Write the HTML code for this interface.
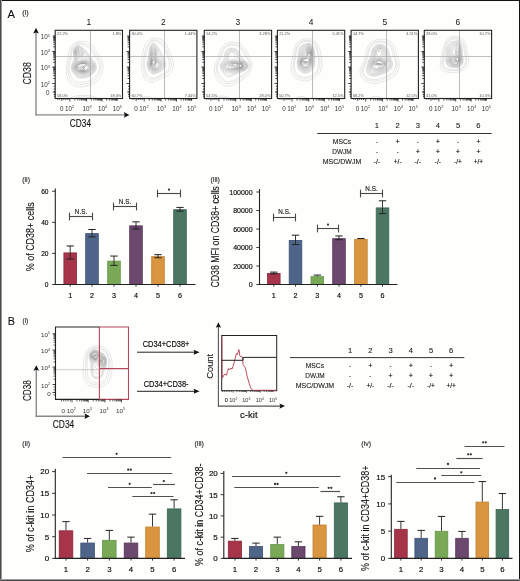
<!DOCTYPE html>
<html><head><meta charset="utf-8"><title>Figure</title>
<style>html,body{margin:0;padding:0;background:#fff;width:520px;height:581px;overflow:hidden}svg text{font-family:"Liberation Sans",sans-serif}svg{will-change:transform}</style>
</head><body>
<svg width="520" height="581" viewBox="0 0 520 581" style="display:block">
<rect width="520" height="581" fill="#fefefd"/>
<g font-family='"Liberation Sans", sans-serif'>
<text x="7.6" y="17.5" font-size="11.2" fill="#111" stroke="#111" stroke-width="0.1">A</text>
<text x="22.2" y="14.9" font-size="7.4" fill="#333" stroke="#333" stroke-width="0.16">(i)</text>
<text x="7.8" y="325.2" font-size="10.8" fill="#111" stroke="#111" stroke-width="0.1">B</text>
<text x="22.5" y="322.6" font-size="6.4" fill="#333" stroke="#333" stroke-width="0.16">(i)</text>
<clipPath id="c0"><rect x="55.2" y="30.3" width="67.3" height="68.2"/></clipPath>
<path d="M80.5 87.1 L79.7 87.1 L79.0 87.1 L78.5 87.0 L77.7 86.9 L77.1 86.8 L76.5 86.7 L75.9 86.5 L75.2 86.3 L74.7 86.2 L74.2 86.0 L73.7 85.8 L73.2 85.5 L72.7 85.2 L72.2 84.9 L71.7 84.5 L71.4 84.3 L71.0 83.9 L70.6 83.5 L70.2 83.2 L69.8 82.8 L69.5 82.3 L69.2 82.0 L68.9 81.5 L68.6 81.0 L68.3 80.5 L68.1 80.0 L67.8 79.5 L67.6 79.0 L67.5 78.5 L67.2 77.8 L67.1 77.3 L66.9 76.8 L66.8 76.0 L66.7 75.5 L66.5 74.8 L66.4 74.3 L66.3 73.5 L66.3 72.8 L66.2 72.0 L66.2 71.3 L66.2 70.5 L66.2 70.0 L66.2 69.3 L66.2 68.5 L66.2 67.8 L66.2 67.3 L66.3 66.5 L66.4 65.8 L66.5 65.3 L66.6 64.5 L66.7 64.0 L66.8 63.3 L67.0 62.8 L67.1 62.0 L67.2 61.5 L67.4 60.8 L67.5 60.3 L67.6 59.5 L67.7 59.0 L67.9 58.3 L68.0 57.8 L68.1 57.0 L68.2 56.3 L68.3 55.8 L68.3 55.0 L68.5 54.4 L68.5 53.8 L68.6 53.0 L68.7 52.5 L68.8 51.8 L69.0 51.3 L69.2 50.5 L69.3 50.0 L69.5 49.5 L69.7 48.9 L70.0 48.3 L70.2 47.8 L70.4 47.3 L70.7 46.8 L71.0 46.4 L71.2 46.0 L71.5 45.5 L71.9 45.0 L72.2 44.7 L72.6 44.3 L73.0 43.9 L73.4 43.5 L73.7 43.3 L74.2 43.0 L74.7 42.7 L75.2 42.4 L75.7 42.2 L76.2 42.0 L76.9 41.8 L77.5 41.7 L78.0 41.5 L78.7 41.4 L79.5 41.3 L80.2 41.3 L81.0 41.3 L81.7 41.3 L82.5 41.4 L83.2 41.4 L84.0 41.5 L84.5 41.6 L85.2 41.7 L85.9 41.8 L86.5 41.9 L87.0 42.1 L87.7 42.3 L88.2 42.5 L88.7 42.7 L89.2 42.9 L89.7 43.2 L90.2 43.5 L90.6 43.8 L91.0 44.0 L91.5 44.4 L91.9 44.8 L92.2 45.1 L92.6 45.5 L93.0 46.0 L93.2 46.4 L93.5 46.8 L93.9 47.3 L94.2 47.8 L94.5 48.3 L94.7 48.7 L95.0 49.1 L95.2 49.6 L95.5 50.0 L95.7 50.5 L96.0 51.0 L96.2 51.5 L96.5 52.0 L96.8 52.5 L97.1 53.0 L97.4 53.5 L97.7 54.0 L98.0 54.4 L98.2 54.8 L98.6 55.3 L98.9 55.8 L99.2 56.2 L99.5 56.5 L99.8 57.0 L100.2 57.5 L100.5 58.0 L100.7 58.5 L101.0 58.9 L101.2 59.4 L101.5 59.9 L101.7 60.5 L101.9 61.0 L102.1 61.5 L102.2 62.0 L102.4 62.8 L102.6 63.3 L102.7 64.0 L102.8 64.5 L102.9 65.3 L102.9 66.0 L102.9 66.8 L102.9 67.5 L102.9 68.3 L102.8 69.0 L102.7 69.7 L102.6 70.3 L102.5 70.9 L102.3 71.5 L102.2 72.0 L102.0 72.7 L101.7 73.3 L101.5 73.8 L101.3 74.3 L101.1 74.8 L100.9 75.3 L100.6 75.8 L100.4 76.3 L100.1 76.8 L99.8 77.3 L99.5 77.8 L99.2 78.2 L99.0 78.6 L98.6 79.0 L98.2 79.5 L98.0 79.9 L97.6 80.3 L97.2 80.7 L96.9 81.0 L96.5 81.5 L96.1 81.8 L95.7 82.2 L95.3 82.5 L95.0 82.8 L94.5 83.2 L94.0 83.5 L93.5 83.8 L93.0 84.0 L92.5 84.3 L92.0 84.5 L91.5 84.8 L91.0 85.0 L90.5 85.1 L89.9 85.3 L89.2 85.5 L88.7 85.7 L88.1 85.8 L87.5 86.0 L87.0 86.1 L86.2 86.2 L85.7 86.3 L85.0 86.5 L84.5 86.6 L83.7 86.7 L83.0 86.8 L82.5 86.9 L81.7 86.9 L81.0 87.0 L80.5 87.1Z" fill="none" stroke="#c4c4c4" stroke-width="0.45" clip-path="url(#c0)"/>
<path d="M80.7 84.6 L80.0 84.6 L79.2 84.6 L78.7 84.5 L78.0 84.4 L77.3 84.3 L76.7 84.2 L76.2 84.0 L75.5 83.8 L75.0 83.6 L74.5 83.3 L74.0 83.0 L73.6 82.8 L73.2 82.5 L72.7 82.1 L72.4 81.8 L72.0 81.4 L71.6 81.0 L71.2 80.5 L71.0 80.1 L70.7 79.7 L70.4 79.3 L70.2 78.8 L70.0 78.3 L69.7 77.7 L69.5 77.0 L69.3 76.5 L69.1 76.0 L69.0 75.5 L68.8 74.8 L68.6 74.3 L68.5 73.6 L68.3 73.0 L68.2 72.3 L68.2 71.8 L68.1 71.0 L68.0 70.3 L68.0 69.5 L67.9 69.0 L67.9 68.3 L67.9 67.5 L68.0 67.0 L68.1 66.3 L68.2 65.5 L68.3 65.0 L68.4 64.3 L68.5 63.8 L68.7 63.1 L68.8 62.5 L69.0 62.0 L69.2 61.3 L69.3 60.8 L69.5 60.3 L69.6 59.5 L69.7 59.0 L69.9 58.3 L70.0 57.8 L70.1 57.0 L70.2 56.3 L70.2 55.8 L70.3 55.0 L70.4 54.3 L70.5 53.8 L70.5 53.0 L70.7 52.3 L70.8 51.8 L70.9 51.0 L71.0 50.5 L71.2 50.0 L71.4 49.3 L71.6 48.8 L71.8 48.3 L72.1 47.8 L72.3 47.3 L72.6 46.8 L73.0 46.3 L73.2 46.0 L73.6 45.5 L74.0 45.2 L74.4 44.8 L74.7 44.5 L75.2 44.2 L75.7 43.9 L76.2 43.7 L76.7 43.5 L77.4 43.3 L78.0 43.2 L78.7 43.1 L79.2 43.0 L80.0 43.0 L80.5 43.1 L81.2 43.1 L82.0 43.2 L82.5 43.3 L83.2 43.5 L83.7 43.6 L84.5 43.8 L85.0 43.9 L85.6 44.0 L86.2 44.2 L86.7 44.4 L87.2 44.6 L87.8 44.8 L88.3 45.0 L88.7 45.3 L89.2 45.6 L89.7 45.9 L90.2 46.3 L90.5 46.6 L90.9 47.0 L91.2 47.4 L91.5 47.8 L91.9 48.3 L92.2 48.7 L92.5 49.1 L92.7 49.5 L93.0 50.0 L93.3 50.5 L93.6 51.0 L93.9 51.5 L94.2 52.0 L94.4 52.5 L94.7 53.0 L95.0 53.5 L95.2 53.9 L95.5 54.3 L95.8 54.8 L96.1 55.3 L96.4 55.8 L96.7 56.2 L97.0 56.5 L97.3 57.0 L97.7 57.5 L98.0 58.0 L98.2 58.3 L98.5 58.8 L98.8 59.3 L99.1 59.8 L99.3 60.3 L99.6 60.8 L99.8 61.3 L100.0 61.8 L100.2 62.4 L100.4 63.0 L100.5 63.5 L100.7 64.3 L100.7 64.8 L100.8 65.5 L100.9 66.3 L100.9 67.0 L100.8 67.8 L100.8 68.5 L100.7 69.1 L100.6 69.8 L100.4 70.3 L100.2 71.0 L100.1 71.5 L99.9 72.0 L99.7 72.5 L99.5 73.1 L99.2 73.7 L99.0 74.2 L98.7 74.7 L98.5 75.1 L98.2 75.5 L97.9 76.0 L97.6 76.5 L97.2 77.0 L97.0 77.4 L96.6 77.8 L96.2 78.3 L96.0 78.6 L95.6 79.0 L95.2 79.4 L94.8 79.8 L94.5 80.1 L94.0 80.5 L93.7 80.8 L93.2 81.1 L92.7 81.5 L92.2 81.8 L91.7 82.0 L91.2 82.3 L90.7 82.5 L90.2 82.7 L89.7 82.9 L89.1 83.0 L88.5 83.3 L88.0 83.4 L87.3 83.5 L86.7 83.7 L86.1 83.8 L85.5 83.9 L84.8 84.0 L84.2 84.2 L83.5 84.3 L83.0 84.4 L82.2 84.4 L81.5 84.5 L80.9 84.5Z" fill="none" stroke="#c4c4c4" stroke-width="0.45" clip-path="url(#c0)"/>
<path d="M82.2 82.3 L81.5 82.4 L80.7 82.4 L80.0 82.4 L79.2 82.4 L78.5 82.3 L78.0 82.2 L77.3 82.0 L76.7 81.9 L76.2 81.7 L75.7 81.5 L75.2 81.2 L74.7 80.9 L74.2 80.5 L73.9 80.3 L73.5 79.8 L73.2 79.5 L72.8 79.0 L72.5 78.6 L72.2 78.2 L72.0 77.7 L71.7 77.3 L71.5 76.8 L71.2 76.3 L71.0 75.7 L70.7 75.2 L70.5 74.6 L70.2 74.1 L70.0 73.5 L69.8 73.0 L69.6 72.5 L69.4 72.0 L69.3 71.3 L69.2 70.8 L69.1 70.0 L69.0 69.3 L68.9 68.8 L68.9 68.0 L69.0 67.5 L69.0 66.8 L69.1 66.0 L69.2 65.5 L69.3 64.8 L69.5 64.3 L69.7 63.5 L69.8 63.0 L70.0 62.5 L70.2 61.8 L70.4 61.3 L70.5 60.8 L70.7 60.2 L70.9 59.5 L71.0 59.0 L71.1 58.3 L71.2 57.8 L71.3 57.0 L71.4 56.3 L71.4 55.5 L71.4 54.8 L71.5 54.3 L71.5 53.5 L71.6 52.8 L71.7 52.0 L71.8 51.5 L71.9 50.8 L72.0 50.3 L72.2 49.8 L72.5 49.1 L72.7 48.5 L72.9 48.0 L73.1 47.5 L73.4 47.0 L73.7 46.7 L74.0 46.3 L74.4 45.8 L74.7 45.5 L75.2 45.1 L75.7 44.8 L76.2 44.5 L76.7 44.3 L77.2 44.2 L77.8 44.0 L78.5 44.0 L79.2 43.9 L80.0 44.0 L80.5 44.0 L81.2 44.2 L81.7 44.3 L82.4 44.5 L83.0 44.8 L83.5 45.0 L84.0 45.3 L84.5 45.5 L85.0 45.7 L85.5 45.9 L86.0 46.1 L86.5 46.3 L87.1 46.5 L87.5 46.8 L88.0 47.0 L88.5 47.4 L89.0 47.8 L89.3 48.0 L89.7 48.5 L90.0 48.8 L90.4 49.3 L90.7 49.6 L91.0 50.0 L91.4 50.5 L91.7 51.0 L92.0 51.4 L92.2 51.8 L92.5 52.3 L92.8 52.8 L93.1 53.3 L93.4 53.8 L93.7 54.3 L94.0 54.7 L94.2 55.1 L94.5 55.5 L94.8 56.0 L95.2 56.5 L95.5 56.9 L95.7 57.3 L96.1 57.8 L96.4 58.3 L96.7 58.7 L97.0 59.1 L97.2 59.5 L97.5 60.0 L97.8 60.5 L98.1 61.0 L98.3 61.5 L98.5 62.0 L98.7 62.5 L99.0 63.2 L99.1 63.8 L99.3 64.3 L99.4 65.0 L99.5 65.5 L99.5 66.3 L99.5 67.0 L99.5 67.8 L99.4 68.3 L99.3 69.0 L99.2 69.5 L99.0 70.3 L98.8 70.8 L98.6 71.3 L98.4 71.8 L98.1 72.3 L97.9 72.8 L97.6 73.3 L97.3 73.8 L97.0 74.3 L96.7 74.7 L96.4 75.0 L96.1 75.5 L95.7 76.0 L95.5 76.3 L95.0 76.8 L94.7 77.2 L94.3 77.5 L94.0 77.9 L93.6 78.3 L93.2 78.6 L92.7 79.0 L92.3 79.3 L92.0 79.6 L91.5 79.9 L91.0 80.1 L90.5 80.4 L90.0 80.6 L89.5 80.8 L88.7 81.0 L88.2 81.2 L87.7 81.3 L87.0 81.5 L86.5 81.6 L85.7 81.8 L85.2 81.9 L84.5 82.0 L84.0 82.1 L83.2 82.2 L82.5 82.3Z" fill="none" stroke="#c4c4c4" stroke-width="0.45" clip-path="url(#c0)"/>
<path d="M82.2 78.1 L81.5 78.1 L80.7 78.1 L80.0 78.1 L79.5 78.0 L78.7 77.9 L78.2 77.8 L77.5 77.5 L77.1 77.3 L76.7 77.0 L76.2 76.6 L75.9 76.3 L75.5 75.8 L75.2 75.5 L74.8 75.0 L74.5 74.6 L74.2 74.3 L73.9 73.8 L73.5 73.3 L73.2 72.9 L73.0 72.5 L72.7 72.0 L72.4 71.5 L72.2 71.0 L71.9 70.5 L71.7 69.9 L71.5 69.3 L71.4 68.8 L71.3 68.0 L71.3 67.3 L71.3 66.5 L71.5 65.8 L71.6 65.3 L71.7 64.8 L72.0 64.2 L72.2 63.7 L72.5 63.1 L72.7 62.6 L73.0 62.1 L73.2 61.6 L73.5 61.1 L73.6 60.5 L73.8 60.0 L73.9 59.3 L74.0 58.8 L74.0 58.3 L73.9 57.5 L73.8 56.8 L73.7 56.3 L73.6 55.5 L73.5 54.8 L73.4 54.3 L73.4 53.5 L73.3 52.8 L73.4 52.0 L73.4 51.3 L73.5 50.8 L73.6 50.0 L73.8 49.5 L74.0 49.0 L74.2 48.4 L74.5 47.9 L74.7 47.5 L75.1 47.0 L75.5 46.6 L75.8 46.3 L76.2 46.0 L76.7 45.8 L77.5 45.6 L78.0 45.5 L78.5 45.6 L79.2 45.8 L79.7 45.9 L80.2 46.2 L80.7 46.4 L81.2 46.8 L81.6 47.0 L82.0 47.3 L82.5 47.8 L82.8 48.0 L83.2 48.4 L83.6 48.8 L84.0 49.1 L84.5 49.5 L84.8 49.8 L85.2 50.1 L85.7 50.5 L86.0 50.8 L86.4 51.3 L86.7 51.6 L87.1 52.0 L87.4 52.5 L87.7 52.9 L88.0 53.3 L88.4 53.8 L88.7 54.2 L89.0 54.6 L89.3 55.0 L89.6 55.5 L90.0 56.0 L90.2 56.3 L90.5 56.8 L90.9 57.3 L91.2 57.6 L91.6 58.0 L92.0 58.5 L92.2 58.8 L92.6 59.3 L93.0 59.7 L93.3 60.0 L93.7 60.5 L94.0 60.9 L94.3 61.3 L94.6 61.8 L95.0 62.3 L95.2 62.7 L95.5 63.2 L95.7 63.7 L95.9 64.3 L96.1 64.8 L96.2 65.3 L96.3 66.0 L96.4 66.8 L96.3 67.5 L96.2 68.3 L96.1 68.8 L96.0 69.3 L95.7 70.0 L95.5 70.5 L95.2 71.0 L95.0 71.4 L94.7 71.8 L94.3 72.3 L94.0 72.8 L93.7 73.1 L93.3 73.5 L93.0 73.9 L92.5 74.3 L92.2 74.6 L91.7 75.0 L91.3 75.3 L91.0 75.6 L90.5 75.9 L90.0 76.2 L89.5 76.5 L89.0 76.7 L88.5 76.9 L88.0 77.1 L87.2 77.3 L86.7 77.4 L86.0 77.5 L85.5 77.7 L84.7 77.8 L84.2 77.8 L83.5 77.9 L82.7 78.0 L82.2 78.1Z" fill="none" stroke="#c3c3c3" stroke-width="0.45" clip-path="url(#c0)"/>
<path d="M83.5 77.3 L82.7 77.4 L82.0 77.4 L81.2 77.5 L80.5 77.4 L79.7 77.4 L79.0 77.3 L78.5 77.2 L78.0 77.0 L77.5 76.8 L77.0 76.4 L76.5 76.0 L76.2 75.7 L75.8 75.3 L75.5 74.9 L75.1 74.5 L74.7 74.0 L74.5 73.7 L74.1 73.3 L73.7 72.8 L73.5 72.4 L73.2 72.0 L72.9 71.5 L72.7 71.0 L72.4 70.5 L72.2 70.0 L72.0 69.3 L71.8 68.8 L71.7 68.0 L71.7 67.3 L71.8 66.5 L71.9 65.8 L72.0 65.3 L72.2 64.8 L72.5 64.2 L72.7 63.6 L73.0 63.1 L73.2 62.6 L73.5 62.2 L73.7 61.7 L74.0 61.1 L74.2 60.5 L74.3 60.0 L74.4 59.3 L74.4 58.5 L74.3 57.8 L74.2 57.0 L74.1 56.5 L74.0 55.8 L73.9 55.3 L73.8 54.5 L73.7 54.0 L73.6 53.3 L73.6 52.5 L73.6 51.8 L73.7 51.2 L73.8 50.5 L74.0 49.9 L74.1 49.3 L74.3 48.8 L74.6 48.3 L74.9 47.8 L75.2 47.3 L75.5 47.0 L76.0 46.6 L76.4 46.3 L77.0 46.1 L77.5 45.9 L78.2 45.9 L78.8 46.0 L79.5 46.3 L80.0 46.5 L80.5 46.8 L80.9 47.0 L81.2 47.3 L81.7 47.7 L82.1 48.0 L82.5 48.3 L82.9 48.8 L83.2 49.1 L83.6 49.5 L84.0 49.9 L84.4 50.3 L84.7 50.6 L85.2 51.0 L85.5 51.3 L85.9 51.8 L86.2 52.2 L86.5 52.5 L86.9 53.0 L87.2 53.5 L87.5 53.8 L87.8 54.3 L88.2 54.8 L88.5 55.2 L88.7 55.5 L89.1 56.0 L89.5 56.5 L89.7 56.9 L90.1 57.3 L90.5 57.7 L90.7 58.0 L91.2 58.5 L91.5 58.9 L91.8 59.3 L92.2 59.7 L92.5 60.0 L93.0 60.5 L93.2 60.8 L93.6 61.3 L94.0 61.7 L94.2 62.1 L94.5 62.5 L94.8 63.0 L95.1 63.5 L95.3 64.0 L95.5 64.5 L95.7 65.3 L95.8 65.8 L95.8 66.5 L95.8 67.3 L95.8 68.0 L95.7 68.5 L95.5 69.2 L95.2 69.8 L95.0 70.3 L94.7 70.8 L94.5 71.3 L94.2 71.6 L93.9 72.0 L93.5 72.5 L93.2 72.9 L92.8 73.3 L92.5 73.6 L92.0 74.0 L91.7 74.3 L91.2 74.7 L90.7 75.0 L90.3 75.3 L89.9 75.5 L89.5 75.8 L89.0 76.1 L88.4 76.3 L87.7 76.5 L87.2 76.7 L86.6 76.8 L86.0 76.9 L85.4 77.0 L84.7 77.2 L84.0 77.3 L83.5 77.3Z" fill="none" stroke="#c1c1c1" stroke-width="0.45" clip-path="url(#c0)"/>
<path d="M84.2 76.6 L83.5 76.6 L82.7 76.7 L82.0 76.7 L81.2 76.7 L80.5 76.7 L79.7 76.5 L79.2 76.4 L78.6 76.3 L78.0 76.1 L77.5 75.9 L77.0 75.5 L76.7 75.3 L76.2 74.8 L76.0 74.5 L75.5 74.0 L75.2 73.7 L74.8 73.3 L74.5 72.8 L74.2 72.5 L73.9 72.0 L73.5 71.5 L73.3 71.0 L73.0 70.5 L72.8 70.0 L72.6 69.5 L72.4 69.0 L72.3 68.3 L72.2 67.5 L72.2 66.8 L72.3 66.0 L72.5 65.5 L72.7 64.8 L72.9 64.3 L73.2 63.8 L73.4 63.3 L73.7 62.8 L74.0 62.3 L74.2 61.8 L74.5 61.3 L74.7 60.8 L74.8 60.3 L75.0 59.7 L75.0 59.0 L75.0 58.5 L74.8 57.8 L74.7 57.2 L74.5 56.5 L74.4 56.0 L74.2 55.3 L74.1 54.8 L74.0 54.0 L74.0 53.3 L73.9 52.8 L73.9 52.0 L74.0 51.5 L74.1 50.8 L74.2 50.2 L74.4 49.5 L74.6 49.0 L74.8 48.5 L75.1 48.0 L75.4 47.5 L75.7 47.3 L76.2 46.9 L76.7 46.6 L77.2 46.4 L78.0 46.3 L78.7 46.5 L79.2 46.7 L79.7 46.9 L80.2 47.2 L80.7 47.5 L81.1 47.8 L81.5 48.1 L81.9 48.5 L82.2 48.8 L82.7 49.3 L83.0 49.6 L83.3 50.0 L83.7 50.5 L84.0 50.8 L84.5 51.3 L84.7 51.6 L85.1 52.0 L85.5 52.5 L85.7 52.9 L86.0 53.3 L86.3 53.8 L86.7 54.3 L87.0 54.6 L87.3 55.0 L87.6 55.5 L88.0 56.0 L88.2 56.3 L88.6 56.8 L89.0 57.2 L89.3 57.5 L89.7 58.0 L90.0 58.3 L90.5 58.8 L90.7 59.1 L91.2 59.5 L91.5 59.8 L91.9 60.3 L92.2 60.6 L92.6 61.0 L93.0 61.4 L93.3 61.8 L93.6 62.3 L94.0 62.8 L94.2 63.2 L94.5 63.6 L94.7 64.1 L94.9 64.8 L95.1 65.3 L95.2 65.9 L95.3 66.5 L95.3 67.3 L95.2 67.9 L95.1 68.5 L94.9 69.0 L94.7 69.6 L94.5 70.2 L94.2 70.6 L93.9 71.0 L93.6 71.5 L93.2 72.0 L93.0 72.3 L92.5 72.8 L92.2 73.1 L91.7 73.5 L91.4 73.8 L91.0 74.1 L90.5 74.5 L90.0 74.8 L89.6 75.0 L89.1 75.3 L88.6 75.5 L88.0 75.8 L87.5 75.9 L87.0 76.1 L86.2 76.2 L85.7 76.3 L85.0 76.5 L84.3 76.5Z" fill="none" stroke="#bfbfbf" stroke-width="0.45" clip-path="url(#c0)"/>
<path d="M86.0 75.6 L85.2 75.7 L84.5 75.7 L83.7 75.7 L83.0 75.7 L82.2 75.7 L81.5 75.7 L80.7 75.6 L80.2 75.5 L79.5 75.4 L79.0 75.2 L78.2 75.1 L77.7 74.9 L77.2 74.8 L76.7 74.5 L76.3 74.0 L76.0 73.7 L75.6 73.3 L75.2 72.9 L74.9 72.5 L74.5 72.0 L74.2 71.6 L74.0 71.3 L73.7 70.8 L73.4 70.3 L73.2 69.8 L73.0 69.2 L72.8 68.5 L72.7 67.8 L72.7 67.3 L72.7 66.8 L72.8 66.0 L73.0 65.5 L73.2 64.9 L73.4 64.3 L73.7 63.8 L74.0 63.3 L74.2 62.9 L74.5 62.4 L74.7 62.0 L75.0 61.5 L75.2 61.0 L75.4 60.3 L75.5 59.8 L75.5 59.0 L75.5 58.3 L75.3 57.8 L75.2 57.3 L75.0 56.5 L74.8 56.0 L74.7 55.5 L74.5 54.8 L74.4 54.3 L74.3 53.5 L74.2 52.8 L74.2 52.0 L74.3 51.3 L74.4 50.5 L74.5 50.0 L74.7 49.5 L75.0 48.9 L75.2 48.5 L75.5 48.0 L75.9 47.5 L76.2 47.3 L76.7 47.0 L77.3 46.8 L78.0 46.8 L78.5 46.9 L79.0 47.1 L79.5 47.4 L80.0 47.7 L80.5 48.0 L80.8 48.3 L81.2 48.6 L81.7 49.0 L82.0 49.3 L82.4 49.8 L82.7 50.1 L83.0 50.5 L83.4 51.0 L83.7 51.4 L84.0 51.8 L84.3 52.3 L84.5 53.0 L84.6 53.5 L84.8 54.0 L85.0 54.5 L85.4 55.0 L85.7 55.4 L86.2 55.8 L86.6 56.0 L87.1 56.3 L87.5 56.7 L87.8 57.0 L88.2 57.5 L88.5 57.8 L89.0 58.3 L89.2 58.5 L89.7 59.0 L90.0 59.3 L90.5 59.7 L90.8 60.0 L91.2 60.4 L91.6 60.8 L92.0 61.2 L92.3 61.5 L92.7 62.0 L93.0 62.3 L93.3 62.8 L93.6 63.3 L93.9 63.8 L94.2 64.3 L94.4 64.8 L94.5 65.3 L94.7 66.0 L94.7 66.5 L94.7 67.3 L94.7 67.8 L94.5 68.5 L94.4 69.0 L94.2 69.5 L93.9 70.0 L93.6 70.5 L93.3 71.0 L93.0 71.5 L92.7 71.8 L92.2 72.3 L92.0 72.6 L91.5 73.0 L91.1 73.3 L90.7 73.6 L90.2 74.0 L89.7 74.3 L89.3 74.5 L88.8 74.8 L88.3 75.0 L87.7 75.2 L87.2 75.3 L86.5 75.5 L86.0 75.6Z" fill="none" stroke="#bcbcbc" stroke-width="0.45" clip-path="url(#c0)"/>
<path d="M85.0 74.8 L84.2 74.9 L83.5 74.9 L82.7 74.9 L82.0 74.9 L81.3 74.8 L80.7 74.7 L80.0 74.6 L79.5 74.5 L78.7 74.3 L78.2 74.2 L77.7 74.0 L77.0 73.8 L76.5 73.5 L76.2 73.2 L75.8 72.8 L75.5 72.4 L75.1 72.0 L74.7 71.5 L74.5 71.2 L74.2 70.8 L73.9 70.3 L73.7 69.8 L73.5 69.2 L73.3 68.5 L73.2 68.0 L73.2 67.3 L73.2 66.7 L73.3 66.0 L73.5 65.5 L73.7 64.8 L73.9 64.3 L74.2 63.8 L74.5 63.4 L74.7 62.9 L75.0 62.5 L75.2 62.0 L75.5 61.5 L75.8 61.0 L76.0 60.5 L76.1 59.8 L76.1 59.0 L76.0 58.3 L75.8 57.8 L75.7 57.3 L75.5 56.7 L75.2 56.0 L75.0 55.5 L74.9 55.0 L74.7 54.3 L74.6 53.8 L74.5 53.0 L74.5 52.3 L74.6 51.5 L74.7 50.8 L74.8 50.3 L75.0 49.7 L75.2 49.1 L75.5 48.7 L75.7 48.3 L76.2 47.8 L76.5 47.5 L77.0 47.3 L77.7 47.2 L78.2 47.3 L78.8 47.5 L79.2 47.9 L79.7 48.2 L80.1 48.5 L80.5 48.8 L81.0 49.1 L81.5 49.5 L81.7 49.8 L82.2 50.3 L82.5 50.7 L82.7 51.0 L83.1 51.5 L83.3 52.0 L83.4 52.8 L83.4 53.5 L83.5 54.0 L83.5 54.8 L83.6 55.5 L83.8 56.0 L84.0 56.5 L84.4 57.0 L84.7 57.3 L85.2 57.6 L85.8 57.8 L86.5 58.0 L87.0 58.2 L87.5 58.4 L88.0 58.6 L88.5 58.8 L89.0 59.2 L89.4 59.5 L89.7 59.8 L90.2 60.3 L90.5 60.5 L91.0 61.0 L91.3 61.3 L91.7 61.7 L92.0 62.0 L92.5 62.5 L92.7 62.8 L93.0 63.3 L93.3 63.8 L93.6 64.3 L93.8 64.8 L94.0 65.3 L94.1 66.0 L94.2 66.6 L94.2 67.3 L94.1 67.8 L94.0 68.5 L93.8 69.0 L93.6 69.5 L93.3 70.0 L93.0 70.5 L92.7 71.0 L92.5 71.3 L92.0 71.8 L91.7 72.1 L91.3 72.5 L91.0 72.8 L90.5 73.2 L90.0 73.5 L89.5 73.8 L89.0 74.0 L88.5 74.1 L87.8 74.3 L87.2 74.5 L86.7 74.6 L86.0 74.7 L85.2 74.8Z" fill="none" stroke="#b8b8b8" stroke-width="0.45" clip-path="url(#c0)"/>
<path d="M85.5 74.1 L84.7 74.2 L84.0 74.2 L83.2 74.2 L82.5 74.2 L81.7 74.2 L81.0 74.1 L80.5 74.0 L79.7 73.9 L79.2 73.8 L78.5 73.6 L78.0 73.4 L77.5 73.3 L76.9 73.0 L76.5 72.8 L76.0 72.3 L75.7 72.0 L75.3 71.5 L75.0 71.1 L74.7 70.7 L74.5 70.3 L74.2 69.8 L74.0 69.2 L73.8 68.5 L73.7 68.0 L73.6 67.3 L73.7 66.5 L73.8 66.0 L74.0 65.5 L74.2 64.8 L74.4 64.3 L74.7 63.8 L75.0 63.4 L75.2 63.0 L75.5 62.5 L75.8 62.0 L76.1 61.5 L76.4 61.0 L76.6 60.5 L76.7 60.0 L76.8 59.3 L76.7 58.7 L76.5 58.0 L76.3 57.5 L76.1 57.0 L75.8 56.5 L75.6 56.0 L75.4 55.5 L75.2 54.8 L75.1 54.3 L74.9 53.8 L74.8 53.0 L74.8 52.3 L74.8 51.5 L75.0 50.8 L75.1 50.3 L75.2 49.8 L75.5 49.3 L75.7 48.8 L76.1 48.3 L76.5 48.0 L77.0 47.8 L77.7 47.7 L78.2 47.8 L78.7 48.1 L79.2 48.5 L79.5 48.9 L79.9 49.3 L80.3 49.5 L80.8 49.8 L81.2 50.1 L81.7 50.5 L82.0 50.9 L82.3 51.3 L82.5 51.8 L82.6 52.5 L82.6 53.3 L82.6 54.0 L82.6 54.8 L82.5 55.5 L82.5 56.3 L82.5 57.0 L82.7 57.6 L83.1 58.0 L83.5 58.3 L84.0 58.6 L84.6 58.8 L85.2 59.0 L85.7 59.1 L86.5 59.3 L87.0 59.4 L87.5 59.6 L88.0 59.8 L88.6 60.0 L89.2 60.3 L89.6 60.5 L90.0 60.8 L90.5 61.2 L90.8 61.5 L91.2 61.9 L91.6 62.3 L92.0 62.7 L92.2 63.0 L92.6 63.5 L92.9 64.0 L93.2 64.5 L93.4 65.0 L93.5 65.5 L93.7 66.3 L93.7 66.8 L93.7 67.3 L93.6 68.0 L93.5 68.6 L93.2 69.3 L93.0 69.8 L92.7 70.2 L92.5 70.6 L92.1 71.0 L91.7 71.5 L91.4 71.8 L91.0 72.2 L90.5 72.5 L90.0 72.8 L89.5 73.0 L89.0 73.2 L88.5 73.4 L87.9 73.5 L87.2 73.7 L86.7 73.9 L86.0 74.0 L85.5 74.1Z" fill="none" stroke="#b4b4b4" stroke-width="0.45" clip-path="url(#c0)"/>
<path d="M84.7 73.6 L84.0 73.6 L83.2 73.6 L82.5 73.6 L81.7 73.6 L81.2 73.5 L80.5 73.4 L79.8 73.3 L79.2 73.2 L78.7 73.0 L78.0 72.8 L77.5 72.6 L77.0 72.4 L76.5 72.2 L76.1 71.8 L75.7 71.3 L75.5 71.0 L75.1 70.5 L74.8 70.0 L74.6 69.5 L74.4 69.0 L74.2 68.4 L74.1 67.8 L74.1 67.0 L74.2 66.3 L74.3 65.8 L74.5 65.3 L74.7 64.8 L75.0 64.3 L75.2 63.8 L75.5 63.3 L75.9 62.8 L76.2 62.3 L76.5 62.0 L76.7 61.5 L77.0 61.0 L77.2 60.5 L77.5 59.9 L77.5 59.3 L77.4 58.8 L77.2 58.2 L77.0 57.7 L76.7 57.2 L76.5 56.8 L76.2 56.3 L75.9 55.8 L75.7 55.2 L75.5 54.5 L75.3 54.0 L75.2 53.4 L75.1 52.8 L75.1 52.0 L75.2 51.3 L75.3 50.8 L75.5 50.1 L75.7 49.5 L76.0 49.1 L76.2 48.8 L76.7 48.4 L77.2 48.2 L78.0 48.2 L78.4 48.5 L78.7 48.8 L79.0 49.3 L79.4 49.8 L79.7 50.1 L80.2 50.5 L80.7 50.7 L81.2 51.0 L81.6 51.3 L81.8 51.8 L81.9 52.5 L81.9 53.3 L81.9 54.0 L81.8 54.8 L81.7 55.3 L81.5 56.0 L81.4 56.5 L81.3 57.3 L81.2 58.0 L81.5 58.6 L81.9 59.0 L82.5 59.3 L83.0 59.4 L83.5 59.6 L84.2 59.7 L84.7 59.8 L85.5 60.0 L86.0 60.1 L86.7 60.3 L87.2 60.4 L87.7 60.6 L88.2 60.8 L88.8 61.0 L89.3 61.3 L89.7 61.5 L90.2 61.8 L90.7 62.2 L91.1 62.5 L91.5 62.9 L91.8 63.3 L92.2 63.8 L92.5 64.2 L92.7 64.7 L92.9 65.3 L93.1 65.8 L93.2 66.5 L93.2 67.0 L93.2 67.5 L93.0 68.3 L92.9 68.8 L92.7 69.3 L92.4 69.8 L92.1 70.3 L91.7 70.8 L91.4 71.0 L91.0 71.4 L90.5 71.7 L90.0 72.0 L89.5 72.3 L89.0 72.5 L88.5 72.7 L88.0 72.9 L87.4 73.0 L86.7 73.2 L86.2 73.3 L85.5 73.5 L84.8 73.5Z" fill="none" stroke="#aeaeae" stroke-width="0.45" clip-path="url(#c0)"/>
<path d="M79.0 58.4 L78.2 58.4 L78.0 57.9 L77.7 57.5 L77.3 57.0 L77.0 56.6 L76.7 56.2 L76.4 55.8 L76.2 55.3 L75.9 54.8 L75.7 54.1 L75.6 53.5 L75.5 52.9 L75.4 52.3 L75.4 51.5 L75.5 51.0 L75.7 50.4 L75.9 49.8 L76.2 49.4 L76.5 49.0 L77.0 48.7 L77.7 48.7 L78.2 49.0 L78.5 49.3 L78.7 49.8 L79.0 50.3 L79.3 50.8 L79.7 51.3 L80.2 51.5 L80.7 51.7 L81.0 52.3 L81.0 52.8 L81.1 53.5 L81.0 54.3 L80.9 54.8 L80.7 55.5 L80.6 56.0 L80.3 56.5 L80.1 57.0 L79.8 57.5 L79.5 58.0 L79.1 58.3ZM84.5 73.1 L83.7 73.1 L83.0 73.1 L82.2 73.1 L81.6 73.0 L81.0 73.0 L80.2 72.9 L79.7 72.7 L79.0 72.6 L78.5 72.4 L78.0 72.2 L77.5 72.0 L77.0 71.8 L76.5 71.5 L76.0 71.0 L75.7 70.6 L75.5 70.3 L75.2 69.8 L74.9 69.3 L74.7 68.6 L74.6 68.0 L74.5 67.3 L74.6 66.5 L74.7 66.0 L74.9 65.3 L75.2 64.8 L75.4 64.3 L75.7 63.8 L76.0 63.5 L76.2 63.0 L76.6 62.5 L77.0 62.1 L77.2 61.8 L77.5 61.3 L77.9 60.8 L78.2 60.4 L78.7 60.1 L79.2 59.9 L80.0 59.9 L80.7 60.0 L81.2 60.1 L82.0 60.2 L82.6 60.3 L83.2 60.4 L84.0 60.5 L84.5 60.5 L85.2 60.7 L85.8 60.8 L86.5 61.0 L87.0 61.1 L87.5 61.3 L88.2 61.5 L88.7 61.8 L89.2 62.0 L89.6 62.3 L90.0 62.5 L90.5 62.9 L90.9 63.3 L91.2 63.6 L91.6 64.0 L92.0 64.5 L92.2 64.9 L92.5 65.4 L92.6 66.0 L92.7 66.5 L92.7 67.3 L92.6 67.8 L92.5 68.5 L92.2 69.0 L92.0 69.5 L91.7 69.8 L91.2 70.3 L91.0 70.6 L90.5 71.0 L90.0 71.3 L89.6 71.5 L89.1 71.8 L88.5 72.0 L88.0 72.3 L87.5 72.5 L87.0 72.6 L86.2 72.8 L85.7 72.9 L85.0 73.0 L84.5 73.1Z" fill="none" stroke="#a7a7a7" stroke-width="0.45" clip-path="url(#c0)"/>
<path d="M78.7 56.9 L78.1 56.8 L77.7 56.5 L77.3 56.0 L77.0 55.7 L76.7 55.3 L76.4 54.8 L76.2 54.3 L76.0 53.7 L75.8 53.0 L75.7 52.3 L75.8 51.5 L75.9 50.8 L76.1 50.3 L76.4 49.8 L76.7 49.5 L77.2 49.3 L77.7 49.4 L78.1 49.8 L78.4 50.3 L78.7 50.8 L78.9 51.3 L79.1 51.8 L79.5 52.2 L79.7 52.7 L79.9 53.3 L80.0 53.8 L80.0 54.5 L79.9 55.0 L79.7 55.6 L79.5 56.1 L79.1 56.5 L78.7 56.9ZM84.5 72.6 L83.7 72.6 L83.0 72.6 L82.2 72.6 L81.5 72.6 L81.0 72.5 L80.2 72.4 L79.7 72.2 L79.0 72.0 L78.5 71.9 L78.0 71.7 L77.5 71.5 L77.0 71.2 L76.5 70.9 L76.2 70.5 L75.8 70.0 L75.5 69.5 L75.3 69.0 L75.2 68.5 L75.0 67.8 L75.0 67.0 L75.1 66.3 L75.2 65.8 L75.5 65.2 L75.7 64.7 L76.0 64.3 L76.2 63.8 L76.6 63.3 L77.0 62.8 L77.2 62.5 L77.6 62.0 L78.0 61.8 L78.5 61.5 L79.0 61.3 L79.7 61.1 L80.2 61.0 L81.0 61.0 L81.7 61.0 L82.5 61.0 L83.1 61.0 L83.7 61.1 L84.5 61.2 L85.1 61.3 L85.7 61.4 L86.3 61.5 L87.0 61.8 L87.5 61.9 L88.0 62.1 L88.5 62.4 L89.0 62.7 L89.5 63.0 L89.9 63.3 L90.2 63.5 L90.7 64.0 L91.0 64.3 L91.3 64.8 L91.6 65.3 L91.8 65.8 L92.0 66.5 L92.0 67.0 L91.9 67.5 L91.7 68.3 L91.5 68.8 L91.2 69.3 L91.0 69.6 L90.6 70.0 L90.2 70.4 L89.7 70.8 L89.3 71.0 L88.8 71.3 L88.3 71.5 L87.7 71.8 L87.2 72.0 L86.7 72.1 L86.1 72.3 L85.5 72.4 L84.7 72.5Z" fill="none" stroke="#9e9e9e" stroke-width="0.45" clip-path="url(#c0)"/>
<path d="M78.7 55.6 L78.0 55.6 L77.5 55.3 L77.2 55.0 L76.8 54.5 L76.5 54.0 L76.3 53.5 L76.2 53.0 L76.1 52.3 L76.2 51.5 L76.3 51.0 L76.5 50.5 L76.9 50.0 L77.5 50.0 L77.8 50.3 L78.1 50.8 L78.3 51.3 L78.5 51.8 L78.7 52.4 L79.0 53.0 L79.1 53.5 L79.1 54.3 L79.0 55.0 L78.7 55.5ZM84.7 72.1 L84.0 72.1 L83.2 72.2 L82.5 72.2 L81.7 72.1 L81.1 72.0 L80.5 71.9 L79.9 71.8 L79.2 71.6 L78.7 71.4 L78.2 71.2 L77.7 71.0 L77.2 70.7 L76.7 70.4 L76.3 70.0 L76.0 69.5 L75.8 69.0 L75.6 68.5 L75.5 67.8 L75.5 67.0 L75.6 66.3 L75.7 65.8 L76.0 65.2 L76.2 64.7 L76.5 64.3 L76.8 63.8 L77.1 63.3 L77.5 62.9 L78.0 62.6 L78.5 62.4 L79.0 62.1 L79.5 62.0 L80.1 61.8 L80.7 61.7 L81.5 61.6 L82.2 61.6 L83.0 61.6 L83.7 61.7 L84.5 61.8 L85.0 61.8 L85.7 62.0 L86.2 62.1 L86.8 62.3 L87.4 62.5 L88.0 62.8 L88.4 63.0 L88.8 63.3 L89.2 63.5 L89.7 64.0 L90.0 64.3 L90.5 64.8 L90.7 65.2 L91.0 65.7 L91.1 66.3 L91.2 67.0 L91.1 67.8 L90.9 68.3 L90.7 68.8 L90.4 69.3 L90.0 69.8 L89.7 70.0 L89.2 70.4 L88.7 70.7 L88.2 71.0 L87.7 71.3 L87.2 71.5 L86.7 71.6 L86.1 71.8 L85.5 71.9 L84.9 72.0Z" fill="none" stroke="#959595" stroke-width="0.45" clip-path="url(#c0)"/>
<path d="M77.7 54.1 L77.2 53.9 L77.0 53.5 L76.7 52.9 L76.6 52.3 L76.7 51.6 L77.0 51.1 L77.3 51.0 L77.7 51.4 L77.9 52.0 L78.0 52.5 L78.1 53.3 L78.0 54.0ZM85.0 71.6 L84.2 71.7 L83.5 71.7 L82.7 71.7 L82.0 71.7 L81.2 71.6 L80.7 71.5 L80.0 71.3 L79.5 71.2 L79.0 71.0 L78.4 70.8 L78.0 70.5 L77.5 70.2 L77.0 69.9 L76.6 69.5 L76.3 69.0 L76.1 68.5 L76.0 67.8 L75.9 67.3 L76.0 66.8 L76.1 66.0 L76.3 65.5 L76.5 65.0 L76.8 64.5 L77.1 64.0 L77.5 63.7 L78.0 63.3 L78.5 63.1 L79.0 62.8 L79.5 62.6 L80.0 62.5 L80.7 62.3 L81.2 62.2 L82.0 62.2 L82.7 62.2 L83.5 62.2 L84.2 62.3 L84.7 62.3 L85.5 62.5 L86.0 62.6 L86.5 62.8 L87.2 63.0 L87.7 63.3 L88.1 63.5 L88.5 63.8 L89.0 64.1 L89.4 64.5 L89.7 64.9 L90.0 65.3 L90.2 65.9 L90.4 66.5 L90.4 67.3 L90.2 68.0 L90.0 68.5 L89.7 69.0 L89.5 69.3 L89.0 69.8 L88.7 70.0 L88.2 70.4 L87.7 70.7 L87.2 70.9 L86.7 71.1 L86.1 71.3 L85.5 71.5 L85.0 71.6Z" fill="none" stroke="#8a8a8a" stroke-width="0.45" clip-path="url(#c0)"/>
<path d="M85.0 71.1 L84.2 71.2 L83.5 71.3 L82.7 71.3 L82.0 71.2 L81.2 71.1 L80.7 71.0 L80.0 70.8 L79.5 70.7 L79.0 70.4 L78.5 70.2 L78.0 69.9 L77.5 69.5 L77.2 69.2 L76.8 68.8 L76.6 68.3 L76.5 67.7 L76.4 67.0 L76.5 66.5 L76.7 65.8 L76.9 65.3 L77.2 64.8 L77.5 64.5 L78.0 64.1 L78.3 63.8 L78.8 63.5 L79.3 63.3 L80.0 63.1 L80.5 62.9 L81.2 62.8 L81.7 62.7 L82.5 62.7 L83.2 62.7 L84.0 62.8 L84.5 62.8 L85.2 63.0 L85.7 63.1 L86.3 63.3 L86.9 63.5 L87.4 63.8 L87.8 64.0 L88.2 64.4 L88.7 64.8 L89.0 65.2 L89.2 65.6 L89.4 66.3 L89.5 66.8 L89.5 67.3 L89.3 68.0 L89.0 68.5 L88.7 69.0 L88.5 69.3 L88.0 69.8 L87.6 70.0 L87.2 70.3 L86.6 70.5 L86.0 70.8 L85.5 71.0 L85.0 71.1Z" fill="none" stroke="#7d7d7d" stroke-width="0.45" clip-path="url(#c0)"/>
<path d="M84.5 70.6 L83.7 70.7 L83.0 70.7 L82.2 70.7 L81.5 70.6 L81.0 70.5 L80.2 70.3 L79.7 70.1 L79.2 69.9 L78.7 69.6 L78.4 69.3 L78.0 68.9 L77.7 68.5 L77.4 68.0 L77.2 67.3 L77.2 66.8 L77.2 66.3 L77.5 65.7 L77.7 65.3 L78.1 64.8 L78.5 64.5 L79.0 64.2 L79.5 63.9 L80.0 63.7 L80.5 63.5 L81.2 63.4 L81.7 63.3 L82.5 63.2 L83.2 63.2 L84.0 63.3 L84.5 63.4 L85.2 63.5 L85.7 63.7 L86.2 63.9 L86.7 64.1 L87.2 64.5 L87.6 64.8 L88.0 65.3 L88.2 65.8 L88.3 66.3 L88.2 67.0 L88.1 67.5 L87.9 68.0 L87.7 68.6 L87.4 69.0 L87.0 69.5 L86.6 69.8 L86.1 70.0 L85.5 70.3 L85.0 70.5 L84.5 70.6ZM84.5 67.8 L84.9 67.3 L84.5 67.0 L83.7 66.9 L83.0 66.9 L82.5 67.2 L82.5 67.6 L83.0 67.9 L83.7 67.9 L84.5 67.8Z" fill="none" stroke="#6f6f6f" stroke-width="0.45" clip-path="url(#c0)"/>
<path d="M83.5 70.1 L82.7 70.1 L82.0 70.1 L81.5 70.0 L80.9 69.8 L80.3 69.5 L79.9 69.3 L79.5 68.9 L79.2 68.5 L78.9 68.0 L78.7 67.5 L78.5 66.9 L78.4 66.3 L78.5 65.8 L78.7 65.3 L79.2 64.8 L79.6 64.5 L80.0 64.3 L80.6 64.0 L81.2 63.9 L81.7 63.8 L82.5 63.7 L83.2 63.7 L83.9 63.8 L84.5 63.9 L85.0 64.0 L85.6 64.3 L86.0 64.5 L86.5 64.9 L86.7 65.3 L86.7 65.8 L86.2 66.1 L85.5 66.2 L84.7 66.1 L84.0 66.1 L83.2 66.1 L82.5 66.2 L82.0 66.3 L81.2 66.5 L80.7 66.8 L80.4 67.0 L80.1 67.5 L80.4 68.0 L80.8 68.3 L81.5 68.5 L82.0 68.7 L82.6 68.8 L83.2 68.9 L84.0 69.0 L84.6 69.0 L85.0 69.3 L84.7 69.7 L84.2 69.9 L83.5 70.0Z" fill="none" stroke="#606060" stroke-width="0.45" clip-path="url(#c0)"/>
<ellipse cx="83.5" cy="99" rx="13.5" ry="3.6" fill="none" stroke="#c4c4c4" stroke-width="0.45" clip-path="url(#c0)"/>
<ellipse cx="83.5" cy="99" rx="9" ry="2.2" fill="none" stroke="#c4c4c4" stroke-width="0.45" clip-path="url(#c0)"/>
<line x1="90.5" y1="30.3" x2="90.5" y2="98.5" stroke="#a8a8a8" stroke-width="0.8"/>
<line x1="55.2" y1="56.5" x2="122.5" y2="56.5" stroke="#b0b0b0" stroke-width="0.8"/>
<rect x="55.2" y="30.3" width="67.3" height="68.2" fill="none" stroke="#222" stroke-width="1.1"/>
<line x1="52.2" y1="83.5" x2="55.2" y2="83.5" stroke="#111" stroke-width="0.75"/>
<line x1="53.2" y1="78.53" x2="55.2" y2="78.53" stroke="#111" stroke-width="0.75"/>
<line x1="53.2" y1="75.63" x2="55.2" y2="75.63" stroke="#111" stroke-width="0.75"/>
<line x1="53.2" y1="73.57" x2="55.2" y2="73.57" stroke="#111" stroke-width="0.75"/>
<line x1="53.2" y1="71.97" x2="55.2" y2="71.97" stroke="#111" stroke-width="0.75"/>
<line x1="53.2" y1="70.66" x2="55.2" y2="70.66" stroke="#111" stroke-width="0.75"/>
<line x1="53.2" y1="69.56" x2="55.2" y2="69.56" stroke="#111" stroke-width="0.75"/>
<line x1="53.2" y1="68.6" x2="55.2" y2="68.6" stroke="#111" stroke-width="0.75"/>
<line x1="53.2" y1="67.75" x2="55.2" y2="67.75" stroke="#111" stroke-width="0.75"/>
<line x1="52.2" y1="67" x2="55.2" y2="67" stroke="#111" stroke-width="0.75"/>
<line x1="53.2" y1="62.33" x2="55.2" y2="62.33" stroke="#111" stroke-width="0.75"/>
<line x1="53.2" y1="59.6" x2="55.2" y2="59.6" stroke="#111" stroke-width="0.75"/>
<line x1="53.2" y1="57.67" x2="55.2" y2="57.67" stroke="#111" stroke-width="0.75"/>
<line x1="53.2" y1="56.17" x2="55.2" y2="56.17" stroke="#111" stroke-width="0.75"/>
<line x1="53.2" y1="54.94" x2="55.2" y2="54.94" stroke="#111" stroke-width="0.75"/>
<line x1="53.2" y1="53.9" x2="55.2" y2="53.9" stroke="#111" stroke-width="0.75"/>
<line x1="53.2" y1="53" x2="55.2" y2="53" stroke="#111" stroke-width="0.75"/>
<line x1="53.2" y1="52.21" x2="55.2" y2="52.21" stroke="#111" stroke-width="0.75"/>
<line x1="52.2" y1="51.5" x2="55.2" y2="51.5" stroke="#111" stroke-width="0.75"/>
<line x1="53.2" y1="46.83" x2="55.2" y2="46.83" stroke="#111" stroke-width="0.75"/>
<line x1="53.2" y1="44.1" x2="55.2" y2="44.1" stroke="#111" stroke-width="0.75"/>
<line x1="53.2" y1="42.17" x2="55.2" y2="42.17" stroke="#111" stroke-width="0.75"/>
<line x1="53.2" y1="40.67" x2="55.2" y2="40.67" stroke="#111" stroke-width="0.75"/>
<line x1="53.2" y1="39.44" x2="55.2" y2="39.44" stroke="#111" stroke-width="0.75"/>
<line x1="53.2" y1="38.4" x2="55.2" y2="38.4" stroke="#111" stroke-width="0.75"/>
<line x1="53.2" y1="37.5" x2="55.2" y2="37.5" stroke="#111" stroke-width="0.75"/>
<line x1="53.2" y1="36.71" x2="55.2" y2="36.71" stroke="#111" stroke-width="0.75"/>
<line x1="52.8" y1="36" x2="55.2" y2="36" stroke="#111" stroke-width="0.75"/>
<line x1="53.7" y1="86.3" x2="55.2" y2="86.3" stroke="#111" stroke-width="0.75"/>
<line x1="53.7" y1="89.1" x2="55.2" y2="89.1" stroke="#111" stroke-width="0.75"/>
<line x1="53.7" y1="91.9" x2="55.2" y2="91.9" stroke="#111" stroke-width="0.75"/>
<line x1="53.7" y1="94.7" x2="55.2" y2="94.7" stroke="#111" stroke-width="0.75"/>
<line x1="52.8" y1="92" x2="55.2" y2="92" stroke="#111" stroke-width="0.75"/>
<line x1="54" y1="94.2" x2="55.2" y2="94.2" stroke="#111" stroke-width="0.75"/>
<line x1="54" y1="96.4" x2="55.2" y2="96.4" stroke="#111" stroke-width="0.75"/>
<line x1="69.8" y1="98.5" x2="69.8" y2="101.5" stroke="#111" stroke-width="0.75"/>
<line x1="74.86" y1="98.5" x2="74.86" y2="100.5" stroke="#111" stroke-width="0.75"/>
<line x1="77.82" y1="98.5" x2="77.82" y2="100.5" stroke="#111" stroke-width="0.75"/>
<line x1="79.91" y1="98.5" x2="79.91" y2="100.5" stroke="#111" stroke-width="0.75"/>
<line x1="81.54" y1="98.5" x2="81.54" y2="100.5" stroke="#111" stroke-width="0.75"/>
<line x1="82.87" y1="98.5" x2="82.87" y2="100.5" stroke="#111" stroke-width="0.75"/>
<line x1="84" y1="98.5" x2="84" y2="100.5" stroke="#111" stroke-width="0.75"/>
<line x1="84.97" y1="98.5" x2="84.97" y2="100.5" stroke="#111" stroke-width="0.75"/>
<line x1="85.83" y1="98.5" x2="85.83" y2="100.5" stroke="#111" stroke-width="0.75"/>
<line x1="86.6" y1="98.5" x2="86.6" y2="101.5" stroke="#111" stroke-width="0.75"/>
<line x1="91.27" y1="98.5" x2="91.27" y2="100.5" stroke="#111" stroke-width="0.75"/>
<line x1="94" y1="98.5" x2="94" y2="100.5" stroke="#111" stroke-width="0.75"/>
<line x1="95.93" y1="98.5" x2="95.93" y2="100.5" stroke="#111" stroke-width="0.75"/>
<line x1="97.43" y1="98.5" x2="97.43" y2="100.5" stroke="#111" stroke-width="0.75"/>
<line x1="98.66" y1="98.5" x2="98.66" y2="100.5" stroke="#111" stroke-width="0.75"/>
<line x1="99.7" y1="98.5" x2="99.7" y2="100.5" stroke="#111" stroke-width="0.75"/>
<line x1="100.6" y1="98.5" x2="100.6" y2="100.5" stroke="#111" stroke-width="0.75"/>
<line x1="101.39" y1="98.5" x2="101.39" y2="100.5" stroke="#111" stroke-width="0.75"/>
<line x1="102.1" y1="98.5" x2="102.1" y2="101.5" stroke="#111" stroke-width="0.75"/>
<line x1="106.65" y1="98.5" x2="106.65" y2="100.5" stroke="#111" stroke-width="0.75"/>
<line x1="109.3" y1="98.5" x2="109.3" y2="100.5" stroke="#111" stroke-width="0.75"/>
<line x1="111.19" y1="98.5" x2="111.19" y2="100.5" stroke="#111" stroke-width="0.75"/>
<line x1="112.65" y1="98.5" x2="112.65" y2="100.5" stroke="#111" stroke-width="0.75"/>
<line x1="113.85" y1="98.5" x2="113.85" y2="100.5" stroke="#111" stroke-width="0.75"/>
<line x1="114.86" y1="98.5" x2="114.86" y2="100.5" stroke="#111" stroke-width="0.75"/>
<line x1="115.74" y1="98.5" x2="115.74" y2="100.5" stroke="#111" stroke-width="0.75"/>
<line x1="116.51" y1="98.5" x2="116.51" y2="100.5" stroke="#111" stroke-width="0.75"/>
<line x1="117.2" y1="98.5" x2="117.2" y2="100.9" stroke="#111" stroke-width="0.75"/>
<line x1="63.8" y1="98.5" x2="63.8" y2="100" stroke="#111" stroke-width="0.75"/>
<line x1="65.8" y1="98.5" x2="65.8" y2="100" stroke="#111" stroke-width="0.75"/>
<line x1="67.8" y1="98.5" x2="67.8" y2="100" stroke="#111" stroke-width="0.75"/>
<line x1="61.8" y1="98.5" x2="61.8" y2="100.9" stroke="#111" stroke-width="0.75"/>
<line x1="57.7" y1="98.5" x2="57.7" y2="99.7" stroke="#111" stroke-width="0.75"/>
<line x1="59.7" y1="98.5" x2="59.7" y2="99.7" stroke="#111" stroke-width="0.75"/>
<text x="61.7" y="111" font-size="6.3" text-anchor="middle" fill="#333">0</text>
<text x="64.95" y="111" font-size="6.3" fill="#333">10</text>
<text x="72.05" y="108.35" font-size="3.78" fill="#333">2</text>
<text x="82.45" y="111" font-size="6.3" fill="#333">10</text>
<text x="89.55" y="108.35" font-size="3.78" fill="#333">3</text>
<text x="97.95" y="111" font-size="6.3" fill="#333">10</text>
<text x="105.05" y="108.35" font-size="3.78" fill="#333">4</text>
<text x="112.65" y="111" font-size="6.3" fill="#333">10</text>
<text x="119.75" y="108.35" font-size="3.78" fill="#333">5</text>
<text x="40.69" y="39.3" font-size="6.3" fill="#333">10</text>
<text x="47.8" y="36.65" font-size="3.78" fill="#333">5</text>
<text x="40.69" y="54.8" font-size="6.3" fill="#333">10</text>
<text x="47.8" y="52.15" font-size="3.78" fill="#333">4</text>
<text x="40.69" y="70.3" font-size="6.3" fill="#333">10</text>
<text x="47.8" y="67.65" font-size="3.78" fill="#333">3</text>
<text x="40.69" y="86.8" font-size="6.3" fill="#333">10</text>
<text x="47.8" y="84.15" font-size="3.78" fill="#333">2</text>
<text x="49.6" y="95.2" font-size="6.3" text-anchor="end" fill="#333">0</text>
<text x="57" y="35.3" font-size="3.9" fill="#555">22.2%</text>
<text x="121.3" y="35.3" font-size="3.9" text-anchor="end" fill="#555">1.8%</text>
<text x="57" y="96.9" font-size="3.9" fill="#555">58.0%</text>
<text x="121.3" y="96.9" font-size="3.9" text-anchor="end" fill="#555">18.0%</text>
<text x="88.85" y="25" font-size="8.4" text-anchor="middle" fill="#111">1</text>
<clipPath id="c1"><rect x="129.6" y="30.3" width="67.3" height="68.2"/></clipPath>
<path d="M152.8 82.3 L152.1 82.5 L151.3 82.5 L150.6 82.4 L150.0 82.3 L149.3 82.1 L148.8 81.9 L148.3 81.7 L147.8 81.4 L147.3 81.1 L147.0 80.8 L146.6 80.5 L146.2 80.0 L145.8 79.7 L145.5 79.3 L145.1 78.8 L144.8 78.4 L144.6 78.0 L144.3 77.5 L144.1 77.0 L143.8 76.5 L143.6 76.0 L143.3 75.5 L143.1 74.9 L142.9 74.3 L142.7 73.8 L142.6 73.3 L142.4 72.5 L142.3 72.0 L142.1 71.4 L142.0 70.8 L141.9 70.0 L141.8 69.5 L141.7 68.8 L141.6 68.2 L141.5 67.5 L141.4 66.8 L141.4 66.0 L141.4 65.3 L141.4 64.5 L141.5 63.8 L141.5 63.0 L141.6 62.5 L141.6 61.8 L141.7 61.0 L141.7 60.3 L141.8 59.5 L141.9 59.0 L141.9 58.3 L142.0 57.5 L142.1 56.8 L142.1 56.3 L142.2 55.5 L142.3 54.8 L142.4 54.3 L142.5 53.5 L142.6 53.0 L142.7 52.3 L142.9 51.8 L143.0 51.0 L143.2 50.5 L143.3 49.8 L143.5 49.3 L143.6 48.8 L143.8 48.1 L144.1 47.5 L144.2 47.0 L144.4 46.5 L144.7 46.0 L144.9 45.5 L145.1 45.0 L145.4 44.5 L145.7 44.0 L145.9 43.5 L146.3 43.0 L146.6 42.6 L146.8 42.3 L147.3 41.8 L147.6 41.4 L148.0 41.0 L148.3 40.7 L148.8 40.3 L149.1 40.0 L149.6 39.7 L150.1 39.4 L150.6 39.1 L151.1 38.9 L151.6 38.7 L152.1 38.5 L152.8 38.3 L153.3 38.3 L154.1 38.2 L154.8 38.2 L155.6 38.2 L156.1 38.3 L156.8 38.4 L157.6 38.5 L158.1 38.6 L158.7 38.8 L159.3 39.0 L159.8 39.1 L160.3 39.3 L160.9 39.5 L161.5 39.8 L161.9 40.0 L162.3 40.3 L162.8 40.6 L163.3 41.0 L163.7 41.3 L164.1 41.6 L164.5 42.0 L164.8 42.4 L165.2 42.8 L165.5 43.3 L165.8 43.8 L166.1 44.2 L166.3 44.6 L166.6 45.1 L166.8 45.6 L167.1 46.1 L167.3 46.7 L167.6 47.3 L167.8 47.8 L168.0 48.3 L168.2 48.8 L168.4 49.3 L168.6 49.8 L168.8 50.4 L169.1 51.0 L169.3 51.5 L169.5 52.0 L169.7 52.5 L169.9 53.0 L170.1 53.5 L170.3 54.1 L170.6 54.7 L170.8 55.3 L171.1 55.8 L171.3 56.3 L171.5 56.8 L171.7 57.3 L171.9 57.8 L172.1 58.3 L172.3 58.9 L172.6 59.5 L172.7 60.0 L172.9 60.5 L173.1 61.3 L173.2 61.8 L173.3 62.5 L173.4 63.0 L173.5 63.8 L173.5 64.5 L173.5 65.3 L173.5 66.0 L173.4 66.8 L173.3 67.3 L173.1 68.0 L172.9 68.5 L172.8 69.0 L172.6 69.5 L172.3 70.1 L172.1 70.6 L171.8 71.1 L171.6 71.5 L171.2 72.0 L170.8 72.5 L170.6 72.8 L170.1 73.3 L169.8 73.6 L169.3 74.0 L169.1 74.3 L168.6 74.7 L168.1 75.0 L167.6 75.3 L167.2 75.5 L166.8 75.8 L166.3 76.0 L165.8 76.3 L165.3 76.5 L164.7 76.8 L164.2 77.0 L163.7 77.3 L163.2 77.5 L162.7 77.8 L162.2 78.0 L161.7 78.3 L161.2 78.5 L160.7 78.8 L160.2 79.0 L159.7 79.3 L159.2 79.5 L158.7 79.8 L158.3 80.0 L157.8 80.3 L157.3 80.6 L156.8 80.8 L156.3 81.0 L155.8 81.3 L155.3 81.5 L154.7 81.8 L154.1 82.0 L153.6 82.2 L153.1 82.3Z" fill="none" stroke="#c4c4c4" stroke-width="0.45" clip-path="url(#c1)"/>
<path d="M152.6 80.1 L151.8 80.2 L151.1 80.1 L150.6 80.0 L149.8 79.8 L149.3 79.6 L148.9 79.3 L148.6 79.0 L148.1 78.7 L147.7 78.3 L147.3 77.9 L147.1 77.5 L146.8 77.0 L146.4 76.5 L146.1 76.0 L145.8 75.6 L145.6 75.0 L145.4 74.5 L145.2 74.0 L145.0 73.5 L144.8 73.0 L144.6 72.4 L144.4 71.8 L144.3 71.3 L144.1 70.6 L144.0 70.0 L143.8 69.5 L143.7 68.8 L143.6 68.0 L143.5 67.5 L143.4 66.8 L143.4 66.0 L143.3 65.5 L143.3 64.8 L143.4 64.3 L143.4 63.5 L143.5 62.8 L143.5 62.0 L143.6 61.3 L143.6 60.8 L143.7 60.0 L143.8 59.3 L143.9 58.8 L143.9 58.0 L144.0 57.3 L144.1 56.8 L144.2 56.0 L144.3 55.3 L144.4 54.8 L144.5 54.0 L144.6 53.5 L144.8 52.8 L144.9 52.3 L145.1 51.5 L145.2 51.0 L145.3 50.5 L145.5 49.8 L145.7 49.3 L145.9 48.8 L146.1 48.2 L146.3 47.5 L146.5 47.0 L146.8 46.5 L147.0 46.0 L147.2 45.5 L147.5 45.0 L147.8 44.5 L148.1 44.0 L148.3 43.6 L148.6 43.2 L148.9 42.8 L149.3 42.3 L149.6 42.0 L150.0 41.5 L150.3 41.3 L150.8 40.9 L151.3 40.6 L151.8 40.3 L152.3 40.1 L152.8 39.9 L153.6 39.8 L154.1 39.8 L154.6 39.8 L155.3 39.9 L155.8 40.1 L156.6 40.3 L157.1 40.5 L157.6 40.6 L158.1 40.8 L158.8 41.0 L159.3 41.3 L159.8 41.5 L160.3 41.7 L160.8 42.0 L161.3 42.3 L161.8 42.5 L162.1 42.8 L162.6 43.2 L162.9 43.5 L163.3 44.0 L163.6 44.3 L164.0 44.8 L164.3 45.3 L164.6 45.8 L164.8 46.3 L165.1 46.8 L165.3 47.3 L165.6 47.8 L165.8 48.3 L166.0 48.8 L166.2 49.3 L166.4 49.8 L166.6 50.3 L166.8 50.9 L167.1 51.5 L167.3 52.0 L167.5 52.5 L167.7 53.0 L167.9 53.5 L168.1 54.0 L168.3 54.6 L168.6 55.2 L168.8 55.8 L169.0 56.3 L169.2 56.8 L169.4 57.3 L169.6 57.8 L169.8 58.3 L170.1 59.0 L170.3 59.5 L170.5 60.0 L170.6 60.5 L170.8 61.3 L171.0 61.8 L171.1 62.5 L171.2 63.0 L171.2 63.8 L171.3 64.5 L171.2 65.3 L171.2 66.0 L171.1 66.6 L170.9 67.3 L170.8 67.8 L170.6 68.4 L170.3 69.0 L170.1 69.5 L169.8 70.0 L169.6 70.4 L169.3 70.8 L168.9 71.3 L168.6 71.7 L168.3 72.0 L167.8 72.4 L167.4 72.8 L167.1 73.1 L166.6 73.4 L166.1 73.8 L165.6 74.0 L165.2 74.3 L164.7 74.5 L164.2 74.8 L163.6 75.0 L163.1 75.3 L162.7 75.5 L162.2 75.8 L161.7 76.0 L161.2 76.3 L160.7 76.5 L160.2 76.8 L159.7 77.0 L159.1 77.3 L158.6 77.5 L158.1 77.8 L157.6 78.0 L157.1 78.3 L156.7 78.5 L156.1 78.8 L155.6 79.0 L155.1 79.3 L154.6 79.5 L154.1 79.7 L153.6 79.8 L152.8 80.0Z" fill="none" stroke="#c4c4c4" stroke-width="0.45" clip-path="url(#c1)"/>
<path d="M153.1 78.1 L152.3 78.2 L151.6 78.2 L150.8 78.1 L150.3 77.9 L149.8 77.6 L149.5 77.3 L149.1 76.9 L148.8 76.5 L148.4 76.0 L148.1 75.7 L147.8 75.3 L147.5 74.8 L147.2 74.3 L146.9 73.8 L146.7 73.3 L146.5 72.8 L146.2 72.3 L146.0 71.8 L145.8 71.3 L145.6 70.7 L145.4 70.0 L145.2 69.5 L145.1 69.0 L144.9 68.3 L144.8 67.8 L144.6 67.0 L144.6 66.5 L144.5 65.8 L144.5 65.0 L144.5 64.3 L144.6 63.5 L144.6 63.0 L144.7 62.3 L144.7 61.5 L144.8 60.8 L144.9 60.3 L145.0 59.5 L145.1 58.8 L145.2 58.3 L145.3 57.5 L145.4 57.0 L145.6 56.3 L145.7 55.8 L145.8 55.0 L145.9 54.5 L146.1 53.8 L146.2 53.3 L146.3 52.6 L146.5 52.0 L146.6 51.5 L146.8 50.8 L146.9 50.3 L147.1 49.7 L147.3 49.0 L147.5 48.5 L147.6 48.0 L147.8 47.4 L148.0 46.8 L148.2 46.3 L148.4 45.8 L148.6 45.3 L148.9 44.8 L149.1 44.3 L149.4 43.8 L149.8 43.3 L150.1 42.8 L150.3 42.5 L150.8 42.0 L151.1 41.8 L151.6 41.4 L152.1 41.1 L152.6 40.9 L153.1 40.8 L153.8 40.7 L154.6 40.8 L155.1 40.9 L155.6 41.1 L156.1 41.3 L156.6 41.6 L157.1 41.8 L157.6 42.2 L158.1 42.5 L158.6 42.8 L159.1 43.0 L159.6 43.3 L160.1 43.5 L160.4 43.8 L160.8 44.1 L161.3 44.5 L161.7 44.8 L162.1 45.2 L162.4 45.5 L162.8 46.0 L163.1 46.5 L163.3 47.0 L163.6 47.4 L163.8 47.9 L164.1 48.4 L164.3 48.9 L164.6 49.5 L164.8 50.0 L165.1 50.5 L165.3 51.0 L165.5 51.5 L165.7 52.0 L166.0 52.5 L166.2 53.0 L166.4 53.5 L166.6 54.1 L166.8 54.8 L167.1 55.3 L167.3 55.8 L167.4 56.3 L167.6 56.8 L167.8 57.4 L168.1 58.0 L168.3 58.5 L168.4 59.0 L168.6 59.6 L168.8 60.3 L169.0 60.8 L169.1 61.3 L169.3 62.0 L169.3 62.6 L169.4 63.3 L169.5 64.0 L169.5 64.8 L169.4 65.5 L169.3 66.2 L169.2 66.8 L169.1 67.3 L168.8 68.0 L168.6 68.5 L168.4 69.0 L168.1 69.5 L167.8 69.9 L167.5 70.3 L167.1 70.8 L166.8 71.1 L166.3 71.5 L166.1 71.8 L165.6 72.2 L165.1 72.5 L164.7 72.8 L164.3 73.0 L163.8 73.3 L163.3 73.6 L162.8 73.9 L162.3 74.2 L161.8 74.4 L161.3 74.7 L160.8 74.9 L160.3 75.2 L159.8 75.4 L159.3 75.7 L158.8 75.9 L158.3 76.1 L157.8 76.3 L157.3 76.5 L156.7 76.8 L156.1 77.0 L155.6 77.3 L155.1 77.5 L154.6 77.6 L154.1 77.8 L153.3 78.0Z" fill="none" stroke="#c4c4c4" stroke-width="0.45" clip-path="url(#c1)"/>
<path d="M153.3 74.1 L152.6 74.1 L152.1 74.0 L151.5 73.8 L151.1 73.5 L150.6 73.0 L150.3 72.7 L150.0 72.3 L149.6 71.8 L149.3 71.4 L149.1 71.0 L148.8 70.5 L148.5 70.0 L148.3 69.5 L148.0 69.0 L147.8 68.5 L147.6 68.0 L147.4 67.3 L147.2 66.8 L147.1 66.1 L147.0 65.5 L147.0 64.8 L147.0 64.0 L147.1 63.3 L147.1 62.8 L147.2 62.0 L147.3 61.5 L147.5 60.8 L147.6 60.3 L147.8 59.5 L148.0 59.0 L148.1 58.5 L148.3 57.8 L148.4 57.3 L148.5 56.5 L148.6 55.9 L148.7 55.3 L148.8 54.5 L148.9 54.0 L148.9 53.3 L149.0 52.5 L149.1 52.0 L149.2 51.3 L149.3 50.6 L149.4 50.0 L149.6 49.3 L149.7 48.8 L149.8 48.2 L150.0 47.5 L150.2 47.0 L150.3 46.5 L150.6 45.8 L150.8 45.3 L151.1 44.8 L151.3 44.3 L151.6 43.9 L151.9 43.5 L152.3 43.2 L152.8 42.9 L153.6 42.9 L154.2 43.0 L154.6 43.3 L155.1 43.7 L155.5 44.0 L155.8 44.5 L156.1 44.8 L156.5 45.3 L156.8 45.7 L157.1 46.0 L157.6 46.5 L157.8 46.9 L158.2 47.3 L158.6 47.8 L158.8 48.2 L159.1 48.6 L159.4 49.0 L159.7 49.5 L159.9 50.0 L160.2 50.5 L160.5 51.0 L160.7 51.5 L161.0 52.0 L161.3 52.5 L161.5 53.0 L161.8 53.5 L162.0 54.0 L162.3 54.5 L162.5 55.0 L162.8 55.5 L163.0 56.0 L163.3 56.5 L163.5 57.0 L163.7 57.5 L164.0 58.0 L164.2 58.5 L164.4 59.0 L164.6 59.5 L164.8 60.2 L165.1 60.8 L165.2 61.3 L165.4 61.8 L165.6 62.5 L165.7 63.0 L165.7 63.8 L165.8 64.5 L165.7 65.3 L165.6 65.9 L165.4 66.5 L165.2 67.0 L165.0 67.5 L164.7 68.0 L164.3 68.5 L164.1 68.8 L163.6 69.3 L163.3 69.5 L162.8 69.9 L162.4 70.3 L162.0 70.5 L161.6 70.8 L161.1 71.2 L160.6 71.5 L160.1 71.8 L159.6 72.0 L159.1 72.3 L158.6 72.5 L158.1 72.7 L157.6 72.9 L157.1 73.1 L156.4 73.3 L155.8 73.5 L155.3 73.6 L154.7 73.8 L154.1 73.9 L153.5 74.0Z" fill="none" stroke="#c3c3c3" stroke-width="0.45" clip-path="url(#c1)"/>
<path d="M153.8 73.3 L153.1 73.4 L152.3 73.3 L151.8 73.1 L151.4 72.8 L151.1 72.5 L150.6 72.0 L150.3 71.7 L150.0 71.3 L149.6 70.8 L149.3 70.4 L149.1 70.0 L148.8 69.5 L148.6 69.0 L148.3 68.5 L148.1 67.9 L147.9 67.3 L147.8 66.8 L147.6 66.1 L147.5 65.5 L147.5 64.8 L147.5 64.0 L147.6 63.3 L147.6 62.8 L147.7 62.0 L147.8 61.5 L148.0 60.8 L148.1 60.3 L148.3 59.5 L148.4 59.0 L148.6 58.4 L148.7 57.8 L148.8 57.2 L148.9 56.5 L149.1 55.8 L149.1 55.3 L149.2 54.5 L149.3 53.8 L149.4 53.3 L149.4 52.5 L149.5 51.8 L149.6 51.3 L149.7 50.5 L149.8 49.9 L150.0 49.3 L150.1 48.7 L150.3 48.0 L150.4 47.5 L150.6 46.9 L150.8 46.3 L151.0 45.8 L151.3 45.3 L151.6 44.8 L151.8 44.4 L152.2 44.0 L152.6 43.7 L153.1 43.5 L153.6 43.5 L154.3 43.8 L154.7 44.0 L155.1 44.5 L155.4 44.8 L155.8 45.3 L156.1 45.7 L156.4 46.0 L156.8 46.5 L157.1 47.0 L157.3 47.4 L157.6 47.8 L158.0 48.3 L158.3 48.8 L158.5 49.3 L158.8 49.8 L159.0 50.3 L159.2 50.8 L159.5 51.3 L159.7 51.8 L160.0 52.3 L160.2 52.8 L160.5 53.3 L160.8 53.8 L161.0 54.3 L161.3 54.8 L161.6 55.3 L161.8 55.8 L162.1 56.2 L162.3 56.7 L162.6 57.1 L162.8 57.6 L163.1 58.1 L163.3 58.6 L163.6 59.1 L163.8 59.7 L164.1 60.3 L164.3 60.8 L164.5 61.3 L164.6 61.8 L164.8 62.5 L164.9 63.0 L165.0 63.8 L165.0 64.5 L165.0 65.3 L164.8 66.0 L164.7 66.5 L164.4 67.0 L164.1 67.5 L163.8 68.0 L163.6 68.3 L163.1 68.8 L162.8 69.1 L162.3 69.5 L162.0 69.8 L161.6 70.1 L161.1 70.4 L160.6 70.8 L160.1 71.0 L159.7 71.3 L159.2 71.5 L158.7 71.8 L158.1 72.0 L157.6 72.2 L157.1 72.4 L156.6 72.6 L155.9 72.8 L155.3 73.0 L154.8 73.1 L154.1 73.3Z" fill="none" stroke="#c1c1c1" stroke-width="0.45" clip-path="url(#c1)"/>
<path d="M154.1 72.6 L153.3 72.6 L152.6 72.6 L152.1 72.4 L151.6 72.1 L151.3 71.8 L150.8 71.4 L150.6 71.0 L150.2 70.5 L149.8 70.1 L149.6 69.7 L149.3 69.3 L149.1 68.8 L148.8 68.3 L148.6 67.7 L148.4 67.0 L148.2 66.5 L148.1 65.9 L148.0 65.3 L148.0 64.5 L148.0 63.8 L148.1 63.0 L148.2 62.5 L148.3 61.8 L148.4 61.3 L148.6 60.5 L148.7 60.0 L148.8 59.5 L149.0 58.8 L149.1 58.3 L149.2 57.5 L149.3 56.9 L149.4 56.3 L149.5 55.5 L149.6 54.9 L149.7 54.3 L149.7 53.5 L149.8 52.8 L149.9 52.3 L150.0 51.5 L150.1 50.8 L150.2 50.3 L150.3 49.5 L150.4 49.0 L150.6 48.3 L150.8 47.8 L150.9 47.3 L151.1 46.8 L151.3 46.2 L151.6 45.7 L151.9 45.3 L152.3 44.8 L152.6 44.5 L153.3 44.3 L153.6 44.3 L154.2 44.5 L154.6 44.8 L155.1 45.3 L155.3 45.6 L155.7 46.0 L156.0 46.5 L156.3 47.0 L156.6 47.4 L156.8 47.9 L157.1 48.3 L157.4 48.8 L157.6 49.3 L157.8 49.8 L158.1 50.5 L158.3 51.0 L158.5 51.5 L158.7 52.0 L158.9 52.5 L159.1 53.0 L159.4 53.5 L159.6 54.0 L159.9 54.5 L160.2 55.0 L160.5 55.5 L160.8 56.0 L161.1 56.5 L161.3 56.9 L161.6 57.3 L161.9 57.8 L162.2 58.3 L162.5 58.8 L162.8 59.3 L163.0 59.8 L163.2 60.3 L163.4 60.8 L163.6 61.3 L163.8 61.9 L164.0 62.5 L164.1 63.0 L164.2 63.8 L164.3 64.5 L164.2 65.3 L164.1 65.8 L163.8 66.5 L163.6 67.0 L163.3 67.4 L163.1 67.8 L162.6 68.3 L162.3 68.6 L161.9 69.0 L161.6 69.3 L161.1 69.7 L160.6 70.0 L160.2 70.3 L159.8 70.5 L159.3 70.8 L158.8 71.0 L158.3 71.3 L157.7 71.5 L157.1 71.8 L156.6 71.9 L156.1 72.1 L155.4 72.3 L154.8 72.4 L154.2 72.5Z" fill="none" stroke="#bfbfbf" stroke-width="0.45" clip-path="url(#c1)"/>
<path d="M154.8 71.8 L154.1 71.9 L153.3 72.0 L152.6 71.9 L152.1 71.6 L151.6 71.3 L151.3 71.0 L150.9 70.5 L150.6 70.2 L150.3 69.8 L150.0 69.3 L149.7 68.8 L149.4 68.3 L149.2 67.8 L149.0 67.3 L148.8 66.8 L148.6 66.0 L148.5 65.5 L148.5 64.8 L148.5 64.0 L148.5 63.3 L148.6 62.7 L148.7 62.0 L148.8 61.3 L149.0 60.8 L149.1 60.3 L149.3 59.5 L149.4 59.0 L149.5 58.3 L149.6 57.8 L149.7 57.0 L149.8 56.3 L149.9 55.8 L150.0 55.0 L150.0 54.3 L150.1 53.7 L150.2 53.0 L150.2 52.3 L150.3 51.5 L150.4 51.0 L150.5 50.3 L150.6 49.8 L150.8 49.0 L150.9 48.5 L151.1 48.0 L151.3 47.3 L151.6 46.8 L151.8 46.3 L152.1 45.9 L152.4 45.5 L152.8 45.2 L153.6 45.1 L154.1 45.3 L154.6 45.7 L155.0 46.0 L155.3 46.5 L155.6 46.9 L155.9 47.3 L156.2 47.8 L156.4 48.3 L156.7 48.8 L156.9 49.3 L157.1 50.0 L157.2 50.5 L157.3 51.3 L157.4 51.8 L157.6 52.5 L157.7 53.0 L157.8 53.6 L158.1 54.3 L158.3 54.8 L158.6 55.3 L158.8 55.6 L159.2 56.0 L159.6 56.4 L160.0 56.8 L160.3 57.1 L160.7 57.5 L161.1 58.0 L161.3 58.4 L161.6 58.8 L161.9 59.3 L162.2 59.8 L162.4 60.3 L162.7 60.8 L162.9 61.3 L163.1 61.9 L163.3 62.5 L163.4 63.0 L163.5 63.8 L163.6 64.5 L163.5 65.3 L163.3 65.9 L163.1 66.5 L162.8 67.0 L162.6 67.3 L162.2 67.8 L161.8 68.2 L161.5 68.5 L161.1 68.9 L160.6 69.3 L160.3 69.5 L159.8 69.8 L159.3 70.1 L158.8 70.4 L158.3 70.7 L157.8 70.9 L157.3 71.1 L156.8 71.3 L156.1 71.5 L155.6 71.7 L155.0 71.8Z" fill="none" stroke="#bcbcbc" stroke-width="0.45" clip-path="url(#c1)"/>
<path d="M154.6 71.3 L153.8 71.4 L153.1 71.4 L152.6 71.2 L152.1 70.9 L151.6 70.5 L151.3 70.3 L150.9 69.8 L150.6 69.4 L150.3 69.0 L150.0 68.5 L149.8 68.0 L149.5 67.5 L149.3 67.0 L149.1 66.3 L149.0 65.8 L148.9 65.0 L148.9 64.3 L148.9 63.5 L149.0 62.8 L149.1 62.2 L149.2 61.5 L149.3 60.9 L149.5 60.3 L149.6 59.8 L149.8 59.0 L149.9 58.5 L150.0 57.8 L150.1 57.1 L150.2 56.5 L150.3 55.8 L150.3 55.0 L150.4 54.5 L150.4 53.8 L150.5 53.0 L150.6 52.3 L150.7 51.8 L150.8 51.0 L150.9 50.5 L151.0 49.8 L151.1 49.3 L151.3 48.5 L151.5 48.0 L151.7 47.5 L152.0 47.0 L152.3 46.5 L152.6 46.2 L153.1 45.9 L153.8 45.9 L154.3 46.3 L154.7 46.5 L155.1 47.0 L155.3 47.5 L155.6 47.9 L155.9 48.3 L156.1 48.8 L156.3 49.5 L156.4 50.0 L156.5 50.8 L156.6 51.4 L156.7 52.0 L156.8 52.8 L156.9 53.3 L157.1 54.0 L157.2 54.5 L157.3 55.2 L157.6 55.8 L157.8 56.3 L158.1 56.7 L158.4 57.0 L158.8 57.5 L159.1 57.8 L159.6 58.2 L160.0 58.5 L160.3 58.9 L160.8 59.3 L161.1 59.7 L161.4 60.0 L161.7 60.5 L162.0 61.0 L162.2 61.5 L162.4 62.0 L162.6 62.7 L162.7 63.3 L162.8 64.0 L162.8 64.8 L162.7 65.5 L162.6 66.0 L162.3 66.6 L162.0 67.0 L161.6 67.5 L161.3 67.9 L160.9 68.3 L160.6 68.6 L160.1 69.0 L159.7 69.3 L159.3 69.5 L158.8 69.8 L158.3 70.1 L157.8 70.3 L157.3 70.5 L156.6 70.8 L156.1 71.0 L155.6 71.1 L154.8 71.3Z" fill="none" stroke="#b8b8b8" stroke-width="0.45" clip-path="url(#c1)"/>
<path d="M154.6 70.8 L153.8 70.9 L153.1 70.8 L152.6 70.6 L152.1 70.3 L151.8 70.0 L151.3 69.6 L151.1 69.3 L150.7 68.8 L150.4 68.3 L150.1 67.8 L149.9 67.3 L149.7 66.8 L149.5 66.3 L149.4 65.5 L149.3 65.0 L149.3 64.3 L149.3 63.5 L149.4 63.0 L149.5 62.3 L149.6 61.5 L149.7 61.0 L149.8 60.4 L150.0 59.8 L150.1 59.2 L150.2 58.5 L150.3 57.8 L150.4 57.3 L150.5 56.5 L150.6 55.8 L150.6 55.3 L150.7 54.5 L150.8 53.8 L150.8 53.0 L150.9 52.5 L151.0 51.8 L151.1 51.2 L151.2 50.5 L151.3 50.0 L151.5 49.3 L151.7 48.8 L151.9 48.3 L152.1 47.8 L152.4 47.3 L152.8 46.9 L153.3 46.7 L153.9 46.8 L154.3 47.1 L154.8 47.5 L155.1 48.0 L155.3 48.4 L155.6 49.0 L155.7 49.5 L155.8 50.2 L156.0 50.8 L156.1 51.5 L156.1 52.0 L156.2 52.8 L156.3 53.5 L156.4 54.0 L156.5 54.8 L156.7 55.3 L156.8 56.0 L157.1 56.5 L157.3 57.0 L157.6 57.5 L157.8 57.8 L158.3 58.3 L158.6 58.6 L159.1 59.0 L159.4 59.3 L159.8 59.7 L160.2 60.0 L160.6 60.5 L160.8 60.9 L161.1 61.3 L161.3 61.8 L161.6 62.4 L161.8 63.0 L161.9 63.5 L161.9 64.3 L161.9 65.0 L161.8 65.5 L161.6 66.3 L161.4 66.8 L161.1 67.3 L160.8 67.6 L160.4 68.0 L160.1 68.3 L159.6 68.7 L159.2 69.0 L158.8 69.3 L158.3 69.5 L157.8 69.8 L157.3 70.0 L156.6 70.3 L156.1 70.5 L155.6 70.6 L154.8 70.8Z" fill="none" stroke="#b4b4b4" stroke-width="0.45" clip-path="url(#c1)"/>
<path d="M154.8 70.3 L154.1 70.3 L153.6 70.3 L152.8 70.1 L152.3 69.9 L151.9 69.5 L151.6 69.2 L151.2 68.8 L150.9 68.3 L150.6 67.8 L150.3 67.4 L150.1 66.8 L149.9 66.3 L149.8 65.8 L149.7 65.0 L149.7 64.3 L149.7 63.5 L149.8 62.8 L149.8 62.1 L150.0 61.5 L150.1 60.9 L150.2 60.3 L150.3 59.7 L150.5 59.0 L150.6 58.4 L150.7 57.8 L150.8 57.0 L150.9 56.5 L150.9 55.8 L151.0 55.0 L151.1 54.3 L151.1 53.8 L151.2 53.0 L151.3 52.3 L151.3 51.8 L151.5 51.0 L151.6 50.5 L151.8 49.8 L152.0 49.3 L152.2 48.8 L152.4 48.3 L152.8 47.8 L153.3 47.5 L153.7 47.5 L154.2 47.8 L154.6 48.2 L154.8 48.6 L155.1 49.1 L155.3 49.8 L155.4 50.3 L155.5 51.0 L155.6 51.7 L155.7 52.3 L155.8 53.0 L155.8 53.7 L155.9 54.3 L156.0 55.0 L156.1 55.5 L156.3 56.3 L156.5 56.8 L156.7 57.3 L157.0 57.8 L157.3 58.3 L157.6 58.6 L158.0 59.0 L158.3 59.4 L158.8 59.8 L159.1 60.1 L159.5 60.5 L159.8 60.9 L160.1 61.3 L160.5 61.8 L160.7 62.3 L160.9 62.8 L161.1 63.5 L161.2 64.0 L161.2 64.8 L161.1 65.3 L160.9 66.0 L160.7 66.5 L160.5 67.0 L160.2 67.5 L159.8 67.9 L159.4 68.3 L159.0 68.5 L158.6 68.8 L158.1 69.1 L157.6 69.4 L157.1 69.6 L156.6 69.8 L155.9 70.0 L155.3 70.2 L154.8 70.3Z" fill="none" stroke="#aeaeae" stroke-width="0.45" clip-path="url(#c1)"/>
<path d="M155.8 69.6 L155.1 69.7 L154.3 69.8 L153.6 69.7 L153.0 69.5 L152.4 69.3 L152.0 69.0 L151.6 68.6 L151.3 68.3 L151.0 67.8 L150.8 67.3 L150.5 66.8 L150.3 66.3 L150.1 65.5 L150.1 65.0 L150.0 64.3 L150.0 63.5 L150.1 62.8 L150.2 62.3 L150.3 61.5 L150.4 61.0 L150.6 60.3 L150.7 59.8 L150.8 59.0 L150.9 58.5 L151.0 57.8 L151.1 57.3 L151.2 56.5 L151.3 55.8 L151.3 55.0 L151.4 54.5 L151.4 53.8 L151.5 53.0 L151.6 52.5 L151.7 51.8 L151.8 51.2 L152.0 50.5 L152.2 50.0 L152.4 49.5 L152.7 49.0 L153.1 48.6 L153.6 48.5 L154.1 48.7 L154.4 49.0 L154.7 49.5 L154.8 50.2 L155.0 50.8 L155.1 51.5 L155.2 52.0 L155.3 52.8 L155.3 53.4 L155.4 54.0 L155.5 54.8 L155.6 55.3 L155.7 56.0 L155.9 56.5 L156.1 57.3 L156.3 57.8 L156.6 58.3 L156.8 58.7 L157.1 59.0 L157.6 59.5 L157.8 59.8 L158.3 60.3 L158.6 60.6 L159.0 61.0 L159.3 61.4 L159.6 61.8 L159.9 62.3 L160.1 62.8 L160.3 63.5 L160.4 64.0 L160.4 64.8 L160.3 65.3 L160.1 66.0 L159.9 66.5 L159.6 67.0 L159.3 67.5 L159.1 67.8 L158.6 68.2 L158.2 68.5 L157.8 68.8 L157.3 69.0 L156.7 69.3 L156.1 69.5Z" fill="none" stroke="#a7a7a7" stroke-width="0.45" clip-path="url(#c1)"/>
<path d="M155.6 69.1 L154.8 69.2 L154.1 69.2 L153.3 69.1 L152.8 68.9 L152.3 68.7 L151.9 68.3 L151.6 67.9 L151.3 67.5 L151.1 67.0 L150.8 66.5 L150.6 65.9 L150.5 65.3 L150.4 64.5 L150.4 63.8 L150.4 63.0 L150.5 62.3 L150.6 61.7 L150.7 61.0 L150.8 60.5 L151.0 59.8 L151.1 59.3 L151.2 58.5 L151.3 57.9 L151.4 57.3 L151.5 56.5 L151.6 55.9 L151.7 55.3 L151.7 54.5 L151.8 53.8 L151.9 53.3 L152.0 52.5 L152.1 52.0 L152.3 51.3 L152.4 50.8 L152.7 50.3 L153.0 49.8 L153.6 49.6 L154.1 49.8 L154.3 50.5 L154.5 51.0 L154.6 51.5 L154.7 52.3 L154.8 53.0 L154.9 53.5 L155.0 54.3 L155.1 55.0 L155.2 55.5 L155.3 56.3 L155.4 56.8 L155.6 57.4 L155.8 58.0 L156.1 58.5 L156.3 58.9 L156.6 59.3 L157.0 59.8 L157.3 60.2 L157.7 60.5 L158.1 61.0 L158.4 61.3 L158.8 61.8 L159.1 62.3 L159.3 62.8 L159.5 63.3 L159.6 64.0 L159.6 64.5 L159.6 65.0 L159.4 65.8 L159.2 66.3 L158.9 66.8 L158.6 67.2 L158.3 67.5 L157.8 68.0 L157.4 68.3 L156.9 68.5 L156.4 68.8 L155.8 69.0Z" fill="none" stroke="#9e9e9e" stroke-width="0.45" clip-path="url(#c1)"/>
<path d="M155.1 68.6 L154.3 68.7 L153.6 68.6 L153.1 68.4 L152.6 68.2 L152.1 67.8 L151.8 67.5 L151.5 67.0 L151.2 66.5 L151.0 66.0 L150.8 65.4 L150.8 64.8 L150.7 64.0 L150.7 63.3 L150.8 62.5 L150.9 62.0 L151.0 61.3 L151.1 60.8 L151.3 60.0 L151.4 59.5 L151.5 58.8 L151.6 58.3 L151.8 57.5 L151.8 57.0 L151.9 56.3 L152.0 55.5 L152.1 54.8 L152.2 54.3 L152.3 53.5 L152.4 53.0 L152.5 52.3 L152.7 51.8 L153.0 51.3 L153.3 50.9 L153.8 51.2 L154.0 51.8 L154.2 52.3 L154.3 53.0 L154.4 53.5 L154.5 54.3 L154.6 55.0 L154.7 55.5 L154.8 56.3 L154.9 56.8 L155.1 57.5 L155.3 58.0 L155.6 58.5 L155.8 59.0 L156.1 59.5 L156.3 59.8 L156.7 60.3 L157.1 60.7 L157.4 61.0 L157.7 61.5 L158.1 62.0 L158.3 62.5 L158.5 63.0 L158.5 63.8 L158.4 64.5 L158.2 65.0 L158.1 65.7 L157.9 66.3 L157.7 66.8 L157.4 67.3 L157.1 67.6 L156.6 68.0 L156.1 68.2 L155.6 68.4 L155.1 68.6Z" fill="none" stroke="#959595" stroke-width="0.45" clip-path="url(#c1)"/>
<path d="M155.1 67.9 L154.3 68.0 L153.6 68.0 L153.1 67.8 L152.6 67.5 L152.1 67.1 L151.8 66.8 L151.5 66.3 L151.3 65.8 L151.2 65.0 L151.1 64.5 L151.0 63.8 L151.1 63.0 L151.1 62.5 L151.2 61.8 L151.3 61.2 L151.5 60.5 L151.6 60.0 L151.8 59.3 L151.9 58.8 L152.1 58.0 L152.2 57.5 L152.3 56.8 L152.4 56.3 L152.5 55.5 L152.6 54.9 L152.7 54.3 L152.8 53.7 L153.1 53.1 L153.5 53.5 L153.7 54.0 L153.8 54.7 L154.0 55.3 L154.1 56.0 L154.2 56.5 L154.4 57.0 L154.6 57.7 L154.8 58.3 L155.1 58.8 L155.3 59.2 L155.6 59.6 L155.9 60.0 L156.3 60.5 L156.6 61.0 L156.8 61.4 L157.1 61.8 L157.3 62.5 L157.1 63.3 L156.8 63.5 L156.3 63.9 L155.8 64.2 L155.6 64.5 L155.4 65.3 L155.6 65.9 L155.9 66.3 L156.0 67.0 L155.7 67.5 L155.2 67.8Z" fill="none" stroke="#8a8a8a" stroke-width="0.45" clip-path="url(#c1)"/>
<path d="M154.3 67.1 L153.6 67.2 L153.1 67.0 L152.6 66.7 L152.2 66.3 L151.8 65.8 L151.6 65.3 L151.5 64.8 L151.4 64.0 L151.4 63.3 L151.5 62.5 L151.6 61.8 L151.7 61.3 L151.8 60.6 L152.0 60.0 L152.1 59.5 L152.3 58.9 L152.6 58.3 L152.8 57.8 L153.1 57.5 L153.6 57.5 L154.0 58.0 L154.3 58.5 L154.6 59.0 L154.8 59.4 L155.1 59.8 L155.4 60.3 L155.8 60.8 L156.1 61.3 L156.3 61.8 L156.4 62.3 L156.3 62.8 L155.9 63.3 L155.6 63.6 L155.1 64.0 L154.8 64.5 L154.6 65.0 L154.6 65.5 L154.7 66.0 L154.6 66.8 L154.3 67.1Z" fill="none" stroke="#7d7d7d" stroke-width="0.45" clip-path="url(#c1)"/>
<path d="M153.3 65.8 L152.8 65.8 L152.4 65.3 L152.1 64.9 L151.9 64.3 L151.8 63.8 L151.8 63.0 L151.8 62.3 L152.0 61.8 L152.1 61.2 L152.3 60.5 L152.6 60.0 L152.8 59.6 L153.2 59.3 L153.7 59.3 L154.1 59.6 L154.5 60.0 L154.8 60.4 L155.1 60.8 L155.4 61.3 L155.6 61.8 L155.6 62.4 L155.3 62.9 L155.1 63.3 L154.6 63.8 L154.3 64.2 L154.1 64.5 L153.8 65.0 L153.6 65.6Z" fill="none" stroke="#6f6f6f" stroke-width="0.45" clip-path="url(#c1)"/>
<path d="M153.1 64.4 L152.6 64.2 L152.3 63.6 L152.3 63.0 L152.3 62.3 L152.4 61.8 L152.6 61.3 L152.9 60.8 L153.3 60.4 L154.1 60.5 L154.4 60.8 L154.7 61.3 L154.9 61.8 L154.9 62.5 L154.6 63.0 L154.3 63.3 L153.9 63.8 L153.6 64.1 L153.1 64.4Z" fill="none" stroke="#606060" stroke-width="0.45" clip-path="url(#c1)"/>
<ellipse cx="147" cy="99" rx="5" ry="2.6" fill="none" stroke="#c4c4c4" stroke-width="0.45" clip-path="url(#c1)"/>
<line x1="164.5" y1="30.3" x2="164.5" y2="98.5" stroke="#a8a8a8" stroke-width="0.8"/>
<line x1="129.6" y1="56.5" x2="196.9" y2="56.5" stroke="#b0b0b0" stroke-width="0.8"/>
<rect x="129.6" y="30.3" width="67.3" height="68.2" fill="none" stroke="#222" stroke-width="1.1"/>
<line x1="126.6" y1="83.5" x2="129.6" y2="83.5" stroke="#111" stroke-width="0.75"/>
<line x1="127.6" y1="78.53" x2="129.6" y2="78.53" stroke="#111" stroke-width="0.75"/>
<line x1="127.6" y1="75.63" x2="129.6" y2="75.63" stroke="#111" stroke-width="0.75"/>
<line x1="127.6" y1="73.57" x2="129.6" y2="73.57" stroke="#111" stroke-width="0.75"/>
<line x1="127.6" y1="71.97" x2="129.6" y2="71.97" stroke="#111" stroke-width="0.75"/>
<line x1="127.6" y1="70.66" x2="129.6" y2="70.66" stroke="#111" stroke-width="0.75"/>
<line x1="127.6" y1="69.56" x2="129.6" y2="69.56" stroke="#111" stroke-width="0.75"/>
<line x1="127.6" y1="68.6" x2="129.6" y2="68.6" stroke="#111" stroke-width="0.75"/>
<line x1="127.6" y1="67.75" x2="129.6" y2="67.75" stroke="#111" stroke-width="0.75"/>
<line x1="126.6" y1="67" x2="129.6" y2="67" stroke="#111" stroke-width="0.75"/>
<line x1="127.6" y1="62.33" x2="129.6" y2="62.33" stroke="#111" stroke-width="0.75"/>
<line x1="127.6" y1="59.6" x2="129.6" y2="59.6" stroke="#111" stroke-width="0.75"/>
<line x1="127.6" y1="57.67" x2="129.6" y2="57.67" stroke="#111" stroke-width="0.75"/>
<line x1="127.6" y1="56.17" x2="129.6" y2="56.17" stroke="#111" stroke-width="0.75"/>
<line x1="127.6" y1="54.94" x2="129.6" y2="54.94" stroke="#111" stroke-width="0.75"/>
<line x1="127.6" y1="53.9" x2="129.6" y2="53.9" stroke="#111" stroke-width="0.75"/>
<line x1="127.6" y1="53" x2="129.6" y2="53" stroke="#111" stroke-width="0.75"/>
<line x1="127.6" y1="52.21" x2="129.6" y2="52.21" stroke="#111" stroke-width="0.75"/>
<line x1="126.6" y1="51.5" x2="129.6" y2="51.5" stroke="#111" stroke-width="0.75"/>
<line x1="127.6" y1="46.83" x2="129.6" y2="46.83" stroke="#111" stroke-width="0.75"/>
<line x1="127.6" y1="44.1" x2="129.6" y2="44.1" stroke="#111" stroke-width="0.75"/>
<line x1="127.6" y1="42.17" x2="129.6" y2="42.17" stroke="#111" stroke-width="0.75"/>
<line x1="127.6" y1="40.67" x2="129.6" y2="40.67" stroke="#111" stroke-width="0.75"/>
<line x1="127.6" y1="39.44" x2="129.6" y2="39.44" stroke="#111" stroke-width="0.75"/>
<line x1="127.6" y1="38.4" x2="129.6" y2="38.4" stroke="#111" stroke-width="0.75"/>
<line x1="127.6" y1="37.5" x2="129.6" y2="37.5" stroke="#111" stroke-width="0.75"/>
<line x1="127.6" y1="36.71" x2="129.6" y2="36.71" stroke="#111" stroke-width="0.75"/>
<line x1="127.2" y1="36" x2="129.6" y2="36" stroke="#111" stroke-width="0.75"/>
<line x1="128.1" y1="86.3" x2="129.6" y2="86.3" stroke="#111" stroke-width="0.75"/>
<line x1="128.1" y1="89.1" x2="129.6" y2="89.1" stroke="#111" stroke-width="0.75"/>
<line x1="128.1" y1="91.9" x2="129.6" y2="91.9" stroke="#111" stroke-width="0.75"/>
<line x1="128.1" y1="94.7" x2="129.6" y2="94.7" stroke="#111" stroke-width="0.75"/>
<line x1="127.2" y1="92" x2="129.6" y2="92" stroke="#111" stroke-width="0.75"/>
<line x1="128.4" y1="94.2" x2="129.6" y2="94.2" stroke="#111" stroke-width="0.75"/>
<line x1="128.4" y1="96.4" x2="129.6" y2="96.4" stroke="#111" stroke-width="0.75"/>
<line x1="144.2" y1="98.5" x2="144.2" y2="101.5" stroke="#111" stroke-width="0.75"/>
<line x1="149.26" y1="98.5" x2="149.26" y2="100.5" stroke="#111" stroke-width="0.75"/>
<line x1="152.22" y1="98.5" x2="152.22" y2="100.5" stroke="#111" stroke-width="0.75"/>
<line x1="154.31" y1="98.5" x2="154.31" y2="100.5" stroke="#111" stroke-width="0.75"/>
<line x1="155.94" y1="98.5" x2="155.94" y2="100.5" stroke="#111" stroke-width="0.75"/>
<line x1="157.27" y1="98.5" x2="157.27" y2="100.5" stroke="#111" stroke-width="0.75"/>
<line x1="158.4" y1="98.5" x2="158.4" y2="100.5" stroke="#111" stroke-width="0.75"/>
<line x1="159.37" y1="98.5" x2="159.37" y2="100.5" stroke="#111" stroke-width="0.75"/>
<line x1="160.23" y1="98.5" x2="160.23" y2="100.5" stroke="#111" stroke-width="0.75"/>
<line x1="161" y1="98.5" x2="161" y2="101.5" stroke="#111" stroke-width="0.75"/>
<line x1="165.67" y1="98.5" x2="165.67" y2="100.5" stroke="#111" stroke-width="0.75"/>
<line x1="168.4" y1="98.5" x2="168.4" y2="100.5" stroke="#111" stroke-width="0.75"/>
<line x1="170.33" y1="98.5" x2="170.33" y2="100.5" stroke="#111" stroke-width="0.75"/>
<line x1="171.83" y1="98.5" x2="171.83" y2="100.5" stroke="#111" stroke-width="0.75"/>
<line x1="173.06" y1="98.5" x2="173.06" y2="100.5" stroke="#111" stroke-width="0.75"/>
<line x1="174.1" y1="98.5" x2="174.1" y2="100.5" stroke="#111" stroke-width="0.75"/>
<line x1="175" y1="98.5" x2="175" y2="100.5" stroke="#111" stroke-width="0.75"/>
<line x1="175.79" y1="98.5" x2="175.79" y2="100.5" stroke="#111" stroke-width="0.75"/>
<line x1="176.5" y1="98.5" x2="176.5" y2="101.5" stroke="#111" stroke-width="0.75"/>
<line x1="181.05" y1="98.5" x2="181.05" y2="100.5" stroke="#111" stroke-width="0.75"/>
<line x1="183.7" y1="98.5" x2="183.7" y2="100.5" stroke="#111" stroke-width="0.75"/>
<line x1="185.59" y1="98.5" x2="185.59" y2="100.5" stroke="#111" stroke-width="0.75"/>
<line x1="187.05" y1="98.5" x2="187.05" y2="100.5" stroke="#111" stroke-width="0.75"/>
<line x1="188.25" y1="98.5" x2="188.25" y2="100.5" stroke="#111" stroke-width="0.75"/>
<line x1="189.26" y1="98.5" x2="189.26" y2="100.5" stroke="#111" stroke-width="0.75"/>
<line x1="190.14" y1="98.5" x2="190.14" y2="100.5" stroke="#111" stroke-width="0.75"/>
<line x1="190.91" y1="98.5" x2="190.91" y2="100.5" stroke="#111" stroke-width="0.75"/>
<line x1="191.6" y1="98.5" x2="191.6" y2="100.9" stroke="#111" stroke-width="0.75"/>
<line x1="138.2" y1="98.5" x2="138.2" y2="100" stroke="#111" stroke-width="0.75"/>
<line x1="140.2" y1="98.5" x2="140.2" y2="100" stroke="#111" stroke-width="0.75"/>
<line x1="142.2" y1="98.5" x2="142.2" y2="100" stroke="#111" stroke-width="0.75"/>
<line x1="136.2" y1="98.5" x2="136.2" y2="100.9" stroke="#111" stroke-width="0.75"/>
<line x1="132.1" y1="98.5" x2="132.1" y2="99.7" stroke="#111" stroke-width="0.75"/>
<line x1="134.1" y1="98.5" x2="134.1" y2="99.7" stroke="#111" stroke-width="0.75"/>
<text x="136.1" y="111" font-size="6.3" text-anchor="middle" fill="#333">0</text>
<text x="139.35" y="111" font-size="6.3" fill="#333">10</text>
<text x="146.45" y="108.35" font-size="3.78" fill="#333">2</text>
<text x="156.85" y="111" font-size="6.3" fill="#333">10</text>
<text x="163.95" y="108.35" font-size="3.78" fill="#333">3</text>
<text x="172.35" y="111" font-size="6.3" fill="#333">10</text>
<text x="179.45" y="108.35" font-size="3.78" fill="#333">4</text>
<text x="187.05" y="111" font-size="6.3" fill="#333">10</text>
<text x="194.15" y="108.35" font-size="3.78" fill="#333">5</text>
<text x="131.4" y="35.3" font-size="3.9" fill="#555">30.4%</text>
<text x="195.7" y="35.3" font-size="3.9" text-anchor="end" fill="#555">1.44%</text>
<text x="131.4" y="96.9" font-size="3.9" fill="#555">60.7%</text>
<text x="195.7" y="96.9" font-size="3.9" text-anchor="end" fill="#555">7.44%</text>
<text x="163.25" y="25" font-size="8.4" text-anchor="middle" fill="#111">2</text>
<clipPath id="c2"><rect x="204.3" y="30.3" width="67.3" height="68.2"/></clipPath>
<path d="M229.6 86.1 L228.8 86.1 L228.1 86.2 L227.3 86.2 L226.6 86.1 L226.1 86.0 L225.3 85.8 L224.8 85.7 L224.3 85.5 L223.8 85.3 L223.3 85.0 L222.8 84.8 L222.3 84.5 L221.8 84.1 L221.3 83.8 L221.0 83.5 L220.6 83.2 L220.1 82.8 L219.8 82.5 L219.4 82.0 L219.1 81.6 L218.8 81.3 L218.4 80.8 L218.1 80.3 L217.8 80.0 L217.5 79.5 L217.2 79.0 L216.9 78.5 L216.6 78.0 L216.4 77.5 L216.2 77.0 L216.0 76.5 L215.8 76.0 L215.6 75.4 L215.3 74.8 L215.2 74.3 L215.1 73.7 L214.9 73.0 L214.8 72.5 L214.7 71.8 L214.6 71.0 L214.6 70.3 L214.5 69.8 L214.5 69.0 L214.6 68.5 L214.6 67.8 L214.7 67.0 L214.8 66.5 L215.0 65.8 L215.1 65.3 L215.3 64.5 L215.4 64.0 L215.6 63.5 L215.8 63.0 L216.1 62.4 L216.3 61.8 L216.5 61.3 L216.7 60.8 L216.9 60.3 L217.1 59.8 L217.3 59.3 L217.6 58.7 L217.8 58.1 L218.0 57.5 L218.1 57.0 L218.3 56.5 L218.5 55.8 L218.7 55.3 L218.8 54.8 L219.1 54.1 L219.2 53.5 L219.4 53.0 L219.6 52.5 L219.8 51.8 L220.0 51.3 L220.2 50.8 L220.4 50.3 L220.6 49.8 L220.8 49.3 L221.1 48.8 L221.3 48.3 L221.6 47.8 L222.0 47.3 L222.3 46.8 L222.6 46.5 L222.9 46.0 L223.3 45.7 L223.7 45.3 L224.1 45.0 L224.6 44.6 L224.9 44.3 L225.3 44.0 L225.8 43.7 L226.3 43.4 L226.8 43.2 L227.3 43.0 L228.0 42.8 L228.6 42.6 L229.1 42.5 L229.8 42.3 L230.3 42.3 L231.1 42.2 L231.8 42.1 L232.6 42.1 L233.3 42.1 L234.1 42.2 L234.8 42.3 L235.3 42.4 L236.1 42.5 L236.6 42.6 L237.2 42.8 L237.8 43.0 L238.3 43.2 L238.8 43.4 L239.3 43.6 L239.8 43.9 L240.3 44.2 L240.8 44.5 L241.2 44.8 L241.6 45.1 L242.1 45.5 L242.4 45.8 L242.8 46.2 L243.1 46.5 L243.5 47.0 L243.8 47.4 L244.1 47.8 L244.5 48.3 L244.8 48.7 L245.1 49.1 L245.4 49.5 L245.7 50.0 L246.0 50.5 L246.3 51.0 L246.6 51.4 L246.8 51.8 L247.1 52.3 L247.4 52.8 L247.7 53.3 L248.0 53.8 L248.2 54.3 L248.5 54.8 L248.8 55.3 L249.1 55.8 L249.3 56.3 L249.6 56.8 L249.8 57.3 L250.0 57.8 L250.2 58.3 L250.4 58.8 L250.6 59.3 L250.8 59.9 L251.0 60.5 L251.2 61.0 L251.3 61.5 L251.5 62.3 L251.6 62.8 L251.7 63.5 L251.8 64.3 L251.9 64.8 L251.9 65.5 L251.8 66.3 L251.8 66.8 L251.7 67.5 L251.6 68.2 L251.4 68.8 L251.3 69.3 L251.1 70.0 L250.9 70.5 L250.7 71.0 L250.4 71.5 L250.2 72.0 L249.9 72.5 L249.7 73.0 L249.3 73.5 L249.1 74.0 L248.8 74.3 L248.4 74.8 L248.1 75.3 L247.8 75.5 L247.3 76.0 L247.0 76.3 L246.6 76.7 L246.2 77.0 L245.8 77.3 L245.3 77.7 L244.9 78.0 L244.5 78.3 L244.1 78.6 L243.6 78.9 L243.1 79.3 L242.6 79.5 L242.2 79.8 L241.7 80.0 L241.3 80.3 L240.8 80.6 L240.3 80.9 L239.8 81.2 L239.3 81.5 L238.9 81.8 L238.5 82.0 L238.0 82.3 L237.6 82.6 L237.1 82.9 L236.6 83.2 L236.1 83.4 L235.6 83.7 L235.1 84.0 L234.6 84.3 L234.1 84.5 L233.6 84.8 L233.1 85.0 L232.6 85.2 L232.1 85.4 L231.6 85.6 L230.8 85.8 L230.3 85.9 L229.6 86.0Z" fill="none" stroke="#c4c4c4" stroke-width="0.45" clip-path="url(#c2)"/>
<path d="M228.6 83.8 L227.8 83.8 L227.3 83.8 L226.6 83.7 L226.0 83.5 L225.3 83.3 L224.8 83.1 L224.3 82.9 L223.8 82.6 L223.3 82.3 L222.9 82.0 L222.6 81.8 L222.1 81.4 L221.7 81.0 L221.3 80.7 L221.0 80.3 L220.6 79.8 L220.3 79.5 L220.0 79.0 L219.6 78.5 L219.3 78.1 L219.1 77.7 L218.8 77.3 L218.5 76.8 L218.3 76.3 L218.1 75.7 L217.8 75.1 L217.6 74.5 L217.4 74.0 L217.2 73.5 L217.1 73.0 L216.9 72.3 L216.7 71.8 L216.6 71.0 L216.5 70.5 L216.4 69.8 L216.3 69.0 L216.3 68.3 L216.4 67.5 L216.5 66.8 L216.6 66.3 L216.7 65.5 L216.8 65.0 L217.1 64.4 L217.2 63.8 L217.4 63.3 L217.7 62.8 L217.9 62.3 L218.1 61.8 L218.3 61.3 L218.6 60.8 L218.8 60.3 L219.1 59.7 L219.3 59.1 L219.5 58.5 L219.7 58.0 L219.8 57.5 L220.1 56.8 L220.2 56.3 L220.3 55.8 L220.5 55.0 L220.7 54.5 L220.8 54.0 L221.1 53.4 L221.3 52.8 L221.4 52.3 L221.6 51.8 L221.8 51.3 L222.1 50.7 L222.3 50.2 L222.6 49.7 L222.8 49.2 L223.1 48.8 L223.4 48.3 L223.8 47.8 L224.1 47.5 L224.4 47.0 L224.8 46.7 L225.3 46.3 L225.6 46.0 L226.1 45.7 L226.6 45.4 L227.1 45.2 L227.6 44.9 L228.1 44.7 L228.6 44.5 L229.3 44.4 L229.8 44.3 L230.6 44.1 L231.3 44.0 L231.8 44.0 L232.6 44.0 L233.3 44.0 L233.8 44.1 L234.6 44.2 L235.2 44.3 L235.8 44.4 L236.3 44.6 L237.0 44.8 L237.6 45.0 L238.1 45.2 L238.6 45.5 L239.1 45.7 L239.5 46.0 L239.9 46.3 L240.3 46.6 L240.8 47.0 L241.1 47.3 L241.6 47.8 L241.8 48.0 L242.2 48.5 L242.6 48.9 L242.8 49.3 L243.2 49.8 L243.5 50.3 L243.8 50.7 L244.1 51.1 L244.3 51.5 L244.6 52.0 L244.9 52.5 L245.2 53.0 L245.5 53.5 L245.8 54.0 L246.0 54.5 L246.3 55.0 L246.6 55.5 L246.8 55.9 L247.1 56.4 L247.3 56.8 L247.6 57.3 L247.8 57.8 L248.1 58.3 L248.3 58.8 L248.6 59.3 L248.8 59.9 L249.1 60.4 L249.3 61.0 L249.5 61.5 L249.7 62.0 L249.9 62.5 L250.1 63.3 L250.2 63.8 L250.3 64.5 L250.3 65.0 L250.3 65.8 L250.3 66.3 L250.2 67.0 L250.1 67.8 L249.9 68.3 L249.7 68.8 L249.5 69.3 L249.3 69.9 L249.1 70.4 L248.8 70.8 L248.5 71.3 L248.2 71.8 L247.9 72.3 L247.6 72.7 L247.3 73.0 L246.8 73.5 L246.6 73.9 L246.1 74.3 L245.8 74.6 L245.3 75.0 L245.0 75.3 L244.6 75.7 L244.1 76.0 L243.7 76.3 L243.3 76.6 L242.8 76.9 L242.3 77.2 L241.8 77.5 L241.4 77.8 L241.0 78.0 L240.6 78.3 L240.1 78.6 L239.6 78.9 L239.1 79.2 L238.6 79.5 L238.1 79.8 L237.6 80.0 L237.2 80.3 L236.8 80.5 L236.3 80.8 L235.8 81.1 L235.3 81.4 L234.8 81.6 L234.3 81.9 L233.8 82.2 L233.3 82.4 L232.8 82.6 L232.3 82.8 L231.8 83.0 L231.1 83.3 L230.6 83.5 L230.1 83.6 L229.3 83.7 L228.7 83.8Z" fill="none" stroke="#c4c4c4" stroke-width="0.45" clip-path="url(#c2)"/>
<path d="M229.8 81.6 L229.1 81.7 L228.3 81.8 L227.6 81.8 L226.8 81.6 L226.3 81.5 L225.8 81.3 L225.2 81.0 L224.8 80.8 L224.3 80.5 L223.8 80.2 L223.3 79.8 L223.1 79.5 L222.6 79.0 L222.3 78.8 L221.9 78.3 L221.6 77.9 L221.3 77.5 L220.9 77.0 L220.6 76.5 L220.3 76.1 L220.1 75.6 L219.8 75.1 L219.6 74.7 L219.3 74.1 L219.1 73.6 L218.8 73.0 L218.6 72.5 L218.4 72.0 L218.2 71.5 L218.0 71.0 L217.8 70.5 L217.6 69.8 L217.5 69.3 L217.4 68.5 L217.4 67.8 L217.5 67.0 L217.6 66.4 L217.6 65.8 L217.8 65.1 L218.0 64.5 L218.2 64.0 L218.4 63.5 L218.6 63.0 L218.8 62.5 L219.1 62.0 L219.3 61.5 L219.6 61.0 L219.8 60.5 L220.1 60.0 L220.3 59.4 L220.6 58.8 L220.7 58.3 L220.9 57.8 L221.1 57.2 L221.2 56.5 L221.4 56.0 L221.6 55.3 L221.7 54.8 L221.8 54.3 L222.1 53.6 L222.2 53.0 L222.4 52.5 L222.6 52.0 L222.8 51.5 L223.1 50.9 L223.3 50.4 L223.6 50.0 L223.8 49.5 L224.1 49.0 L224.5 48.5 L224.8 48.2 L225.2 47.8 L225.6 47.5 L226.1 47.1 L226.4 46.8 L226.8 46.5 L227.3 46.3 L227.8 46.0 L228.4 45.8 L229.1 45.6 L229.6 45.5 L230.3 45.3 L230.8 45.2 L231.6 45.2 L232.3 45.1 L233.1 45.2 L233.8 45.3 L234.3 45.3 L235.1 45.5 L235.6 45.6 L236.3 45.8 L236.8 46.0 L237.3 46.2 L237.8 46.4 L238.3 46.7 L238.8 47.0 L239.2 47.3 L239.6 47.6 L240.1 48.0 L240.4 48.3 L240.8 48.8 L241.1 49.0 L241.4 49.5 L241.8 50.0 L242.1 50.4 L242.4 50.8 L242.7 51.3 L243.0 51.8 L243.3 52.3 L243.6 52.8 L243.8 53.2 L244.1 53.7 L244.3 54.2 L244.6 54.7 L244.8 55.2 L245.1 55.7 L245.3 56.1 L245.6 56.6 L245.8 57.0 L246.1 57.5 L246.4 58.0 L246.7 58.5 L247.1 59.0 L247.3 59.5 L247.6 59.9 L247.8 60.3 L248.1 60.8 L248.4 61.3 L248.6 61.8 L248.8 62.3 L249.1 62.9 L249.2 63.5 L249.4 64.0 L249.5 64.8 L249.5 65.5 L249.5 66.3 L249.4 67.0 L249.3 67.5 L249.1 68.2 L248.8 68.8 L248.6 69.3 L248.3 69.8 L248.1 70.2 L247.8 70.6 L247.5 71.0 L247.1 71.5 L246.8 71.9 L246.4 72.3 L246.1 72.6 L245.6 73.0 L245.2 73.3 L244.8 73.6 L244.3 74.0 L243.9 74.3 L243.5 74.5 L243.1 74.9 L242.6 75.2 L242.1 75.5 L241.6 75.8 L241.2 76.0 L240.8 76.3 L240.3 76.6 L239.8 76.9 L239.3 77.2 L238.8 77.5 L238.3 77.8 L237.8 78.0 L237.3 78.3 L236.9 78.5 L236.4 78.8 L236.0 79.0 L235.5 79.3 L235.0 79.5 L234.5 79.8 L233.9 80.0 L233.4 80.3 L232.9 80.5 L232.3 80.8 L231.8 81.0 L231.3 81.2 L230.8 81.3 L230.1 81.5Z" fill="none" stroke="#c4c4c4" stroke-width="0.45" clip-path="url(#c2)"/>
<path d="M229.6 76.8 L228.8 77.0 L228.1 77.0 L227.3 76.8 L226.8 76.6 L226.4 76.3 L226.1 76.0 L225.6 75.5 L225.3 75.3 L224.9 74.8 L224.6 74.4 L224.2 74.0 L223.8 73.5 L223.6 73.2 L223.3 72.8 L222.9 72.3 L222.6 71.9 L222.3 71.5 L222.0 71.0 L221.6 70.5 L221.3 70.1 L221.1 69.7 L220.8 69.2 L220.6 68.7 L220.3 68.1 L220.2 67.5 L220.1 67.0 L220.0 66.3 L220.1 65.6 L220.2 65.0 L220.3 64.5 L220.6 64.0 L220.8 63.5 L221.1 63.0 L221.5 62.5 L221.8 62.1 L222.1 61.7 L222.4 61.3 L222.7 60.8 L223.0 60.3 L223.3 59.9 L223.6 59.4 L223.8 58.8 L223.9 58.3 L224.1 57.8 L224.2 57.0 L224.3 56.4 L224.4 55.8 L224.5 55.0 L224.6 54.5 L224.8 53.9 L225.0 53.3 L225.1 52.8 L225.3 52.3 L225.6 51.8 L225.9 51.3 L226.2 50.8 L226.6 50.4 L226.9 50.0 L227.3 49.6 L227.7 49.3 L228.1 49.0 L228.6 48.8 L229.2 48.5 L229.8 48.4 L230.3 48.2 L231.1 48.1 L231.8 48.1 L232.6 48.1 L233.3 48.2 L233.9 48.3 L234.6 48.5 L235.1 48.6 L235.6 48.8 L236.1 49.1 L236.6 49.3 L237.1 49.7 L237.5 50.0 L237.8 50.3 L238.2 50.8 L238.6 51.2 L238.8 51.5 L239.2 52.0 L239.4 52.5 L239.7 53.0 L240.0 53.5 L240.2 54.0 L240.4 54.5 L240.6 55.0 L240.9 55.5 L241.1 56.0 L241.3 56.6 L241.6 57.0 L241.8 57.5 L242.2 58.0 L242.6 58.5 L242.8 58.8 L243.3 59.2 L243.6 59.5 L244.1 59.9 L244.6 60.3 L244.9 60.5 L245.3 60.9 L245.8 61.3 L246.1 61.5 L246.6 62.0 L246.8 62.3 L247.2 62.8 L247.5 63.3 L247.8 63.8 L248.0 64.3 L248.2 64.8 L248.3 65.5 L248.2 66.3 L248.1 67.0 L247.9 67.5 L247.6 68.0 L247.3 68.5 L247.1 68.8 L246.6 69.3 L246.3 69.6 L245.8 70.0 L245.4 70.3 L245.0 70.5 L244.6 70.8 L244.1 71.1 L243.6 71.3 L243.1 71.6 L242.5 71.8 L241.8 72.0 L241.3 72.2 L240.8 72.4 L240.3 72.6 L239.8 72.8 L239.2 73.0 L238.6 73.3 L238.1 73.5 L237.6 73.7 L237.1 73.9 L236.6 74.1 L236.1 74.3 L235.5 74.5 L234.9 74.8 L234.3 75.0 L233.8 75.3 L233.3 75.5 L232.8 75.7 L232.3 75.9 L231.8 76.1 L231.2 76.3 L230.6 76.5 L230.1 76.7 L229.6 76.8Z" fill="none" stroke="#c3c3c3" stroke-width="0.45" clip-path="url(#c2)"/>
<path d="M229.3 75.8 L228.6 75.9 L227.8 75.9 L227.3 75.6 L226.8 75.3 L226.5 75.0 L226.1 74.7 L225.7 74.3 L225.3 73.9 L225.0 73.5 L224.6 73.1 L224.3 72.8 L223.9 72.3 L223.6 71.9 L223.3 71.5 L222.8 71.0 L222.6 70.7 L222.3 70.3 L221.9 69.8 L221.6 69.3 L221.3 68.8 L221.1 68.3 L220.9 67.8 L220.8 67.3 L220.6 66.5 L220.7 65.8 L220.8 65.0 L221.0 64.5 L221.2 64.0 L221.5 63.5 L221.8 63.0 L222.1 62.7 L222.3 62.3 L222.7 61.8 L223.1 61.4 L223.3 61.0 L223.7 60.5 L224.0 60.0 L224.3 59.5 L224.5 59.0 L224.7 58.5 L224.8 58.0 L224.9 57.3 L225.1 56.6 L225.1 56.0 L225.2 55.3 L225.3 54.8 L225.5 54.0 L225.6 53.5 L225.8 53.0 L226.1 52.5 L226.3 52.0 L226.6 51.5 L226.9 51.0 L227.3 50.6 L227.6 50.3 L228.1 49.9 L228.6 49.6 L229.1 49.3 L229.6 49.1 L230.1 49.0 L230.8 48.8 L231.3 48.8 L232.1 48.7 L232.8 48.8 L233.3 48.9 L234.1 49.0 L234.6 49.2 L235.1 49.4 L235.6 49.6 L236.1 49.8 L236.6 50.2 L237.0 50.5 L237.3 50.8 L237.7 51.3 L238.1 51.7 L238.3 52.1 L238.6 52.5 L238.9 53.0 L239.1 53.5 L239.4 54.0 L239.6 54.5 L239.8 55.1 L240.1 55.7 L240.3 56.3 L240.5 56.8 L240.8 57.3 L241.1 57.7 L241.3 58.1 L241.7 58.5 L242.1 59.0 L242.4 59.3 L242.8 59.6 L243.3 60.0 L243.8 60.3 L244.1 60.5 L244.6 60.8 L245.1 61.2 L245.5 61.5 L245.8 61.8 L246.3 62.3 L246.6 62.6 L246.9 63.0 L247.3 63.5 L247.5 64.0 L247.7 64.5 L247.8 65.0 L247.9 65.8 L247.8 66.5 L247.7 67.0 L247.5 67.5 L247.2 68.0 L246.8 68.5 L246.6 68.8 L246.1 69.3 L245.8 69.5 L245.3 69.9 L244.8 70.2 L244.3 70.5 L243.8 70.8 L243.3 71.0 L242.8 71.2 L242.3 71.4 L241.8 71.5 L241.1 71.8 L240.6 72.0 L240.1 72.1 L239.5 72.3 L238.8 72.5 L238.3 72.7 L237.8 72.9 L237.3 73.1 L236.7 73.3 L236.1 73.5 L235.6 73.7 L235.1 73.9 L234.6 74.1 L233.9 74.3 L233.3 74.5 L232.8 74.7 L232.3 74.9 L231.8 75.1 L231.1 75.3 L230.6 75.5 L230.1 75.6 L229.5 75.8Z" fill="none" stroke="#c1c1c1" stroke-width="0.45" clip-path="url(#c2)"/>
<path d="M232.6 73.8 L231.8 74.0 L231.1 73.9 L230.3 73.8 L229.8 73.8 L229.1 73.6 L228.6 73.5 L227.8 73.4 L227.3 73.2 L226.6 73.0 L226.1 72.9 L225.6 72.7 L225.1 72.3 L224.8 72.0 L224.3 71.5 L224.1 71.2 L223.6 70.8 L223.3 70.4 L223.0 70.0 L222.6 69.5 L222.3 69.1 L222.1 68.6 L221.8 68.1 L221.6 67.5 L221.4 67.0 L221.4 66.3 L221.4 65.5 L221.6 64.9 L221.8 64.3 L222.1 63.8 L222.3 63.4 L222.6 63.0 L222.9 62.5 L223.3 62.1 L223.6 61.8 L224.0 61.3 L224.3 60.9 L224.6 60.5 L224.9 60.0 L225.2 59.5 L225.4 59.0 L225.6 58.5 L225.8 57.8 L225.9 57.3 L226.0 56.5 L226.0 55.8 L226.1 55.3 L226.3 54.5 L226.4 54.0 L226.6 53.5 L226.8 52.8 L227.1 52.3 L227.3 51.9 L227.6 51.5 L228.0 51.0 L228.3 50.7 L228.8 50.4 L229.3 50.1 L229.8 49.9 L230.3 49.7 L231.1 49.6 L231.6 49.5 L232.3 49.5 L232.8 49.6 L233.6 49.7 L234.1 49.8 L234.7 50.0 L235.2 50.3 L235.7 50.5 L236.1 50.8 L236.6 51.2 L236.9 51.5 L237.3 52.0 L237.6 52.4 L237.8 52.9 L238.1 53.3 L238.3 53.8 L238.6 54.4 L238.8 55.0 L239.0 55.5 L239.2 56.0 L239.4 56.5 L239.6 57.0 L239.9 57.5 L240.2 58.0 L240.6 58.5 L240.8 58.8 L241.3 59.3 L241.7 59.5 L242.1 59.8 L242.6 60.1 L243.1 60.5 L243.6 60.8 L244.0 61.0 L244.4 61.3 L244.8 61.6 L245.3 61.9 L245.7 62.3 L246.1 62.6 L246.4 63.0 L246.8 63.5 L247.1 64.0 L247.3 64.5 L247.4 65.0 L247.5 65.8 L247.4 66.5 L247.2 67.0 L247.0 67.5 L246.7 68.0 L246.3 68.5 L246.1 68.8 L245.6 69.3 L245.2 69.5 L244.8 69.8 L244.3 70.1 L243.8 70.3 L243.2 70.5 L242.6 70.8 L242.1 71.0 L241.6 71.1 L240.9 71.3 L240.3 71.5 L239.8 71.6 L239.2 71.8 L238.6 72.0 L238.1 72.1 L237.5 72.3 L236.8 72.5 L236.3 72.7 L235.8 72.8 L235.1 73.0 L234.6 73.2 L234.1 73.4 L233.4 73.5 L232.8 73.7Z" fill="none" stroke="#bfbfbf" stroke-width="0.45" clip-path="url(#c2)"/>
<path d="M234.1 72.6 L233.3 72.6 L232.6 72.6 L232.1 72.5 L231.3 72.5 L230.6 72.4 L229.8 72.3 L229.3 72.3 L228.6 72.1 L228.1 72.0 L227.3 71.9 L226.8 71.7 L226.2 71.5 L225.6 71.3 L225.1 71.2 L224.6 70.8 L224.3 70.5 L223.9 70.0 L223.6 69.6 L223.3 69.3 L222.9 68.8 L222.6 68.3 L222.4 67.8 L222.2 67.3 L222.1 66.5 L222.1 65.8 L222.2 65.0 L222.4 64.5 L222.7 64.0 L223.0 63.5 L223.3 63.1 L223.6 62.8 L223.9 62.3 L224.3 61.9 L224.6 61.5 L225.0 61.0 L225.3 60.7 L225.6 60.3 L226.0 59.8 L226.2 59.3 L226.4 58.8 L226.6 58.3 L226.8 57.5 L226.8 57.0 L226.9 56.3 L227.0 55.5 L227.1 55.0 L227.2 54.3 L227.4 53.8 L227.6 53.3 L227.8 52.7 L228.1 52.3 L228.4 51.8 L228.8 51.4 L229.3 51.0 L229.7 50.8 L230.3 50.5 L230.8 50.4 L231.6 50.3 L232.3 50.3 L233.1 50.4 L233.7 50.5 L234.3 50.8 L234.8 51.0 L235.3 51.3 L235.7 51.5 L236.1 51.9 L236.4 52.3 L236.8 52.8 L237.1 53.2 L237.3 53.7 L237.6 54.3 L237.8 54.8 L238.0 55.3 L238.1 55.8 L238.3 56.3 L238.6 56.9 L238.8 57.4 L239.1 57.9 L239.3 58.3 L239.7 58.8 L240.1 59.1 L240.6 59.5 L240.9 59.8 L241.3 60.0 L241.8 60.3 L242.3 60.6 L242.8 60.9 L243.3 61.1 L243.8 61.4 L244.3 61.7 L244.8 62.0 L245.1 62.3 L245.6 62.6 L245.9 63.0 L246.3 63.5 L246.6 63.9 L246.8 64.4 L247.0 65.0 L247.1 65.5 L247.1 66.2 L246.9 66.8 L246.7 67.3 L246.4 67.8 L246.1 68.3 L245.8 68.6 L245.3 69.0 L244.9 69.3 L244.5 69.5 L244.0 69.8 L243.5 70.0 L242.8 70.3 L242.3 70.5 L241.8 70.6 L241.1 70.8 L240.6 70.9 L240.0 71.0 L239.3 71.2 L238.8 71.4 L238.1 71.5 L237.6 71.7 L237.1 71.8 L236.3 72.0 L235.8 72.2 L235.3 72.3 L234.6 72.5 L234.1 72.6Z" fill="none" stroke="#bcbcbc" stroke-width="0.45" clip-path="url(#c2)"/>
<path d="M235.8 71.6 L235.1 71.6 L234.3 71.7 L233.6 71.7 L232.8 71.7 L232.1 71.7 L231.3 71.6 L230.8 71.5 L230.1 71.5 L229.3 71.4 L228.8 71.3 L228.1 71.1 L227.6 71.0 L226.9 70.8 L226.3 70.6 L225.8 70.5 L225.3 70.3 L224.8 70.0 L224.3 69.5 L224.1 69.2 L223.7 68.8 L223.4 68.3 L223.1 67.8 L222.9 67.3 L222.8 66.7 L222.7 66.0 L222.8 65.5 L223.0 64.8 L223.2 64.3 L223.5 63.8 L223.8 63.4 L224.1 63.0 L224.5 62.5 L224.8 62.2 L225.2 61.8 L225.6 61.4 L225.9 61.0 L226.3 60.6 L226.6 60.3 L226.9 59.8 L227.2 59.3 L227.4 58.8 L227.6 58.3 L227.7 57.5 L227.8 56.9 L227.9 56.3 L227.9 55.5 L228.1 54.9 L228.2 54.3 L228.3 53.8 L228.6 53.3 L228.8 52.8 L229.2 52.3 L229.6 51.9 L230.1 51.6 L230.6 51.4 L231.1 51.2 L231.8 51.1 L232.6 51.2 L233.2 51.3 L233.8 51.5 L234.3 51.7 L234.8 52.0 L235.2 52.3 L235.6 52.6 L235.9 53.0 L236.2 53.5 L236.5 54.0 L236.7 54.5 L236.9 55.0 L237.1 55.5 L237.2 56.3 L237.3 57.0 L237.4 57.5 L237.6 58.0 L238.0 58.5 L238.3 58.8 L238.8 59.1 L239.3 59.4 L239.8 59.8 L240.2 60.0 L240.6 60.3 L241.1 60.5 L241.6 60.8 L242.2 61.0 L242.7 61.3 L243.2 61.5 L243.7 61.8 L244.2 62.0 L244.6 62.3 L245.1 62.7 L245.5 63.0 L245.8 63.4 L246.1 63.8 L246.4 64.3 L246.6 64.8 L246.7 65.5 L246.7 66.3 L246.5 66.8 L246.3 67.3 L246.0 67.8 L245.6 68.3 L245.3 68.5 L244.8 68.9 L244.3 69.3 L243.8 69.5 L243.3 69.7 L242.8 69.9 L242.3 70.1 L241.6 70.3 L241.1 70.4 L240.3 70.5 L239.8 70.7 L239.2 70.8 L238.6 70.9 L238.1 71.1 L237.3 71.2 L236.8 71.4 L236.1 71.5Z" fill="none" stroke="#b8b8b8" stroke-width="0.45" clip-path="url(#c2)"/>
<path d="M237.1 70.8 L236.3 70.9 L235.6 70.9 L234.8 71.0 L234.1 71.0 L233.3 71.0 L232.6 71.0 L231.8 70.9 L231.1 70.9 L230.3 70.8 L229.8 70.7 L229.1 70.6 L228.6 70.5 L227.8 70.3 L227.3 70.2 L226.8 70.0 L226.2 69.8 L225.6 69.6 L225.1 69.3 L224.7 69.0 L224.3 68.5 L224.1 68.1 L223.8 67.6 L223.6 67.0 L223.5 66.5 L223.4 65.8 L223.6 65.2 L223.8 64.5 L224.0 64.0 L224.3 63.7 L224.6 63.3 L225.0 62.8 L225.3 62.5 L225.8 62.0 L226.1 61.8 L226.5 61.3 L226.8 61.0 L227.2 60.5 L227.6 60.2 L227.9 59.8 L228.2 59.3 L228.5 58.8 L228.7 58.3 L228.8 57.5 L228.8 57.0 L228.9 56.3 L229.0 55.5 L229.1 55.0 L229.2 54.3 L229.4 53.8 L229.7 53.3 L230.1 52.8 L230.4 52.5 L230.8 52.3 L231.6 52.1 L232.3 52.1 L233.1 52.2 L233.6 52.4 L234.1 52.6 L234.5 53.0 L234.7 53.5 L234.9 54.0 L235.0 54.8 L234.9 55.5 L234.8 56.3 L234.8 56.8 L234.8 57.5 L234.9 58.0 L235.3 58.5 L235.6 58.8 L236.1 59.1 L236.6 59.4 L237.1 59.6 L237.6 59.8 L238.2 60.0 L238.8 60.3 L239.3 60.4 L239.9 60.5 L240.5 60.8 L241.1 61.0 L241.6 61.3 L242.1 61.4 L242.6 61.7 L243.1 61.9 L243.6 62.1 L244.1 62.4 L244.6 62.7 L244.9 63.0 L245.3 63.4 L245.6 63.8 L245.9 64.3 L246.2 64.8 L246.3 65.5 L246.3 66.0 L246.2 66.5 L246.0 67.0 L245.7 67.5 L245.3 68.0 L245.1 68.3 L244.6 68.7 L244.1 69.0 L243.6 69.3 L243.1 69.5 L242.6 69.6 L242.0 69.8 L241.3 70.0 L240.8 70.1 L240.1 70.2 L239.5 70.3 L238.8 70.4 L238.3 70.6 L237.6 70.7 L237.1 70.8Z" fill="none" stroke="#b4b4b4" stroke-width="0.45" clip-path="url(#c2)"/>
<path d="M236.3 70.3 L235.6 70.4 L234.8 70.4 L234.1 70.4 L233.3 70.4 L232.6 70.4 L231.8 70.4 L231.1 70.3 L230.6 70.2 L229.8 70.1 L229.3 70.0 L228.6 69.9 L228.1 69.7 L227.4 69.5 L226.8 69.3 L226.3 69.1 L225.8 68.9 L225.3 68.7 L224.9 68.3 L224.6 67.8 L224.4 67.3 L224.2 66.8 L224.1 66.0 L224.2 65.3 L224.3 64.8 L224.6 64.3 L224.9 63.8 L225.3 63.3 L225.6 63.0 L226.0 62.5 L226.3 62.3 L226.8 61.8 L227.1 61.5 L227.6 61.2 L228.1 60.8 L228.6 60.6 L229.1 60.4 L229.6 60.2 L230.1 60.0 L230.7 59.8 L231.3 59.7 L232.1 59.6 L232.8 59.6 L233.6 59.7 L234.1 59.8 L234.8 60.0 L235.3 60.1 L235.9 60.3 L236.6 60.5 L237.1 60.6 L237.8 60.8 L238.3 60.9 L239.1 61.0 L239.6 61.1 L240.3 61.2 L240.8 61.4 L241.3 61.6 L241.9 61.8 L242.5 62.0 L243.1 62.3 L243.6 62.5 L244.0 62.8 L244.4 63.0 L244.8 63.4 L245.2 63.8 L245.5 64.3 L245.7 64.8 L245.9 65.3 L245.9 66.0 L245.8 66.5 L245.6 67.1 L245.3 67.5 L244.8 68.0 L244.5 68.3 L244.1 68.6 L243.6 68.9 L243.1 69.1 L242.5 69.3 L241.8 69.5 L241.3 69.6 L240.6 69.7 L240.1 69.8 L239.3 70.0 L238.8 70.0 L238.1 70.2 L237.3 70.2 L236.6 70.3Z" fill="none" stroke="#aeaeae" stroke-width="0.45" clip-path="url(#c2)"/>
<path d="M236.3 69.8 L235.6 69.9 L234.8 69.9 L234.1 69.9 L233.3 69.9 L232.6 69.9 L231.8 69.8 L231.3 69.8 L230.6 69.7 L229.8 69.6 L229.3 69.5 L228.7 69.3 L228.1 69.1 L227.6 68.9 L227.1 68.7 L226.6 68.5 L226.1 68.2 L225.6 67.9 L225.2 67.5 L225.0 67.0 L224.9 66.3 L224.9 65.5 L225.0 64.8 L225.3 64.3 L225.6 63.9 L225.8 63.5 L226.3 63.0 L226.6 62.8 L227.1 62.3 L227.4 62.0 L227.9 61.8 L228.5 61.5 L229.1 61.4 L229.6 61.2 L230.1 61.0 L230.8 60.9 L231.4 60.8 L232.1 60.7 L232.8 60.7 L233.6 60.7 L234.1 60.8 L234.8 60.9 L235.6 61.0 L236.1 61.1 L236.8 61.2 L237.3 61.3 L238.1 61.5 L238.6 61.5 L239.3 61.6 L240.1 61.7 L240.7 61.8 L241.3 62.0 L241.8 62.2 L242.3 62.3 L242.8 62.5 L243.3 62.8 L243.8 63.1 L244.3 63.5 L244.6 63.8 L245.0 64.3 L245.3 64.8 L245.4 65.3 L245.4 66.0 L245.3 66.6 L245.1 67.1 L244.7 67.5 L244.3 68.0 L243.9 68.3 L243.5 68.5 L242.9 68.8 L242.3 69.0 L241.8 69.2 L241.1 69.3 L240.6 69.4 L239.8 69.5 L239.3 69.6 L238.6 69.7 L237.8 69.7 L237.1 69.8 L236.5 69.8Z" fill="none" stroke="#a7a7a7" stroke-width="0.45" clip-path="url(#c2)"/>
<path d="M236.8 69.3 L236.1 69.4 L235.3 69.4 L234.6 69.4 L233.8 69.4 L233.1 69.4 L232.3 69.4 L231.6 69.3 L231.1 69.2 L230.3 69.1 L229.8 69.0 L229.1 68.8 L228.6 68.6 L228.1 68.4 L227.6 68.2 L227.1 67.9 L226.7 67.5 L226.3 67.1 L226.0 66.8 L225.7 66.3 L225.6 65.5 L225.7 64.8 L225.9 64.3 L226.3 63.8 L226.6 63.5 L227.0 63.0 L227.4 62.8 L228.0 62.5 L228.5 62.3 L229.1 62.1 L229.6 62.0 L230.1 61.8 L230.8 61.7 L231.5 61.5 L232.1 61.5 L232.8 61.5 L233.6 61.5 L234.3 61.5 L234.8 61.6 L235.6 61.6 L236.3 61.8 L236.8 61.8 L237.6 62.0 L238.3 62.0 L238.8 62.1 L239.6 62.2 L240.3 62.2 L241.0 62.3 L241.6 62.5 L242.1 62.6 L242.6 62.8 L243.1 63.0 L243.6 63.4 L244.0 63.8 L244.3 64.1 L244.6 64.6 L244.7 65.3 L244.7 66.0 L244.6 66.7 L244.3 67.2 L244.1 67.6 L243.6 68.0 L243.2 68.3 L242.6 68.5 L242.1 68.8 L241.6 68.9 L240.8 69.0 L240.3 69.1 L239.6 69.2 L238.8 69.2 L238.1 69.2 L237.3 69.3 L236.8 69.3Z" fill="none" stroke="#9e9e9e" stroke-width="0.45" clip-path="url(#c2)"/>
<path d="M237.3 68.8 L236.6 68.9 L235.8 68.9 L235.1 68.9 L234.3 69.0 L233.6 69.0 L232.8 68.9 L232.1 68.9 L231.6 68.8 L230.8 68.6 L230.3 68.5 L229.7 68.3 L229.3 68.0 L228.8 67.6 L228.8 67.3 L229.2 66.8 L228.8 66.4 L228.3 66.2 L227.7 66.0 L227.2 65.8 L226.8 65.5 L226.6 64.9 L226.6 64.5 L227.0 64.0 L227.3 63.7 L227.8 63.4 L228.3 63.1 L228.8 62.9 L229.3 62.7 L229.8 62.5 L230.6 62.4 L231.1 62.3 L231.8 62.1 L232.6 62.1 L233.3 62.1 L234.1 62.1 L234.8 62.1 L235.6 62.2 L236.2 62.3 L236.8 62.4 L237.6 62.5 L238.2 62.5 L238.8 62.6 L239.6 62.6 L240.3 62.6 L241.1 62.7 L241.6 62.8 L242.2 63.0 L242.7 63.3 L243.1 63.5 L243.6 64.0 L243.8 64.5 L243.7 65.3 L243.6 66.0 L243.7 66.8 L243.5 67.3 L243.2 67.8 L242.8 68.1 L242.3 68.3 L241.6 68.5 L241.1 68.6 L240.3 68.7 L239.6 68.8 L238.8 68.8 L238.1 68.8 L237.4 68.8Z" fill="none" stroke="#959595" stroke-width="0.45" clip-path="url(#c2)"/>
<path d="M240.8 68.3 L240.1 68.4 L239.3 68.3 L238.6 68.3 L238.1 68.3 L237.6 68.3 L236.8 68.3 L236.1 68.4 L235.3 68.4 L234.6 68.4 L233.8 68.4 L233.1 68.4 L232.6 68.3 L231.8 68.1 L231.5 67.8 L231.7 67.3 L232.1 66.9 L232.1 66.4 L231.6 66.0 L231.1 65.9 L230.6 65.7 L229.8 65.6 L229.3 65.5 L228.6 65.3 L228.2 65.0 L228.0 64.5 L228.3 64.0 L228.6 63.8 L229.1 63.5 L229.6 63.3 L230.3 63.0 L230.8 62.9 L231.4 62.8 L232.1 62.7 L232.8 62.6 L233.6 62.6 L234.3 62.6 L235.1 62.7 L235.8 62.8 L236.3 62.8 L237.1 62.9 L237.8 63.0 L238.3 63.1 L239.1 63.1 L239.8 63.1 L240.6 63.1 L240.8 63.0 L241.6 63.2 L242.1 63.4 L242.6 63.7 L242.9 64.0 L243.1 64.5 L243.1 65.2 L243.0 65.8 L243.0 66.5 L242.9 67.3 L242.6 67.7 L242.1 68.0 L241.6 68.2 L241.0 68.3Z" fill="none" stroke="#8a8a8a" stroke-width="0.45" clip-path="url(#c2)"/>
<path d="M241.3 67.9 L240.6 68.0 L239.8 67.9 L239.1 67.8 L238.5 67.8 L237.8 67.8 L237.1 67.8 L236.3 67.8 L235.6 67.8 L234.8 67.7 L234.1 67.5 L233.8 67.0 L233.7 66.5 L233.3 66.1 L232.8 65.8 L232.3 65.6 L231.8 65.5 L231.2 65.3 L230.6 65.1 L230.1 64.9 L229.6 64.5 L229.9 64.0 L230.3 63.8 L230.9 63.5 L231.6 63.4 L232.1 63.3 L232.8 63.2 L233.6 63.2 L234.3 63.2 L235.1 63.2 L235.6 63.3 L236.3 63.4 L237.1 63.5 L237.8 63.5 L238.3 63.6 L239.1 63.6 L239.6 63.5 L240.3 63.5 L241.1 63.5 L241.6 63.6 L242.1 63.9 L242.4 64.3 L242.6 64.8 L242.6 65.5 L242.5 66.0 L242.5 66.8 L242.3 67.3 L241.8 67.7 L241.3 67.9Z" fill="none" stroke="#7d7d7d" stroke-width="0.45" clip-path="url(#c2)"/>
<path d="M241.3 67.4 L240.6 67.5 L239.8 67.4 L239.1 67.3 L238.6 67.2 L237.8 67.1 L237.2 67.0 L236.6 66.9 L236.0 66.8 L235.5 66.5 L235.1 66.2 L234.6 65.9 L234.1 65.6 L233.6 65.4 L233.1 65.2 L232.6 65.0 L232.1 64.8 L231.8 64.4 L232.3 64.0 L232.8 63.9 L233.6 63.8 L234.3 63.8 L235.1 63.9 L235.8 64.0 L236.5 64.0 L237.1 64.1 L237.8 64.2 L238.6 64.2 L239.3 64.1 L239.8 64.0 L240.6 64.0 L241.3 64.0 L241.8 64.3 L242.1 64.8 L242.1 65.3 L242.1 66.0 L242.0 66.5 L241.8 67.1 L241.3 67.4Z" fill="none" stroke="#6f6f6f" stroke-width="0.45" clip-path="url(#c2)"/>
<path d="M241.3 66.9 L240.6 67.0 L239.8 66.9 L239.3 66.7 L238.8 66.5 L238.2 66.3 L237.6 66.0 L237.1 65.8 L236.7 65.5 L236.6 65.2 L237.3 65.1 L237.8 65.0 L238.6 64.9 L239.1 64.8 L239.8 64.6 L240.3 64.5 L241.1 64.5 L241.5 64.8 L241.7 65.3 L241.7 66.0 L241.6 66.6Z" fill="none" stroke="#606060" stroke-width="0.45" clip-path="url(#c2)"/>
<ellipse cx="222" cy="99" rx="8" ry="3" fill="none" stroke="#c4c4c4" stroke-width="0.45" clip-path="url(#c2)"/>
<ellipse cx="222" cy="99" rx="5" ry="1.8" fill="none" stroke="#c4c4c4" stroke-width="0.45" clip-path="url(#c2)"/>
<line x1="239.5" y1="30.3" x2="239.5" y2="98.5" stroke="#a8a8a8" stroke-width="0.8"/>
<line x1="204.3" y1="56.5" x2="271.6" y2="56.5" stroke="#b0b0b0" stroke-width="0.8"/>
<rect x="204.3" y="30.3" width="67.3" height="68.2" fill="none" stroke="#222" stroke-width="1.1"/>
<line x1="201.3" y1="83.5" x2="204.3" y2="83.5" stroke="#111" stroke-width="0.75"/>
<line x1="202.3" y1="78.53" x2="204.3" y2="78.53" stroke="#111" stroke-width="0.75"/>
<line x1="202.3" y1="75.63" x2="204.3" y2="75.63" stroke="#111" stroke-width="0.75"/>
<line x1="202.3" y1="73.57" x2="204.3" y2="73.57" stroke="#111" stroke-width="0.75"/>
<line x1="202.3" y1="71.97" x2="204.3" y2="71.97" stroke="#111" stroke-width="0.75"/>
<line x1="202.3" y1="70.66" x2="204.3" y2="70.66" stroke="#111" stroke-width="0.75"/>
<line x1="202.3" y1="69.56" x2="204.3" y2="69.56" stroke="#111" stroke-width="0.75"/>
<line x1="202.3" y1="68.6" x2="204.3" y2="68.6" stroke="#111" stroke-width="0.75"/>
<line x1="202.3" y1="67.75" x2="204.3" y2="67.75" stroke="#111" stroke-width="0.75"/>
<line x1="201.3" y1="67" x2="204.3" y2="67" stroke="#111" stroke-width="0.75"/>
<line x1="202.3" y1="62.33" x2="204.3" y2="62.33" stroke="#111" stroke-width="0.75"/>
<line x1="202.3" y1="59.6" x2="204.3" y2="59.6" stroke="#111" stroke-width="0.75"/>
<line x1="202.3" y1="57.67" x2="204.3" y2="57.67" stroke="#111" stroke-width="0.75"/>
<line x1="202.3" y1="56.17" x2="204.3" y2="56.17" stroke="#111" stroke-width="0.75"/>
<line x1="202.3" y1="54.94" x2="204.3" y2="54.94" stroke="#111" stroke-width="0.75"/>
<line x1="202.3" y1="53.9" x2="204.3" y2="53.9" stroke="#111" stroke-width="0.75"/>
<line x1="202.3" y1="53" x2="204.3" y2="53" stroke="#111" stroke-width="0.75"/>
<line x1="202.3" y1="52.21" x2="204.3" y2="52.21" stroke="#111" stroke-width="0.75"/>
<line x1="201.3" y1="51.5" x2="204.3" y2="51.5" stroke="#111" stroke-width="0.75"/>
<line x1="202.3" y1="46.83" x2="204.3" y2="46.83" stroke="#111" stroke-width="0.75"/>
<line x1="202.3" y1="44.1" x2="204.3" y2="44.1" stroke="#111" stroke-width="0.75"/>
<line x1="202.3" y1="42.17" x2="204.3" y2="42.17" stroke="#111" stroke-width="0.75"/>
<line x1="202.3" y1="40.67" x2="204.3" y2="40.67" stroke="#111" stroke-width="0.75"/>
<line x1="202.3" y1="39.44" x2="204.3" y2="39.44" stroke="#111" stroke-width="0.75"/>
<line x1="202.3" y1="38.4" x2="204.3" y2="38.4" stroke="#111" stroke-width="0.75"/>
<line x1="202.3" y1="37.5" x2="204.3" y2="37.5" stroke="#111" stroke-width="0.75"/>
<line x1="202.3" y1="36.71" x2="204.3" y2="36.71" stroke="#111" stroke-width="0.75"/>
<line x1="201.9" y1="36" x2="204.3" y2="36" stroke="#111" stroke-width="0.75"/>
<line x1="202.8" y1="86.3" x2="204.3" y2="86.3" stroke="#111" stroke-width="0.75"/>
<line x1="202.8" y1="89.1" x2="204.3" y2="89.1" stroke="#111" stroke-width="0.75"/>
<line x1="202.8" y1="91.9" x2="204.3" y2="91.9" stroke="#111" stroke-width="0.75"/>
<line x1="202.8" y1="94.7" x2="204.3" y2="94.7" stroke="#111" stroke-width="0.75"/>
<line x1="201.9" y1="92" x2="204.3" y2="92" stroke="#111" stroke-width="0.75"/>
<line x1="203.1" y1="94.2" x2="204.3" y2="94.2" stroke="#111" stroke-width="0.75"/>
<line x1="203.1" y1="96.4" x2="204.3" y2="96.4" stroke="#111" stroke-width="0.75"/>
<line x1="218.9" y1="98.5" x2="218.9" y2="101.5" stroke="#111" stroke-width="0.75"/>
<line x1="223.96" y1="98.5" x2="223.96" y2="100.5" stroke="#111" stroke-width="0.75"/>
<line x1="226.92" y1="98.5" x2="226.92" y2="100.5" stroke="#111" stroke-width="0.75"/>
<line x1="229.01" y1="98.5" x2="229.01" y2="100.5" stroke="#111" stroke-width="0.75"/>
<line x1="230.64" y1="98.5" x2="230.64" y2="100.5" stroke="#111" stroke-width="0.75"/>
<line x1="231.97" y1="98.5" x2="231.97" y2="100.5" stroke="#111" stroke-width="0.75"/>
<line x1="233.1" y1="98.5" x2="233.1" y2="100.5" stroke="#111" stroke-width="0.75"/>
<line x1="234.07" y1="98.5" x2="234.07" y2="100.5" stroke="#111" stroke-width="0.75"/>
<line x1="234.93" y1="98.5" x2="234.93" y2="100.5" stroke="#111" stroke-width="0.75"/>
<line x1="235.7" y1="98.5" x2="235.7" y2="101.5" stroke="#111" stroke-width="0.75"/>
<line x1="240.37" y1="98.5" x2="240.37" y2="100.5" stroke="#111" stroke-width="0.75"/>
<line x1="243.1" y1="98.5" x2="243.1" y2="100.5" stroke="#111" stroke-width="0.75"/>
<line x1="245.03" y1="98.5" x2="245.03" y2="100.5" stroke="#111" stroke-width="0.75"/>
<line x1="246.53" y1="98.5" x2="246.53" y2="100.5" stroke="#111" stroke-width="0.75"/>
<line x1="247.76" y1="98.5" x2="247.76" y2="100.5" stroke="#111" stroke-width="0.75"/>
<line x1="248.8" y1="98.5" x2="248.8" y2="100.5" stroke="#111" stroke-width="0.75"/>
<line x1="249.7" y1="98.5" x2="249.7" y2="100.5" stroke="#111" stroke-width="0.75"/>
<line x1="250.49" y1="98.5" x2="250.49" y2="100.5" stroke="#111" stroke-width="0.75"/>
<line x1="251.2" y1="98.5" x2="251.2" y2="101.5" stroke="#111" stroke-width="0.75"/>
<line x1="255.75" y1="98.5" x2="255.75" y2="100.5" stroke="#111" stroke-width="0.75"/>
<line x1="258.4" y1="98.5" x2="258.4" y2="100.5" stroke="#111" stroke-width="0.75"/>
<line x1="260.29" y1="98.5" x2="260.29" y2="100.5" stroke="#111" stroke-width="0.75"/>
<line x1="261.75" y1="98.5" x2="261.75" y2="100.5" stroke="#111" stroke-width="0.75"/>
<line x1="262.95" y1="98.5" x2="262.95" y2="100.5" stroke="#111" stroke-width="0.75"/>
<line x1="263.96" y1="98.5" x2="263.96" y2="100.5" stroke="#111" stroke-width="0.75"/>
<line x1="264.84" y1="98.5" x2="264.84" y2="100.5" stroke="#111" stroke-width="0.75"/>
<line x1="265.61" y1="98.5" x2="265.61" y2="100.5" stroke="#111" stroke-width="0.75"/>
<line x1="266.3" y1="98.5" x2="266.3" y2="100.9" stroke="#111" stroke-width="0.75"/>
<line x1="212.9" y1="98.5" x2="212.9" y2="100" stroke="#111" stroke-width="0.75"/>
<line x1="214.9" y1="98.5" x2="214.9" y2="100" stroke="#111" stroke-width="0.75"/>
<line x1="216.9" y1="98.5" x2="216.9" y2="100" stroke="#111" stroke-width="0.75"/>
<line x1="210.9" y1="98.5" x2="210.9" y2="100.9" stroke="#111" stroke-width="0.75"/>
<line x1="206.8" y1="98.5" x2="206.8" y2="99.7" stroke="#111" stroke-width="0.75"/>
<line x1="208.8" y1="98.5" x2="208.8" y2="99.7" stroke="#111" stroke-width="0.75"/>
<text x="210.8" y="111" font-size="6.3" text-anchor="middle" fill="#333">0</text>
<text x="214.05" y="111" font-size="6.3" fill="#333">10</text>
<text x="221.15" y="108.35" font-size="3.78" fill="#333">2</text>
<text x="231.55" y="111" font-size="6.3" fill="#333">10</text>
<text x="238.65" y="108.35" font-size="3.78" fill="#333">3</text>
<text x="247.05" y="111" font-size="6.3" fill="#333">10</text>
<text x="254.15" y="108.35" font-size="3.78" fill="#333">4</text>
<text x="261.75" y="111" font-size="6.3" fill="#333">10</text>
<text x="268.85" y="108.35" font-size="3.78" fill="#333">5</text>
<text x="206.1" y="35.3" font-size="3.9" fill="#555">14.2%</text>
<text x="270.4" y="35.3" font-size="3.9" text-anchor="end" fill="#555">3.28%</text>
<text x="206.1" y="96.9" font-size="3.9" fill="#555">54.5%</text>
<text x="270.4" y="96.9" font-size="3.9" text-anchor="end" fill="#555">28.0%</text>
<text x="237.95" y="25" font-size="8.4" text-anchor="middle" fill="#111">3</text>
<clipPath id="c3"><rect x="277.4" y="30.3" width="67.3" height="68.2"/></clipPath>
<path d="M306.6 80.8 L305.9 80.9 L305.1 81.0 L304.4 81.0 L303.6 80.9 L302.9 80.8 L302.4 80.7 L301.6 80.6 L301.1 80.5 L300.6 80.3 L299.9 80.1 L299.4 79.9 L298.9 79.7 L298.4 79.5 L297.9 79.3 L297.4 79.0 L296.9 78.7 L296.4 78.4 L295.9 78.1 L295.5 77.8 L295.1 77.5 L294.6 77.1 L294.4 76.8 L293.9 76.3 L293.6 76.0 L293.3 75.5 L292.9 75.0 L292.6 74.7 L292.4 74.2 L292.1 73.7 L291.9 73.1 L291.7 72.5 L291.5 72.0 L291.4 71.5 L291.2 70.8 L291.1 70.3 L291.0 69.5 L291.0 68.8 L291.0 68.0 L291.0 67.3 L291.0 66.5 L291.1 65.8 L291.1 65.3 L291.2 64.5 L291.3 63.8 L291.4 63.3 L291.6 62.5 L291.7 62.0 L291.8 61.3 L291.9 60.8 L292.0 60.0 L292.2 59.5 L292.3 58.8 L292.4 58.3 L292.6 57.5 L292.7 57.0 L292.9 56.3 L293.0 55.8 L293.1 55.1 L293.2 54.5 L293.4 53.9 L293.5 53.3 L293.6 52.7 L293.8 52.0 L293.9 51.5 L294.0 50.8 L294.2 50.3 L294.3 49.5 L294.5 49.0 L294.6 48.4 L294.8 47.8 L295.0 47.3 L295.2 46.8 L295.4 46.3 L295.6 45.7 L295.9 45.2 L296.1 44.7 L296.4 44.3 L296.7 43.8 L297.1 43.3 L297.4 42.9 L297.7 42.5 L298.1 42.1 L298.5 41.8 L298.9 41.5 L299.4 41.1 L299.8 40.8 L300.3 40.5 L300.7 40.3 L301.3 40.0 L301.8 39.8 L302.4 39.6 L302.9 39.4 L303.4 39.2 L304.1 39.1 L304.6 39.0 L305.4 38.8 L305.9 38.8 L306.6 38.7 L307.4 38.7 L308.1 38.7 L308.9 38.7 L309.6 38.8 L310.1 38.9 L310.8 39.0 L311.4 39.2 L311.9 39.4 L312.4 39.6 L312.9 39.8 L313.4 40.1 L313.9 40.4 L314.4 40.7 L314.8 41.0 L315.2 41.3 L315.6 41.7 L316.0 42.0 L316.4 42.5 L316.6 42.9 L317.0 43.3 L317.3 43.8 L317.6 44.3 L317.9 44.8 L318.1 45.3 L318.4 45.8 L318.6 46.3 L318.8 46.8 L319.0 47.3 L319.1 47.8 L319.4 48.5 L319.6 49.0 L319.7 49.5 L319.9 50.2 L320.1 50.8 L320.2 51.3 L320.4 52.0 L320.5 52.5 L320.6 53.3 L320.8 53.8 L320.9 54.4 L321.0 55.0 L321.1 55.8 L321.2 56.3 L321.4 57.0 L321.4 57.5 L321.6 58.3 L321.6 59.0 L321.7 59.5 L321.8 60.3 L321.8 61.0 L321.9 61.8 L321.9 62.5 L321.9 63.3 L321.9 64.0 L321.8 64.8 L321.8 65.5 L321.7 66.3 L321.6 66.8 L321.5 67.5 L321.4 68.0 L321.2 68.8 L321.1 69.3 L320.9 69.9 L320.7 70.5 L320.5 71.0 L320.3 71.5 L320.0 72.0 L319.8 72.5 L319.5 73.0 L319.1 73.5 L318.9 73.9 L318.6 74.3 L318.2 74.8 L317.9 75.1 L317.5 75.5 L317.1 75.9 L316.7 76.3 L316.4 76.6 L315.9 77.0 L315.5 77.3 L315.1 77.5 L314.6 77.9 L314.1 78.2 L313.6 78.5 L313.1 78.7 L312.6 79.0 L312.1 79.2 L311.6 79.5 L311.1 79.7 L310.6 79.8 L310.0 80.0 L309.4 80.2 L308.9 80.4 L308.1 80.5 L307.6 80.7 L306.9 80.8Z" fill="none" stroke="#c4c4c4" stroke-width="0.45" clip-path="url(#c3)"/>
<path d="M306.1 78.8 L305.4 78.9 L304.6 78.9 L303.9 78.9 L303.4 78.8 L302.6 78.7 L302.1 78.5 L301.4 78.4 L300.9 78.2 L300.4 78.0 L299.8 77.8 L299.2 77.5 L298.7 77.3 L298.2 77.0 L297.8 76.8 L297.4 76.5 L296.9 76.2 L296.5 75.8 L296.1 75.5 L295.7 75.0 L295.4 74.8 L295.0 74.3 L294.7 73.8 L294.4 73.4 L294.1 72.9 L293.9 72.3 L293.7 71.8 L293.5 71.3 L293.4 70.8 L293.2 70.0 L293.1 69.5 L293.0 68.8 L293.0 68.0 L293.0 67.3 L293.0 66.5 L293.1 65.8 L293.1 65.0 L293.2 64.5 L293.3 63.8 L293.4 63.1 L293.5 62.5 L293.6 61.8 L293.7 61.3 L293.8 60.5 L293.9 60.0 L294.0 59.3 L294.1 58.7 L294.3 58.0 L294.4 57.5 L294.5 56.8 L294.6 56.1 L294.7 55.5 L294.9 54.8 L295.0 54.3 L295.1 53.5 L295.2 53.0 L295.3 52.3 L295.4 51.8 L295.6 51.0 L295.7 50.5 L295.9 49.8 L296.0 49.3 L296.1 48.8 L296.4 48.0 L296.6 47.5 L296.8 47.0 L297.0 46.5 L297.2 46.0 L297.5 45.5 L297.8 45.0 L298.1 44.6 L298.4 44.2 L298.8 43.8 L299.1 43.4 L299.5 43.0 L299.9 42.7 L300.4 42.4 L300.9 42.1 L301.4 41.8 L301.9 41.6 L302.4 41.3 L302.9 41.1 L303.4 41.0 L304.1 40.8 L304.6 40.7 L305.3 40.5 L305.9 40.4 L306.6 40.3 L307.4 40.3 L307.9 40.3 L308.6 40.3 L309.1 40.3 L309.9 40.5 L310.4 40.6 L311.1 40.8 L311.6 41.0 L312.1 41.3 L312.6 41.5 L313.0 41.8 L313.4 42.1 L313.9 42.5 L314.2 42.8 L314.6 43.3 L314.9 43.6 L315.2 44.0 L315.6 44.5 L315.9 45.0 L316.1 45.5 L316.4 46.0 L316.6 46.5 L316.9 47.0 L317.1 47.5 L317.2 48.0 L317.4 48.5 L317.6 49.3 L317.8 49.8 L318.0 50.3 L318.1 51.0 L318.3 51.5 L318.4 52.0 L318.6 52.8 L318.7 53.3 L318.9 54.0 L319.0 54.5 L319.1 55.3 L319.2 55.8 L319.3 56.5 L319.4 57.1 L319.5 57.8 L319.6 58.5 L319.7 59.0 L319.7 59.8 L319.8 60.5 L319.9 61.3 L319.9 62.0 L319.9 62.5 L319.9 63.0 L319.9 63.8 L319.8 64.5 L319.8 65.3 L319.7 66.0 L319.6 66.5 L319.4 67.3 L319.3 67.8 L319.1 68.5 L319.0 69.0 L318.8 69.5 L318.6 70.0 L318.4 70.6 L318.1 71.2 L317.9 71.6 L317.6 72.0 L317.3 72.5 L316.9 73.0 L316.6 73.4 L316.3 73.8 L315.9 74.2 L315.6 74.5 L315.1 74.9 L314.7 75.3 L314.4 75.5 L313.9 75.9 L313.4 76.2 L312.9 76.5 L312.4 76.8 L312.0 77.0 L311.5 77.3 L310.9 77.5 L310.4 77.8 L309.9 77.9 L309.4 78.1 L308.7 78.3 L308.1 78.4 L307.6 78.6 L306.9 78.7 L306.3 78.8Z" fill="none" stroke="#c4c4c4" stroke-width="0.45" clip-path="url(#c3)"/>
<path d="M305.4 77.3 L304.6 77.3 L304.1 77.3 L303.4 77.1 L302.9 77.0 L302.1 76.9 L301.6 76.7 L301.1 76.5 L300.5 76.3 L300.0 76.0 L299.5 75.8 L299.0 75.5 L298.6 75.3 L298.1 74.9 L297.7 74.5 L297.4 74.3 L296.9 73.8 L296.6 73.5 L296.3 73.0 L295.9 72.5 L295.6 72.1 L295.4 71.5 L295.2 71.0 L295.0 70.5 L294.9 70.0 L294.7 69.3 L294.6 68.8 L294.5 68.0 L294.4 67.3 L294.4 66.5 L294.4 65.8 L294.4 65.0 L294.5 64.3 L294.5 63.5 L294.6 62.8 L294.7 62.3 L294.8 61.5 L294.9 60.8 L294.9 60.3 L295.1 59.5 L295.2 59.0 L295.3 58.3 L295.4 57.7 L295.5 57.0 L295.6 56.3 L295.7 55.8 L295.8 55.0 L295.9 54.5 L296.0 53.8 L296.1 53.0 L296.2 52.5 L296.4 51.8 L296.5 51.3 L296.6 50.5 L296.7 50.0 L296.9 49.4 L297.1 48.8 L297.2 48.3 L297.4 47.8 L297.6 47.2 L297.9 46.7 L298.1 46.2 L298.4 45.8 L298.7 45.3 L299.1 44.8 L299.4 44.5 L299.8 44.0 L300.1 43.8 L300.6 43.4 L301.1 43.0 L301.5 42.8 L302.0 42.5 L302.6 42.3 L303.1 42.1 L303.6 41.9 L304.1 41.8 L304.9 41.6 L305.4 41.5 L306.1 41.4 L306.6 41.3 L307.4 41.2 L308.1 41.2 L308.9 41.2 L309.6 41.3 L310.1 41.4 L310.6 41.6 L311.2 41.8 L311.7 42.0 L312.1 42.3 L312.6 42.7 L313.0 43.0 L313.4 43.4 L313.8 43.8 L314.1 44.3 L314.4 44.7 L314.6 45.1 L314.9 45.5 L315.2 46.0 L315.4 46.5 L315.7 47.0 L315.9 47.6 L316.1 48.3 L316.3 48.8 L316.5 49.3 L316.6 49.9 L316.8 50.5 L317.0 51.0 L317.1 51.8 L317.2 52.3 L317.4 53.0 L317.5 53.5 L317.6 54.2 L317.8 54.8 L317.9 55.5 L318.0 56.0 L318.1 56.8 L318.1 57.4 L318.2 58.0 L318.3 58.8 L318.4 59.5 L318.4 60.0 L318.5 60.8 L318.5 61.5 L318.5 62.3 L318.5 63.0 L318.5 63.8 L318.4 64.5 L318.3 65.0 L318.2 65.8 L318.1 66.3 L318.0 67.0 L317.8 67.5 L317.6 68.2 L317.5 68.8 L317.3 69.3 L317.1 69.8 L316.8 70.3 L316.6 70.8 L316.3 71.3 L315.9 71.8 L315.6 72.2 L315.3 72.5 L314.9 73.0 L314.6 73.3 L314.1 73.7 L313.8 74.0 L313.4 74.4 L312.9 74.7 L312.4 75.0 L312.0 75.3 L311.5 75.5 L311.1 75.8 L310.5 76.0 L309.9 76.3 L309.4 76.5 L308.9 76.7 L308.4 76.8 L307.6 77.0 L307.1 77.1 L306.4 77.2 L305.6 77.3Z" fill="none" stroke="#c4c4c4" stroke-width="0.45" clip-path="url(#c3)"/>
<path d="M306.1 73.1 L305.4 73.1 L304.6 73.1 L304.0 73.0 L303.4 72.9 L302.9 72.8 L302.1 72.6 L301.6 72.3 L301.1 72.1 L300.7 71.8 L300.3 71.5 L299.9 71.2 L299.5 70.8 L299.1 70.4 L298.9 70.0 L298.6 69.5 L298.4 69.0 L298.1 68.4 L297.9 67.8 L297.8 67.3 L297.6 66.7 L297.5 66.0 L297.4 65.3 L297.3 64.8 L297.3 64.0 L297.3 63.3 L297.3 62.5 L297.3 61.8 L297.4 61.0 L297.4 60.5 L297.5 59.8 L297.6 59.0 L297.7 58.5 L297.9 57.8 L297.9 57.3 L298.0 56.5 L298.1 55.8 L298.2 55.3 L298.2 54.5 L298.3 53.8 L298.4 53.0 L298.4 52.5 L298.5 51.8 L298.6 51.0 L298.7 50.5 L298.9 49.8 L299.0 49.3 L299.2 48.8 L299.4 48.3 L299.7 47.8 L300.0 47.3 L300.3 46.8 L300.6 46.4 L301.0 46.0 L301.4 45.7 L301.9 45.3 L302.3 45.0 L302.8 44.8 L303.4 44.6 L303.9 44.4 L304.4 44.2 L305.0 44.0 L305.6 43.9 L306.1 43.7 L306.7 43.5 L307.4 43.3 L307.9 43.2 L308.6 43.1 L309.4 43.1 L310.1 43.3 L310.6 43.5 L311.1 43.8 L311.4 44.0 L311.9 44.5 L312.1 44.9 L312.4 45.3 L312.7 45.8 L313.0 46.3 L313.2 46.8 L313.4 47.3 L313.6 48.0 L313.8 48.5 L313.9 49.0 L314.1 49.8 L314.2 50.3 L314.3 51.0 L314.4 51.5 L314.5 52.3 L314.6 53.0 L314.6 53.8 L314.7 54.3 L314.8 55.0 L314.8 55.8 L314.8 56.5 L314.9 57.3 L314.9 58.0 L314.9 58.5 L314.9 59.3 L315.0 60.0 L315.0 60.8 L315.0 61.5 L315.0 62.3 L314.9 63.0 L314.9 63.5 L314.8 64.3 L314.6 64.9 L314.5 65.5 L314.4 66.0 L314.2 66.8 L314.0 67.3 L313.8 67.8 L313.5 68.3 L313.2 68.8 L312.9 69.3 L312.6 69.6 L312.3 70.0 L311.9 70.4 L311.5 70.8 L311.1 71.1 L310.6 71.4 L310.1 71.7 L309.6 72.0 L309.1 72.2 L308.6 72.4 L308.1 72.6 L307.5 72.8 L306.9 72.9 L306.2 73.0Z" fill="none" stroke="#c3c3c3" stroke-width="0.45" clip-path="url(#c3)"/>
<path d="M306.4 72.3 L305.6 72.4 L304.9 72.4 L304.1 72.4 L303.6 72.3 L302.9 72.1 L302.4 71.9 L301.9 71.7 L301.4 71.5 L300.9 71.2 L300.4 70.8 L300.1 70.5 L299.7 70.0 L299.4 69.6 L299.1 69.2 L298.9 68.7 L298.6 68.2 L298.4 67.5 L298.3 67.0 L298.1 66.5 L298.0 65.8 L297.9 65.3 L297.8 64.5 L297.7 63.8 L297.7 63.0 L297.7 62.3 L297.7 61.5 L297.8 60.8 L297.9 60.3 L298.0 59.5 L298.1 58.9 L298.3 58.3 L298.4 57.6 L298.5 57.0 L298.6 56.3 L298.7 55.8 L298.8 55.0 L298.9 54.3 L298.9 53.8 L299.0 53.0 L299.0 52.3 L299.1 51.5 L299.2 51.0 L299.4 50.3 L299.5 49.8 L299.7 49.3 L299.9 48.8 L300.1 48.2 L300.4 47.8 L300.7 47.3 L301.1 46.8 L301.4 46.5 L301.9 46.1 L302.3 45.8 L302.7 45.5 L303.2 45.3 L303.8 45.0 L304.4 44.8 L304.9 44.7 L305.4 44.5 L306.1 44.3 L306.6 44.1 L307.1 43.9 L307.6 43.8 L308.4 43.6 L308.9 43.5 L309.4 43.6 L310.1 43.7 L310.6 44.0 L311.1 44.3 L311.4 44.6 L311.8 45.0 L312.1 45.5 L312.4 45.9 L312.6 46.4 L312.9 47.0 L313.1 47.5 L313.3 48.0 L313.4 48.5 L313.6 49.3 L313.7 49.8 L313.9 50.5 L313.9 51.0 L314.0 51.8 L314.1 52.5 L314.2 53.0 L314.2 53.8 L314.3 54.5 L314.3 55.3 L314.3 56.0 L314.4 56.8 L314.4 57.5 L314.4 58.1 L314.4 58.8 L314.4 59.5 L314.4 60.3 L314.4 61.0 L314.4 61.8 L314.4 62.5 L314.4 63.0 L314.3 63.8 L314.1 64.5 L314.0 65.0 L313.9 65.6 L313.7 66.3 L313.5 66.8 L313.3 67.3 L313.1 67.8 L312.8 68.3 L312.5 68.8 L312.1 69.2 L311.9 69.5 L311.4 70.0 L311.1 70.3 L310.6 70.6 L310.1 71.0 L309.6 71.2 L309.1 71.5 L308.6 71.7 L308.1 71.9 L307.6 72.1 L306.9 72.2 L306.4 72.3Z" fill="none" stroke="#c1c1c1" stroke-width="0.45" clip-path="url(#c3)"/>
<path d="M306.6 71.6 L305.9 71.7 L305.1 71.7 L304.4 71.7 L303.6 71.6 L303.1 71.4 L302.6 71.3 L302.1 71.0 L301.6 70.8 L301.1 70.5 L300.6 70.1 L300.3 69.8 L300.0 69.3 L299.6 68.8 L299.4 68.4 L299.1 67.8 L298.9 67.3 L298.8 66.8 L298.6 66.3 L298.4 65.5 L298.3 65.0 L298.2 64.3 L298.2 63.5 L298.2 62.8 L298.2 62.0 L298.2 61.3 L298.3 60.5 L298.4 60.0 L298.6 59.3 L298.7 58.8 L298.9 58.0 L299.0 57.5 L299.1 56.8 L299.3 56.3 L299.4 55.5 L299.5 55.0 L299.6 54.3 L299.6 53.5 L299.7 53.0 L299.8 52.3 L299.9 51.5 L300.0 51.0 L300.1 50.3 L300.3 49.8 L300.5 49.3 L300.7 48.8 L301.0 48.3 L301.3 47.8 L301.6 47.3 L301.9 47.0 L302.4 46.6 L302.9 46.3 L303.3 46.0 L303.8 45.8 L304.4 45.6 L304.9 45.4 L305.4 45.2 L305.9 45.0 L306.5 44.8 L307.1 44.5 L307.6 44.3 L308.1 44.2 L308.9 44.1 L309.6 44.1 L310.2 44.3 L310.6 44.6 L311.1 45.0 L311.5 45.3 L311.8 45.8 L312.1 46.3 L312.4 46.8 L312.6 47.3 L312.8 47.8 L313.0 48.3 L313.1 49.0 L313.3 49.5 L313.4 50.2 L313.5 50.8 L313.6 51.5 L313.7 52.0 L313.7 52.8 L313.8 53.5 L313.8 54.3 L313.9 55.0 L313.9 55.8 L313.9 56.5 L313.9 57.3 L313.9 58.0 L313.9 58.7 L313.9 59.3 L313.9 60.0 L313.9 60.6 L313.9 61.3 L313.9 62.0 L313.8 62.8 L313.7 63.5 L313.6 64.0 L313.5 64.8 L313.4 65.3 L313.1 66.0 L312.9 66.5 L312.7 67.0 L312.5 67.5 L312.2 68.0 L311.9 68.5 L311.6 68.8 L311.2 69.3 L310.9 69.5 L310.4 69.9 L309.9 70.3 L309.5 70.5 L309.0 70.8 L308.4 71.0 L307.9 71.2 L307.4 71.4 L306.7 71.5Z" fill="none" stroke="#bfbfbf" stroke-width="0.45" clip-path="url(#c3)"/>
<path d="M305.6 71.1 L304.9 71.1 L304.4 71.0 L303.6 70.9 L303.1 70.8 L302.5 70.5 L302.0 70.3 L301.6 70.0 L301.1 69.7 L300.7 69.3 L300.4 68.9 L300.1 68.5 L299.9 68.0 L299.6 67.5 L299.4 67.0 L299.1 66.4 L299.0 65.8 L298.9 65.3 L298.7 64.5 L298.6 64.0 L298.6 63.3 L298.6 62.5 L298.6 61.8 L298.7 61.3 L298.8 60.5 L298.9 60.0 L299.1 59.3 L299.2 58.8 L299.4 58.1 L299.5 57.5 L299.7 57.0 L299.9 56.3 L300.0 55.8 L300.1 55.0 L300.2 54.5 L300.3 53.8 L300.4 53.1 L300.5 52.5 L300.6 51.8 L300.7 51.3 L300.8 50.5 L301.0 50.0 L301.2 49.5 L301.4 49.0 L301.7 48.5 L302.0 48.0 L302.4 47.6 L302.7 47.3 L303.1 47.0 L303.6 46.7 L304.1 46.4 L304.6 46.2 L305.1 46.0 L305.6 45.8 L306.2 45.5 L306.8 45.3 L307.3 45.0 L307.9 44.8 L308.4 44.7 L309.1 44.6 L309.9 44.7 L310.4 45.0 L310.9 45.3 L311.1 45.6 L311.5 46.0 L311.9 46.5 L312.1 47.0 L312.3 47.5 L312.5 48.0 L312.7 48.5 L312.9 49.3 L313.0 49.8 L313.1 50.5 L313.2 51.0 L313.3 51.8 L313.3 52.5 L313.4 53.3 L313.4 53.8 L313.4 54.5 L313.5 55.3 L313.5 56.0 L313.5 56.8 L313.5 57.5 L313.4 58.3 L313.4 59.0 L313.4 59.8 L313.4 60.5 L313.4 61.3 L313.4 61.8 L313.3 62.5 L313.2 63.3 L313.1 63.9 L313.0 64.5 L312.9 65.0 L312.6 65.7 L312.4 66.3 L312.2 66.8 L312.0 67.3 L311.7 67.8 L311.4 68.1 L311.1 68.5 L310.6 69.0 L310.2 69.3 L309.9 69.6 L309.4 69.9 L308.9 70.1 L308.4 70.4 L307.9 70.6 L307.2 70.8 L306.6 70.9 L305.9 71.0Z" fill="none" stroke="#bcbcbc" stroke-width="0.45" clip-path="url(#c3)"/>
<path d="M306.6 70.3 L305.9 70.4 L305.1 70.5 L304.4 70.4 L303.8 70.3 L303.1 70.1 L302.6 70.0 L302.1 69.7 L301.6 69.4 L301.2 69.0 L300.9 68.7 L300.6 68.3 L300.3 67.8 L300.0 67.3 L299.8 66.8 L299.6 66.3 L299.4 65.7 L299.2 65.0 L299.1 64.5 L299.0 63.8 L299.0 63.0 L299.0 62.3 L299.1 61.5 L299.1 60.9 L299.3 60.3 L299.4 59.8 L299.6 59.0 L299.8 58.5 L299.9 58.0 L300.1 57.3 L300.3 56.8 L300.5 56.3 L300.6 55.7 L300.8 55.0 L300.9 54.5 L301.0 53.8 L301.1 53.0 L301.2 52.5 L301.3 51.8 L301.4 51.3 L301.6 50.5 L301.8 50.0 L302.0 49.5 L302.3 49.0 L302.6 48.5 L302.9 48.2 L303.3 47.8 L303.7 47.5 L304.1 47.2 L304.6 47.0 L305.1 46.7 L305.6 46.5 L306.1 46.2 L306.6 46.0 L307.1 45.7 L307.6 45.5 L308.2 45.3 L308.9 45.1 L309.6 45.2 L310.1 45.4 L310.6 45.7 L311.0 46.0 L311.4 46.5 L311.6 46.9 L311.9 47.4 L312.1 48.0 L312.3 48.5 L312.5 49.0 L312.6 49.8 L312.7 50.3 L312.9 51.0 L312.9 51.5 L313.0 52.3 L313.0 53.0 L313.1 53.8 L313.1 54.5 L313.1 55.3 L313.1 56.0 L313.1 56.8 L313.1 57.5 L313.0 58.3 L313.0 59.0 L313.0 59.8 L313.0 60.5 L313.0 61.3 L312.9 62.0 L312.9 62.5 L312.8 63.3 L312.6 64.0 L312.5 64.5 L312.4 65.0 L312.1 65.7 L311.9 66.3 L311.7 66.8 L311.4 67.2 L311.1 67.6 L310.8 68.0 L310.4 68.4 L310.0 68.8 L309.6 69.1 L309.1 69.4 L308.6 69.7 L308.1 69.9 L307.6 70.1 L306.9 70.3Z" fill="none" stroke="#b8b8b8" stroke-width="0.45" clip-path="url(#c3)"/>
<path d="M306.6 69.6 L305.9 69.7 L305.1 69.7 L304.4 69.6 L303.9 69.5 L303.1 69.4 L302.6 69.2 L302.1 68.9 L301.6 68.6 L301.2 68.3 L300.9 67.9 L300.6 67.5 L300.4 67.0 L300.1 66.5 L299.9 65.9 L299.7 65.3 L299.6 64.8 L299.5 64.0 L299.4 63.5 L299.4 62.8 L299.4 62.0 L299.4 61.5 L299.6 60.8 L299.7 60.3 L299.9 59.5 L300.0 59.0 L300.2 58.5 L300.4 58.0 L300.6 57.4 L300.9 56.8 L301.1 56.3 L301.3 55.8 L301.4 55.3 L301.6 54.5 L301.7 54.0 L301.9 53.3 L302.0 52.8 L302.1 52.0 L302.2 51.5 L302.4 50.8 L302.6 50.3 L302.8 49.8 L303.1 49.3 L303.4 48.9 L303.7 48.5 L304.1 48.1 L304.6 47.8 L305.0 47.5 L305.5 47.3 L305.9 47.0 L306.4 46.8 L306.9 46.5 L307.4 46.2 L307.9 46.0 L308.4 45.8 L309.1 45.7 L309.9 45.8 L310.4 46.0 L310.7 46.3 L311.1 46.8 L311.4 47.2 L311.6 47.7 L311.9 48.3 L312.1 48.8 L312.2 49.3 L312.4 50.0 L312.5 50.5 L312.6 51.3 L312.6 52.0 L312.7 52.5 L312.7 53.3 L312.7 54.0 L312.8 54.8 L312.7 55.5 L312.7 56.3 L312.7 57.0 L312.7 57.8 L312.7 58.5 L312.6 59.0 L312.6 59.8 L312.6 60.5 L312.6 61.3 L312.5 62.0 L312.4 62.8 L312.4 63.3 L312.2 64.0 L312.1 64.5 L311.9 65.1 L311.6 65.7 L311.4 66.3 L311.1 66.7 L310.9 67.1 L310.5 67.5 L310.1 67.9 L309.6 68.3 L309.3 68.5 L308.9 68.8 L308.4 69.0 L307.7 69.3 L307.1 69.5 L306.6 69.6Z" fill="none" stroke="#b4b4b4" stroke-width="0.45" clip-path="url(#c3)"/>
<path d="M305.6 69.1 L304.9 69.1 L304.4 69.0 L303.6 68.9 L303.1 68.7 L302.6 68.5 L302.1 68.2 L301.6 67.9 L301.3 67.5 L300.9 67.0 L300.6 66.6 L300.4 66.0 L300.2 65.5 L300.0 65.0 L299.9 64.4 L299.8 63.8 L299.7 63.0 L299.7 62.3 L299.8 61.5 L299.9 61.0 L300.1 60.3 L300.2 59.8 L300.4 59.3 L300.6 58.6 L300.9 58.1 L301.1 57.5 L301.4 57.0 L301.6 56.5 L301.8 56.0 L302.0 55.5 L302.2 55.0 L302.4 54.5 L302.6 53.8 L302.7 53.3 L302.9 52.5 L303.0 52.0 L303.1 51.3 L303.3 50.8 L303.5 50.3 L303.8 49.8 L304.1 49.3 L304.4 49.0 L304.9 48.5 L305.2 48.3 L305.6 48.0 L306.1 47.6 L306.6 47.3 L307.0 47.0 L307.4 46.8 L307.9 46.5 L308.4 46.3 L309.1 46.2 L309.8 46.3 L310.3 46.5 L310.6 46.9 L311.0 47.3 L311.3 47.8 L311.5 48.3 L311.7 48.8 L311.9 49.4 L312.1 50.0 L312.2 50.5 L312.3 51.3 L312.3 52.0 L312.4 52.8 L312.4 53.3 L312.4 54.0 L312.4 54.8 L312.4 55.5 L312.4 56.1 L312.4 56.8 L312.3 57.5 L312.3 58.3 L312.3 59.0 L312.3 59.8 L312.2 60.5 L312.2 61.3 L312.1 61.9 L312.1 62.5 L312.0 63.3 L311.9 63.8 L311.6 64.5 L311.5 65.0 L311.2 65.5 L310.9 66.0 L310.6 66.4 L310.3 66.8 L309.9 67.2 L309.6 67.5 L309.1 67.9 L308.6 68.2 L308.1 68.4 L307.6 68.6 L307.1 68.8 L306.4 69.0 L305.8 69.0Z" fill="none" stroke="#aeaeae" stroke-width="0.45" clip-path="url(#c3)"/>
<path d="M306.6 68.3 L305.9 68.5 L305.1 68.5 L304.4 68.4 L303.8 68.3 L303.1 68.1 L302.6 67.9 L302.1 67.6 L301.8 67.3 L301.4 67.0 L301.1 66.5 L300.8 66.0 L300.6 65.5 L300.4 64.9 L300.2 64.3 L300.1 63.7 L300.1 63.0 L300.1 62.3 L300.1 61.8 L300.3 61.0 L300.4 60.5 L300.6 59.8 L300.8 59.3 L301.0 58.8 L301.3 58.3 L301.5 57.8 L301.8 57.3 L302.1 56.8 L302.4 56.3 L302.6 55.8 L302.9 55.3 L303.1 54.8 L303.3 54.3 L303.4 53.8 L303.6 53.0 L303.8 52.5 L303.9 52.0 L304.1 51.3 L304.3 50.8 L304.5 50.3 L304.8 49.8 L305.1 49.3 L305.4 49.0 L305.9 48.6 L306.2 48.3 L306.6 48.0 L307.1 47.6 L307.6 47.3 L308.0 47.0 L308.6 46.8 L309.1 46.7 L309.7 46.8 L310.2 47.0 L310.6 47.5 L310.9 47.9 L311.1 48.3 L311.4 48.9 L311.6 49.5 L311.7 50.0 L311.9 50.8 L312.0 51.3 L312.0 52.0 L312.1 52.8 L312.1 53.5 L312.1 54.3 L312.1 55.0 L312.1 55.8 L312.1 56.5 L312.0 57.3 L312.0 58.0 L312.0 58.8 L311.9 59.5 L311.9 60.2 L311.9 60.8 L311.8 61.5 L311.7 62.3 L311.6 63.0 L311.5 63.5 L311.3 64.0 L311.1 64.5 L310.9 65.0 L310.6 65.5 L310.2 66.0 L309.9 66.4 L309.5 66.8 L309.1 67.1 L308.6 67.5 L308.1 67.8 L307.6 68.0 L307.1 68.2 L306.6 68.3Z" fill="none" stroke="#a7a7a7" stroke-width="0.45" clip-path="url(#c3)"/>
<path d="M306.4 67.8 L305.6 67.9 L304.9 67.9 L304.1 67.8 L303.6 67.7 L303.1 67.5 L302.6 67.3 L302.1 66.9 L301.7 66.5 L301.4 66.3 L301.1 65.8 L300.9 65.2 L300.7 64.5 L300.6 64.0 L300.5 63.3 L300.4 62.5 L300.5 61.8 L300.6 61.0 L300.8 60.5 L300.9 60.0 L301.1 59.5 L301.4 58.9 L301.6 58.5 L301.9 58.0 L302.2 57.5 L302.5 57.0 L302.9 56.5 L303.1 56.1 L303.4 55.8 L303.7 55.3 L304.0 54.8 L304.3 54.3 L304.6 53.8 L304.8 53.3 L304.9 52.7 L305.0 52.0 L305.1 51.4 L305.3 50.8 L305.5 50.3 L305.7 49.8 L306.1 49.3 L306.4 48.9 L306.8 48.5 L307.1 48.2 L307.6 47.9 L308.1 47.5 L308.6 47.3 L309.1 47.3 L309.6 47.4 L310.1 47.6 L310.5 48.0 L310.9 48.5 L311.1 49.0 L311.3 49.5 L311.4 50.0 L311.6 50.8 L311.7 51.3 L311.8 52.0 L311.8 52.8 L311.8 53.5 L311.8 54.3 L311.8 55.0 L311.8 55.8 L311.7 56.5 L311.7 57.3 L311.6 58.0 L311.6 58.5 L311.6 59.3 L311.6 60.0 L311.5 60.8 L311.5 61.5 L311.4 62.0 L311.2 62.8 L311.1 63.3 L310.9 63.8 L310.6 64.4 L310.4 64.9 L310.1 65.3 L309.8 65.8 L309.4 66.2 L309.0 66.5 L308.6 66.8 L308.1 67.1 L307.6 67.4 L307.1 67.6 L306.5 67.8Z" fill="none" stroke="#9e9e9e" stroke-width="0.45" clip-path="url(#c3)"/>
<path d="M305.6 67.3 L304.9 67.3 L304.4 67.3 L303.6 67.1 L303.1 66.9 L302.6 66.6 L302.2 66.3 L301.9 66.0 L301.5 65.5 L301.2 65.0 L301.1 64.5 L300.9 63.8 L300.8 63.3 L300.8 62.5 L300.9 61.8 L300.9 61.3 L301.1 60.5 L301.3 60.0 L301.5 59.5 L301.8 59.0 L302.1 58.5 L302.4 58.1 L302.6 57.7 L303.0 57.3 L303.4 56.8 L303.7 56.5 L304.1 56.3 L304.6 55.9 L305.1 55.6 L305.4 55.3 L305.7 54.8 L305.9 54.3 L306.0 53.5 L306.1 52.8 L306.2 52.3 L306.3 51.5 L306.4 50.8 L306.5 50.3 L306.7 49.8 L306.9 49.3 L307.3 48.8 L307.6 48.5 L308.1 48.2 L308.6 47.9 L309.4 47.9 L309.9 48.1 L310.4 48.5 L310.6 49.0 L310.9 49.5 L311.1 50.0 L311.2 50.5 L311.3 51.3 L311.4 51.8 L311.5 52.5 L311.5 53.3 L311.5 54.0 L311.5 54.8 L311.5 55.5 L311.4 56.3 L311.4 56.8 L311.3 57.5 L311.3 58.3 L311.3 59.0 L311.2 59.8 L311.1 60.4 L311.1 61.0 L311.0 61.8 L310.9 62.3 L310.7 63.0 L310.5 63.5 L310.3 64.0 L310.0 64.5 L309.7 65.0 L309.4 65.4 L309.0 65.8 L308.6 66.1 L308.1 66.5 L307.6 66.8 L307.1 67.0 L306.6 67.1 L305.9 67.3Z" fill="none" stroke="#959595" stroke-width="0.45" clip-path="url(#c3)"/>
<path d="M305.4 66.6 L304.6 66.6 L304.1 66.5 L303.4 66.3 L302.9 66.1 L302.5 65.8 L302.1 65.5 L301.7 65.0 L301.5 64.5 L301.4 64.0 L301.2 63.3 L301.2 62.5 L301.2 61.8 L301.4 61.0 L301.5 60.5 L301.7 60.0 L302.0 59.5 L302.3 59.0 L302.6 58.5 L302.9 58.1 L303.2 57.8 L303.6 57.5 L304.1 57.2 L304.6 57.0 L305.1 56.7 L305.6 56.5 L306.1 56.0 L306.4 55.7 L306.6 55.1 L306.8 54.5 L306.8 53.8 L306.9 53.0 L306.9 52.5 L307.0 51.8 L307.1 51.0 L307.2 50.5 L307.4 49.8 L307.6 49.3 L307.9 49.0 L308.4 48.7 L308.9 48.5 L309.5 48.5 L309.9 48.8 L310.3 49.3 L310.6 49.8 L310.8 50.3 L310.9 50.8 L311.1 51.5 L311.1 52.3 L311.2 52.8 L311.2 53.5 L311.2 54.3 L311.2 55.0 L311.1 55.5 L311.1 56.3 L311.0 57.0 L310.9 57.8 L310.9 58.3 L310.8 59.0 L310.7 59.8 L310.7 60.5 L310.6 61.0 L310.5 61.8 L310.4 62.3 L310.2 63.0 L310.0 63.5 L309.7 64.0 L309.4 64.5 L309.1 64.8 L308.7 65.3 L308.3 65.5 L307.9 65.8 L307.4 66.1 L306.7 66.3 L306.1 66.4 L305.5 66.5ZM306.0 64.5 L306.2 64.0 L306.1 63.5 L305.6 63.1 L304.9 63.3 L304.7 63.8 L304.9 64.4 L305.4 64.7 L306.0 64.5Z" fill="none" stroke="#8a8a8a" stroke-width="0.45" clip-path="url(#c3)"/>
<path d="M303.1 65.1 L302.6 64.9 L302.2 64.5 L301.9 64.1 L301.7 63.5 L301.6 63.0 L301.6 62.3 L301.6 61.7 L301.8 61.0 L301.9 60.5 L302.2 60.0 L302.4 59.5 L302.7 59.0 L303.1 58.6 L303.6 58.3 L304.0 58.0 L304.6 57.8 L305.1 57.6 L305.6 57.4 L306.1 57.2 L306.6 56.9 L306.9 56.5 L307.2 56.0 L307.4 55.5 L307.5 54.8 L307.5 54.0 L307.5 53.3 L307.6 52.5 L307.6 51.8 L307.7 51.3 L307.9 50.5 L308.0 50.0 L308.3 49.5 L308.6 49.3 L309.4 49.2 L309.8 49.5 L310.1 50.0 L310.4 50.5 L310.6 51.0 L310.7 51.5 L310.8 52.3 L310.8 53.0 L310.8 53.8 L310.8 54.5 L310.8 55.3 L310.7 56.0 L310.6 56.5 L310.5 57.3 L310.4 57.9 L310.3 58.5 L310.3 59.3 L310.2 60.0 L310.2 60.8 L310.1 61.3 L309.9 62.0 L309.8 62.5 L309.6 63.0 L309.3 63.5 L308.9 64.0 L308.6 64.3 L308.1 64.6 L307.6 64.5 L307.3 64.0 L307.1 63.5 L306.8 63.0 L306.4 62.7 L305.9 62.4 L305.1 62.4 L304.6 62.6 L304.1 63.0 L303.9 63.5 L303.8 64.0 L303.6 64.7 L303.4 65.0Z" fill="none" stroke="#7d7d7d" stroke-width="0.45" clip-path="url(#c3)"/>
<path d="M308.6 63.1 L307.9 63.1 L307.5 62.8 L307.1 62.5 L306.6 62.2 L306.1 61.9 L305.6 61.8 L305.1 61.8 L304.4 62.0 L303.9 62.3 L303.6 62.5 L303.1 63.0 L302.6 63.2 L302.2 62.8 L302.1 62.3 L302.1 61.5 L302.2 61.0 L302.4 60.5 L302.6 60.0 L303.0 59.5 L303.4 59.2 L303.9 58.8 L304.4 58.6 L304.9 58.4 L305.4 58.3 L306.1 58.0 L306.6 57.9 L307.1 57.7 L307.6 57.3 L307.9 57.0 L308.2 56.5 L308.3 55.8 L308.3 55.0 L308.3 54.3 L308.2 53.5 L308.2 52.8 L308.3 52.0 L308.4 51.3 L308.5 50.8 L308.8 50.3 L309.4 50.2 L309.8 50.5 L310.0 51.0 L310.2 51.5 L310.4 52.3 L310.4 52.8 L310.4 53.5 L310.4 54.3 L310.4 54.8 L310.2 55.5 L310.0 56.0 L309.9 56.5 L309.7 57.3 L309.6 57.8 L309.6 58.5 L309.6 59.2 L309.7 59.8 L309.6 60.3 L309.6 61.0 L309.4 61.8 L309.2 62.3 L308.9 62.8 L308.6 63.1Z" fill="none" stroke="#6f6f6f" stroke-width="0.45" clip-path="url(#c3)"/>
<path d="M309.6 53.9 L309.1 53.7 L309.0 53.0 L309.1 52.3 L309.2 51.8 L309.4 51.5 L309.7 52.0 L309.9 52.6 L309.9 53.2 L309.7 53.8ZM308.4 62.1 L307.6 62.1 L307.1 61.8 L306.6 61.6 L306.1 61.4 L305.6 61.3 L304.9 61.3 L304.4 61.4 L303.8 61.5 L303.1 61.6 L302.9 61.0 L303.1 60.4 L303.4 60.0 L303.9 59.6 L304.4 59.3 L304.9 59.1 L305.4 58.9 L305.9 58.8 L306.6 58.7 L307.3 58.5 L307.9 58.5 L308.4 58.6 L308.8 59.0 L308.9 59.5 L309.0 60.3 L309.0 61.0 L308.8 61.5 L308.4 62.0Z" fill="none" stroke="#606060" stroke-width="0.45" clip-path="url(#c3)"/>
<ellipse cx="301" cy="99" rx="5" ry="2.6" fill="none" stroke="#c4c4c4" stroke-width="0.45" clip-path="url(#c3)"/>
<line x1="312.5" y1="30.3" x2="312.5" y2="98.5" stroke="#a8a8a8" stroke-width="0.8"/>
<line x1="277.4" y1="56.5" x2="344.7" y2="56.5" stroke="#b0b0b0" stroke-width="0.8"/>
<rect x="277.4" y="30.3" width="67.3" height="68.2" fill="none" stroke="#222" stroke-width="1.1"/>
<line x1="274.4" y1="83.5" x2="277.4" y2="83.5" stroke="#111" stroke-width="0.75"/>
<line x1="275.4" y1="78.53" x2="277.4" y2="78.53" stroke="#111" stroke-width="0.75"/>
<line x1="275.4" y1="75.63" x2="277.4" y2="75.63" stroke="#111" stroke-width="0.75"/>
<line x1="275.4" y1="73.57" x2="277.4" y2="73.57" stroke="#111" stroke-width="0.75"/>
<line x1="275.4" y1="71.97" x2="277.4" y2="71.97" stroke="#111" stroke-width="0.75"/>
<line x1="275.4" y1="70.66" x2="277.4" y2="70.66" stroke="#111" stroke-width="0.75"/>
<line x1="275.4" y1="69.56" x2="277.4" y2="69.56" stroke="#111" stroke-width="0.75"/>
<line x1="275.4" y1="68.6" x2="277.4" y2="68.6" stroke="#111" stroke-width="0.75"/>
<line x1="275.4" y1="67.75" x2="277.4" y2="67.75" stroke="#111" stroke-width="0.75"/>
<line x1="274.4" y1="67" x2="277.4" y2="67" stroke="#111" stroke-width="0.75"/>
<line x1="275.4" y1="62.33" x2="277.4" y2="62.33" stroke="#111" stroke-width="0.75"/>
<line x1="275.4" y1="59.6" x2="277.4" y2="59.6" stroke="#111" stroke-width="0.75"/>
<line x1="275.4" y1="57.67" x2="277.4" y2="57.67" stroke="#111" stroke-width="0.75"/>
<line x1="275.4" y1="56.17" x2="277.4" y2="56.17" stroke="#111" stroke-width="0.75"/>
<line x1="275.4" y1="54.94" x2="277.4" y2="54.94" stroke="#111" stroke-width="0.75"/>
<line x1="275.4" y1="53.9" x2="277.4" y2="53.9" stroke="#111" stroke-width="0.75"/>
<line x1="275.4" y1="53" x2="277.4" y2="53" stroke="#111" stroke-width="0.75"/>
<line x1="275.4" y1="52.21" x2="277.4" y2="52.21" stroke="#111" stroke-width="0.75"/>
<line x1="274.4" y1="51.5" x2="277.4" y2="51.5" stroke="#111" stroke-width="0.75"/>
<line x1="275.4" y1="46.83" x2="277.4" y2="46.83" stroke="#111" stroke-width="0.75"/>
<line x1="275.4" y1="44.1" x2="277.4" y2="44.1" stroke="#111" stroke-width="0.75"/>
<line x1="275.4" y1="42.17" x2="277.4" y2="42.17" stroke="#111" stroke-width="0.75"/>
<line x1="275.4" y1="40.67" x2="277.4" y2="40.67" stroke="#111" stroke-width="0.75"/>
<line x1="275.4" y1="39.44" x2="277.4" y2="39.44" stroke="#111" stroke-width="0.75"/>
<line x1="275.4" y1="38.4" x2="277.4" y2="38.4" stroke="#111" stroke-width="0.75"/>
<line x1="275.4" y1="37.5" x2="277.4" y2="37.5" stroke="#111" stroke-width="0.75"/>
<line x1="275.4" y1="36.71" x2="277.4" y2="36.71" stroke="#111" stroke-width="0.75"/>
<line x1="275" y1="36" x2="277.4" y2="36" stroke="#111" stroke-width="0.75"/>
<line x1="275.9" y1="86.3" x2="277.4" y2="86.3" stroke="#111" stroke-width="0.75"/>
<line x1="275.9" y1="89.1" x2="277.4" y2="89.1" stroke="#111" stroke-width="0.75"/>
<line x1="275.9" y1="91.9" x2="277.4" y2="91.9" stroke="#111" stroke-width="0.75"/>
<line x1="275.9" y1="94.7" x2="277.4" y2="94.7" stroke="#111" stroke-width="0.75"/>
<line x1="275" y1="92" x2="277.4" y2="92" stroke="#111" stroke-width="0.75"/>
<line x1="276.2" y1="94.2" x2="277.4" y2="94.2" stroke="#111" stroke-width="0.75"/>
<line x1="276.2" y1="96.4" x2="277.4" y2="96.4" stroke="#111" stroke-width="0.75"/>
<line x1="292" y1="98.5" x2="292" y2="101.5" stroke="#111" stroke-width="0.75"/>
<line x1="297.06" y1="98.5" x2="297.06" y2="100.5" stroke="#111" stroke-width="0.75"/>
<line x1="300.02" y1="98.5" x2="300.02" y2="100.5" stroke="#111" stroke-width="0.75"/>
<line x1="302.11" y1="98.5" x2="302.11" y2="100.5" stroke="#111" stroke-width="0.75"/>
<line x1="303.74" y1="98.5" x2="303.74" y2="100.5" stroke="#111" stroke-width="0.75"/>
<line x1="305.07" y1="98.5" x2="305.07" y2="100.5" stroke="#111" stroke-width="0.75"/>
<line x1="306.2" y1="98.5" x2="306.2" y2="100.5" stroke="#111" stroke-width="0.75"/>
<line x1="307.17" y1="98.5" x2="307.17" y2="100.5" stroke="#111" stroke-width="0.75"/>
<line x1="308.03" y1="98.5" x2="308.03" y2="100.5" stroke="#111" stroke-width="0.75"/>
<line x1="308.8" y1="98.5" x2="308.8" y2="101.5" stroke="#111" stroke-width="0.75"/>
<line x1="313.47" y1="98.5" x2="313.47" y2="100.5" stroke="#111" stroke-width="0.75"/>
<line x1="316.2" y1="98.5" x2="316.2" y2="100.5" stroke="#111" stroke-width="0.75"/>
<line x1="318.13" y1="98.5" x2="318.13" y2="100.5" stroke="#111" stroke-width="0.75"/>
<line x1="319.63" y1="98.5" x2="319.63" y2="100.5" stroke="#111" stroke-width="0.75"/>
<line x1="320.86" y1="98.5" x2="320.86" y2="100.5" stroke="#111" stroke-width="0.75"/>
<line x1="321.9" y1="98.5" x2="321.9" y2="100.5" stroke="#111" stroke-width="0.75"/>
<line x1="322.8" y1="98.5" x2="322.8" y2="100.5" stroke="#111" stroke-width="0.75"/>
<line x1="323.59" y1="98.5" x2="323.59" y2="100.5" stroke="#111" stroke-width="0.75"/>
<line x1="324.3" y1="98.5" x2="324.3" y2="101.5" stroke="#111" stroke-width="0.75"/>
<line x1="328.85" y1="98.5" x2="328.85" y2="100.5" stroke="#111" stroke-width="0.75"/>
<line x1="331.5" y1="98.5" x2="331.5" y2="100.5" stroke="#111" stroke-width="0.75"/>
<line x1="333.39" y1="98.5" x2="333.39" y2="100.5" stroke="#111" stroke-width="0.75"/>
<line x1="334.85" y1="98.5" x2="334.85" y2="100.5" stroke="#111" stroke-width="0.75"/>
<line x1="336.05" y1="98.5" x2="336.05" y2="100.5" stroke="#111" stroke-width="0.75"/>
<line x1="337.06" y1="98.5" x2="337.06" y2="100.5" stroke="#111" stroke-width="0.75"/>
<line x1="337.94" y1="98.5" x2="337.94" y2="100.5" stroke="#111" stroke-width="0.75"/>
<line x1="338.71" y1="98.5" x2="338.71" y2="100.5" stroke="#111" stroke-width="0.75"/>
<line x1="339.4" y1="98.5" x2="339.4" y2="100.9" stroke="#111" stroke-width="0.75"/>
<line x1="286" y1="98.5" x2="286" y2="100" stroke="#111" stroke-width="0.75"/>
<line x1="288" y1="98.5" x2="288" y2="100" stroke="#111" stroke-width="0.75"/>
<line x1="290" y1="98.5" x2="290" y2="100" stroke="#111" stroke-width="0.75"/>
<line x1="284" y1="98.5" x2="284" y2="100.9" stroke="#111" stroke-width="0.75"/>
<line x1="279.9" y1="98.5" x2="279.9" y2="99.7" stroke="#111" stroke-width="0.75"/>
<line x1="281.9" y1="98.5" x2="281.9" y2="99.7" stroke="#111" stroke-width="0.75"/>
<text x="283.9" y="111" font-size="6.3" text-anchor="middle" fill="#333">0</text>
<text x="287.15" y="111" font-size="6.3" fill="#333">10</text>
<text x="294.25" y="108.35" font-size="3.78" fill="#333">2</text>
<text x="304.65" y="111" font-size="6.3" fill="#333">10</text>
<text x="311.75" y="108.35" font-size="3.78" fill="#333">3</text>
<text x="320.15" y="111" font-size="6.3" fill="#333">10</text>
<text x="327.25" y="108.35" font-size="3.78" fill="#333">4</text>
<text x="334.85" y="111" font-size="6.3" fill="#333">10</text>
<text x="341.95" y="108.35" font-size="3.78" fill="#333">5</text>
<text x="279.2" y="35.3" font-size="3.9" fill="#555">21.2%</text>
<text x="343.5" y="35.3" font-size="3.9" text-anchor="end" fill="#555">5.41%</text>
<text x="279.2" y="96.9" font-size="3.9" fill="#555">50.7%</text>
<text x="343.5" y="96.9" font-size="3.9" text-anchor="end" fill="#555">12.5%</text>
<text x="311.05" y="25" font-size="8.4" text-anchor="middle" fill="#111">4</text>
<clipPath id="c4"><rect x="351.1" y="30.3" width="67.3" height="68.2"/></clipPath>
<path d="M376.6 83.3 L375.9 83.4 L375.1 83.4 L374.4 83.4 L373.6 83.4 L372.9 83.4 L372.1 83.4 L371.6 83.3 L370.9 83.1 L370.4 83.0 L369.6 82.8 L369.1 82.6 L368.6 82.4 L368.1 82.2 L367.6 82.0 L367.1 81.7 L366.6 81.5 L366.1 81.2 L365.6 80.9 L365.1 80.5 L364.8 80.3 L364.4 80.0 L363.9 79.5 L363.6 79.3 L363.1 78.8 L362.9 78.5 L362.5 78.0 L362.1 77.5 L361.9 77.2 L361.6 76.8 L361.3 76.3 L361.0 75.8 L360.8 75.3 L360.6 74.8 L360.4 74.0 L360.2 73.5 L360.1 73.0 L360.0 72.3 L359.9 71.5 L360.0 70.8 L360.1 70.2 L360.2 69.5 L360.4 69.0 L360.6 68.3 L360.8 67.8 L361.0 67.3 L361.2 66.8 L361.5 66.3 L361.7 65.8 L361.9 65.3 L362.2 64.8 L362.4 64.3 L362.6 63.8 L362.9 63.3 L363.1 62.7 L363.3 62.0 L363.5 61.5 L363.7 61.0 L363.9 60.5 L364.1 60.0 L364.3 59.3 L364.5 58.8 L364.6 58.3 L364.8 57.5 L364.9 57.0 L365.1 56.4 L365.2 55.8 L365.4 55.3 L365.5 54.5 L365.6 54.0 L365.8 53.3 L365.9 52.8 L366.1 52.0 L366.2 51.5 L366.4 50.9 L366.5 50.3 L366.6 49.8 L366.9 49.1 L367.0 48.5 L367.2 48.0 L367.4 47.5 L367.6 47.0 L367.9 46.5 L368.1 46.0 L368.4 45.5 L368.7 45.0 L369.0 44.5 L369.4 44.2 L369.7 43.8 L370.1 43.4 L370.4 43.0 L370.9 42.7 L371.3 42.3 L371.6 42.0 L372.1 41.7 L372.6 41.4 L373.1 41.2 L373.6 40.9 L374.1 40.7 L374.6 40.5 L375.1 40.3 L375.9 40.1 L376.4 39.9 L376.9 39.8 L377.6 39.6 L378.1 39.5 L378.9 39.4 L379.6 39.3 L380.4 39.3 L381.1 39.3 L381.9 39.3 L382.6 39.3 L383.4 39.4 L384.1 39.5 L384.6 39.6 L385.4 39.7 L385.9 39.8 L386.6 40.0 L387.1 40.2 L387.6 40.4 L388.1 40.6 L388.6 40.8 L389.1 41.1 L389.6 41.4 L390.1 41.7 L390.6 42.0 L391.0 42.3 L391.4 42.6 L391.8 43.0 L392.1 43.3 L392.5 43.8 L392.9 44.2 L393.1 44.6 L393.4 45.0 L393.7 45.5 L394.0 46.0 L394.2 46.5 L394.5 47.0 L394.7 47.5 L394.9 48.1 L395.1 48.8 L395.3 49.3 L395.4 49.8 L395.6 50.5 L395.7 51.0 L395.8 51.8 L396.0 52.3 L396.1 52.9 L396.3 53.5 L396.4 54.0 L396.6 54.8 L396.7 55.3 L396.9 55.8 L397.1 56.4 L397.4 57.0 L397.5 57.5 L397.7 58.0 L397.9 58.5 L398.1 59.2 L398.3 59.8 L398.5 60.3 L398.6 60.8 L398.8 61.5 L398.9 62.0 L399.0 62.8 L399.1 63.5 L399.1 64.2 L399.1 64.8 L399.1 65.5 L399.1 66.0 L399.0 66.8 L398.9 67.5 L398.8 68.0 L398.6 68.8 L398.5 69.3 L398.3 69.8 L398.1 70.4 L397.9 71.0 L397.7 71.5 L397.4 72.0 L397.1 72.5 L396.9 73.0 L396.6 73.4 L396.3 73.8 L396.0 74.3 L395.6 74.7 L395.3 75.0 L394.9 75.5 L394.6 75.8 L394.1 76.2 L393.7 76.5 L393.4 76.8 L392.9 77.2 L392.4 77.5 L391.9 77.8 L391.5 78.0 L391.0 78.3 L390.5 78.5 L390.0 78.8 L389.5 79.0 L389.0 79.3 L388.5 79.5 L387.9 79.8 L387.4 80.0 L386.9 80.2 L386.4 80.4 L385.9 80.6 L385.2 80.8 L384.6 81.0 L384.1 81.2 L383.6 81.4 L383.1 81.6 L382.5 81.8 L381.9 82.0 L381.4 82.2 L380.9 82.3 L380.1 82.5 L379.6 82.7 L379.1 82.8 L378.4 83.0 L377.9 83.1 L377.1 83.2 L376.6 83.3Z" fill="none" stroke="#c4c4c4" stroke-width="0.45" clip-path="url(#c4)"/>
<path d="M376.9 81.1 L376.1 81.2 L375.4 81.2 L374.6 81.3 L373.9 81.3 L373.1 81.2 L372.4 81.2 L371.8 81.0 L371.1 80.9 L370.6 80.8 L369.9 80.6 L369.4 80.4 L368.9 80.2 L368.4 79.9 L367.9 79.7 L367.4 79.4 L366.9 79.1 L366.4 78.8 L365.9 78.5 L365.6 78.3 L365.1 77.9 L364.8 77.5 L364.4 77.1 L364.1 76.8 L363.7 76.3 L363.4 75.8 L363.1 75.5 L362.9 75.0 L362.6 74.5 L362.4 73.9 L362.2 73.3 L362.0 72.8 L361.9 72.0 L361.9 71.3 L362.0 70.5 L362.1 69.9 L362.2 69.3 L362.4 68.8 L362.6 68.2 L362.8 67.5 L363.1 67.0 L363.3 66.5 L363.5 66.0 L363.7 65.5 L363.9 65.0 L364.1 64.5 L364.4 63.9 L364.6 63.3 L364.7 62.8 L364.9 62.3 L365.1 61.8 L365.4 61.2 L365.6 60.5 L365.7 60.0 L365.9 59.5 L366.1 58.9 L366.3 58.3 L366.4 57.8 L366.6 57.2 L366.8 56.5 L366.9 56.0 L367.1 55.3 L367.2 54.8 L367.4 54.1 L367.5 53.5 L367.6 53.0 L367.8 52.3 L367.9 51.8 L368.1 51.0 L368.2 50.5 L368.4 50.0 L368.6 49.3 L368.8 48.8 L369.0 48.3 L369.2 47.8 L369.4 47.3 L369.7 46.8 L370.0 46.3 L370.3 45.8 L370.6 45.4 L370.9 45.0 L371.4 44.6 L371.6 44.3 L372.1 43.9 L372.5 43.5 L372.9 43.3 L373.4 43.0 L373.9 42.7 L374.4 42.5 L374.9 42.3 L375.4 42.0 L376.1 41.8 L376.6 41.7 L377.1 41.5 L377.9 41.4 L378.4 41.3 L379.1 41.2 L379.9 41.1 L380.6 41.1 L381.4 41.1 L382.1 41.1 L382.9 41.2 L383.6 41.3 L384.1 41.4 L384.7 41.5 L385.4 41.7 L385.9 41.9 L386.4 42.1 L386.9 42.3 L387.5 42.5 L388.0 42.8 L388.4 43.0 L388.9 43.3 L389.4 43.7 L389.8 44.0 L390.1 44.3 L390.6 44.8 L390.9 45.1 L391.2 45.5 L391.6 46.0 L391.9 46.5 L392.1 47.0 L392.4 47.5 L392.6 48.0 L392.8 48.5 L393.0 49.0 L393.2 49.5 L393.4 50.2 L393.5 50.8 L393.6 51.3 L393.8 52.0 L393.9 52.5 L394.1 53.3 L394.2 53.8 L394.4 54.3 L394.6 55.0 L394.7 55.5 L394.9 56.0 L395.1 56.7 L395.3 57.3 L395.5 57.8 L395.7 58.3 L395.9 58.8 L396.1 59.4 L396.3 60.0 L396.5 60.5 L396.6 61.0 L396.8 61.8 L396.9 62.3 L397.0 63.0 L397.1 63.8 L397.1 64.5 L397.1 65.3 L397.0 66.0 L396.9 66.8 L396.8 67.3 L396.7 68.0 L396.5 68.5 L396.3 69.0 L396.1 69.7 L395.9 70.3 L395.6 70.8 L395.4 71.3 L395.1 71.7 L394.9 72.1 L394.5 72.5 L394.2 73.0 L393.9 73.4 L393.5 73.8 L393.1 74.2 L392.7 74.5 L392.4 74.8 L391.9 75.2 L391.4 75.5 L391.0 75.8 L390.6 76.0 L390.1 76.3 L389.6 76.6 L389.1 76.8 L388.6 77.1 L388.1 77.3 L387.6 77.6 L387.0 77.8 L386.4 78.0 L385.9 78.3 L385.4 78.5 L384.9 78.6 L384.4 78.8 L383.8 79.0 L383.1 79.3 L382.6 79.5 L382.1 79.6 L381.6 79.8 L380.9 80.0 L380.4 80.2 L379.9 80.4 L379.2 80.5 L378.6 80.7 L378.1 80.8 L377.4 81.0 L376.9 81.1Z" fill="none" stroke="#c4c4c4" stroke-width="0.45" clip-path="url(#c4)"/>
<path d="M375.4 79.6 L374.6 79.6 L373.9 79.6 L373.1 79.6 L372.6 79.5 L371.9 79.4 L371.3 79.3 L370.6 79.1 L370.1 79.0 L369.6 78.8 L368.9 78.5 L368.4 78.3 L367.9 78.0 L367.4 77.8 L367.0 77.5 L366.6 77.3 L366.1 76.9 L365.7 76.5 L365.4 76.2 L365.0 75.8 L364.6 75.4 L364.4 75.0 L364.0 74.5 L363.8 74.0 L363.6 73.5 L363.4 72.9 L363.2 72.3 L363.1 71.5 L363.2 70.8 L363.3 70.0 L363.4 69.5 L363.6 68.8 L363.7 68.3 L363.9 67.8 L364.1 67.3 L364.4 66.6 L364.5 66.0 L364.7 65.5 L364.9 65.0 L365.1 64.5 L365.4 63.8 L365.5 63.3 L365.7 62.8 L365.9 62.3 L366.1 61.7 L366.3 61.0 L366.5 60.5 L366.7 60.0 L366.9 59.5 L367.1 58.8 L367.2 58.3 L367.4 57.8 L367.6 57.2 L367.8 56.5 L367.9 56.0 L368.1 55.4 L368.2 54.8 L368.4 54.3 L368.5 53.5 L368.7 53.0 L368.8 52.3 L369.0 51.8 L369.1 51.2 L369.3 50.5 L369.4 50.0 L369.6 49.5 L369.8 48.8 L370.0 48.3 L370.3 47.8 L370.5 47.3 L370.8 46.8 L371.1 46.4 L371.4 46.0 L371.8 45.5 L372.1 45.2 L372.5 44.8 L372.9 44.5 L373.4 44.2 L373.9 43.9 L374.4 43.6 L374.9 43.3 L375.4 43.1 L375.9 42.9 L376.4 42.8 L377.1 42.5 L377.6 42.4 L378.3 42.3 L378.9 42.2 L379.6 42.1 L380.4 42.1 L381.1 42.1 L381.9 42.2 L382.6 42.3 L383.1 42.3 L383.9 42.5 L384.4 42.6 L384.9 42.8 L385.6 43.0 L386.1 43.3 L386.6 43.5 L387.1 43.8 L387.5 44.0 L387.9 44.3 L388.4 44.6 L388.8 45.0 L389.1 45.3 L389.6 45.8 L389.9 46.2 L390.1 46.5 L390.4 47.0 L390.7 47.5 L391.0 48.0 L391.2 48.5 L391.4 49.0 L391.6 49.6 L391.8 50.3 L392.0 50.8 L392.1 51.3 L392.3 52.0 L392.4 52.5 L392.6 53.2 L392.8 53.8 L392.9 54.3 L393.1 54.8 L393.3 55.5 L393.5 56.0 L393.7 56.5 L393.9 57.0 L394.1 57.6 L394.4 58.2 L394.6 58.8 L394.7 59.3 L394.9 59.8 L395.1 60.3 L395.3 61.0 L395.4 61.5 L395.6 62.2 L395.7 62.8 L395.8 63.5 L395.8 64.3 L395.7 65.0 L395.7 65.8 L395.6 66.3 L395.4 67.0 L395.3 67.5 L395.1 68.1 L394.9 68.8 L394.6 69.3 L394.4 69.8 L394.1 70.3 L393.9 70.7 L393.6 71.1 L393.2 71.5 L392.9 72.0 L392.6 72.3 L392.1 72.8 L391.8 73.0 L391.4 73.5 L390.9 73.8 L390.6 74.0 L390.1 74.4 L389.6 74.7 L389.1 75.0 L388.6 75.2 L388.1 75.5 L387.6 75.7 L387.1 76.0 L386.6 76.2 L386.1 76.4 L385.6 76.6 L385.1 76.8 L384.5 77.0 L383.9 77.3 L383.4 77.5 L382.9 77.7 L382.4 77.8 L381.8 78.0 L381.1 78.3 L380.6 78.5 L380.1 78.6 L379.4 78.8 L378.9 78.9 L378.4 79.1 L377.6 79.2 L377.1 79.3 L376.4 79.5 L375.6 79.5Z" fill="none" stroke="#c4c4c4" stroke-width="0.45" clip-path="url(#c4)"/>
<path d="M375.4 76.1 L374.6 76.1 L373.9 76.2 L373.1 76.1 L372.4 76.0 L371.9 75.9 L371.3 75.8 L370.6 75.6 L370.1 75.4 L369.6 75.1 L369.1 74.9 L368.6 74.5 L368.3 74.3 L367.9 73.9 L367.6 73.5 L367.2 73.0 L366.9 72.5 L366.7 72.0 L366.6 71.5 L366.5 70.8 L366.6 70.0 L366.6 69.5 L366.7 68.8 L366.8 68.0 L366.9 67.5 L367.0 66.8 L367.1 66.0 L367.1 65.5 L367.2 64.8 L367.4 64.2 L367.5 63.5 L367.6 63.0 L367.8 62.3 L368.0 61.8 L368.1 61.3 L368.4 60.8 L368.6 60.2 L368.9 59.7 L369.1 59.1 L369.4 58.6 L369.6 58.1 L369.9 57.6 L370.1 57.1 L370.3 56.5 L370.5 56.0 L370.7 55.5 L370.9 55.0 L371.0 54.3 L371.1 53.8 L371.3 53.0 L371.4 52.5 L371.5 51.8 L371.6 51.2 L371.8 50.5 L371.9 50.0 L372.1 49.4 L372.4 48.8 L372.6 48.3 L372.9 47.9 L373.1 47.5 L373.5 47.0 L373.9 46.7 L374.3 46.3 L374.6 46.0 L375.1 45.7 L375.6 45.4 L376.1 45.2 L376.6 45.0 L377.2 44.8 L377.9 44.6 L378.4 44.5 L379.1 44.5 L379.9 44.4 L380.6 44.5 L381.1 44.5 L381.9 44.7 L382.4 44.8 L383.1 45.0 L383.6 45.3 L384.1 45.5 L384.6 45.8 L385.1 46.0 L385.4 46.3 L385.9 46.6 L386.3 47.0 L386.6 47.3 L387.0 47.8 L387.4 48.3 L387.6 48.7 L387.9 49.2 L388.1 49.8 L388.3 50.3 L388.4 50.8 L388.6 51.5 L388.7 52.0 L388.9 52.8 L389.0 53.3 L389.1 53.8 L389.3 54.5 L389.5 55.0 L389.6 55.5 L389.9 56.1 L390.1 56.7 L390.4 57.3 L390.6 57.8 L390.8 58.3 L391.1 58.8 L391.3 59.3 L391.5 59.8 L391.7 60.3 L391.9 60.8 L392.1 61.4 L392.3 62.0 L392.4 62.5 L392.5 63.3 L392.5 64.0 L392.5 64.8 L392.4 65.5 L392.3 66.0 L392.1 66.7 L391.9 67.3 L391.6 67.8 L391.4 68.3 L391.1 68.7 L390.9 69.1 L390.5 69.5 L390.1 70.0 L389.8 70.3 L389.4 70.6 L388.9 71.0 L388.5 71.3 L388.1 71.5 L387.6 71.8 L387.1 72.1 L386.6 72.4 L386.1 72.6 L385.6 72.8 L385.1 73.0 L384.5 73.3 L383.9 73.5 L383.4 73.7 L382.9 73.9 L382.4 74.1 L381.8 74.3 L381.1 74.5 L380.6 74.7 L380.1 74.9 L379.6 75.0 L378.9 75.3 L378.4 75.4 L377.9 75.6 L377.1 75.7 L376.6 75.9 L375.9 76.0 L375.4 76.1Z" fill="none" stroke="#c3c3c3" stroke-width="0.45" clip-path="url(#c4)"/>
<path d="M375.9 75.3 L375.1 75.4 L374.4 75.5 L373.6 75.5 L372.9 75.4 L372.1 75.3 L371.6 75.2 L371.1 75.0 L370.5 74.8 L369.9 74.5 L369.5 74.3 L369.1 74.0 L368.6 73.6 L368.3 73.3 L367.9 72.8 L367.6 72.3 L367.4 71.8 L367.3 71.3 L367.3 70.5 L367.3 69.8 L367.4 69.3 L367.4 68.5 L367.5 67.8 L367.6 67.0 L367.6 66.5 L367.7 65.8 L367.8 65.0 L367.9 64.5 L368.0 63.8 L368.1 63.2 L368.3 62.5 L368.4 62.0 L368.6 61.5 L368.9 60.9 L369.1 60.3 L369.4 59.8 L369.6 59.3 L369.9 58.8 L370.1 58.3 L370.4 57.9 L370.6 57.4 L370.9 56.8 L371.1 56.3 L371.3 55.8 L371.4 55.3 L371.6 54.6 L371.7 54.0 L371.8 53.3 L371.9 52.8 L372.0 52.0 L372.1 51.5 L372.3 50.8 L372.4 50.3 L372.6 49.6 L372.8 49.0 L373.1 48.5 L373.4 48.1 L373.6 47.7 L374.0 47.3 L374.4 46.9 L374.8 46.5 L375.1 46.3 L375.6 46.0 L376.1 45.7 L376.6 45.5 L377.2 45.3 L377.9 45.1 L378.4 45.0 L379.1 45.0 L379.9 44.9 L380.6 45.0 L381.1 45.1 L381.9 45.2 L382.4 45.3 L382.9 45.5 L383.5 45.8 L384.0 46.0 L384.4 46.3 L384.9 46.6 L385.4 46.9 L385.8 47.3 L386.1 47.6 L386.5 48.0 L386.8 48.5 L387.1 49.0 L387.3 49.5 L387.5 50.0 L387.7 50.5 L387.9 51.2 L388.0 51.8 L388.1 52.4 L388.2 53.0 L388.4 53.6 L388.5 54.3 L388.7 54.8 L388.9 55.4 L389.1 56.0 L389.3 56.5 L389.5 57.0 L389.8 57.5 L390.0 58.0 L390.3 58.5 L390.5 59.0 L390.8 59.5 L391.0 60.0 L391.2 60.5 L391.4 61.0 L391.6 61.8 L391.7 62.3 L391.9 63.0 L391.9 63.5 L391.9 64.3 L391.9 65.0 L391.8 65.5 L391.6 66.2 L391.4 66.8 L391.2 67.3 L390.9 67.8 L390.6 68.3 L390.4 68.7 L390.1 69.0 L389.6 69.5 L389.4 69.8 L388.9 70.3 L388.5 70.5 L388.1 70.8 L387.6 71.1 L387.1 71.4 L386.6 71.7 L386.1 71.9 L385.6 72.2 L385.1 72.4 L384.6 72.6 L384.1 72.8 L383.4 73.0 L382.9 73.3 L382.4 73.4 L381.9 73.6 L381.3 73.8 L380.6 74.0 L380.1 74.2 L379.6 74.4 L379.0 74.5 L378.4 74.7 L377.9 74.9 L377.2 75.0 L376.6 75.2 L376.0 75.3Z" fill="none" stroke="#c1c1c1" stroke-width="0.45" clip-path="url(#c4)"/>
<path d="M375.9 74.6 L375.1 74.7 L374.4 74.7 L373.6 74.7 L372.9 74.7 L372.2 74.5 L371.6 74.4 L371.1 74.2 L370.6 74.0 L370.1 73.7 L369.6 73.4 L369.2 73.0 L368.9 72.7 L368.6 72.3 L368.4 71.8 L368.2 71.0 L368.1 70.3 L368.1 69.5 L368.2 68.8 L368.2 68.0 L368.2 67.3 L368.3 66.5 L368.3 65.8 L368.4 65.3 L368.5 64.5 L368.6 63.8 L368.7 63.3 L368.9 62.7 L369.0 62.0 L369.2 61.5 L369.4 61.0 L369.6 60.5 L369.9 60.0 L370.1 59.5 L370.4 59.0 L370.7 58.5 L371.0 58.0 L371.2 57.5 L371.5 57.0 L371.7 56.5 L371.9 56.0 L372.1 55.4 L372.3 54.8 L372.4 54.3 L372.5 53.5 L372.6 52.8 L372.6 52.3 L372.7 51.5 L372.9 51.0 L373.0 50.3 L373.2 49.8 L373.4 49.3 L373.6 48.8 L373.9 48.3 L374.3 47.8 L374.6 47.5 L375.1 47.0 L375.4 46.8 L375.9 46.5 L376.4 46.2 L376.9 46.0 L377.5 45.8 L378.1 45.7 L378.9 45.6 L379.4 45.5 L380.1 45.5 L380.6 45.6 L381.4 45.7 L381.9 45.8 L382.6 46.0 L383.1 46.3 L383.6 46.5 L384.1 46.8 L384.4 47.0 L384.9 47.4 L385.3 47.8 L385.6 48.1 L386.0 48.5 L386.3 49.0 L386.6 49.5 L386.8 50.0 L387.0 50.5 L387.1 51.1 L387.3 51.8 L387.4 52.3 L387.5 53.0 L387.6 53.7 L387.7 54.3 L387.9 54.8 L388.1 55.5 L388.3 56.0 L388.5 56.5 L388.7 57.0 L389.0 57.5 L389.2 58.0 L389.5 58.5 L389.8 59.0 L390.0 59.5 L390.3 60.0 L390.5 60.5 L390.7 61.0 L390.9 61.6 L391.0 62.3 L391.1 62.8 L391.2 63.5 L391.2 64.3 L391.2 65.0 L391.1 65.5 L390.9 66.3 L390.7 66.8 L390.4 67.3 L390.2 67.8 L389.9 68.3 L389.6 68.6 L389.2 69.0 L388.9 69.4 L388.4 69.8 L388.0 70.0 L387.6 70.4 L387.1 70.7 L386.6 70.9 L386.1 71.2 L385.6 71.4 L385.1 71.7 L384.6 71.9 L384.1 72.1 L383.5 72.3 L382.9 72.5 L382.4 72.7 L381.9 72.9 L381.4 73.1 L380.6 73.3 L380.1 73.5 L379.6 73.6 L379.1 73.8 L378.4 74.0 L377.9 74.1 L377.2 74.3 L376.6 74.4 L376.0 74.5Z" fill="none" stroke="#bfbfbf" stroke-width="0.45" clip-path="url(#c4)"/>
<path d="M376.1 73.8 L375.4 73.9 L374.6 74.0 L373.9 74.0 L373.1 73.9 L372.4 73.8 L371.9 73.7 L371.4 73.5 L370.9 73.2 L370.4 72.9 L369.9 72.5 L369.6 72.2 L369.3 71.8 L369.1 71.2 L369.0 70.5 L369.0 69.8 L368.9 69.0 L368.9 68.3 L368.9 67.5 L368.9 66.8 L369.0 66.0 L369.0 65.3 L369.1 64.5 L369.1 64.0 L369.3 63.3 L369.4 62.8 L369.6 62.2 L369.8 61.5 L370.0 61.0 L370.3 60.5 L370.5 60.0 L370.8 59.5 L371.1 59.0 L371.4 58.6 L371.6 58.1 L371.9 57.7 L372.1 57.2 L372.4 56.7 L372.6 56.1 L372.8 55.5 L372.9 55.0 L373.0 54.3 L373.1 53.8 L373.2 53.0 L373.3 52.3 L373.4 51.7 L373.5 51.0 L373.6 50.5 L373.8 49.8 L374.0 49.3 L374.3 48.8 L374.6 48.4 L374.9 48.0 L375.4 47.6 L375.7 47.3 L376.1 47.0 L376.6 46.8 L377.1 46.5 L377.8 46.3 L378.4 46.2 L379.1 46.1 L379.9 46.1 L380.6 46.1 L381.4 46.3 L381.9 46.4 L382.4 46.6 L382.9 46.8 L383.4 47.1 L383.9 47.4 L384.4 47.8 L384.7 48.0 L385.1 48.5 L385.4 48.8 L385.7 49.3 L386.0 49.8 L386.2 50.3 L386.4 50.8 L386.5 51.5 L386.6 52.0 L386.7 52.8 L386.9 53.5 L386.9 54.0 L387.1 54.7 L387.3 55.3 L387.4 55.8 L387.6 56.3 L387.9 56.8 L388.1 57.3 L388.4 57.8 L388.6 58.3 L388.9 58.8 L389.2 59.3 L389.4 59.8 L389.7 60.3 L389.9 60.8 L390.1 61.4 L390.3 62.0 L390.4 62.5 L390.5 63.3 L390.6 64.0 L390.5 64.8 L390.4 65.5 L390.3 66.0 L390.1 66.5 L389.8 67.0 L389.6 67.5 L389.2 68.0 L388.9 68.5 L388.6 68.8 L388.1 69.2 L387.7 69.5 L387.3 69.8 L386.9 70.1 L386.4 70.4 L385.9 70.7 L385.4 70.9 L384.9 71.1 L384.4 71.3 L383.8 71.5 L383.1 71.8 L382.6 72.0 L382.1 72.2 L381.6 72.3 L380.9 72.5 L380.4 72.7 L379.9 72.9 L379.3 73.0 L378.6 73.2 L378.1 73.4 L377.4 73.5 L376.9 73.7 L376.2 73.8Z" fill="none" stroke="#bcbcbc" stroke-width="0.45" clip-path="url(#c4)"/>
<path d="M376.4 73.1 L375.6 73.2 L374.9 73.3 L374.1 73.3 L373.4 73.2 L372.6 73.1 L372.1 73.0 L371.6 72.8 L371.1 72.5 L370.6 72.1 L370.4 71.8 L370.1 71.3 L369.9 70.5 L369.8 70.0 L369.7 69.3 L369.7 68.5 L369.6 67.8 L369.6 67.0 L369.6 66.5 L369.6 65.8 L369.6 65.2 L369.6 64.5 L369.7 63.8 L369.9 63.3 L370.0 62.5 L370.2 62.0 L370.4 61.5 L370.6 61.0 L370.9 60.5 L371.1 60.0 L371.4 59.5 L371.7 59.0 L372.0 58.5 L372.3 58.0 L372.6 57.6 L372.9 57.1 L373.1 56.6 L373.3 56.0 L373.5 55.5 L373.6 55.0 L373.7 54.3 L373.8 53.5 L373.9 52.9 L373.9 52.3 L374.0 51.5 L374.1 51.0 L374.3 50.3 L374.5 49.8 L374.7 49.3 L375.0 48.8 L375.4 48.4 L375.7 48.0 L376.1 47.7 L376.6 47.4 L377.1 47.1 L377.6 47.0 L378.1 46.8 L378.9 46.7 L379.6 46.6 L380.4 46.7 L381.1 46.8 L381.6 46.9 L382.1 47.1 L382.6 47.3 L383.1 47.6 L383.6 48.0 L384.0 48.3 L384.4 48.6 L384.8 49.0 L385.1 49.5 L385.4 50.0 L385.6 50.5 L385.7 51.0 L385.9 51.5 L386.0 52.3 L386.1 53.0 L386.2 53.5 L386.3 54.3 L386.4 54.8 L386.6 55.5 L386.8 56.0 L387.0 56.5 L387.2 57.0 L387.5 57.5 L387.8 58.0 L388.1 58.5 L388.3 59.0 L388.6 59.5 L388.9 60.0 L389.1 60.5 L389.3 61.0 L389.5 61.5 L389.6 62.0 L389.8 62.8 L389.9 63.3 L389.9 64.0 L389.9 64.8 L389.8 65.3 L389.6 66.0 L389.4 66.5 L389.1 67.0 L388.9 67.5 L388.6 67.9 L388.2 68.3 L387.9 68.7 L387.4 69.0 L387.0 69.3 L386.6 69.6 L386.1 69.9 L385.6 70.1 L385.1 70.4 L384.6 70.6 L384.1 70.8 L383.5 71.0 L382.9 71.3 L382.4 71.5 L381.9 71.6 L381.4 71.8 L380.6 72.0 L380.1 72.2 L379.6 72.3 L378.9 72.5 L378.4 72.7 L377.8 72.8 L377.1 72.9 L376.6 73.0Z" fill="none" stroke="#b8b8b8" stroke-width="0.45" clip-path="url(#c4)"/>
<path d="M376.6 72.1 L375.9 72.1 L375.1 72.1 L374.4 72.1 L373.9 72.0 L373.1 71.9 L372.6 71.8 L372.1 71.5 L371.6 71.3 L371.1 71.0 L370.8 70.5 L370.6 69.8 L370.5 69.3 L370.4 68.5 L370.4 68.0 L370.3 67.3 L370.2 66.5 L370.2 65.8 L370.2 65.0 L370.3 64.3 L370.4 63.6 L370.5 63.0 L370.6 62.5 L370.9 61.9 L371.1 61.3 L371.3 60.8 L371.6 60.3 L371.9 59.9 L372.1 59.5 L372.4 59.0 L372.7 58.5 L373.0 58.0 L373.3 57.5 L373.6 57.0 L373.8 56.5 L374.0 56.0 L374.2 55.5 L374.3 54.8 L374.4 54.3 L374.5 53.5 L374.5 52.8 L374.6 52.0 L374.6 51.5 L374.8 50.8 L374.9 50.3 L375.1 49.8 L375.4 49.3 L375.8 48.8 L376.1 48.5 L376.6 48.1 L377.1 47.8 L377.6 47.6 L378.1 47.4 L378.6 47.3 L379.4 47.2 L380.1 47.2 L380.6 47.3 L381.4 47.5 L381.9 47.7 L382.4 47.9 L382.9 48.2 L383.4 48.5 L383.7 48.8 L384.1 49.3 L384.4 49.6 L384.7 50.0 L384.9 50.5 L385.1 51.1 L385.2 51.8 L385.3 52.5 L385.3 53.3 L385.3 54.0 L385.4 54.5 L385.6 55.3 L385.7 55.8 L386.0 56.3 L386.3 56.8 L386.6 57.2 L386.9 57.7 L387.1 58.1 L387.4 58.5 L387.7 59.0 L387.9 59.5 L388.2 60.0 L388.5 60.5 L388.7 61.0 L388.9 61.6 L389.0 62.3 L389.0 63.0 L389.0 63.8 L389.0 64.5 L389.0 65.3 L388.9 66.0 L388.7 66.5 L388.4 67.0 L388.1 67.5 L387.9 67.8 L387.4 68.3 L387.0 68.5 L386.6 68.9 L386.1 69.2 L385.6 69.5 L385.1 69.8 L384.6 70.0 L384.1 70.2 L383.6 70.4 L383.1 70.6 L382.6 70.8 L381.9 71.0 L381.4 71.2 L380.9 71.3 L380.1 71.5 L379.6 71.6 L378.9 71.8 L378.4 71.8 L377.6 71.9 L376.9 72.0ZM387.8 64.5 L388.0 64.0 L387.6 63.5 L387.1 63.5 L386.8 63.8 L386.9 64.5 L387.4 64.7Z" fill="none" stroke="#b4b4b4" stroke-width="0.45" clip-path="url(#c4)"/>
<path d="M377.6 71.1 L376.9 71.1 L376.1 71.1 L375.4 71.1 L374.9 71.0 L374.1 70.9 L373.6 70.8 L373.0 70.5 L372.5 70.3 L372.1 70.0 L371.6 69.7 L371.3 69.3 L371.2 68.5 L371.1 68.0 L370.9 67.3 L370.9 66.5 L370.8 66.0 L370.8 65.3 L370.8 64.5 L370.9 64.0 L371.0 63.3 L371.1 62.8 L371.3 62.0 L371.6 61.5 L371.8 61.0 L372.1 60.5 L372.4 60.1 L372.6 59.7 L372.9 59.3 L373.2 58.8 L373.5 58.3 L373.9 57.8 L374.1 57.4 L374.4 56.9 L374.6 56.4 L374.8 55.8 L374.9 55.3 L375.1 54.5 L375.1 54.0 L375.1 53.3 L375.2 52.5 L375.2 51.8 L375.4 51.1 L375.5 50.5 L375.7 50.0 L376.0 49.5 L376.4 49.1 L376.7 48.8 L377.1 48.5 L377.6 48.2 L378.1 48.0 L378.9 47.9 L379.6 47.8 L380.4 47.9 L381.1 48.0 L381.6 48.2 L382.1 48.5 L382.6 48.8 L383.0 49.0 L383.4 49.4 L383.7 49.8 L384.0 50.3 L384.1 50.8 L384.2 51.5 L384.2 52.3 L384.1 53.0 L384.1 53.8 L384.1 54.5 L384.2 55.3 L384.4 55.8 L384.6 56.3 L385.0 56.8 L385.3 57.3 L385.6 57.6 L386.0 58.0 L386.4 58.4 L386.7 58.8 L387.1 59.3 L387.4 59.7 L387.6 60.1 L387.9 60.6 L388.1 61.3 L388.2 61.8 L387.9 62.3 L387.4 62.5 L386.9 62.8 L386.5 63.0 L386.2 63.5 L386.1 64.0 L386.1 64.5 L386.4 65.0 L386.9 65.5 L387.1 65.8 L387.4 66.3 L387.3 66.8 L387.1 67.3 L386.6 67.8 L386.4 68.1 L385.9 68.4 L385.4 68.8 L384.9 69.0 L384.4 69.3 L383.9 69.5 L383.4 69.8 L382.9 69.9 L382.4 70.1 L381.7 70.3 L381.1 70.5 L380.6 70.6 L379.9 70.7 L379.4 70.8 L378.6 71.0 L377.9 71.0Z" fill="none" stroke="#aeaeae" stroke-width="0.45" clip-path="url(#c4)"/>
<path d="M379.6 70.1 L378.9 70.2 L378.1 70.2 L377.4 70.3 L376.6 70.3 L375.9 70.2 L375.1 70.1 L374.6 70.0 L374.0 69.8 L373.4 69.5 L372.9 69.3 L372.6 69.0 L372.1 68.7 L371.9 68.3 L371.7 67.5 L371.6 67.0 L371.5 66.3 L371.4 65.5 L371.4 64.8 L371.4 64.0 L371.5 63.3 L371.6 62.8 L371.9 62.2 L372.1 61.6 L372.4 61.1 L372.6 60.6 L372.9 60.2 L373.1 59.8 L373.5 59.3 L373.9 58.8 L374.1 58.5 L374.4 58.0 L374.7 57.5 L375.0 57.0 L375.3 56.5 L375.5 56.0 L375.6 55.5 L375.8 54.8 L375.8 54.0 L375.8 53.3 L375.9 52.6 L375.9 52.0 L376.0 51.3 L376.1 50.8 L376.4 50.2 L376.6 49.8 L377.1 49.3 L377.4 49.0 L377.9 48.8 L378.6 48.6 L379.1 48.5 L379.9 48.5 L380.5 48.5 L381.1 48.7 L381.6 48.9 L382.1 49.2 L382.5 49.5 L382.8 50.0 L383.0 50.5 L383.1 51.3 L383.1 52.0 L383.0 52.8 L382.9 53.5 L382.8 54.0 L382.8 54.8 L382.9 55.4 L383.1 56.0 L383.4 56.5 L383.6 56.8 L384.0 57.3 L384.4 57.7 L384.7 58.0 L385.1 58.4 L385.5 58.8 L385.9 59.2 L386.2 59.5 L386.6 60.0 L386.9 60.5 L387.0 61.0 L386.9 61.8 L386.6 62.2 L386.3 62.5 L386.0 63.0 L385.7 63.5 L385.7 64.3 L385.8 65.0 L386.0 65.5 L386.3 66.0 L386.3 66.8 L386.0 67.3 L385.6 67.7 L385.1 68.0 L384.7 68.3 L384.3 68.5 L383.8 68.8 L383.3 69.0 L382.6 69.3 L382.1 69.5 L381.6 69.6 L380.9 69.8 L380.4 69.9 L379.7 70.0Z" fill="none" stroke="#a7a7a7" stroke-width="0.45" clip-path="url(#c4)"/>
<path d="M379.9 69.3 L379.1 69.4 L378.4 69.5 L377.6 69.5 L376.9 69.5 L376.1 69.4 L375.5 69.3 L374.9 69.1 L374.4 68.9 L373.9 68.7 L373.4 68.4 L372.9 68.0 L372.6 67.8 L372.3 67.3 L372.2 66.5 L372.1 66.0 L372.0 65.3 L372.0 64.5 L372.0 63.8 L372.1 63.3 L372.3 62.5 L372.5 62.0 L372.7 61.5 L373.0 61.0 L373.3 60.5 L373.6 60.0 L373.9 59.7 L374.2 59.3 L374.5 58.8 L374.9 58.4 L375.1 58.0 L375.5 57.5 L375.9 57.2 L376.3 56.8 L376.6 56.5 L376.9 56.0 L377.2 55.5 L377.2 54.8 L377.1 54.3 L376.9 53.6 L376.6 53.0 L376.6 52.5 L376.6 52.0 L376.7 51.3 L376.9 50.8 L377.2 50.3 L377.6 49.9 L378.1 49.5 L378.6 49.3 L379.1 49.2 L379.9 49.2 L380.5 49.3 L381.1 49.5 L381.4 49.8 L381.6 50.3 L381.8 51.0 L381.9 51.5 L381.8 52.0 L381.6 52.8 L381.5 53.3 L381.3 53.8 L381.1 54.3 L381.0 55.0 L381.1 55.7 L381.4 56.1 L381.7 56.5 L382.1 57.0 L382.5 57.3 L382.9 57.6 L383.4 58.0 L383.7 58.3 L384.1 58.6 L384.6 59.0 L384.9 59.3 L385.3 59.8 L385.6 60.1 L385.9 60.5 L386.1 61.1 L386.1 61.6 L385.9 62.3 L385.6 62.8 L385.4 63.3 L385.3 63.8 L385.3 64.5 L385.4 65.0 L385.5 65.8 L385.5 66.5 L385.2 67.0 L384.9 67.3 L384.4 67.7 L383.9 68.0 L383.4 68.3 L382.9 68.5 L382.4 68.7 L381.9 68.9 L381.2 69.0 L380.6 69.2 L380.1 69.3Z" fill="none" stroke="#9e9e9e" stroke-width="0.45" clip-path="url(#c4)"/>
<path d="M379.4 52.0 L378.6 51.8 L378.5 51.3 L378.7 50.8 L379.4 50.7 L379.7 51.0 L379.6 51.7ZM380.4 68.6 L379.6 68.7 L378.9 68.8 L378.1 68.8 L377.4 68.8 L376.6 68.7 L376.0 68.5 L375.4 68.3 L374.9 68.1 L374.4 67.8 L373.9 67.5 L373.6 67.2 L373.2 66.8 L372.9 66.3 L372.8 65.8 L372.7 65.0 L372.6 64.3 L372.6 63.5 L372.8 62.8 L372.9 62.3 L373.1 61.8 L373.4 61.3 L373.7 60.8 L374.0 60.3 L374.4 59.9 L374.6 59.5 L375.1 59.0 L375.4 58.7 L375.9 58.4 L376.4 58.1 L376.9 57.9 L377.4 57.6 L377.9 57.4 L378.4 57.3 L379.1 57.2 L379.8 57.3 L380.4 57.4 L380.9 57.6 L381.4 57.9 L381.9 58.1 L382.4 58.4 L382.9 58.7 L383.3 59.0 L383.6 59.3 L384.1 59.7 L384.5 60.0 L384.9 60.4 L385.1 60.8 L385.4 61.4 L385.4 61.9 L385.2 62.5 L385.1 63.0 L384.9 63.8 L384.9 64.5 L384.9 65.3 L384.9 65.9 L384.6 66.5 L384.3 66.8 L383.9 67.2 L383.4 67.5 L382.9 67.8 L382.4 68.0 L381.9 68.1 L381.4 68.3 L380.6 68.5ZM378.0 65.8 L377.6 65.5 L377.6 65.8Z" fill="none" stroke="#959595" stroke-width="0.45" clip-path="url(#c4)"/>
<path d="M380.6 67.6 L379.9 67.7 L379.1 67.7 L378.4 67.5 L378.9 67.1 L379.4 66.8 L379.7 66.5 L380.0 66.0 L379.9 65.5 L379.4 65.1 L378.9 64.9 L378.4 64.8 L377.6 64.7 L376.9 64.7 L376.4 64.8 L375.6 65.0 L375.1 65.2 L374.4 65.3 L373.7 65.0 L373.4 64.5 L373.3 64.0 L373.3 63.3 L373.4 62.8 L373.6 62.1 L373.9 61.6 L374.1 61.1 L374.4 60.8 L374.7 60.3 L375.1 59.9 L375.6 59.5 L376.0 59.3 L376.5 59.0 L377.1 58.8 L377.6 58.6 L378.1 58.5 L378.9 58.4 L379.6 58.4 L380.3 58.5 L380.9 58.7 L381.4 58.9 L381.9 59.1 L382.4 59.4 L382.9 59.7 L383.3 60.0 L383.6 60.3 L384.1 60.7 L384.4 61.1 L384.6 61.5 L384.7 62.3 L384.6 63.0 L384.6 63.5 L384.5 64.3 L384.4 65.0 L384.2 65.5 L383.9 66.0 L383.6 66.4 L383.1 66.7 L382.6 67.0 L382.1 67.2 L381.6 67.3 L380.9 67.5Z" fill="none" stroke="#8a8a8a" stroke-width="0.45" clip-path="url(#c4)"/>
<path d="M382.9 65.6 L382.1 65.8 L381.4 65.5 L381.1 65.3 L380.6 65.0 L380.1 64.8 L379.5 64.5 L378.9 64.4 L378.3 64.3 L377.6 64.2 L376.9 64.2 L376.1 64.3 L375.4 64.3 L374.6 64.1 L374.1 63.9 L373.9 63.3 L374.0 62.5 L374.2 62.0 L374.5 61.5 L374.8 61.0 L375.1 60.8 L375.6 60.4 L376.1 60.1 L376.6 59.9 L377.1 59.7 L377.6 59.5 L378.4 59.4 L379.1 59.3 L379.9 59.4 L380.6 59.5 L381.1 59.7 L381.6 59.9 L382.1 60.1 L382.6 60.5 L383.0 60.8 L383.4 61.1 L383.7 61.5 L384.0 62.0 L384.1 62.8 L384.0 63.5 L383.9 64.3 L383.7 64.8 L383.4 65.3 L383.0 65.5Z" fill="none" stroke="#7d7d7d" stroke-width="0.45" clip-path="url(#c4)"/>
<path d="M382.4 64.6 L381.6 64.6 L381.1 64.5 L380.5 64.3 L379.9 64.1 L379.4 64.0 L378.6 63.9 L377.9 63.8 L377.4 63.8 L376.6 63.7 L375.9 63.6 L375.4 63.4 L375.0 63.0 L375.0 62.3 L375.3 61.8 L375.6 61.5 L376.1 61.1 L376.6 60.8 L377.1 60.5 L377.6 60.4 L378.1 60.3 L378.9 60.2 L379.6 60.2 L380.3 60.3 L380.9 60.5 L381.4 60.7 L381.9 60.9 L382.4 61.3 L382.6 61.5 L383.0 62.0 L383.3 62.5 L383.3 63.3 L383.1 64.0 L382.9 64.3 L382.4 64.6Z" fill="none" stroke="#6f6f6f" stroke-width="0.45" clip-path="url(#c4)"/>
<path d="M381.4 63.8 L380.9 63.8 L380.1 63.7 L379.4 63.6 L378.9 63.5 L378.1 63.4 L377.4 63.3 L376.9 63.2 L376.4 62.9 L376.2 62.3 L376.5 61.8 L376.9 61.5 L377.4 61.3 L378.0 61.0 L378.6 60.9 L379.4 60.9 L380.1 61.0 L380.6 61.2 L381.1 61.4 L381.6 61.7 L382.0 62.0 L382.3 62.5 L382.4 63.0 L382.1 63.5 L381.6 63.8Z" fill="none" stroke="#606060" stroke-width="0.45" clip-path="url(#c4)"/>
<ellipse cx="376" cy="99" rx="6" ry="2.6" fill="none" stroke="#c4c4c4" stroke-width="0.45" clip-path="url(#c4)"/>
<line x1="386.5" y1="30.3" x2="386.5" y2="98.5" stroke="#a8a8a8" stroke-width="0.8"/>
<line x1="351.1" y1="56.5" x2="418.4" y2="56.5" stroke="#b0b0b0" stroke-width="0.8"/>
<rect x="351.1" y="30.3" width="67.3" height="68.2" fill="none" stroke="#222" stroke-width="1.1"/>
<line x1="348.1" y1="83.5" x2="351.1" y2="83.5" stroke="#111" stroke-width="0.75"/>
<line x1="349.1" y1="78.53" x2="351.1" y2="78.53" stroke="#111" stroke-width="0.75"/>
<line x1="349.1" y1="75.63" x2="351.1" y2="75.63" stroke="#111" stroke-width="0.75"/>
<line x1="349.1" y1="73.57" x2="351.1" y2="73.57" stroke="#111" stroke-width="0.75"/>
<line x1="349.1" y1="71.97" x2="351.1" y2="71.97" stroke="#111" stroke-width="0.75"/>
<line x1="349.1" y1="70.66" x2="351.1" y2="70.66" stroke="#111" stroke-width="0.75"/>
<line x1="349.1" y1="69.56" x2="351.1" y2="69.56" stroke="#111" stroke-width="0.75"/>
<line x1="349.1" y1="68.6" x2="351.1" y2="68.6" stroke="#111" stroke-width="0.75"/>
<line x1="349.1" y1="67.75" x2="351.1" y2="67.75" stroke="#111" stroke-width="0.75"/>
<line x1="348.1" y1="67" x2="351.1" y2="67" stroke="#111" stroke-width="0.75"/>
<line x1="349.1" y1="62.33" x2="351.1" y2="62.33" stroke="#111" stroke-width="0.75"/>
<line x1="349.1" y1="59.6" x2="351.1" y2="59.6" stroke="#111" stroke-width="0.75"/>
<line x1="349.1" y1="57.67" x2="351.1" y2="57.67" stroke="#111" stroke-width="0.75"/>
<line x1="349.1" y1="56.17" x2="351.1" y2="56.17" stroke="#111" stroke-width="0.75"/>
<line x1="349.1" y1="54.94" x2="351.1" y2="54.94" stroke="#111" stroke-width="0.75"/>
<line x1="349.1" y1="53.9" x2="351.1" y2="53.9" stroke="#111" stroke-width="0.75"/>
<line x1="349.1" y1="53" x2="351.1" y2="53" stroke="#111" stroke-width="0.75"/>
<line x1="349.1" y1="52.21" x2="351.1" y2="52.21" stroke="#111" stroke-width="0.75"/>
<line x1="348.1" y1="51.5" x2="351.1" y2="51.5" stroke="#111" stroke-width="0.75"/>
<line x1="349.1" y1="46.83" x2="351.1" y2="46.83" stroke="#111" stroke-width="0.75"/>
<line x1="349.1" y1="44.1" x2="351.1" y2="44.1" stroke="#111" stroke-width="0.75"/>
<line x1="349.1" y1="42.17" x2="351.1" y2="42.17" stroke="#111" stroke-width="0.75"/>
<line x1="349.1" y1="40.67" x2="351.1" y2="40.67" stroke="#111" stroke-width="0.75"/>
<line x1="349.1" y1="39.44" x2="351.1" y2="39.44" stroke="#111" stroke-width="0.75"/>
<line x1="349.1" y1="38.4" x2="351.1" y2="38.4" stroke="#111" stroke-width="0.75"/>
<line x1="349.1" y1="37.5" x2="351.1" y2="37.5" stroke="#111" stroke-width="0.75"/>
<line x1="349.1" y1="36.71" x2="351.1" y2="36.71" stroke="#111" stroke-width="0.75"/>
<line x1="348.7" y1="36" x2="351.1" y2="36" stroke="#111" stroke-width="0.75"/>
<line x1="349.6" y1="86.3" x2="351.1" y2="86.3" stroke="#111" stroke-width="0.75"/>
<line x1="349.6" y1="89.1" x2="351.1" y2="89.1" stroke="#111" stroke-width="0.75"/>
<line x1="349.6" y1="91.9" x2="351.1" y2="91.9" stroke="#111" stroke-width="0.75"/>
<line x1="349.6" y1="94.7" x2="351.1" y2="94.7" stroke="#111" stroke-width="0.75"/>
<line x1="348.7" y1="92" x2="351.1" y2="92" stroke="#111" stroke-width="0.75"/>
<line x1="349.9" y1="94.2" x2="351.1" y2="94.2" stroke="#111" stroke-width="0.75"/>
<line x1="349.9" y1="96.4" x2="351.1" y2="96.4" stroke="#111" stroke-width="0.75"/>
<line x1="365.7" y1="98.5" x2="365.7" y2="101.5" stroke="#111" stroke-width="0.75"/>
<line x1="370.76" y1="98.5" x2="370.76" y2="100.5" stroke="#111" stroke-width="0.75"/>
<line x1="373.72" y1="98.5" x2="373.72" y2="100.5" stroke="#111" stroke-width="0.75"/>
<line x1="375.81" y1="98.5" x2="375.81" y2="100.5" stroke="#111" stroke-width="0.75"/>
<line x1="377.44" y1="98.5" x2="377.44" y2="100.5" stroke="#111" stroke-width="0.75"/>
<line x1="378.77" y1="98.5" x2="378.77" y2="100.5" stroke="#111" stroke-width="0.75"/>
<line x1="379.9" y1="98.5" x2="379.9" y2="100.5" stroke="#111" stroke-width="0.75"/>
<line x1="380.87" y1="98.5" x2="380.87" y2="100.5" stroke="#111" stroke-width="0.75"/>
<line x1="381.73" y1="98.5" x2="381.73" y2="100.5" stroke="#111" stroke-width="0.75"/>
<line x1="382.5" y1="98.5" x2="382.5" y2="101.5" stroke="#111" stroke-width="0.75"/>
<line x1="387.17" y1="98.5" x2="387.17" y2="100.5" stroke="#111" stroke-width="0.75"/>
<line x1="389.9" y1="98.5" x2="389.9" y2="100.5" stroke="#111" stroke-width="0.75"/>
<line x1="391.83" y1="98.5" x2="391.83" y2="100.5" stroke="#111" stroke-width="0.75"/>
<line x1="393.33" y1="98.5" x2="393.33" y2="100.5" stroke="#111" stroke-width="0.75"/>
<line x1="394.56" y1="98.5" x2="394.56" y2="100.5" stroke="#111" stroke-width="0.75"/>
<line x1="395.6" y1="98.5" x2="395.6" y2="100.5" stroke="#111" stroke-width="0.75"/>
<line x1="396.5" y1="98.5" x2="396.5" y2="100.5" stroke="#111" stroke-width="0.75"/>
<line x1="397.29" y1="98.5" x2="397.29" y2="100.5" stroke="#111" stroke-width="0.75"/>
<line x1="398" y1="98.5" x2="398" y2="101.5" stroke="#111" stroke-width="0.75"/>
<line x1="402.55" y1="98.5" x2="402.55" y2="100.5" stroke="#111" stroke-width="0.75"/>
<line x1="405.2" y1="98.5" x2="405.2" y2="100.5" stroke="#111" stroke-width="0.75"/>
<line x1="407.09" y1="98.5" x2="407.09" y2="100.5" stroke="#111" stroke-width="0.75"/>
<line x1="408.55" y1="98.5" x2="408.55" y2="100.5" stroke="#111" stroke-width="0.75"/>
<line x1="409.75" y1="98.5" x2="409.75" y2="100.5" stroke="#111" stroke-width="0.75"/>
<line x1="410.76" y1="98.5" x2="410.76" y2="100.5" stroke="#111" stroke-width="0.75"/>
<line x1="411.64" y1="98.5" x2="411.64" y2="100.5" stroke="#111" stroke-width="0.75"/>
<line x1="412.41" y1="98.5" x2="412.41" y2="100.5" stroke="#111" stroke-width="0.75"/>
<line x1="413.1" y1="98.5" x2="413.1" y2="100.9" stroke="#111" stroke-width="0.75"/>
<line x1="359.7" y1="98.5" x2="359.7" y2="100" stroke="#111" stroke-width="0.75"/>
<line x1="361.7" y1="98.5" x2="361.7" y2="100" stroke="#111" stroke-width="0.75"/>
<line x1="363.7" y1="98.5" x2="363.7" y2="100" stroke="#111" stroke-width="0.75"/>
<line x1="357.7" y1="98.5" x2="357.7" y2="100.9" stroke="#111" stroke-width="0.75"/>
<line x1="353.6" y1="98.5" x2="353.6" y2="99.7" stroke="#111" stroke-width="0.75"/>
<line x1="355.6" y1="98.5" x2="355.6" y2="99.7" stroke="#111" stroke-width="0.75"/>
<text x="357.6" y="111" font-size="6.3" text-anchor="middle" fill="#333">0</text>
<text x="360.85" y="111" font-size="6.3" fill="#333">10</text>
<text x="367.95" y="108.35" font-size="3.78" fill="#333">2</text>
<text x="378.35" y="111" font-size="6.3" fill="#333">10</text>
<text x="385.45" y="108.35" font-size="3.78" fill="#333">3</text>
<text x="393.85" y="111" font-size="6.3" fill="#333">10</text>
<text x="400.95" y="108.35" font-size="3.78" fill="#333">4</text>
<text x="408.55" y="111" font-size="6.3" fill="#333">10</text>
<text x="415.65" y="108.35" font-size="3.78" fill="#333">5</text>
<text x="352.9" y="35.3" font-size="3.9" fill="#555">14.7%</text>
<text x="417.2" y="35.3" font-size="3.9" text-anchor="end" fill="#555">4.51%</text>
<text x="352.9" y="96.9" font-size="3.9" fill="#555">68.2%</text>
<text x="417.2" y="96.9" font-size="3.9" text-anchor="end" fill="#555">12.5%</text>
<text x="384.75" y="25" font-size="8.4" text-anchor="middle" fill="#111">5</text>
<clipPath id="c5"><rect x="424.3" y="30.3" width="67.3" height="68.2"/></clipPath>
<path d="M452.8 72.6 L452.3 72.5 L451.6 72.5 L450.8 72.4 L450.1 72.3 L449.5 72.3 L448.8 72.3 L448.1 72.1 L447.5 72.0 L446.8 71.9 L446.2 71.8 L445.6 71.6 L445.1 71.5 L444.5 71.3 L443.9 71.0 L443.3 70.8 L442.9 70.5 L442.6 70.3 L442.1 69.9 L441.7 69.5 L441.3 69.0 L441.1 68.7 L440.8 68.2 L440.6 67.5 L440.4 67.0 L440.3 66.5 L440.2 65.8 L440.2 65.0 L440.2 64.3 L440.3 63.6 L440.3 63.0 L440.5 62.3 L440.6 61.8 L440.7 61.0 L440.8 60.4 L440.9 59.8 L441.0 59.0 L441.1 58.5 L441.3 57.8 L441.4 57.3 L441.5 56.5 L441.6 56.0 L441.7 55.3 L441.8 54.8 L442.0 54.0 L442.1 53.5 L442.2 52.8 L442.3 52.3 L442.5 51.5 L442.6 51.0 L442.7 50.3 L442.8 49.8 L443.0 49.0 L443.1 48.5 L443.3 47.8 L443.4 47.3 L443.6 46.8 L443.8 46.0 L443.9 45.5 L444.1 45.0 L444.3 44.4 L444.5 43.8 L444.7 43.3 L444.9 42.8 L445.2 42.3 L445.5 41.8 L445.7 41.3 L446.1 40.8 L446.3 40.5 L446.6 40.0 L447.1 39.6 L447.3 39.3 L447.8 38.9 L448.2 38.5 L448.6 38.2 L449.1 37.9 L449.6 37.6 L450.1 37.3 L450.6 37.1 L451.1 36.9 L451.6 36.8 L452.3 36.6 L452.8 36.5 L453.6 36.4 L454.3 36.3 L454.8 36.3 L455.4 36.3 L456.1 36.3 L456.8 36.4 L457.6 36.5 L458.1 36.6 L458.8 36.8 L459.3 37.0 L459.8 37.2 L460.3 37.5 L460.7 37.8 L461.1 38.0 L461.6 38.4 L462.1 38.8 L462.4 39.0 L462.8 39.5 L463.1 39.8 L463.5 40.3 L463.8 40.7 L464.1 41.1 L464.4 41.5 L464.7 42.0 L464.9 42.5 L465.1 43.0 L465.3 43.5 L465.6 44.1 L465.8 44.8 L466.0 45.3 L466.1 45.8 L466.3 46.5 L466.4 47.0 L466.6 47.6 L466.7 48.3 L466.8 48.8 L467.0 49.5 L467.1 50.1 L467.2 50.8 L467.3 51.5 L467.4 52.0 L467.5 52.8 L467.6 53.3 L467.8 54.0 L467.9 54.5 L468.0 55.3 L468.1 55.8 L468.3 56.5 L468.3 57.0 L468.5 57.8 L468.6 58.5 L468.6 59.0 L468.7 59.8 L468.7 60.5 L468.7 61.3 L468.6 62.0 L468.5 62.5 L468.4 63.3 L468.3 63.8 L468.1 64.5 L467.8 65.0 L467.6 65.5 L467.3 66.0 L467.1 66.5 L466.8 66.9 L466.5 67.3 L466.1 67.8 L465.8 68.1 L465.3 68.5 L465.0 68.8 L464.6 69.1 L464.1 69.5 L463.6 69.8 L463.1 70.0 L462.7 70.3 L462.2 70.5 L461.7 70.8 L461.1 71.0 L460.6 71.3 L460.1 71.5 L459.6 71.6 L459.0 71.8 L458.3 72.0 L457.8 72.1 L457.1 72.2 L456.3 72.3 L455.8 72.3 L455.1 72.4 L454.3 72.4 L453.6 72.5 L453.0 72.5Z" fill="none" stroke="#c4c4c4" stroke-width="0.45" clip-path="url(#c5)"/>
<path d="M456.6 70.6 L455.8 70.6 L455.1 70.6 L454.3 70.7 L453.6 70.7 L452.8 70.7 L452.1 70.7 L451.3 70.6 L450.7 70.5 L450.1 70.5 L449.3 70.4 L448.6 70.3 L448.1 70.2 L447.3 70.0 L446.8 69.9 L446.3 69.8 L445.6 69.6 L445.1 69.4 L444.6 69.1 L444.1 68.8 L443.7 68.5 L443.3 68.2 L443.0 67.8 L442.7 67.3 L442.5 66.8 L442.3 66.3 L442.2 65.5 L442.1 64.8 L442.1 64.0 L442.2 63.3 L442.2 62.5 L442.3 62.0 L442.4 61.3 L442.5 60.5 L442.6 60.0 L442.6 59.3 L442.8 58.5 L442.8 58.0 L443.0 57.3 L443.1 56.8 L443.2 56.0 L443.3 55.3 L443.4 54.8 L443.5 54.0 L443.6 53.5 L443.7 52.8 L443.8 52.2 L443.9 51.5 L444.1 50.9 L444.2 50.3 L444.3 49.7 L444.4 49.0 L444.6 48.5 L444.7 47.8 L444.9 47.3 L445.1 46.7 L445.2 46.0 L445.4 45.5 L445.6 45.0 L445.8 44.4 L446.1 43.8 L446.3 43.3 L446.6 42.8 L446.8 42.4 L447.1 42.0 L447.4 41.5 L447.8 41.0 L448.1 40.7 L448.5 40.3 L448.8 40.0 L449.3 39.6 L449.7 39.3 L450.1 39.0 L450.6 38.8 L451.2 38.5 L451.8 38.3 L452.3 38.2 L453.1 38.1 L453.6 38.0 L454.3 37.9 L455.1 37.9 L455.8 37.9 L456.6 37.9 L457.3 37.9 L457.9 38.0 L458.6 38.2 L459.1 38.4 L459.6 38.7 L460.0 39.0 L460.3 39.3 L460.8 39.7 L461.2 40.0 L461.6 40.5 L461.8 40.8 L462.2 41.3 L462.5 41.8 L462.8 42.3 L463.1 42.7 L463.3 43.2 L463.6 43.8 L463.8 44.3 L463.9 44.8 L464.1 45.3 L464.3 45.9 L464.5 46.5 L464.6 47.0 L464.8 47.8 L464.9 48.3 L465.1 49.0 L465.2 49.5 L465.3 50.3 L465.4 50.8 L465.5 51.5 L465.6 52.0 L465.7 52.8 L465.8 53.3 L466.0 54.0 L466.1 54.6 L466.2 55.3 L466.3 56.0 L466.4 56.5 L466.5 57.3 L466.6 57.8 L466.7 58.5 L466.8 59.3 L466.8 59.8 L466.9 60.5 L466.8 61.3 L466.7 61.8 L466.6 62.5 L466.5 63.0 L466.3 63.7 L466.1 64.3 L465.8 64.8 L465.6 65.3 L465.3 65.7 L465.0 66.0 L464.6 66.5 L464.3 66.9 L463.9 67.3 L463.5 67.5 L463.1 67.9 L462.6 68.3 L462.1 68.5 L461.7 68.8 L461.3 69.1 L460.8 69.3 L460.3 69.6 L459.8 69.8 L459.2 70.0 L458.6 70.3 L458.1 70.4 L457.3 70.5 L456.6 70.5Z" fill="none" stroke="#c4c4c4" stroke-width="0.45" clip-path="url(#c5)"/>
<path d="M457.3 69.6 L456.6 69.6 L455.8 69.6 L455.1 69.6 L454.3 69.6 L453.6 69.7 L452.8 69.7 L452.1 69.6 L451.5 69.5 L450.8 69.5 L450.1 69.4 L449.5 69.3 L448.8 69.2 L448.3 69.0 L447.6 68.9 L447.1 68.7 L446.5 68.5 L445.9 68.3 L445.4 68.0 L445.0 67.8 L444.6 67.5 L444.2 67.0 L443.8 66.5 L443.6 66.0 L443.5 65.5 L443.4 64.8 L443.3 64.0 L443.3 63.5 L443.3 63.0 L443.3 62.3 L443.4 61.5 L443.4 60.8 L443.5 60.0 L443.6 59.5 L443.7 58.8 L443.8 58.0 L443.8 57.5 L443.9 56.8 L444.0 56.0 L444.1 55.5 L444.2 54.8 L444.3 54.1 L444.4 53.5 L444.5 52.8 L444.6 52.3 L444.7 51.5 L444.8 51.0 L444.9 50.3 L445.1 49.8 L445.2 49.0 L445.3 48.5 L445.5 47.8 L445.7 47.3 L445.8 46.8 L446.0 46.0 L446.2 45.5 L446.4 45.0 L446.6 44.5 L446.8 44.0 L447.1 43.5 L447.3 43.0 L447.7 42.5 L448.0 42.0 L448.3 41.7 L448.7 41.3 L449.1 40.9 L449.5 40.5 L449.8 40.3 L450.3 40.0 L450.8 39.7 L451.3 39.5 L451.8 39.3 L452.6 39.1 L453.1 39.0 L453.8 38.9 L454.6 38.9 L455.3 38.8 L455.8 38.8 L456.6 38.7 L457.3 38.8 L457.8 38.8 L458.5 39.0 L459.0 39.3 L459.4 39.5 L459.8 39.8 L460.3 40.3 L460.6 40.5 L461.0 41.0 L461.3 41.5 L461.6 41.9 L461.8 42.3 L462.1 42.8 L462.3 43.3 L462.6 43.9 L462.8 44.5 L463.0 45.0 L463.2 45.5 L463.3 46.1 L463.5 46.8 L463.6 47.3 L463.8 48.0 L463.9 48.5 L464.1 49.3 L464.1 49.8 L464.3 50.5 L464.4 51.0 L464.5 51.8 L464.6 52.3 L464.7 53.0 L464.8 53.8 L464.9 54.3 L465.0 55.0 L465.1 55.5 L465.2 56.3 L465.3 56.8 L465.4 57.5 L465.6 58.3 L465.6 58.8 L465.7 59.5 L465.7 60.3 L465.7 61.0 L465.6 61.8 L465.5 62.3 L465.3 63.0 L465.1 63.5 L464.9 64.0 L464.7 64.5 L464.4 65.0 L464.1 65.5 L463.8 65.8 L463.4 66.3 L463.1 66.6 L462.6 67.0 L462.2 67.3 L461.8 67.6 L461.3 68.0 L460.8 68.3 L460.4 68.5 L459.9 68.8 L459.4 69.0 L458.8 69.3 L458.3 69.4 L457.6 69.5Z" fill="none" stroke="#c4c4c4" stroke-width="0.45" clip-path="url(#c5)"/>
<path d="M458.6 67.6 L457.8 67.7 L457.1 67.7 L456.3 67.7 L455.6 67.6 L454.8 67.6 L454.2 67.5 L453.6 67.5 L452.8 67.5 L452.1 67.3 L451.6 67.2 L450.8 67.1 L450.3 66.9 L449.8 66.8 L449.3 66.5 L448.7 66.3 L448.2 66.0 L447.7 65.8 L447.3 65.5 L446.8 65.0 L446.6 64.6 L446.3 64.0 L446.2 63.5 L446.0 63.0 L445.9 62.3 L445.8 61.6 L445.7 61.0 L445.7 60.3 L445.7 59.5 L445.7 58.8 L445.8 58.0 L445.8 57.5 L445.8 56.8 L445.9 56.0 L445.9 55.3 L445.9 54.5 L445.9 53.8 L446.0 53.0 L446.0 52.3 L446.1 51.8 L446.2 51.0 L446.3 50.4 L446.4 49.8 L446.6 49.1 L446.7 48.5 L446.8 48.0 L447.0 47.3 L447.2 46.8 L447.4 46.3 L447.6 45.8 L447.8 45.2 L448.1 44.8 L448.4 44.3 L448.7 43.8 L449.1 43.5 L449.5 43.0 L449.8 42.8 L450.3 42.4 L450.8 42.1 L451.3 41.8 L451.8 41.6 L452.3 41.5 L453.1 41.4 L453.6 41.3 L454.3 41.2 L455.1 41.1 L455.6 41.0 L456.1 40.8 L456.7 40.5 L457.3 40.3 L457.8 40.3 L458.3 40.4 L458.8 40.7 L459.3 41.0 L459.6 41.3 L459.9 41.8 L460.2 42.3 L460.4 42.8 L460.6 43.3 L460.8 43.8 L461.0 44.5 L461.2 45.0 L461.3 45.5 L461.5 46.3 L461.6 46.8 L461.7 47.5 L461.8 48.1 L461.9 48.8 L462.0 49.5 L462.1 50.1 L462.1 50.8 L462.2 51.5 L462.2 52.3 L462.3 53.0 L462.3 53.5 L462.4 54.3 L462.5 55.0 L462.6 55.5 L462.7 56.3 L462.8 56.8 L462.9 57.5 L463.1 58.2 L463.1 58.8 L463.2 59.5 L463.3 60.3 L463.2 61.0 L463.1 61.8 L463.0 62.3 L462.8 63.0 L462.6 63.5 L462.3 64.0 L462.1 64.4 L461.8 64.8 L461.4 65.3 L461.1 65.7 L460.7 66.0 L460.3 66.5 L459.9 66.8 L459.6 67.1 L459.1 67.4 L458.6 67.6Z" fill="none" stroke="#c3c3c3" stroke-width="0.45" clip-path="url(#c5)"/>
<path d="M458.6 67.1 L457.8 67.3 L457.1 67.3 L456.3 67.2 L455.6 67.2 L454.8 67.1 L454.1 67.1 L453.3 67.0 L452.8 67.0 L452.1 66.9 L451.6 66.8 L450.8 66.5 L450.3 66.4 L449.8 66.2 L449.3 66.0 L448.8 65.8 L448.3 65.5 L447.8 65.1 L447.5 64.8 L447.1 64.3 L446.9 63.8 L446.7 63.3 L446.6 62.7 L446.4 62.0 L446.3 61.3 L446.3 60.8 L446.3 60.0 L446.3 59.3 L446.3 58.8 L446.4 58.0 L446.4 57.3 L446.5 56.5 L446.6 55.9 L446.6 55.3 L446.6 54.5 L446.6 53.8 L446.7 53.0 L446.7 52.3 L446.7 51.5 L446.8 50.8 L446.9 50.3 L447.0 49.5 L447.1 49.0 L447.3 48.3 L447.4 47.8 L447.6 47.3 L447.8 46.7 L448.1 46.2 L448.3 45.7 L448.6 45.3 L448.9 44.8 L449.3 44.3 L449.6 44.0 L450.0 43.5 L450.3 43.3 L450.8 42.9 L451.3 42.7 L451.8 42.4 L452.3 42.3 L453.1 42.1 L453.6 42.0 L454.3 42.0 L455.1 41.8 L455.6 41.7 L456.1 41.5 L456.6 41.3 L457.2 41.0 L457.8 40.9 L458.4 41.0 L458.8 41.3 L459.3 41.8 L459.6 42.1 L459.8 42.5 L460.1 43.0 L460.3 43.5 L460.6 44.2 L460.7 44.8 L460.9 45.3 L461.1 46.0 L461.2 46.5 L461.3 47.3 L461.4 47.8 L461.5 48.5 L461.6 49.1 L461.6 49.8 L461.7 50.5 L461.8 51.3 L461.8 51.9 L461.8 52.5 L461.9 53.3 L462.0 54.0 L462.0 54.8 L462.1 55.3 L462.2 56.0 L462.3 56.6 L462.4 57.3 L462.6 58.0 L462.6 58.5 L462.7 59.3 L462.8 60.0 L462.8 60.8 L462.7 61.5 L462.6 62.3 L462.4 62.8 L462.2 63.3 L461.9 63.8 L461.6 64.3 L461.3 64.8 L461.1 65.1 L460.7 65.5 L460.3 65.9 L459.9 66.3 L459.6 66.6 L459.1 66.9 L458.6 67.1Z" fill="none" stroke="#c1c1c1" stroke-width="0.45" clip-path="url(#c5)"/>
<path d="M458.6 66.6 L457.8 66.8 L457.1 66.8 L456.3 66.8 L455.6 66.7 L454.8 66.7 L454.1 66.6 L453.3 66.6 L452.8 66.5 L452.1 66.4 L451.6 66.2 L450.9 66.0 L450.3 65.8 L449.8 65.6 L449.3 65.4 L448.8 65.1 L448.4 64.8 L448.1 64.5 L447.7 64.0 L447.5 63.5 L447.3 63.0 L447.1 62.3 L447.0 61.8 L446.9 61.0 L446.9 60.3 L446.9 59.5 L447.0 58.8 L447.0 58.0 L447.1 57.5 L447.2 56.8 L447.3 56.0 L447.3 55.5 L447.4 54.8 L447.4 54.0 L447.5 53.3 L447.5 52.5 L447.5 51.8 L447.6 51.3 L447.6 50.5 L447.7 49.8 L447.8 49.3 L448.0 48.5 L448.2 48.0 L448.4 47.5 L448.6 47.0 L448.8 46.5 L449.1 46.0 L449.4 45.5 L449.8 45.0 L450.1 44.7 L450.5 44.3 L450.8 44.0 L451.3 43.7 L451.8 43.4 L452.3 43.2 L452.8 43.0 L453.6 42.9 L454.3 42.8 L454.8 42.7 L455.4 42.5 L456.1 42.3 L456.6 42.1 L457.1 41.9 L457.6 41.7 L458.3 41.8 L458.8 42.0 L459.1 42.3 L459.4 42.8 L459.7 43.3 L460.0 43.8 L460.2 44.3 L460.3 44.8 L460.5 45.5 L460.7 46.0 L460.8 46.7 L460.9 47.3 L461.0 48.0 L461.1 48.5 L461.2 49.3 L461.3 50.0 L461.3 50.6 L461.4 51.3 L461.4 52.0 L461.4 52.8 L461.5 53.5 L461.6 54.2 L461.6 54.8 L461.7 55.5 L461.8 56.3 L461.9 56.8 L462.0 57.5 L462.1 58.0 L462.2 58.8 L462.3 59.5 L462.3 60.0 L462.3 60.8 L462.3 61.3 L462.1 62.0 L462.0 62.5 L461.8 63.1 L461.6 63.6 L461.3 64.0 L460.9 64.5 L460.6 65.0 L460.3 65.3 L459.8 65.8 L459.5 66.0 L459.1 66.3 L458.6 66.6Z" fill="none" stroke="#bfbfbf" stroke-width="0.45" clip-path="url(#c5)"/>
<path d="M457.6 66.3 L456.8 66.3 L456.1 66.3 L455.6 66.3 L454.8 66.2 L454.1 66.2 L453.3 66.1 L452.8 66.0 L452.1 65.9 L451.6 65.7 L451.0 65.5 L450.3 65.3 L449.8 65.0 L449.4 64.8 L449.0 64.5 L448.6 64.1 L448.3 63.8 L448.0 63.3 L447.8 62.8 L447.6 62.0 L447.5 61.5 L447.5 60.8 L447.5 60.0 L447.5 59.3 L447.6 58.8 L447.7 58.0 L447.8 57.3 L447.9 56.8 L448.0 56.0 L448.1 55.5 L448.2 54.8 L448.2 54.0 L448.3 53.3 L448.3 52.8 L448.3 52.0 L448.4 51.3 L448.5 50.5 L448.6 50.0 L448.7 49.3 L448.8 48.8 L449.1 48.1 L449.3 47.5 L449.5 47.0 L449.8 46.5 L450.1 46.2 L450.3 45.8 L450.7 45.3 L451.1 45.0 L451.6 44.6 L452.0 44.3 L452.6 44.1 L453.1 43.9 L453.6 43.8 L454.3 43.7 L454.9 43.5 L455.6 43.3 L456.1 43.1 L456.6 42.9 L457.1 42.6 L457.6 42.5 L458.2 42.5 L458.7 42.8 L459.1 43.2 L459.3 43.5 L459.6 44.0 L459.8 44.5 L460.1 45.2 L460.2 45.8 L460.3 46.3 L460.5 47.0 L460.6 47.5 L460.7 48.3 L460.8 49.0 L460.9 49.5 L460.9 50.3 L461.0 51.0 L461.0 51.8 L461.1 52.3 L461.1 53.0 L461.1 53.8 L461.2 54.5 L461.3 55.3 L461.3 55.8 L461.5 56.5 L461.6 57.2 L461.6 57.8 L461.8 58.5 L461.8 59.0 L461.9 59.8 L461.9 60.5 L461.8 61.3 L461.8 61.8 L461.6 62.5 L461.4 63.0 L461.1 63.5 L460.8 64.0 L460.6 64.4 L460.3 64.8 L459.8 65.3 L459.5 65.5 L459.1 65.8 L458.6 66.1 L457.8 66.3Z" fill="none" stroke="#bcbcbc" stroke-width="0.45" clip-path="url(#c5)"/>
<path d="M458.1 65.8 L457.3 65.9 L456.6 65.9 L455.8 65.9 L455.1 65.8 L454.6 65.8 L453.8 65.7 L453.1 65.6 L452.6 65.5 L451.8 65.4 L451.3 65.2 L450.8 65.0 L450.3 64.8 L449.8 64.5 L449.3 64.1 L449.0 63.8 L448.6 63.3 L448.4 62.8 L448.2 62.3 L448.1 61.5 L448.0 61.0 L448.0 60.3 L448.0 59.5 L448.1 59.0 L448.2 58.3 L448.3 57.8 L448.5 57.0 L448.6 56.5 L448.8 55.8 L448.9 55.3 L449.0 54.5 L449.1 54.0 L449.1 53.3 L449.2 52.5 L449.2 51.8 L449.3 51.1 L449.4 50.5 L449.5 49.8 L449.6 49.3 L449.8 48.7 L450.1 48.1 L450.3 47.6 L450.6 47.1 L450.8 46.7 L451.1 46.3 L451.6 45.9 L451.9 45.5 L452.3 45.3 L452.8 45.0 L453.3 44.8 L454.1 44.6 L454.6 44.5 L455.2 44.3 L455.8 44.0 L456.3 43.8 L456.7 43.5 L457.3 43.3 L457.8 43.2 L458.3 43.4 L458.8 43.7 L459.1 44.0 L459.3 44.5 L459.6 45.0 L459.8 45.7 L460.0 46.3 L460.1 46.8 L460.2 47.5 L460.3 48.0 L460.4 48.8 L460.5 49.5 L460.6 50.0 L460.6 50.8 L460.7 51.5 L460.7 52.3 L460.8 53.0 L460.8 53.6 L460.8 54.3 L460.9 55.0 L461.0 55.8 L461.1 56.3 L461.2 57.0 L461.3 57.8 L461.4 58.3 L461.5 59.0 L461.5 59.8 L461.5 60.5 L461.5 61.3 L461.3 62.0 L461.2 62.5 L461.0 63.0 L460.7 63.5 L460.4 64.0 L460.1 64.5 L459.7 64.8 L459.3 65.2 L458.8 65.5 L458.3 65.7Z" fill="none" stroke="#b8b8b8" stroke-width="0.45" clip-path="url(#c5)"/>
<path d="M458.1 65.4 L457.3 65.5 L456.6 65.5 L455.8 65.5 L455.1 65.4 L454.3 65.4 L453.7 65.3 L453.1 65.2 L452.3 65.0 L451.8 64.9 L451.3 64.7 L450.8 64.5 L450.3 64.2 L449.8 63.9 L449.4 63.5 L449.1 63.0 L448.9 62.5 L448.7 62.0 L448.6 61.3 L448.5 60.8 L448.5 60.0 L448.6 59.5 L448.7 58.8 L448.8 58.3 L449.0 57.5 L449.2 57.0 L449.3 56.5 L449.5 55.8 L449.7 55.3 L449.8 54.8 L449.9 54.0 L450.1 53.3 L450.1 52.8 L450.2 52.0 L450.3 51.3 L450.3 50.8 L450.5 50.0 L450.6 49.5 L450.8 49.0 L451.1 48.4 L451.3 47.9 L451.6 47.5 L451.9 47.0 L452.3 46.6 L452.7 46.3 L453.1 46.0 L453.6 45.8 L454.1 45.5 L454.8 45.3 L455.3 45.1 L455.8 44.9 L456.3 44.6 L456.8 44.3 L457.3 44.1 L457.8 44.0 L458.3 44.2 L458.7 44.5 L459.1 45.0 L459.3 45.5 L459.5 46.0 L459.7 46.5 L459.8 47.1 L459.9 47.8 L460.1 48.4 L460.1 49.0 L460.2 49.8 L460.3 50.5 L460.3 51.0 L460.4 51.8 L460.4 52.5 L460.5 53.3 L460.5 54.0 L460.6 54.5 L460.6 55.3 L460.7 56.0 L460.8 56.7 L460.9 57.3 L461.0 58.0 L461.1 58.5 L461.1 59.3 L461.2 60.0 L461.2 60.8 L461.1 61.5 L461.0 62.0 L460.8 62.5 L460.6 63.1 L460.3 63.5 L459.9 64.0 L459.6 64.5 L459.2 64.8 L458.8 65.1 L458.3 65.3Z" fill="none" stroke="#b4b4b4" stroke-width="0.45" clip-path="url(#c5)"/>
<path d="M457.6 65.1 L456.8 65.1 L456.1 65.1 L455.6 65.0 L454.8 65.0 L454.1 64.9 L453.3 64.8 L452.8 64.7 L452.1 64.5 L451.6 64.3 L451.1 64.1 L450.6 63.8 L450.2 63.5 L449.8 63.2 L449.5 62.8 L449.3 62.3 L449.1 61.5 L449.0 61.0 L449.0 60.3 L449.1 59.8 L449.2 59.0 L449.3 58.5 L449.5 57.8 L449.7 57.3 L449.9 56.8 L450.1 56.3 L450.3 55.8 L450.6 55.2 L450.8 54.5 L450.9 54.0 L451.1 53.5 L451.2 52.8 L451.3 52.0 L451.4 51.5 L451.5 50.8 L451.6 50.3 L451.8 49.7 L452.1 49.1 L452.3 48.7 L452.6 48.3 L452.9 47.8 L453.3 47.4 L453.7 47.0 L454.1 46.8 L454.6 46.5 L455.1 46.2 L455.6 46.0 L456.1 45.7 L456.6 45.3 L457.1 45.1 L457.6 44.9 L458.3 45.0 L458.6 45.3 L458.9 45.8 L459.1 46.3 L459.3 46.8 L459.5 47.5 L459.6 48.0 L459.8 48.8 L459.9 49.3 L459.9 50.0 L460.0 50.8 L460.1 51.4 L460.1 52.0 L460.1 52.8 L460.2 53.5 L460.2 54.3 L460.3 55.0 L460.3 55.5 L460.4 56.3 L460.5 57.0 L460.6 57.5 L460.7 58.3 L460.8 59.0 L460.8 59.5 L460.9 60.3 L460.8 61.0 L460.7 61.5 L460.6 62.2 L460.3 62.8 L460.1 63.3 L459.8 63.7 L459.5 64.0 L459.1 64.4 L458.6 64.7 L458.1 64.9 L457.6 65.1Z" fill="none" stroke="#aeaeae" stroke-width="0.45" clip-path="url(#c5)"/>
<path d="M457.8 64.6 L457.1 64.7 L456.3 64.6 L455.6 64.5 L455.1 64.5 L454.3 64.5 L453.6 64.4 L453.0 64.3 L452.3 64.1 L451.8 64.0 L451.3 63.7 L450.8 63.4 L450.3 63.0 L450.1 62.7 L449.8 62.2 L449.6 61.5 L449.5 61.0 L449.5 60.3 L449.6 59.8 L449.7 59.0 L449.9 58.5 L450.1 58.0 L450.3 57.5 L450.6 56.9 L450.8 56.4 L451.1 56.0 L451.3 55.5 L451.6 55.0 L451.8 54.5 L452.1 54.0 L452.3 53.4 L452.5 52.8 L452.6 52.3 L452.8 51.5 L452.9 51.0 L453.1 50.5 L453.3 49.9 L453.6 49.4 L453.8 49.0 L454.1 48.5 L454.5 48.0 L454.8 47.8 L455.3 47.3 L455.6 47.0 L456.1 46.7 L456.6 46.3 L457.0 46.0 L457.6 45.8 L458.3 46.0 L458.6 46.3 L458.8 46.8 L459.1 47.4 L459.3 48.0 L459.4 48.5 L459.5 49.3 L459.6 49.8 L459.7 50.5 L459.7 51.3 L459.8 52.0 L459.8 52.5 L459.8 53.3 L459.9 54.0 L460.0 54.8 L460.0 55.5 L460.1 56.0 L460.2 56.8 L460.3 57.4 L460.4 58.0 L460.5 58.8 L460.6 59.5 L460.6 60.0 L460.6 60.6 L460.5 61.3 L460.3 62.0 L460.1 62.5 L459.8 63.0 L459.6 63.4 L459.2 63.8 L458.8 64.1 L458.3 64.4 L457.8 64.6Z" fill="none" stroke="#a7a7a7" stroke-width="0.45" clip-path="url(#c5)"/>
<path d="M457.8 64.1 L457.1 64.2 L456.3 64.1 L455.8 64.0 L455.1 63.9 L454.3 63.8 L453.6 63.8 L453.1 63.8 L452.3 63.6 L451.8 63.4 L451.3 63.2 L450.8 62.8 L450.6 62.5 L450.3 62.0 L450.1 61.3 L450.0 60.8 L450.0 60.0 L450.1 59.5 L450.3 58.9 L450.5 58.3 L450.8 57.8 L451.0 57.3 L451.3 56.9 L451.6 56.5 L451.9 56.0 L452.3 55.5 L452.6 55.2 L453.1 55.0 L453.7 54.8 L454.3 54.5 L454.6 54.3 L455.0 53.8 L455.1 53.3 L455.3 52.6 L455.4 52.0 L455.4 51.3 L455.5 50.5 L455.6 50.0 L455.7 49.3 L455.8 48.8 L456.1 48.3 L456.4 47.8 L456.8 47.4 L457.3 47.0 L457.8 46.9 L458.3 47.3 L458.6 47.6 L458.8 48.2 L459.0 48.8 L459.1 49.3 L459.2 50.0 L459.3 50.6 L459.4 51.3 L459.4 52.0 L459.5 52.8 L459.5 53.5 L459.6 54.0 L459.6 54.8 L459.7 55.5 L459.8 56.1 L459.9 56.8 L460.0 57.5 L460.1 58.0 L460.2 58.8 L460.3 59.5 L460.3 60.3 L460.2 61.0 L460.1 61.7 L459.8 62.3 L459.6 62.8 L459.3 63.1 L458.9 63.5 L458.6 63.8 L458.0 64.0Z" fill="none" stroke="#9e9e9e" stroke-width="0.45" clip-path="url(#c5)"/>
<path d="M457.8 63.6 L457.1 63.6 L456.6 63.4 L456.1 63.0 L455.8 62.6 L455.4 62.3 L454.8 62.3 L454.4 62.5 L454.0 62.8 L453.5 63.0 L452.8 63.1 L452.3 63.0 L451.7 62.8 L451.3 62.5 L450.9 62.0 L450.7 61.5 L450.5 61.0 L450.5 60.3 L450.6 59.8 L450.8 59.0 L451.0 58.5 L451.3 58.0 L451.6 57.6 L451.8 57.3 L452.2 56.8 L452.7 56.5 L453.3 56.3 L453.8 56.1 L454.3 56.0 L454.8 55.8 L455.3 55.4 L455.6 55.0 L455.8 54.5 L456.0 53.8 L456.1 53.3 L456.2 52.5 L456.3 51.8 L456.3 51.2 L456.4 50.5 L456.5 49.8 L456.7 49.3 L457.1 48.8 L457.3 48.5 L458.1 48.5 L458.3 48.8 L458.6 49.3 L458.7 50.0 L458.8 50.5 L458.9 51.3 L459.0 52.0 L459.1 52.5 L459.1 53.3 L459.2 54.0 L459.3 54.8 L459.3 55.3 L459.5 56.0 L459.6 56.5 L459.7 57.3 L459.8 58.0 L459.9 58.5 L460.0 59.3 L460.0 60.0 L459.9 60.8 L459.8 61.4 L459.6 62.0 L459.3 62.5 L459.1 62.8 L458.6 63.3 L458.1 63.5Z" fill="none" stroke="#959595" stroke-width="0.45" clip-path="url(#c5)"/>
<path d="M458.3 62.8 L457.6 62.9 L457.1 62.7 L456.6 62.3 L456.3 62.0 L455.8 61.5 L455.3 61.3 L454.8 61.3 L454.3 61.4 L453.8 61.8 L453.5 62.0 L452.9 62.3 L452.3 62.3 L451.8 62.1 L451.5 61.8 L451.2 61.3 L451.1 60.5 L451.1 59.8 L451.3 59.2 L451.6 58.7 L451.8 58.3 L452.3 57.8 L452.7 57.5 L453.2 57.3 L453.8 57.1 L454.3 56.9 L454.8 56.8 L455.3 56.5 L455.8 56.0 L456.1 55.7 L456.3 55.3 L456.6 54.7 L456.7 54.0 L456.8 53.5 L456.9 52.8 L457.0 52.0 L457.2 51.5 L457.4 51.0 L457.8 50.7 L458.1 51.0 L458.3 51.5 L458.5 52.3 L458.6 52.8 L458.6 53.5 L458.8 54.3 L458.8 54.8 L459.0 55.5 L459.1 56.0 L459.3 56.8 L459.4 57.3 L459.5 58.0 L459.6 58.5 L459.7 59.3 L459.7 60.0 L459.6 60.8 L459.5 61.3 L459.3 61.8 L458.9 62.3 L458.6 62.7Z" fill="none" stroke="#8a8a8a" stroke-width="0.45" clip-path="url(#c5)"/>
<path d="M458.3 62.2 L457.6 62.2 L457.1 61.9 L456.6 61.5 L456.3 61.2 L455.8 60.9 L455.3 60.7 L454.6 60.7 L454.1 60.8 L453.3 61.0 L452.8 61.2 L452.2 61.0 L451.8 60.5 L451.8 60.0 L451.9 59.5 L452.2 59.0 L452.6 58.7 L453.1 58.3 L453.6 58.1 L454.1 57.9 L454.6 57.7 L455.1 57.5 L455.6 57.2 L456.1 56.8 L456.3 56.5 L456.7 56.0 L457.0 55.5 L457.2 55.0 L457.6 54.6 L458.1 54.8 L458.3 55.3 L458.6 55.8 L458.8 56.5 L458.9 57.0 L459.1 57.5 L459.2 58.3 L459.3 58.8 L459.4 59.5 L459.3 60.3 L459.3 60.8 L459.1 61.4 L458.8 61.8 L458.3 62.2Z" fill="none" stroke="#7d7d7d" stroke-width="0.45" clip-path="url(#c5)"/>
<path d="M457.8 61.6 L457.3 61.4 L456.9 61.0 L456.6 60.8 L456.1 60.5 L455.6 60.2 L455.0 60.0 L454.3 59.9 L453.7 59.8 L453.8 59.2 L454.3 58.8 L454.8 58.5 L455.3 58.3 L455.7 58.0 L456.1 57.8 L456.6 57.3 L456.8 57.0 L457.3 56.6 L457.8 56.3 L458.3 56.8 L458.5 57.3 L458.7 57.8 L458.8 58.3 L459.0 59.0 L459.0 59.8 L458.9 60.5 L458.7 61.0 L458.3 61.5 L457.8 61.6Z" fill="none" stroke="#6f6f6f" stroke-width="0.45" clip-path="url(#c5)"/>
<path d="M458.1 60.9 L457.4 60.8 L457.0 60.5 L456.6 60.2 L456.1 59.8 L455.8 59.3 L456.1 58.7 L456.5 58.3 L456.8 58.0 L457.3 57.6 L457.8 57.4 L458.2 57.8 L458.4 58.3 L458.6 58.8 L458.6 59.5 L458.6 60.3 L458.3 60.7Z" fill="none" stroke="#606060" stroke-width="0.45" clip-path="url(#c5)"/>
<line x1="459.5" y1="30.3" x2="459.5" y2="98.5" stroke="#a8a8a8" stroke-width="0.8"/>
<line x1="424.3" y1="56.5" x2="491.6" y2="56.5" stroke="#b0b0b0" stroke-width="0.8"/>
<rect x="424.3" y="30.3" width="67.3" height="68.2" fill="none" stroke="#222" stroke-width="1.1"/>
<line x1="421.3" y1="83.5" x2="424.3" y2="83.5" stroke="#111" stroke-width="0.75"/>
<line x1="422.3" y1="78.53" x2="424.3" y2="78.53" stroke="#111" stroke-width="0.75"/>
<line x1="422.3" y1="75.63" x2="424.3" y2="75.63" stroke="#111" stroke-width="0.75"/>
<line x1="422.3" y1="73.57" x2="424.3" y2="73.57" stroke="#111" stroke-width="0.75"/>
<line x1="422.3" y1="71.97" x2="424.3" y2="71.97" stroke="#111" stroke-width="0.75"/>
<line x1="422.3" y1="70.66" x2="424.3" y2="70.66" stroke="#111" stroke-width="0.75"/>
<line x1="422.3" y1="69.56" x2="424.3" y2="69.56" stroke="#111" stroke-width="0.75"/>
<line x1="422.3" y1="68.6" x2="424.3" y2="68.6" stroke="#111" stroke-width="0.75"/>
<line x1="422.3" y1="67.75" x2="424.3" y2="67.75" stroke="#111" stroke-width="0.75"/>
<line x1="421.3" y1="67" x2="424.3" y2="67" stroke="#111" stroke-width="0.75"/>
<line x1="422.3" y1="62.33" x2="424.3" y2="62.33" stroke="#111" stroke-width="0.75"/>
<line x1="422.3" y1="59.6" x2="424.3" y2="59.6" stroke="#111" stroke-width="0.75"/>
<line x1="422.3" y1="57.67" x2="424.3" y2="57.67" stroke="#111" stroke-width="0.75"/>
<line x1="422.3" y1="56.17" x2="424.3" y2="56.17" stroke="#111" stroke-width="0.75"/>
<line x1="422.3" y1="54.94" x2="424.3" y2="54.94" stroke="#111" stroke-width="0.75"/>
<line x1="422.3" y1="53.9" x2="424.3" y2="53.9" stroke="#111" stroke-width="0.75"/>
<line x1="422.3" y1="53" x2="424.3" y2="53" stroke="#111" stroke-width="0.75"/>
<line x1="422.3" y1="52.21" x2="424.3" y2="52.21" stroke="#111" stroke-width="0.75"/>
<line x1="421.3" y1="51.5" x2="424.3" y2="51.5" stroke="#111" stroke-width="0.75"/>
<line x1="422.3" y1="46.83" x2="424.3" y2="46.83" stroke="#111" stroke-width="0.75"/>
<line x1="422.3" y1="44.1" x2="424.3" y2="44.1" stroke="#111" stroke-width="0.75"/>
<line x1="422.3" y1="42.17" x2="424.3" y2="42.17" stroke="#111" stroke-width="0.75"/>
<line x1="422.3" y1="40.67" x2="424.3" y2="40.67" stroke="#111" stroke-width="0.75"/>
<line x1="422.3" y1="39.44" x2="424.3" y2="39.44" stroke="#111" stroke-width="0.75"/>
<line x1="422.3" y1="38.4" x2="424.3" y2="38.4" stroke="#111" stroke-width="0.75"/>
<line x1="422.3" y1="37.5" x2="424.3" y2="37.5" stroke="#111" stroke-width="0.75"/>
<line x1="422.3" y1="36.71" x2="424.3" y2="36.71" stroke="#111" stroke-width="0.75"/>
<line x1="421.9" y1="36" x2="424.3" y2="36" stroke="#111" stroke-width="0.75"/>
<line x1="422.8" y1="86.3" x2="424.3" y2="86.3" stroke="#111" stroke-width="0.75"/>
<line x1="422.8" y1="89.1" x2="424.3" y2="89.1" stroke="#111" stroke-width="0.75"/>
<line x1="422.8" y1="91.9" x2="424.3" y2="91.9" stroke="#111" stroke-width="0.75"/>
<line x1="422.8" y1="94.7" x2="424.3" y2="94.7" stroke="#111" stroke-width="0.75"/>
<line x1="421.9" y1="92" x2="424.3" y2="92" stroke="#111" stroke-width="0.75"/>
<line x1="423.1" y1="94.2" x2="424.3" y2="94.2" stroke="#111" stroke-width="0.75"/>
<line x1="423.1" y1="96.4" x2="424.3" y2="96.4" stroke="#111" stroke-width="0.75"/>
<line x1="438.9" y1="98.5" x2="438.9" y2="101.5" stroke="#111" stroke-width="0.75"/>
<line x1="443.96" y1="98.5" x2="443.96" y2="100.5" stroke="#111" stroke-width="0.75"/>
<line x1="446.92" y1="98.5" x2="446.92" y2="100.5" stroke="#111" stroke-width="0.75"/>
<line x1="449.01" y1="98.5" x2="449.01" y2="100.5" stroke="#111" stroke-width="0.75"/>
<line x1="450.64" y1="98.5" x2="450.64" y2="100.5" stroke="#111" stroke-width="0.75"/>
<line x1="451.97" y1="98.5" x2="451.97" y2="100.5" stroke="#111" stroke-width="0.75"/>
<line x1="453.1" y1="98.5" x2="453.1" y2="100.5" stroke="#111" stroke-width="0.75"/>
<line x1="454.07" y1="98.5" x2="454.07" y2="100.5" stroke="#111" stroke-width="0.75"/>
<line x1="454.93" y1="98.5" x2="454.93" y2="100.5" stroke="#111" stroke-width="0.75"/>
<line x1="455.7" y1="98.5" x2="455.7" y2="101.5" stroke="#111" stroke-width="0.75"/>
<line x1="460.37" y1="98.5" x2="460.37" y2="100.5" stroke="#111" stroke-width="0.75"/>
<line x1="463.1" y1="98.5" x2="463.1" y2="100.5" stroke="#111" stroke-width="0.75"/>
<line x1="465.03" y1="98.5" x2="465.03" y2="100.5" stroke="#111" stroke-width="0.75"/>
<line x1="466.53" y1="98.5" x2="466.53" y2="100.5" stroke="#111" stroke-width="0.75"/>
<line x1="467.76" y1="98.5" x2="467.76" y2="100.5" stroke="#111" stroke-width="0.75"/>
<line x1="468.8" y1="98.5" x2="468.8" y2="100.5" stroke="#111" stroke-width="0.75"/>
<line x1="469.7" y1="98.5" x2="469.7" y2="100.5" stroke="#111" stroke-width="0.75"/>
<line x1="470.49" y1="98.5" x2="470.49" y2="100.5" stroke="#111" stroke-width="0.75"/>
<line x1="471.2" y1="98.5" x2="471.2" y2="101.5" stroke="#111" stroke-width="0.75"/>
<line x1="475.75" y1="98.5" x2="475.75" y2="100.5" stroke="#111" stroke-width="0.75"/>
<line x1="478.4" y1="98.5" x2="478.4" y2="100.5" stroke="#111" stroke-width="0.75"/>
<line x1="480.29" y1="98.5" x2="480.29" y2="100.5" stroke="#111" stroke-width="0.75"/>
<line x1="481.75" y1="98.5" x2="481.75" y2="100.5" stroke="#111" stroke-width="0.75"/>
<line x1="482.95" y1="98.5" x2="482.95" y2="100.5" stroke="#111" stroke-width="0.75"/>
<line x1="483.96" y1="98.5" x2="483.96" y2="100.5" stroke="#111" stroke-width="0.75"/>
<line x1="484.84" y1="98.5" x2="484.84" y2="100.5" stroke="#111" stroke-width="0.75"/>
<line x1="485.61" y1="98.5" x2="485.61" y2="100.5" stroke="#111" stroke-width="0.75"/>
<line x1="486.3" y1="98.5" x2="486.3" y2="100.9" stroke="#111" stroke-width="0.75"/>
<line x1="432.9" y1="98.5" x2="432.9" y2="100" stroke="#111" stroke-width="0.75"/>
<line x1="434.9" y1="98.5" x2="434.9" y2="100" stroke="#111" stroke-width="0.75"/>
<line x1="436.9" y1="98.5" x2="436.9" y2="100" stroke="#111" stroke-width="0.75"/>
<line x1="430.9" y1="98.5" x2="430.9" y2="100.9" stroke="#111" stroke-width="0.75"/>
<line x1="426.8" y1="98.5" x2="426.8" y2="99.7" stroke="#111" stroke-width="0.75"/>
<line x1="428.8" y1="98.5" x2="428.8" y2="99.7" stroke="#111" stroke-width="0.75"/>
<text x="430.8" y="111" font-size="6.3" text-anchor="middle" fill="#333">0</text>
<text x="434.05" y="111" font-size="6.3" fill="#333">10</text>
<text x="441.15" y="108.35" font-size="3.78" fill="#333">2</text>
<text x="451.55" y="111" font-size="6.3" fill="#333">10</text>
<text x="458.65" y="108.35" font-size="3.78" fill="#333">3</text>
<text x="467.05" y="111" font-size="6.3" fill="#333">10</text>
<text x="474.15" y="108.35" font-size="3.78" fill="#333">4</text>
<text x="481.75" y="111" font-size="6.3" fill="#333">10</text>
<text x="488.85" y="108.35" font-size="3.78" fill="#333">5</text>
<text x="426.1" y="35.3" font-size="3.9" fill="#555">28.0%</text>
<text x="490.4" y="35.3" font-size="3.9" text-anchor="end" fill="#555">10.7%</text>
<text x="426.1" y="96.9" font-size="3.9" fill="#555">41.0%</text>
<text x="490.4" y="96.9" font-size="3.9" text-anchor="end" fill="#555">10.3%</text>
<text x="457.95" y="25" font-size="8.4" text-anchor="middle" fill="#111">6</text>
<line x1="36" y1="32" x2="36" y2="115.6" stroke="#8a8a8a" stroke-width="1.4"/>
<path d="M36 27.8 L33.2 33.4 L36 32.4 L38.8 33.4 Z" fill="#111"/>
<line x1="35.3" y1="114.9" x2="126" y2="114.9" stroke="#8a8a8a" stroke-width="1.4"/>
<path d="M129.4 114.9 L123.8 112.1 L124.8 114.9 L123.8 117.7 Z" fill="#111"/>
<text x="30.8" y="73.35" font-size="10.2" text-anchor="middle" fill="#111" stroke="#111" stroke-width="0.1" textLength="22.5" lengthAdjust="spacingAndGlyphs" transform="rotate(-90 30.8 73.35)">CD38</text>
<text x="80.4" y="126.5" font-size="10.2" text-anchor="middle" fill="#111" stroke="#111" stroke-width="0.1" textLength="21.2" lengthAdjust="spacingAndGlyphs">CD34</text>
<text x="376.9" y="128.2" font-size="7.6" text-anchor="middle" fill="#1a1a1a" stroke="#1a1a1a" stroke-width="0.1">1</text>
<text x="397.7" y="128.2" font-size="7.6" text-anchor="middle" fill="#1a1a1a" stroke="#1a1a1a" stroke-width="0.1">2</text>
<text x="417.8" y="128.2" font-size="7.6" text-anchor="middle" fill="#1a1a1a" stroke="#1a1a1a" stroke-width="0.1">3</text>
<text x="437.9" y="128.2" font-size="7.6" text-anchor="middle" fill="#1a1a1a" stroke="#1a1a1a" stroke-width="0.1">4</text>
<text x="458" y="128.2" font-size="7.6" text-anchor="middle" fill="#1a1a1a" stroke="#1a1a1a" stroke-width="0.1">5</text>
<text x="478.4" y="128.2" font-size="7.6" text-anchor="middle" fill="#1a1a1a" stroke="#1a1a1a" stroke-width="0.1">6</text>
<line x1="317.3" y1="133.5" x2="491.6" y2="133.5" stroke="#333" stroke-width="1"/>
<text x="342" y="144.1" font-size="7.6" text-anchor="middle" fill="#1a1a1a" stroke="#1a1a1a" stroke-width="0.12" textLength="18.4" lengthAdjust="spacingAndGlyphs">MSCs</text>
<text x="376.9" y="144.1" font-size="7.6" text-anchor="middle" stroke="#222" stroke-width="0.15" textLength="2" lengthAdjust="spacingAndGlyphs">-</text>
<text x="397.7" y="144.1" font-size="7.6" text-anchor="middle" stroke="#222" stroke-width="0.15" textLength="4.3" lengthAdjust="spacingAndGlyphs">+</text>
<text x="417.8" y="144.1" font-size="7.6" text-anchor="middle" stroke="#222" stroke-width="0.15" textLength="2" lengthAdjust="spacingAndGlyphs">-</text>
<text x="437.9" y="144.1" font-size="7.6" text-anchor="middle" stroke="#222" stroke-width="0.15" textLength="4.3" lengthAdjust="spacingAndGlyphs">+</text>
<text x="458" y="144.1" font-size="7.6" text-anchor="middle" stroke="#222" stroke-width="0.15" textLength="2" lengthAdjust="spacingAndGlyphs">-</text>
<text x="478.4" y="144.1" font-size="7.6" text-anchor="middle" stroke="#222" stroke-width="0.15" textLength="4.3" lengthAdjust="spacingAndGlyphs">+</text>
<text x="342" y="154.3" font-size="7.6" text-anchor="middle" fill="#1a1a1a" stroke="#1a1a1a" stroke-width="0.12" textLength="19.3" lengthAdjust="spacingAndGlyphs">DWJM</text>
<text x="376.9" y="154.3" font-size="7.6" text-anchor="middle" stroke="#222" stroke-width="0.15" textLength="2" lengthAdjust="spacingAndGlyphs">-</text>
<text x="397.7" y="154.3" font-size="7.6" text-anchor="middle" stroke="#222" stroke-width="0.15" textLength="2" lengthAdjust="spacingAndGlyphs">-</text>
<text x="417.8" y="154.3" font-size="7.6" text-anchor="middle" stroke="#222" stroke-width="0.15" textLength="4.3" lengthAdjust="spacingAndGlyphs">+</text>
<text x="437.9" y="154.3" font-size="7.6" text-anchor="middle" stroke="#222" stroke-width="0.15" textLength="4.3" lengthAdjust="spacingAndGlyphs">+</text>
<text x="458" y="154.3" font-size="7.6" text-anchor="middle" stroke="#222" stroke-width="0.15" textLength="4.3" lengthAdjust="spacingAndGlyphs">+</text>
<text x="478.4" y="154.3" font-size="7.6" text-anchor="middle" stroke="#222" stroke-width="0.15" textLength="4.3" lengthAdjust="spacingAndGlyphs">+</text>
<text x="342" y="164.2" font-size="7.6" text-anchor="middle" fill="#1a1a1a" stroke="#1a1a1a" stroke-width="0.12" textLength="38.5" lengthAdjust="spacingAndGlyphs">MSC/DWJM</text>
<text x="376.9" y="164.2" font-size="7.6" text-anchor="middle" stroke="#222" stroke-width="0.15" textLength="6.6" lengthAdjust="spacingAndGlyphs">-/-</text>
<text x="397.7" y="164.2" font-size="7.6" text-anchor="middle" stroke="#222" stroke-width="0.15" textLength="7.8" lengthAdjust="spacingAndGlyphs">+/-</text>
<text x="417.8" y="164.2" font-size="7.6" text-anchor="middle" stroke="#222" stroke-width="0.15" textLength="6.6" lengthAdjust="spacingAndGlyphs">-/-</text>
<text x="437.9" y="164.2" font-size="7.6" text-anchor="middle" stroke="#222" stroke-width="0.15" textLength="6.6" lengthAdjust="spacingAndGlyphs">-/-</text>
<text x="458" y="164.2" font-size="7.6" text-anchor="middle" stroke="#222" stroke-width="0.15" textLength="7.8" lengthAdjust="spacingAndGlyphs">-/+</text>
<text x="478.4" y="164.2" font-size="7.6" text-anchor="middle" stroke="#222" stroke-width="0.15" textLength="9.4" lengthAdjust="spacingAndGlyphs">+/+</text>
<text x="22.2" y="181.5" font-size="7" fill="#333" stroke="#333" stroke-width="0.16">(ii)</text>
<rect x="63.9" y="252.89" width="12.6" height="31.61" fill="#a6354a" stroke="#8e2439" stroke-width="0.8"/>
<line x1="70.2" y1="252.49" x2="70.2" y2="245.96" stroke="#222" stroke-width="0.9"/>
<line x1="66.5" y1="245.96" x2="73.9" y2="245.96" stroke="#222" stroke-width="1"/>
<line x1="70.2" y1="252.49" x2="70.2" y2="259.01" stroke="#222" stroke-width="0.9"/>
<line x1="66.5" y1="259.01" x2="73.9" y2="259.01" stroke="#222" stroke-width="1"/>
<rect x="85.7" y="233.62" width="12.6" height="50.88" fill="#4e6488" stroke="#3d5276" stroke-width="0.8"/>
<line x1="92" y1="233.22" x2="92" y2="229.49" stroke="#222" stroke-width="0.9"/>
<line x1="88.3" y1="229.49" x2="95.7" y2="229.49" stroke="#222" stroke-width="1"/>
<line x1="92" y1="233.22" x2="92" y2="236.95" stroke="#222" stroke-width="0.9"/>
<line x1="88.3" y1="236.95" x2="95.7" y2="236.95" stroke="#222" stroke-width="1"/>
<rect x="107.7" y="261.12" width="12.6" height="23.38" fill="#79a957" stroke="#65964a" stroke-width="0.8"/>
<line x1="114" y1="260.72" x2="114" y2="256.06" stroke="#222" stroke-width="0.9"/>
<line x1="110.3" y1="256.06" x2="117.7" y2="256.06" stroke="#222" stroke-width="1"/>
<line x1="114" y1="260.72" x2="114" y2="265.39" stroke="#222" stroke-width="0.9"/>
<line x1="110.3" y1="265.39" x2="117.7" y2="265.39" stroke="#222" stroke-width="1"/>
<rect x="129.7" y="225.85" width="12.6" height="58.65" fill="#6c476e" stroke="#58365a" stroke-width="0.8"/>
<line x1="136" y1="225.45" x2="136" y2="221.87" stroke="#222" stroke-width="0.9"/>
<line x1="132.3" y1="221.87" x2="139.7" y2="221.87" stroke="#222" stroke-width="1"/>
<line x1="136" y1="225.45" x2="136" y2="229.02" stroke="#222" stroke-width="0.9"/>
<line x1="132.3" y1="229.02" x2="139.7" y2="229.02" stroke="#222" stroke-width="1"/>
<rect x="151.7" y="256.62" width="12.6" height="27.88" fill="#d9953f" stroke="#c4822f" stroke-width="0.8"/>
<line x1="158" y1="256.22" x2="158" y2="254.66" stroke="#222" stroke-width="0.9"/>
<line x1="154.3" y1="254.66" x2="161.7" y2="254.66" stroke="#222" stroke-width="1"/>
<line x1="158" y1="256.22" x2="158" y2="257.77" stroke="#222" stroke-width="0.9"/>
<line x1="154.3" y1="257.77" x2="161.7" y2="257.77" stroke="#222" stroke-width="1"/>
<rect x="173.7" y="209.69" width="12.6" height="74.81" fill="#4a7662" stroke="#3a6452" stroke-width="0.8"/>
<line x1="180" y1="209.29" x2="180" y2="207.42" stroke="#222" stroke-width="0.9"/>
<line x1="176.3" y1="207.42" x2="183.7" y2="207.42" stroke="#222" stroke-width="1"/>
<line x1="180" y1="209.29" x2="180" y2="211.15" stroke="#222" stroke-width="0.9"/>
<line x1="176.3" y1="211.15" x2="183.7" y2="211.15" stroke="#222" stroke-width="1"/>
<line x1="55.3" y1="188.4" x2="55.3" y2="285" stroke="#222" stroke-width="1.1"/>
<line x1="54.8" y1="284.5" x2="195.5" y2="284.5" stroke="#222" stroke-width="1.1"/>
<line x1="52.1" y1="284.5" x2="55.3" y2="284.5" stroke="#222" stroke-width="0.9"/>
<text x="48.5" y="286.88" font-size="6.6" text-anchor="end" stroke="#222" stroke-width="0.16">0</text>
<line x1="52.1" y1="253.42" x2="55.3" y2="253.42" stroke="#222" stroke-width="0.9"/>
<text x="48.5" y="255.8" font-size="6.6" text-anchor="end" stroke="#222" stroke-width="0.16">20</text>
<line x1="52.1" y1="222.34" x2="55.3" y2="222.34" stroke="#222" stroke-width="0.9"/>
<text x="48.5" y="224.72" font-size="6.6" text-anchor="end" stroke="#222" stroke-width="0.16">40</text>
<line x1="52.1" y1="191.26" x2="55.3" y2="191.26" stroke="#222" stroke-width="0.9"/>
<text x="48.5" y="193.64" font-size="6.6" text-anchor="end" stroke="#222" stroke-width="0.16">60</text>
<line x1="70.2" y1="284.5" x2="70.2" y2="286.7" stroke="#222" stroke-width="0.9"/>
<text x="70.2" y="297.6" font-size="7.2" text-anchor="middle" stroke="#222" stroke-width="0.16">1</text>
<line x1="92" y1="284.5" x2="92" y2="286.7" stroke="#222" stroke-width="0.9"/>
<text x="92" y="297.6" font-size="7.2" text-anchor="middle" stroke="#222" stroke-width="0.16">2</text>
<line x1="114" y1="284.5" x2="114" y2="286.7" stroke="#222" stroke-width="0.9"/>
<text x="114" y="297.6" font-size="7.2" text-anchor="middle" stroke="#222" stroke-width="0.16">3</text>
<line x1="136" y1="284.5" x2="136" y2="286.7" stroke="#222" stroke-width="0.9"/>
<text x="136" y="297.6" font-size="7.2" text-anchor="middle" stroke="#222" stroke-width="0.16">4</text>
<line x1="158" y1="284.5" x2="158" y2="286.7" stroke="#222" stroke-width="0.9"/>
<text x="158" y="297.6" font-size="7.2" text-anchor="middle" stroke="#222" stroke-width="0.16">5</text>
<line x1="180" y1="284.5" x2="180" y2="286.7" stroke="#222" stroke-width="0.9"/>
<text x="180" y="297.6" font-size="7.2" text-anchor="middle" stroke="#222" stroke-width="0.16">6</text>
<text x="34.3" y="236.8" font-size="10" text-anchor="middle" fill="#111" stroke="#111" stroke-width="0.1" textLength="68.8" lengthAdjust="spacingAndGlyphs" transform="rotate(-90 34.3 236.8)">% of CD38+ cells</text>
<line x1="69" y1="216.5" x2="93" y2="216.5" stroke="#484848" stroke-width="1.1"/>
<line x1="69.5" y1="212.6" x2="69.5" y2="220.4" stroke="#484848" stroke-width="1.1"/>
<line x1="92.5" y1="212.6" x2="92.5" y2="220.4" stroke="#484848" stroke-width="1.1"/>
<text x="81" y="213.7" font-size="7" text-anchor="middle" fill="#1a1a1a" stroke="#1a1a1a" stroke-width="0.16" textLength="12.3" lengthAdjust="spacingAndGlyphs">N.S.</text>
<line x1="113" y1="206.5" x2="137" y2="206.5" stroke="#484848" stroke-width="1.1"/>
<line x1="113.5" y1="202.6" x2="113.5" y2="210.4" stroke="#484848" stroke-width="1.1"/>
<line x1="136.5" y1="202.6" x2="136.5" y2="210.4" stroke="#484848" stroke-width="1.1"/>
<text x="125" y="203.7" font-size="7" text-anchor="middle" fill="#1a1a1a" stroke="#1a1a1a" stroke-width="0.16" textLength="12.3" lengthAdjust="spacingAndGlyphs">N.S.</text>
<line x1="157" y1="193.5" x2="181" y2="193.5" stroke="#484848" stroke-width="1.1"/>
<line x1="157.5" y1="189.6" x2="157.5" y2="197.4" stroke="#484848" stroke-width="1.1"/>
<line x1="180.5" y1="189.6" x2="180.5" y2="197.4" stroke="#484848" stroke-width="1.1"/>
<circle cx="169" cy="189.6" r="1.15" fill="#333"/>
<text x="210.5" y="181.5" font-size="7" fill="#333" stroke="#333" stroke-width="0.16">(iii)</text>
<rect x="267.5" y="273.4" width="12.6" height="11.1" fill="#a6354a" stroke="#8e2439" stroke-width="0.8"/>
<line x1="273.8" y1="273" x2="273.8" y2="272.11" stroke="#222" stroke-width="0.9"/>
<line x1="270.1" y1="272.11" x2="277.5" y2="272.11" stroke="#222" stroke-width="1"/>
<line x1="273.8" y1="273" x2="273.8" y2="273.86" stroke="#222" stroke-width="0.9"/>
<line x1="270.1" y1="273.86" x2="277.5" y2="273.86" stroke="#222" stroke-width="1"/>
<rect x="289.2" y="240.4" width="12.6" height="44.1" fill="#4e6488" stroke="#3d5276" stroke-width="0.8"/>
<line x1="295.5" y1="240" x2="295.5" y2="235.2" stroke="#222" stroke-width="0.9"/>
<line x1="291.8" y1="235.2" x2="299.2" y2="235.2" stroke="#222" stroke-width="1"/>
<line x1="295.5" y1="240" x2="295.5" y2="244.54" stroke="#222" stroke-width="0.9"/>
<line x1="291.8" y1="244.54" x2="299.2" y2="244.54" stroke="#222" stroke-width="1"/>
<rect x="311" y="276.65" width="12.6" height="7.85" fill="#79a957" stroke="#65964a" stroke-width="0.8"/>
<line x1="317.3" y1="276.25" x2="317.3" y2="275.06" stroke="#222" stroke-width="0.9"/>
<line x1="313.6" y1="275.06" x2="321" y2="275.06" stroke="#222" stroke-width="1"/>
<rect x="332.7" y="238.65" width="12.6" height="45.85" fill="#6c476e" stroke="#58365a" stroke-width="0.8"/>
<line x1="339" y1="238.25" x2="339" y2="235.94" stroke="#222" stroke-width="0.9"/>
<line x1="335.3" y1="235.94" x2="342.7" y2="235.94" stroke="#222" stroke-width="1"/>
<line x1="339" y1="238.25" x2="339" y2="239.73" stroke="#222" stroke-width="0.9"/>
<line x1="335.3" y1="239.73" x2="342.7" y2="239.73" stroke="#222" stroke-width="1"/>
<rect x="354.6" y="239.4" width="12.6" height="45.1" fill="#d9953f" stroke="#c4822f" stroke-width="0.8"/>
<line x1="360.9" y1="239" x2="360.9" y2="238.53" stroke="#222" stroke-width="0.9"/>
<line x1="357.2" y1="238.53" x2="364.6" y2="238.53" stroke="#222" stroke-width="1"/>
<rect x="376.2" y="207.9" width="12.6" height="76.6" fill="#4a7662" stroke="#3a6452" stroke-width="0.8"/>
<line x1="382.5" y1="207.5" x2="382.5" y2="200.79" stroke="#222" stroke-width="0.9"/>
<line x1="378.8" y1="200.79" x2="386.2" y2="200.79" stroke="#222" stroke-width="1"/>
<line x1="382.5" y1="207.5" x2="382.5" y2="213.64" stroke="#222" stroke-width="0.9"/>
<line x1="378.8" y1="213.64" x2="386.2" y2="213.64" stroke="#222" stroke-width="1"/>
<line x1="259.5" y1="189" x2="259.5" y2="285" stroke="#222" stroke-width="1.1"/>
<line x1="259" y1="284.5" x2="397.5" y2="284.5" stroke="#222" stroke-width="1.1"/>
<line x1="256.3" y1="284.5" x2="259.5" y2="284.5" stroke="#222" stroke-width="0.9"/>
<text x="252.6" y="287.02" font-size="7" text-anchor="end" stroke="#222" stroke-width="0.16">0</text>
<line x1="256.3" y1="266" x2="259.5" y2="266" stroke="#222" stroke-width="0.9"/>
<text x="252.6" y="268.52" font-size="7" text-anchor="end" stroke="#222" stroke-width="0.16">20000</text>
<line x1="256.3" y1="247.5" x2="259.5" y2="247.5" stroke="#222" stroke-width="0.9"/>
<text x="252.6" y="250.02" font-size="7" text-anchor="end" stroke="#222" stroke-width="0.16">40000</text>
<line x1="256.3" y1="229" x2="259.5" y2="229" stroke="#222" stroke-width="0.9"/>
<text x="252.6" y="231.52" font-size="7" text-anchor="end" stroke="#222" stroke-width="0.16">60000</text>
<line x1="256.3" y1="210.5" x2="259.5" y2="210.5" stroke="#222" stroke-width="0.9"/>
<text x="252.6" y="213.02" font-size="7" text-anchor="end" stroke="#222" stroke-width="0.16">80000</text>
<line x1="256.3" y1="192" x2="259.5" y2="192" stroke="#222" stroke-width="0.9"/>
<text x="252.6" y="194.52" font-size="7" text-anchor="end" stroke="#222" stroke-width="0.16">100000</text>
<line x1="273.8" y1="284.5" x2="273.8" y2="286.7" stroke="#222" stroke-width="0.9"/>
<text x="273.8" y="297.6" font-size="7.2" text-anchor="middle" stroke="#222" stroke-width="0.16">1</text>
<line x1="295.5" y1="284.5" x2="295.5" y2="286.7" stroke="#222" stroke-width="0.9"/>
<text x="295.5" y="297.6" font-size="7.2" text-anchor="middle" stroke="#222" stroke-width="0.16">2</text>
<line x1="317.3" y1="284.5" x2="317.3" y2="286.7" stroke="#222" stroke-width="0.9"/>
<text x="317.3" y="297.6" font-size="7.2" text-anchor="middle" stroke="#222" stroke-width="0.16">3</text>
<line x1="339" y1="284.5" x2="339" y2="286.7" stroke="#222" stroke-width="0.9"/>
<text x="339" y="297.6" font-size="7.2" text-anchor="middle" stroke="#222" stroke-width="0.16">4</text>
<line x1="360.9" y1="284.5" x2="360.9" y2="286.7" stroke="#222" stroke-width="0.9"/>
<text x="360.9" y="297.6" font-size="7.2" text-anchor="middle" stroke="#222" stroke-width="0.16">5</text>
<line x1="382.5" y1="284.5" x2="382.5" y2="286.7" stroke="#222" stroke-width="0.9"/>
<text x="382.5" y="297.6" font-size="7.2" text-anchor="middle" stroke="#222" stroke-width="0.16">6</text>
<text x="219.4" y="236.8" font-size="10" text-anchor="middle" fill="#111" stroke="#111" stroke-width="0.1" textLength="101.5" lengthAdjust="spacingAndGlyphs" transform="rotate(-90 219.4 236.8)">CD38 MFI on CD38+ cells</text>
<line x1="273" y1="217.5" x2="296" y2="217.5" stroke="#484848" stroke-width="1.1"/>
<line x1="273.5" y1="213.6" x2="273.5" y2="221.4" stroke="#484848" stroke-width="1.1"/>
<line x1="295.5" y1="213.6" x2="295.5" y2="221.4" stroke="#484848" stroke-width="1.1"/>
<text x="284.5" y="214" font-size="7" text-anchor="middle" fill="#1a1a1a" stroke="#1a1a1a" stroke-width="0.16" textLength="12.3" lengthAdjust="spacingAndGlyphs">N.S.</text>
<line x1="317" y1="228.5" x2="339" y2="228.5" stroke="#484848" stroke-width="1.1"/>
<line x1="317.5" y1="224.6" x2="317.5" y2="232.4" stroke="#484848" stroke-width="1.1"/>
<line x1="338.5" y1="224.6" x2="338.5" y2="232.4" stroke="#484848" stroke-width="1.1"/>
<circle cx="328" cy="224.6" r="1.15" fill="#333"/>
<line x1="360" y1="193.5" x2="383" y2="193.5" stroke="#484848" stroke-width="1.1"/>
<line x1="360.5" y1="189.6" x2="360.5" y2="197.4" stroke="#484848" stroke-width="1.1"/>
<line x1="382.5" y1="189.6" x2="382.5" y2="197.4" stroke="#484848" stroke-width="1.1"/>
<text x="371.5" y="190.7" font-size="7" text-anchor="middle" fill="#1a1a1a" stroke="#1a1a1a" stroke-width="0.16" textLength="12.3" lengthAdjust="spacingAndGlyphs">N.S.</text>
<clipPath id="cb"><rect x="55.5" y="327" width="73" height="72.4"/></clipPath>
<path d="M98.8 387.0 L98.0 387.1 L97.2 387.2 L96.5 387.2 L95.8 387.1 L95.0 387.0 L94.5 387.0 L93.8 386.8 L93.2 386.7 L92.5 386.6 L92.0 386.5 L91.3 386.2 L90.8 386.1 L90.2 385.9 L89.8 385.7 L89.2 385.4 L88.8 385.1 L88.2 384.8 L87.9 384.5 L87.5 384.2 L87.1 383.8 L86.8 383.4 L86.4 383.0 L86.0 382.5 L85.8 382.1 L85.5 381.7 L85.2 381.2 L85.0 380.8 L84.7 380.2 L84.5 379.7 L84.2 379.1 L84.1 378.5 L83.9 378.0 L83.8 377.4 L83.6 376.8 L83.5 376.1 L83.4 375.5 L83.3 374.8 L83.2 374.2 L83.2 373.5 L83.1 372.8 L83.1 372.0 L83.1 371.2 L83.1 370.5 L83.1 369.8 L83.1 369.0 L83.1 368.2 L83.2 367.5 L83.2 366.8 L83.3 366.2 L83.3 365.5 L83.4 364.8 L83.4 364.0 L83.5 363.5 L83.6 362.8 L83.7 362.0 L83.8 361.5 L83.8 360.8 L83.9 360.0 L84.0 359.5 L84.1 358.8 L84.2 358.0 L84.3 357.5 L84.5 356.8 L84.6 356.2 L84.8 355.7 L85.0 355.0 L85.1 354.5 L85.3 354.0 L85.5 353.5 L85.8 352.9 L86.0 352.4 L86.2 351.9 L86.5 351.5 L86.8 351.0 L87.1 350.5 L87.5 350.0 L87.8 349.7 L88.1 349.2 L88.5 348.9 L89.0 348.5 L89.3 348.2 L89.8 347.9 L90.2 347.6 L90.8 347.3 L91.2 347.0 L91.8 346.8 L92.2 346.5 L92.8 346.3 L93.2 346.2 L93.9 346.0 L94.5 345.9 L95.2 345.8 L95.8 345.7 L96.5 345.7 L97.2 345.7 L97.8 345.8 L98.5 345.8 L99.2 345.9 L99.8 346.0 L100.5 346.2 L101.0 346.3 L101.6 346.5 L102.2 346.7 L102.8 346.9 L103.2 347.2 L103.8 347.4 L104.2 347.7 L104.7 348.0 L105.1 348.2 L105.5 348.5 L106.0 348.9 L106.5 349.2 L106.8 349.5 L107.2 350.0 L107.5 350.3 L107.9 350.8 L108.2 351.2 L108.5 351.5 L108.8 352.0 L109.2 352.5 L109.4 353.0 L109.7 353.5 L109.9 354.0 L110.1 354.5 L110.3 355.0 L110.5 355.5 L110.7 356.2 L110.9 356.8 L111.0 357.2 L111.2 358.0 L111.3 358.5 L111.5 359.2 L111.6 359.8 L111.7 360.5 L111.8 361.0 L111.9 361.8 L111.9 362.5 L112.0 363.2 L112.1 363.8 L112.1 364.5 L112.1 365.2 L112.1 366.0 L112.1 366.8 L112.1 367.5 L112.1 368.2 L112.0 369.0 L112.0 369.5 L111.9 370.2 L111.8 371.0 L111.8 371.8 L111.7 372.2 L111.6 373.0 L111.5 373.5 L111.4 374.2 L111.2 374.8 L111.1 375.5 L111.0 376.0 L110.8 376.8 L110.7 377.2 L110.5 377.9 L110.3 378.5 L110.1 379.0 L109.9 379.5 L109.7 380.0 L109.5 380.5 L109.2 381.0 L108.9 381.5 L108.6 382.0 L108.2 382.5 L108.0 382.8 L107.6 383.2 L107.2 383.6 L106.8 384.0 L106.4 384.2 L106.0 384.6 L105.5 384.9 L105.0 385.2 L104.5 385.5 L104.0 385.7 L103.5 385.9 L103.0 386.1 L102.5 386.3 L101.8 386.5 L101.2 386.7 L100.8 386.8 L100.0 386.9 L99.2 387.0 L98.8 387.0Z" fill="none" stroke="#c4c4c4" stroke-width="0.45" clip-path="url(#cb)"/>
<path d="M99.0 384.8 L98.2 384.9 L97.5 384.9 L96.8 384.9 L96.0 384.9 L95.2 384.8 L94.8 384.7 L94.0 384.6 L93.5 384.5 L92.8 384.3 L92.2 384.1 L91.8 384.0 L91.2 383.8 L90.6 383.5 L90.2 383.2 L89.8 383.0 L89.2 382.6 L88.9 382.2 L88.5 381.8 L88.2 381.5 L87.8 381.0 L87.5 380.5 L87.2 380.0 L87.0 379.5 L86.8 379.0 L86.5 378.5 L86.4 378.0 L86.2 377.5 L86.0 376.8 L85.9 376.2 L85.8 375.6 L85.7 375.0 L85.5 374.2 L85.5 373.8 L85.4 373.0 L85.3 372.2 L85.3 371.5 L85.3 370.8 L85.3 370.0 L85.3 369.2 L85.3 368.5 L85.3 367.8 L85.4 367.0 L85.4 366.2 L85.5 365.5 L85.5 364.8 L85.5 364.2 L85.6 363.5 L85.7 362.8 L85.8 362.2 L85.8 361.5 L85.9 360.8 L86.0 360.0 L86.0 359.5 L86.1 358.8 L86.2 358.0 L86.3 357.5 L86.4 356.8 L86.5 356.1 L86.6 355.5 L86.8 355.0 L87.0 354.3 L87.2 353.8 L87.4 353.2 L87.6 352.8 L87.9 352.2 L88.2 351.8 L88.5 351.3 L88.8 351.0 L89.2 350.5 L89.5 350.1 L89.9 349.8 L90.2 349.5 L90.8 349.1 L91.2 348.8 L91.8 348.5 L92.2 348.3 L92.8 348.1 L93.2 347.9 L93.8 347.7 L94.5 347.5 L95.0 347.5 L95.8 347.4 L96.5 347.4 L97.2 347.4 L97.8 347.5 L98.5 347.6 L99.1 347.8 L99.8 347.9 L100.2 348.1 L100.8 348.2 L101.5 348.5 L102.0 348.7 L102.5 349.0 L103.0 349.2 L103.4 349.5 L103.8 349.8 L104.2 350.1 L104.8 350.4 L105.2 350.8 L105.5 351.1 L105.9 351.5 L106.2 351.9 L106.6 352.2 L106.9 352.8 L107.2 353.2 L107.5 353.6 L107.8 354.1 L108.0 354.6 L108.2 355.2 L108.5 355.8 L108.6 356.2 L108.8 356.8 L109.0 357.5 L109.1 358.0 L109.3 358.5 L109.4 359.2 L109.5 359.8 L109.6 360.5 L109.7 361.2 L109.8 361.8 L109.8 362.5 L109.9 363.2 L110.0 364.0 L110.0 364.6 L110.0 365.2 L110.0 366.0 L110.0 366.8 L110.0 367.2 L110.0 368.0 L109.9 368.8 L109.8 369.5 L109.7 370.0 L109.7 370.8 L109.6 371.5 L109.5 372.0 L109.4 372.8 L109.2 373.4 L109.1 374.0 L109.0 374.6 L108.8 375.2 L108.7 375.8 L108.5 376.5 L108.4 377.0 L108.2 377.5 L108.0 378.2 L107.8 378.8 L107.5 379.2 L107.3 379.8 L107.0 380.2 L106.8 380.6 L106.5 381.0 L106.0 381.5 L105.8 381.8 L105.2 382.2 L104.9 382.5 L104.5 382.8 L104.0 383.2 L103.5 383.4 L103.0 383.7 L102.5 383.9 L102.0 384.1 L101.5 384.2 L100.8 384.5 L100.2 384.6 L99.5 384.7 L99.0 384.8Z" fill="none" stroke="#c4c4c4" stroke-width="0.45" clip-path="url(#cb)"/>
<path d="M97.8 383.0 L97.0 383.1 L96.2 383.0 L95.8 383.0 L95.0 382.8 L94.5 382.7 L93.8 382.6 L93.2 382.4 L92.7 382.2 L92.1 382.0 L91.6 381.8 L91.1 381.5 L90.8 381.2 L90.2 380.8 L90.0 380.5 L89.6 380.0 L89.2 379.6 L89.0 379.1 L88.8 378.7 L88.5 378.1 L88.2 377.5 L88.1 377.0 L87.9 376.5 L87.8 375.9 L87.6 375.2 L87.5 374.7 L87.4 374.0 L87.2 373.3 L87.2 372.8 L87.1 372.0 L87.1 371.2 L87.0 370.5 L87.0 370.0 L87.0 369.2 L87.0 368.5 L87.0 367.8 L87.0 367.2 L87.0 366.5 L87.1 365.8 L87.1 365.0 L87.1 364.2 L87.2 363.5 L87.2 362.8 L87.2 362.0 L87.2 361.2 L87.2 360.5 L87.2 359.8 L87.2 359.0 L87.2 358.2 L87.3 357.8 L87.3 357.0 L87.4 356.2 L87.5 355.8 L87.7 355.0 L87.8 354.5 L88.0 354.0 L88.2 353.4 L88.5 352.8 L88.8 352.4 L89.0 352.0 L89.3 351.5 L89.8 351.0 L90.0 350.8 L90.5 350.3 L90.9 350.0 L91.2 349.7 L91.8 349.4 L92.2 349.1 L92.8 348.9 L93.2 348.7 L94.0 348.5 L94.5 348.4 L95.2 348.3 L96.0 348.3 L96.8 348.3 L97.5 348.4 L98.0 348.5 L98.8 348.7 L99.2 348.8 L99.8 349.0 L100.4 349.2 L101.0 349.5 L101.5 349.8 L102.0 350.0 L102.4 350.2 L102.8 350.5 L103.2 350.8 L103.8 351.1 L104.2 351.5 L104.5 351.8 L105.0 352.2 L105.3 352.5 L105.7 353.0 L106.0 353.4 L106.3 353.8 L106.6 354.2 L106.9 354.8 L107.1 355.2 L107.3 355.8 L107.5 356.2 L107.8 357.0 L107.9 357.5 L108.0 358.0 L108.2 358.8 L108.3 359.2 L108.4 360.0 L108.5 360.5 L108.6 361.2 L108.6 362.0 L108.7 362.8 L108.7 363.5 L108.7 364.2 L108.7 365.0 L108.6 365.8 L108.6 366.5 L108.5 367.2 L108.4 367.8 L108.3 368.5 L108.2 369.0 L108.1 369.8 L108.0 370.5 L107.9 371.0 L107.8 371.8 L107.7 372.2 L107.5 373.0 L107.4 373.5 L107.2 374.2 L107.1 374.8 L107.0 375.2 L106.8 376.0 L106.6 376.5 L106.4 377.0 L106.2 377.5 L106.0 378.1 L105.8 378.6 L105.5 379.0 L105.2 379.5 L104.8 380.0 L104.5 380.3 L104.0 380.8 L103.7 381.0 L103.2 381.3 L102.8 381.7 L102.2 381.9 L101.8 382.1 L101.2 382.3 L100.7 382.5 L100.0 382.7 L99.5 382.8 L98.8 382.9 L98.0 383.0Z" fill="none" stroke="#c4c4c4" stroke-width="0.45" clip-path="url(#cb)"/>
<path d="M98.2 378.5 L97.5 378.6 L96.8 378.6 L96.0 378.5 L95.5 378.4 L94.8 378.3 L94.2 378.1 L93.8 377.9 L93.2 377.5 L93.0 377.2 L92.6 376.8 L92.3 376.2 L92.1 375.8 L91.9 375.2 L91.8 374.6 L91.6 374.0 L91.5 373.5 L91.3 372.8 L91.2 372.2 L91.1 371.5 L91.0 370.8 L91.0 370.2 L90.9 369.5 L90.9 368.8 L90.9 368.0 L90.9 367.2 L90.9 366.5 L90.9 365.8 L90.9 365.0 L90.8 364.2 L90.8 363.5 L90.7 363.0 L90.6 362.2 L90.4 361.8 L90.2 361.2 L90.0 360.5 L89.9 360.0 L89.7 359.5 L89.5 358.8 L89.4 358.2 L89.2 357.7 L89.2 357.0 L89.1 356.2 L89.1 355.5 L89.2 354.8 L89.3 354.2 L89.5 353.8 L89.8 353.2 L90.0 352.7 L90.3 352.2 L90.7 351.8 L91.0 351.4 L91.5 351.0 L91.8 350.8 L92.2 350.5 L92.8 350.2 L93.4 350.0 L94.0 349.8 L94.6 349.8 L95.2 349.7 L95.8 349.8 L96.5 349.9 L97.0 350.0 L97.7 350.2 L98.2 350.5 L98.7 350.8 L99.2 351.0 L99.6 351.2 L100.0 351.5 L100.5 351.9 L101.0 352.2 L101.4 352.5 L101.8 352.8 L102.2 353.1 L102.8 353.4 L103.2 353.8 L103.5 354.0 L104.0 354.4 L104.3 354.8 L104.8 355.2 L105.0 355.6 L105.3 356.0 L105.6 356.5 L105.8 357.0 L106.0 357.5 L106.2 358.2 L106.4 358.8 L106.5 359.2 L106.6 360.0 L106.7 360.8 L106.7 361.5 L106.8 361.8 L106.7 362.5 L106.7 363.2 L106.6 364.0 L106.5 364.5 L106.4 365.2 L106.2 365.8 L106.0 366.5 L105.8 367.0 L105.7 367.5 L105.5 368.0 L105.2 368.5 L105.0 369.0 L104.8 369.6 L104.5 370.2 L104.3 370.8 L104.1 371.2 L103.9 371.8 L103.7 372.2 L103.5 372.9 L103.3 373.5 L103.1 374.0 L102.9 374.5 L102.7 375.0 L102.5 375.5 L102.2 376.0 L102.0 376.5 L101.6 377.0 L101.2 377.4 L100.8 377.7 L100.2 378.0 L99.8 378.2 L99.2 378.3 L98.5 378.5Z" fill="none" stroke="#c3c3c3" stroke-width="0.45" clip-path="url(#cb)"/>
<path d="M98.2 377.8 L97.5 377.8 L96.8 377.8 L96.0 377.8 L95.5 377.7 L94.8 377.5 L94.2 377.3 L93.8 377.0 L93.5 376.7 L93.2 376.2 L92.9 375.8 L92.7 375.2 L92.5 374.6 L92.3 374.0 L92.2 373.5 L92.0 372.8 L91.9 372.2 L91.8 371.5 L91.7 371.0 L91.7 370.2 L91.6 369.5 L91.6 368.8 L91.6 368.0 L91.6 367.2 L91.5 366.5 L91.5 365.8 L91.5 365.0 L91.5 364.5 L91.4 363.8 L91.3 363.0 L91.2 362.5 L91.0 362.0 L90.8 361.3 L90.6 360.8 L90.4 360.2 L90.2 359.8 L90.0 359.2 L89.8 358.5 L89.6 358.0 L89.5 357.4 L89.4 356.8 L89.4 356.0 L89.4 355.2 L89.5 354.7 L89.7 354.0 L89.9 353.5 L90.1 353.0 L90.4 352.5 L90.8 352.0 L91.0 351.8 L91.5 351.3 L91.9 351.0 L92.3 350.8 L92.8 350.5 L93.4 350.2 L94.0 350.1 L94.8 350.0 L95.2 350.0 L95.8 350.0 L96.5 350.2 L97.0 350.3 L97.6 350.5 L98.1 350.8 L98.6 351.0 L99.0 351.3 L99.5 351.6 L100.0 352.0 L100.4 352.2 L100.8 352.5 L101.2 352.9 L101.8 353.2 L102.2 353.5 L102.6 353.8 L103.0 354.0 L103.5 354.4 L103.9 354.8 L104.2 355.1 L104.6 355.5 L105.0 356.0 L105.2 356.5 L105.5 357.0 L105.7 357.5 L105.9 358.0 L106.1 358.5 L106.2 359.2 L106.4 359.8 L106.4 360.5 L106.5 361.2 L106.5 361.8 L106.5 362.2 L106.4 363.0 L106.3 363.8 L106.2 364.3 L106.1 365.0 L106.0 365.5 L105.8 366.2 L105.6 366.8 L105.4 367.2 L105.1 367.8 L104.9 368.2 L104.6 368.8 L104.4 369.2 L104.1 369.8 L103.9 370.2 L103.7 370.8 L103.4 371.2 L103.2 371.8 L103.0 372.3 L102.8 372.9 L102.5 373.5 L102.4 374.0 L102.2 374.5 L101.9 375.0 L101.7 375.5 L101.4 376.0 L101.1 376.5 L100.8 376.8 L100.2 377.2 L99.8 377.4 L99.2 377.6 L98.5 377.7Z" fill="none" stroke="#c1c1c1" stroke-width="0.45" clip-path="url(#cb)"/>
<path d="M98.8 376.8 L98.0 376.9 L97.2 377.0 L96.5 376.9 L95.8 376.8 L95.2 376.7 L94.7 376.5 L94.2 376.1 L93.9 375.8 L93.6 375.2 L93.4 374.8 L93.2 374.2 L93.1 373.5 L92.9 373.0 L92.8 372.2 L92.7 371.8 L92.5 371.0 L92.5 370.5 L92.4 369.8 L92.4 369.0 L92.4 368.2 L92.3 367.5 L92.3 366.8 L92.3 366.0 L92.3 365.2 L92.2 364.8 L92.2 364.0 L92.0 363.2 L91.9 362.8 L91.7 362.2 L91.5 361.7 L91.2 361.1 L91.0 360.6 L90.8 360.1 L90.5 359.5 L90.3 359.0 L90.1 358.5 L90.0 358.0 L89.8 357.2 L89.7 356.8 L89.7 356.0 L89.7 355.2 L89.8 354.8 L90.0 354.0 L90.2 353.5 L90.4 353.0 L90.8 352.5 L91.0 352.2 L91.4 351.8 L91.8 351.4 L92.2 351.1 L92.8 350.8 L93.2 350.6 L93.8 350.5 L94.5 350.3 L95.2 350.3 L96.0 350.4 L96.6 350.5 L97.2 350.7 L97.8 350.9 L98.2 351.2 L98.7 351.5 L99.1 351.8 L99.5 352.0 L100.0 352.4 L100.4 352.8 L100.8 353.0 L101.2 353.3 L101.8 353.7 L102.2 354.0 L102.6 354.2 L103.0 354.5 L103.5 354.9 L103.9 355.2 L104.2 355.6 L104.6 356.0 L104.9 356.5 L105.2 357.0 L105.4 357.5 L105.6 358.0 L105.8 358.5 L106.0 359.2 L106.1 359.8 L106.2 360.5 L106.2 361.2 L106.2 362.0 L106.2 362.8 L106.1 363.5 L106.0 364.0 L105.8 364.8 L105.7 365.2 L105.5 365.8 L105.2 366.5 L105.0 367.0 L104.8 367.5 L104.5 368.0 L104.2 368.4 L104.0 368.8 L103.7 369.2 L103.4 369.8 L103.1 370.2 L102.9 370.8 L102.6 371.2 L102.4 371.8 L102.2 372.2 L102.0 372.8 L101.8 373.3 L101.5 373.9 L101.3 374.5 L101.0 375.0 L100.8 375.5 L100.5 375.8 L100.0 376.2 L99.6 376.5 L99.0 376.7Z" fill="none" stroke="#bfbfbf" stroke-width="0.45" clip-path="url(#cb)"/>
<path d="M98.8 373.3 L98.0 373.4 L97.2 373.4 L96.5 373.3 L96.0 373.1 L95.5 372.8 L95.1 372.5 L94.8 372.2 L94.3 371.8 L94.0 371.3 L93.8 371.0 L93.5 370.5 L93.2 370.0 L93.2 369.2 L93.2 368.5 L93.1 367.8 L93.1 367.0 L93.1 366.2 L93.1 365.5 L93.0 364.8 L92.9 364.2 L92.8 363.5 L92.7 363.0 L92.5 362.5 L92.2 362.0 L92.0 361.5 L91.7 361.0 L91.4 360.5 L91.2 360.0 L90.9 359.5 L90.7 359.0 L90.5 358.5 L90.2 357.8 L90.1 357.2 L90.0 356.5 L90.0 356.0 L90.0 355.3 L90.1 354.8 L90.2 354.1 L90.5 353.5 L90.7 353.0 L91.0 352.6 L91.3 352.2 L91.8 351.8 L92.1 351.5 L92.5 351.2 L93.0 351.0 L93.7 350.8 L94.2 350.6 L95.0 350.6 L95.8 350.6 L96.4 350.8 L97.0 350.9 L97.5 351.2 L98.0 351.4 L98.5 351.7 L98.9 352.0 L99.2 352.3 L99.8 352.7 L100.1 353.0 L100.5 353.3 L101.0 353.7 L101.5 354.0 L101.9 354.2 L102.3 354.5 L102.8 354.8 L103.2 355.1 L103.7 355.5 L104.0 355.8 L104.4 356.2 L104.7 356.8 L105.0 357.2 L105.2 357.8 L105.4 358.2 L105.6 358.8 L105.8 359.4 L105.9 360.0 L105.9 360.8 L106.0 361.5 L106.0 362.2 L105.9 363.0 L105.8 363.8 L105.6 364.2 L105.5 364.8 L105.3 365.5 L105.1 366.0 L104.8 366.5 L104.6 367.0 L104.3 367.5 L104.0 367.9 L103.7 368.2 L103.4 368.8 L103.0 369.2 L102.8 369.6 L102.5 370.0 L102.2 370.5 L101.9 371.0 L101.6 371.5 L101.3 372.0 L101.0 372.3 L100.5 372.6 L100.0 372.8 L99.5 373.0 L98.9 373.2Z" fill="none" stroke="#bcbcbc" stroke-width="0.45" clip-path="url(#cb)"/>
<path d="M101.8 369.8 L101.0 370.0 L100.2 370.0 L99.5 369.9 L98.9 369.8 L98.2 369.5 L97.8 369.3 L97.2 369.0 L96.9 368.8 L96.5 368.4 L96.2 368.0 L95.8 367.5 L95.5 367.0 L95.2 366.5 L95.0 366.0 L94.8 365.6 L94.5 365.2 L94.2 364.8 L93.8 364.3 L93.6 363.8 L93.5 363.2 L93.2 362.7 L93.0 362.2 L92.8 361.7 L92.4 361.2 L92.1 360.8 L91.8 360.2 L91.5 359.8 L91.2 359.3 L91.0 358.9 L90.8 358.3 L90.6 357.8 L90.4 357.2 L90.3 356.5 L90.3 355.8 L90.3 355.0 L90.5 354.2 L90.7 353.8 L90.9 353.2 L91.2 352.8 L91.5 352.4 L91.9 352.0 L92.3 351.8 L92.8 351.4 L93.2 351.2 L93.9 351.0 L94.5 350.9 L95.2 350.9 L96.0 351.0 L96.5 351.1 L97.0 351.3 L97.5 351.5 L98.0 351.8 L98.5 352.1 L99.0 352.5 L99.3 352.8 L99.8 353.1 L100.2 353.5 L100.5 353.8 L101.0 354.1 L101.5 354.5 L102.0 354.8 L102.4 355.0 L102.8 355.2 L103.2 355.6 L103.7 356.0 L104.0 356.3 L104.4 356.8 L104.7 357.2 L104.9 357.8 L105.1 358.2 L105.3 358.8 L105.5 359.4 L105.6 360.0 L105.7 360.8 L105.7 361.5 L105.7 362.2 L105.6 363.0 L105.5 363.6 L105.3 364.2 L105.2 364.8 L105.0 365.3 L104.8 365.9 L104.5 366.3 L104.2 366.8 L103.9 367.2 L103.5 367.8 L103.2 368.1 L102.8 368.5 L102.5 368.9 L102.2 369.2 L101.8 369.8Z" fill="none" stroke="#b8b8b8" stroke-width="0.45" clip-path="url(#cb)"/>
<path d="M101.8 368.6 L101.0 368.6 L100.5 368.4 L100.0 368.2 L99.5 367.9 L99.0 367.5 L98.8 367.2 L98.4 366.8 L98.0 366.2 L97.8 365.8 L97.5 365.4 L97.2 364.9 L97.0 364.5 L96.6 364.0 L96.2 363.7 L95.8 363.3 L95.2 363.1 L94.8 362.9 L94.2 362.7 L93.8 362.2 L93.5 361.9 L93.2 361.5 L92.9 361.0 L92.5 360.5 L92.2 360.2 L91.9 359.8 L91.6 359.2 L91.3 358.8 L91.1 358.2 L90.9 357.8 L90.7 357.2 L90.6 356.5 L90.5 355.8 L90.6 355.0 L90.8 354.3 L91.0 353.8 L91.2 353.2 L91.5 352.9 L91.8 352.5 L92.2 352.1 L92.8 351.8 L93.2 351.5 L93.8 351.3 L94.2 351.2 L95.0 351.1 L95.8 351.2 L96.2 351.3 L96.8 351.5 L97.3 351.8 L97.8 352.0 L98.2 352.3 L98.8 352.7 L99.1 353.0 L99.5 353.4 L99.9 353.8 L100.2 354.1 L100.8 354.4 L101.2 354.8 L101.7 355.0 L102.1 355.2 L102.5 355.5 L103.0 355.8 L103.5 356.2 L103.8 356.5 L104.2 357.0 L104.5 357.5 L104.8 358.0 L105.0 358.5 L105.1 359.0 L105.3 359.5 L105.4 360.2 L105.5 361.0 L105.5 361.8 L105.4 362.5 L105.3 363.2 L105.2 363.8 L105.0 364.4 L104.8 365.0 L104.6 365.5 L104.3 366.0 L104.0 366.4 L103.8 366.8 L103.3 367.2 L103.0 367.6 L102.5 368.0 L102.2 368.3 L101.8 368.6Z" fill="none" stroke="#b4b4b4" stroke-width="0.45" clip-path="url(#cb)"/>
<path d="M102.2 367.5 L101.5 367.7 L100.9 367.5 L100.4 367.2 L100.0 366.9 L99.6 366.5 L99.2 366.1 L99.0 365.8 L98.7 365.2 L98.4 364.8 L98.2 364.2 L97.9 363.8 L97.7 363.2 L97.3 362.8 L97.0 362.5 L96.5 362.2 L95.8 362.0 L95.2 361.9 L94.5 361.8 L94.0 361.6 L93.7 361.2 L93.2 360.8 L93.0 360.5 L92.6 360.0 L92.2 359.6 L92.0 359.2 L91.7 358.8 L91.4 358.2 L91.2 357.8 L91.0 357.1 L90.9 356.5 L90.8 355.8 L90.9 355.0 L91.0 354.4 L91.2 353.8 L91.5 353.3 L91.8 353.0 L92.2 352.5 L92.5 352.2 L93.0 351.9 L93.5 351.7 L94.2 351.5 L94.8 351.4 L95.5 351.5 L96.0 351.5 L96.6 351.8 L97.2 352.0 L97.6 352.2 L98.0 352.5 L98.5 352.9 L98.9 353.2 L99.2 353.6 L99.6 354.0 L100.0 354.3 L100.5 354.7 L100.9 355.0 L101.3 355.2 L101.8 355.5 L102.2 355.8 L102.8 356.1 L103.2 356.5 L103.6 356.8 L104.0 357.2 L104.2 357.6 L104.5 358.1 L104.8 358.7 L104.9 359.2 L105.0 359.8 L105.2 360.5 L105.2 361.2 L105.2 362.0 L105.1 362.8 L105.0 363.3 L104.8 364.0 L104.6 364.5 L104.4 365.0 L104.2 365.5 L103.8 366.0 L103.5 366.4 L103.2 366.8 L102.8 367.1 L102.3 367.5Z" fill="none" stroke="#aeaeae" stroke-width="0.45" clip-path="url(#cb)"/>
<path d="M102.2 366.9 L101.5 366.9 L101.0 366.7 L100.5 366.4 L100.1 366.0 L99.8 365.6 L99.5 365.2 L99.2 364.8 L99.0 364.2 L98.8 363.7 L98.5 363.1 L98.2 362.6 L98.0 362.2 L97.7 361.8 L97.2 361.5 L96.5 361.2 L96.0 361.2 L95.2 361.1 L94.5 361.0 L94.0 360.8 L93.6 360.5 L93.2 360.1 L92.9 359.8 L92.5 359.3 L92.2 359.0 L91.9 358.5 L91.6 358.0 L91.4 357.5 L91.2 357.0 L91.1 356.2 L91.1 355.5 L91.2 354.8 L91.3 354.2 L91.6 353.8 L91.9 353.2 L92.2 352.8 L92.6 352.5 L93.0 352.2 L93.5 352.0 L94.2 351.8 L94.8 351.7 L95.4 351.8 L96.0 351.9 L96.5 352.0 L97.0 352.2 L97.5 352.5 L98.0 352.9 L98.4 353.2 L98.8 353.6 L99.1 354.0 L99.5 354.4 L99.9 354.8 L100.2 355.1 L100.8 355.4 L101.2 355.7 L101.8 355.9 L102.2 356.2 L102.7 356.5 L103.1 356.8 L103.5 357.1 L103.8 357.5 L104.1 358.0 L104.4 358.5 L104.6 359.0 L104.8 359.7 L104.8 360.2 L104.9 361.0 L104.9 361.8 L104.8 362.5 L104.7 363.0 L104.6 363.8 L104.4 364.2 L104.2 364.8 L103.9 365.2 L103.5 365.8 L103.2 366.1 L102.8 366.5 L102.4 366.8Z" fill="none" stroke="#a7a7a7" stroke-width="0.45" clip-path="url(#cb)"/>
<path d="M102.0 366.3 L101.5 366.2 L101.0 365.9 L100.5 365.5 L100.2 365.2 L99.9 364.8 L99.6 364.2 L99.4 363.8 L99.2 363.2 L99.0 362.8 L98.8 362.1 L98.5 361.6 L98.2 361.2 L97.8 360.8 L97.2 360.6 L96.5 360.5 L95.8 360.5 L95.0 360.5 L94.5 360.5 L94.0 360.2 L93.5 359.8 L93.2 359.5 L92.8 359.1 L92.5 358.8 L92.1 358.2 L91.9 357.8 L91.6 357.2 L91.5 356.8 L91.4 356.0 L91.4 355.2 L91.5 354.7 L91.8 354.0 L92.0 353.6 L92.3 353.2 L92.8 352.8 L93.2 352.5 L93.8 352.3 L94.2 352.1 L95.0 352.1 L95.8 352.1 L96.2 352.3 L96.8 352.5 L97.2 352.8 L97.8 353.1 L98.2 353.5 L98.5 353.8 L98.9 354.2 L99.2 354.7 L99.6 355.0 L100.0 355.4 L100.4 355.8 L100.9 356.0 L101.4 356.2 L102.0 356.5 L102.5 356.8 L102.8 357.0 L103.2 357.4 L103.6 357.8 L103.9 358.2 L104.1 358.8 L104.3 359.2 L104.5 360.0 L104.5 360.5 L104.5 361.2 L104.5 362.0 L104.4 362.5 L104.3 363.2 L104.2 363.8 L104.0 364.2 L103.8 364.8 L103.4 365.2 L103.0 365.7 L102.6 366.0 L102.2 366.2Z" fill="none" stroke="#9e9e9e" stroke-width="0.45" clip-path="url(#cb)"/>
<path d="M102.2 365.6 L101.5 365.6 L101.0 365.2 L100.7 365.0 L100.3 364.5 L100.0 364.0 L99.8 363.5 L99.6 363.0 L99.4 362.5 L99.2 362.0 L99.0 361.2 L98.8 360.8 L98.5 360.3 L98.2 360.0 L97.5 359.8 L96.8 359.9 L96.0 360.0 L95.3 360.0 L95.0 360.0 L94.2 359.9 L93.8 359.5 L93.4 359.2 L93.0 358.8 L92.7 358.5 L92.4 358.0 L92.1 357.5 L91.9 357.0 L91.7 356.5 L91.7 355.8 L91.7 355.0 L91.9 354.5 L92.1 354.0 L92.5 353.5 L92.8 353.2 L93.2 352.9 L93.8 352.7 L94.4 352.5 L95.0 352.5 L95.5 352.5 L96.2 352.7 L96.8 352.9 L97.2 353.2 L97.6 353.5 L98.0 353.8 L98.4 354.2 L98.8 354.6 L99.0 355.0 L99.5 355.5 L99.8 355.8 L100.2 356.2 L100.8 356.5 L101.2 356.7 L101.8 356.9 L102.2 357.1 L102.8 357.4 L103.1 357.8 L103.5 358.2 L103.8 358.7 L103.9 359.2 L104.0 359.8 L104.0 360.5 L103.8 361.0 L103.5 361.3 L103.2 361.8 L103.5 362.1 L103.8 362.7 L103.8 363.2 L103.7 363.8 L103.5 364.3 L103.2 364.8 L102.8 365.2 L102.4 365.5Z" fill="none" stroke="#959595" stroke-width="0.45" clip-path="url(#cb)"/>
<path d="M102.0 365.0 L101.5 364.9 L101.0 364.5 L100.8 364.2 L100.4 363.8 L100.2 363.2 L100.0 362.8 L99.8 362.0 L99.6 361.5 L99.5 361.0 L99.3 360.2 L99.1 359.8 L98.8 359.2 L98.2 359.0 L97.5 359.1 L96.9 359.2 L96.2 359.4 L95.6 359.5 L95.0 359.5 L94.5 359.5 L94.0 359.2 L93.5 358.8 L93.2 358.5 L92.8 358.0 L92.5 357.6 L92.2 357.1 L92.1 356.5 L92.0 355.8 L92.1 355.0 L92.3 354.5 L92.6 354.0 L93.0 353.6 L93.5 353.3 L94.0 353.2 L94.8 353.2 L95.5 353.2 L96.0 353.3 L96.8 353.5 L97.2 353.7 L97.6 354.0 L98.0 354.4 L98.3 354.8 L98.7 355.2 L99.0 355.7 L99.3 356.0 L99.7 356.5 L100.0 356.8 L100.6 357.0 L101.2 357.2 L101.8 357.4 L102.2 357.6 L102.8 358.0 L103.0 358.2 L103.3 358.8 L103.5 359.5 L103.2 360.1 L102.9 360.5 L102.6 361.0 L102.5 361.5 L102.5 362.2 L102.7 362.8 L102.9 363.2 L103.0 364.0 L102.7 364.5 L102.2 364.9ZM95.1 355.0 L95.5 354.5 L95.5 354.2 L95.0 353.8 L94.5 354.2 L94.5 354.6 L94.9 355.0Z" fill="none" stroke="#8a8a8a" stroke-width="0.45" clip-path="url(#cb)"/>
<path d="M95.8 359.0 L95.0 359.1 L94.4 359.0 L94.0 358.7 L93.5 358.3 L93.2 358.0 L92.9 357.5 L92.6 357.0 L92.5 356.5 L92.4 355.8 L92.5 355.2 L92.8 354.8 L93.2 354.5 L93.6 354.8 L94.0 355.2 L94.4 355.5 L95.0 355.6 L95.5 355.5 L96.0 355.1 L96.2 354.7 L96.8 354.3 L97.4 354.5 L97.8 354.8 L98.2 355.2 L98.5 355.7 L98.8 356.2 L99.0 356.7 L99.0 357.1 L98.8 357.6 L98.2 358.0 L97.8 358.2 L97.3 358.5 L96.8 358.7 L96.2 358.9 L95.8 359.0ZM102.0 364.1 L101.4 364.0 L101.0 363.6 L100.7 363.2 L100.5 362.8 L100.2 362.1 L100.1 361.5 L100.0 361.0 L99.8 360.2 L99.8 359.5 L99.7 359.0 L99.8 358.4 L100.0 357.8 L100.5 357.7 L101.1 357.8 L101.8 357.9 L102.2 358.2 L102.5 358.5 L102.8 359.0 L102.8 359.6 L102.5 360.1 L102.2 360.7 L102.1 361.2 L102.0 362.0 L102.1 362.8 L102.2 363.5 L102.0 364.1Z" fill="none" stroke="#7d7d7d" stroke-width="0.45" clip-path="url(#cb)"/>
<path d="M95.8 358.5 L95.0 358.6 L94.4 358.5 L94.0 358.2 L93.5 357.8 L93.2 357.3 L93.0 356.8 L93.0 356.2 L93.2 355.8 L93.5 355.8 L94.2 356.0 L94.8 356.1 L95.3 356.0 L95.9 355.8 L96.3 355.5 L96.8 355.2 L97.4 355.2 L97.8 355.5 L98.1 356.0 L98.1 356.8 L97.8 357.2 L97.5 357.6 L97.0 358.0 L96.5 358.2 L96.0 358.5ZM101.5 362.3 L101.0 362.2 L100.7 361.8 L100.5 361.0 L100.4 360.5 L100.4 359.8 L100.5 359.0 L100.8 358.5 L101.5 358.6 L102.0 359.0 L102.1 359.5 L102.0 360.0 L101.8 360.8 L101.7 361.2 L101.6 362.0Z" fill="none" stroke="#6f6f6f" stroke-width="0.45" clip-path="url(#cb)"/>
<path d="M95.8 358.1 L95.0 358.2 L94.4 358.0 L94.0 357.6 L93.8 357.1 L93.8 356.7 L94.4 356.5 L95.0 356.4 L95.7 356.2 L96.2 356.0 L96.8 355.8 L97.4 356.0 L97.5 356.3 L97.2 357.0 L97.0 357.3 L96.5 357.7 L96.0 358.0ZM101.2 360.4 L101.2 359.8 L101.2 360.4Z" fill="none" stroke="#606060" stroke-width="0.45" clip-path="url(#cb)"/>
<line x1="55.5" y1="369.7" x2="99.4" y2="369.7" stroke="#b8b8b8" stroke-width="0.7"/>
<path d="M99.4 327 L55.5 327 L55.5 399.4 L99.4 399.4" fill="none" stroke="#222" stroke-width="1.1"/>
<path d="M99.4 327 H128.5 V399.4 H99.4 Z M99.4 368.6 H128.5" fill="none" stroke="#b5485c" stroke-width="1.1"/>
<line x1="52.5" y1="384.5" x2="55.5" y2="384.5" stroke="#222" stroke-width="0.75"/>
<line x1="53.5" y1="379.23" x2="55.5" y2="379.23" stroke="#222" stroke-width="0.75"/>
<line x1="53.5" y1="376.15" x2="55.5" y2="376.15" stroke="#222" stroke-width="0.75"/>
<line x1="53.5" y1="373.96" x2="55.5" y2="373.96" stroke="#222" stroke-width="0.75"/>
<line x1="53.5" y1="372.27" x2="55.5" y2="372.27" stroke="#222" stroke-width="0.75"/>
<line x1="53.5" y1="370.88" x2="55.5" y2="370.88" stroke="#222" stroke-width="0.75"/>
<line x1="53.5" y1="369.71" x2="55.5" y2="369.71" stroke="#222" stroke-width="0.75"/>
<line x1="53.5" y1="368.7" x2="55.5" y2="368.7" stroke="#222" stroke-width="0.75"/>
<line x1="53.5" y1="367.8" x2="55.5" y2="367.8" stroke="#222" stroke-width="0.75"/>
<line x1="52.5" y1="367" x2="55.5" y2="367" stroke="#222" stroke-width="0.75"/>
<line x1="53.5" y1="361.88" x2="55.5" y2="361.88" stroke="#222" stroke-width="0.75"/>
<line x1="53.5" y1="358.89" x2="55.5" y2="358.89" stroke="#222" stroke-width="0.75"/>
<line x1="53.5" y1="356.76" x2="55.5" y2="356.76" stroke="#222" stroke-width="0.75"/>
<line x1="53.5" y1="355.12" x2="55.5" y2="355.12" stroke="#222" stroke-width="0.75"/>
<line x1="53.5" y1="353.77" x2="55.5" y2="353.77" stroke="#222" stroke-width="0.75"/>
<line x1="53.5" y1="352.63" x2="55.5" y2="352.63" stroke="#222" stroke-width="0.75"/>
<line x1="53.5" y1="351.65" x2="55.5" y2="351.65" stroke="#222" stroke-width="0.75"/>
<line x1="53.5" y1="350.78" x2="55.5" y2="350.78" stroke="#222" stroke-width="0.75"/>
<line x1="52.5" y1="350" x2="55.5" y2="350" stroke="#222" stroke-width="0.75"/>
<line x1="53.5" y1="345.09" x2="55.5" y2="345.09" stroke="#222" stroke-width="0.75"/>
<line x1="53.5" y1="342.22" x2="55.5" y2="342.22" stroke="#222" stroke-width="0.75"/>
<line x1="53.5" y1="340.19" x2="55.5" y2="340.19" stroke="#222" stroke-width="0.75"/>
<line x1="53.5" y1="338.61" x2="55.5" y2="338.61" stroke="#222" stroke-width="0.75"/>
<line x1="53.5" y1="337.32" x2="55.5" y2="337.32" stroke="#222" stroke-width="0.75"/>
<line x1="53.5" y1="336.22" x2="55.5" y2="336.22" stroke="#222" stroke-width="0.75"/>
<line x1="53.5" y1="335.28" x2="55.5" y2="335.28" stroke="#222" stroke-width="0.75"/>
<line x1="53.5" y1="334.45" x2="55.5" y2="334.45" stroke="#222" stroke-width="0.75"/>
<line x1="52.5" y1="333.7" x2="55.5" y2="333.7" stroke="#222" stroke-width="0.75"/>
<line x1="53.5" y1="384.5" x2="55.5" y2="384.5" stroke="#222" stroke-width="0.75"/>
<line x1="53.5" y1="387.1" x2="55.5" y2="387.1" stroke="#222" stroke-width="0.75"/>
<line x1="53.5" y1="389.7" x2="55.5" y2="389.7" stroke="#222" stroke-width="0.75"/>
<line x1="53.5" y1="392.3" x2="55.5" y2="392.3" stroke="#222" stroke-width="0.75"/>
<line x1="53.5" y1="394.9" x2="55.5" y2="394.9" stroke="#222" stroke-width="0.75"/>
<line x1="52.5" y1="392.5" x2="55.5" y2="392.5" stroke="#222" stroke-width="0.75"/>
<line x1="72" y1="399.4" x2="72" y2="402.4" stroke="#222" stroke-width="0.75"/>
<line x1="76.88" y1="399.4" x2="76.88" y2="401.4" stroke="#222" stroke-width="0.75"/>
<line x1="79.73" y1="399.4" x2="79.73" y2="401.4" stroke="#222" stroke-width="0.75"/>
<line x1="81.75" y1="399.4" x2="81.75" y2="401.4" stroke="#222" stroke-width="0.75"/>
<line x1="83.32" y1="399.4" x2="83.32" y2="401.4" stroke="#222" stroke-width="0.75"/>
<line x1="84.61" y1="399.4" x2="84.61" y2="401.4" stroke="#222" stroke-width="0.75"/>
<line x1="85.69" y1="399.4" x2="85.69" y2="401.4" stroke="#222" stroke-width="0.75"/>
<line x1="86.63" y1="399.4" x2="86.63" y2="401.4" stroke="#222" stroke-width="0.75"/>
<line x1="87.46" y1="399.4" x2="87.46" y2="401.4" stroke="#222" stroke-width="0.75"/>
<line x1="88.2" y1="399.4" x2="88.2" y2="402.4" stroke="#222" stroke-width="0.75"/>
<line x1="93.26" y1="399.4" x2="93.26" y2="401.4" stroke="#222" stroke-width="0.75"/>
<line x1="96.22" y1="399.4" x2="96.22" y2="401.4" stroke="#222" stroke-width="0.75"/>
<line x1="98.31" y1="399.4" x2="98.31" y2="401.4" stroke="#222" stroke-width="0.75"/>
<line x1="99.94" y1="399.4" x2="99.94" y2="401.4" stroke="#222" stroke-width="0.75"/>
<line x1="101.27" y1="399.4" x2="101.27" y2="401.4" stroke="#222" stroke-width="0.75"/>
<line x1="102.4" y1="399.4" x2="102.4" y2="401.4" stroke="#222" stroke-width="0.75"/>
<line x1="103.37" y1="399.4" x2="103.37" y2="401.4" stroke="#222" stroke-width="0.75"/>
<line x1="104.23" y1="399.4" x2="104.23" y2="401.4" stroke="#222" stroke-width="0.75"/>
<line x1="105" y1="399.4" x2="105" y2="402.4" stroke="#222" stroke-width="0.75"/>
<line x1="109.97" y1="399.4" x2="109.97" y2="401.4" stroke="#222" stroke-width="0.75"/>
<line x1="112.87" y1="399.4" x2="112.87" y2="401.4" stroke="#222" stroke-width="0.75"/>
<line x1="114.93" y1="399.4" x2="114.93" y2="401.4" stroke="#222" stroke-width="0.75"/>
<line x1="116.53" y1="399.4" x2="116.53" y2="401.4" stroke="#222" stroke-width="0.75"/>
<line x1="117.84" y1="399.4" x2="117.84" y2="401.4" stroke="#222" stroke-width="0.75"/>
<line x1="118.94" y1="399.4" x2="118.94" y2="401.4" stroke="#222" stroke-width="0.75"/>
<line x1="119.9" y1="399.4" x2="119.9" y2="401.4" stroke="#222" stroke-width="0.75"/>
<line x1="120.75" y1="399.4" x2="120.75" y2="401.4" stroke="#222" stroke-width="0.75"/>
<line x1="121.5" y1="399.4" x2="121.5" y2="402.4" stroke="#222" stroke-width="0.75"/>
<line x1="61.5" y1="399.4" x2="61.5" y2="401.4" stroke="#222" stroke-width="0.75"/>
<line x1="63.7" y1="399.4" x2="63.7" y2="401.4" stroke="#222" stroke-width="0.75"/>
<line x1="65.9" y1="399.4" x2="65.9" y2="401.4" stroke="#222" stroke-width="0.75"/>
<line x1="68.1" y1="399.4" x2="68.1" y2="401.4" stroke="#222" stroke-width="0.75"/>
<line x1="70.3" y1="399.4" x2="70.3" y2="401.4" stroke="#222" stroke-width="0.75"/>
<text x="63.2" y="412.6" font-size="6.2" text-anchor="middle" fill="#333">0</text>
<text x="66.82" y="412.6" font-size="6.2" fill="#333">10</text>
<text x="73.81" y="410" font-size="3.72" fill="#333">2</text>
<text x="82.72" y="412.6" font-size="6.2" fill="#333">10</text>
<text x="89.71" y="410" font-size="3.72" fill="#333">3</text>
<text x="99.62" y="412.6" font-size="6.2" fill="#333">10</text>
<text x="106.61" y="410" font-size="3.72" fill="#333">4</text>
<text x="116.02" y="412.6" font-size="6.2" fill="#333">10</text>
<text x="123.01" y="410" font-size="3.72" fill="#333">5</text>
<text x="41.04" y="336.9" font-size="6.2" fill="#333">10</text>
<text x="48.03" y="334.3" font-size="3.72" fill="#333">5</text>
<text x="41.04" y="353.2" font-size="6.2" fill="#333">10</text>
<text x="48.03" y="350.6" font-size="3.72" fill="#333">4</text>
<text x="41.04" y="370.2" font-size="6.2" fill="#333">10</text>
<text x="48.03" y="367.6" font-size="3.72" fill="#333">3</text>
<text x="41.04" y="387.7" font-size="6.2" fill="#333">10</text>
<text x="48.03" y="385.1" font-size="3.72" fill="#333">2</text>
<text x="50.6" y="395.7" font-size="6.2" text-anchor="end" fill="#333">0</text>
<line x1="36.3" y1="369" x2="36.3" y2="417" stroke="#8a8a8a" stroke-width="1.4"/>
<path d="M36.3 365.2 L33.5 370.8 L36.3 369.8 L39.1 370.8 Z" fill="#111"/>
<line x1="35.6" y1="416.3" x2="87" y2="416.3" stroke="#8a8a8a" stroke-width="1.4"/>
<path d="M90 416.3 L84.4 413.5 L85.4 416.3 L84.4 419.1 Z" fill="#111"/>
<text x="31.5" y="390.6" font-size="10.2" text-anchor="middle" fill="#111" stroke="#111" stroke-width="0.1" textLength="21" lengthAdjust="spacingAndGlyphs" transform="rotate(-90 31.5 390.6)">CD38</text>
<text x="63.5" y="427.6" font-size="10.2" text-anchor="middle" fill="#111" stroke="#111" stroke-width="0.1" textLength="21.5" lengthAdjust="spacingAndGlyphs">CD34</text>
<line x1="137" y1="352.2" x2="196" y2="352.2" stroke="#222" stroke-width="1"/>
<path d="M199.6 352.2 L193.6 349.7 L194.4 352.2 L193.6 354.7 Z" fill="#111"/>
<text x="166.1" y="347.4" font-size="8.2" text-anchor="middle" stroke="#222" stroke-width="0.16" textLength="46.7" lengthAdjust="spacingAndGlyphs">CD34+CD38+</text>
<line x1="137" y1="391.3" x2="196" y2="391.3" stroke="#222" stroke-width="1"/>
<path d="M199.6 391.3 L193.6 388.8 L194.4 391.3 L193.6 393.8 Z" fill="#111"/>
<text x="166.1" y="386.5" font-size="8.2" text-anchor="middle" stroke="#222" stroke-width="0.16" textLength="44.9" lengthAdjust="spacingAndGlyphs">CD34+CD38-</text>
<line x1="218.4" y1="326" x2="218.4" y2="406.6" stroke="#555" stroke-width="1.1"/>
<path d="M218.4 322.2 L215.8 327.8 L218.4 326.8 L221 327.8 Z" fill="#111"/>
<line x1="217.9" y1="406.1" x2="281" y2="406.1" stroke="#555" stroke-width="1.1"/>
<path d="M285 406.1 L279.4 403.5 L280.4 406.1 L279.4 408.7 Z" fill="#111"/>
<rect x="221.7" y="335.5" width="55" height="55.2" fill="none" stroke="#222" stroke-width="1"/>
<path d="M221.9 336.7 L222.1 378 L223 377 L224.1 374.7 L225.3 374.1 L226.4 375.3 L227.5 371.3 L228.6 368.5 L229.7 369.7 L230.8 368 L232 369.1 L233.1 366.3 L234.2 362.4 L235.3 357.9 L236.4 353.5 L237.2 354.6 L238.1 352.3 L238.7 349.6 L239.2 350.7 L239.8 355.7 L240.9 356.8 L241.8 356.3 L242.6 359 L243.1 364.6 L244.3 366.3 L245.4 368 L247 375.8 L249.3 383.6 L251 388.7 L253.2 390.3 L276.5 390.3" fill="none" stroke="#b03a4e" stroke-width="0.9" stroke-linejoin="round"/>
<path d="M221.7 360.3 H243.1 V357.4 H276.7" fill="none" stroke="#222" stroke-width="1.0"/>
<line x1="233" y1="390.7" x2="233" y2="392.7" stroke="#222" stroke-width="0.55"/>
<line x1="237.06" y1="390.7" x2="237.06" y2="392" stroke="#222" stroke-width="0.55"/>
<line x1="239.44" y1="390.7" x2="239.44" y2="392" stroke="#222" stroke-width="0.55"/>
<line x1="241.13" y1="390.7" x2="241.13" y2="392" stroke="#222" stroke-width="0.55"/>
<line x1="242.44" y1="390.7" x2="242.44" y2="392" stroke="#222" stroke-width="0.55"/>
<line x1="243.51" y1="390.7" x2="243.51" y2="392" stroke="#222" stroke-width="0.55"/>
<line x1="244.41" y1="390.7" x2="244.41" y2="392" stroke="#222" stroke-width="0.55"/>
<line x1="245.19" y1="390.7" x2="245.19" y2="392" stroke="#222" stroke-width="0.55"/>
<line x1="245.88" y1="390.7" x2="245.88" y2="392" stroke="#222" stroke-width="0.55"/>
<line x1="246.5" y1="390.7" x2="246.5" y2="392.7" stroke="#222" stroke-width="0.55"/>
<line x1="250.62" y1="390.7" x2="250.62" y2="392" stroke="#222" stroke-width="0.55"/>
<line x1="253.04" y1="390.7" x2="253.04" y2="392" stroke="#222" stroke-width="0.55"/>
<line x1="254.75" y1="390.7" x2="254.75" y2="392" stroke="#222" stroke-width="0.55"/>
<line x1="256.08" y1="390.7" x2="256.08" y2="392" stroke="#222" stroke-width="0.55"/>
<line x1="257.16" y1="390.7" x2="257.16" y2="392" stroke="#222" stroke-width="0.55"/>
<line x1="258.08" y1="390.7" x2="258.08" y2="392" stroke="#222" stroke-width="0.55"/>
<line x1="258.87" y1="390.7" x2="258.87" y2="392" stroke="#222" stroke-width="0.55"/>
<line x1="259.57" y1="390.7" x2="259.57" y2="392" stroke="#222" stroke-width="0.55"/>
<line x1="260.2" y1="390.7" x2="260.2" y2="392.7" stroke="#222" stroke-width="0.55"/>
<line x1="264.26" y1="390.7" x2="264.26" y2="392" stroke="#222" stroke-width="0.55"/>
<line x1="266.64" y1="390.7" x2="266.64" y2="392" stroke="#222" stroke-width="0.55"/>
<line x1="268.33" y1="390.7" x2="268.33" y2="392" stroke="#222" stroke-width="0.55"/>
<line x1="269.64" y1="390.7" x2="269.64" y2="392" stroke="#222" stroke-width="0.55"/>
<line x1="270.71" y1="390.7" x2="270.71" y2="392" stroke="#222" stroke-width="0.55"/>
<line x1="271.61" y1="390.7" x2="271.61" y2="392" stroke="#222" stroke-width="0.55"/>
<line x1="272.39" y1="390.7" x2="272.39" y2="392" stroke="#222" stroke-width="0.55"/>
<line x1="273.08" y1="390.7" x2="273.08" y2="392" stroke="#222" stroke-width="0.55"/>
<line x1="222.5" y1="390.7" x2="222.5" y2="392" stroke="#222" stroke-width="0.55"/>
<line x1="224.3" y1="390.7" x2="224.3" y2="392" stroke="#222" stroke-width="0.55"/>
<line x1="226.1" y1="390.7" x2="226.1" y2="392" stroke="#222" stroke-width="0.55"/>
<line x1="227.9" y1="390.7" x2="227.9" y2="392" stroke="#222" stroke-width="0.55"/>
<line x1="229.7" y1="390.7" x2="229.7" y2="392" stroke="#222" stroke-width="0.55"/>
<line x1="231.5" y1="390.7" x2="231.5" y2="392" stroke="#222" stroke-width="0.55"/>
<text x="226.4" y="402.2" font-size="5.6" text-anchor="middle" fill="#333" stroke="#333" stroke-width="0.16">0</text>
<text x="229.15" y="402.2" font-size="5.6" fill="#333">10</text>
<text x="235.48" y="399.85" font-size="3.36" fill="#333">2</text>
<text x="242.25" y="402.2" font-size="5.6" fill="#333">10</text>
<text x="248.58" y="399.85" font-size="3.36" fill="#333">3</text>
<text x="255.75" y="402.2" font-size="5.6" fill="#333">10</text>
<text x="262.08" y="399.85" font-size="3.36" fill="#333">4</text>
<text x="268.95" y="402.2" font-size="5.6" fill="#333">10</text>
<text x="275.28" y="399.85" font-size="3.36" fill="#333">5</text>
<text x="212.8" y="366.3" font-size="9.8" text-anchor="middle" fill="#111" stroke="#111" stroke-width="0.1" textLength="25" lengthAdjust="spacingAndGlyphs" transform="rotate(-90 212.8 366.3)">Count</text>
<text x="248.8" y="417.6" font-size="9.4" text-anchor="middle" fill="#111" stroke="#111" stroke-width="0.16" textLength="17.5" lengthAdjust="spacingAndGlyphs">c-kit</text>
<text x="350" y="352.6" font-size="7.6" text-anchor="middle" fill="#1a1a1a" stroke="#1a1a1a" stroke-width="0.1">1</text>
<text x="370.3" y="352.6" font-size="7.6" text-anchor="middle" fill="#1a1a1a" stroke="#1a1a1a" stroke-width="0.1">2</text>
<text x="390.5" y="352.6" font-size="7.6" text-anchor="middle" fill="#1a1a1a" stroke="#1a1a1a" stroke-width="0.1">3</text>
<text x="410.8" y="352.6" font-size="7.6" text-anchor="middle" fill="#1a1a1a" stroke="#1a1a1a" stroke-width="0.1">4</text>
<text x="431" y="352.6" font-size="7.6" text-anchor="middle" fill="#1a1a1a" stroke="#1a1a1a" stroke-width="0.1">5</text>
<text x="451.2" y="352.6" font-size="7.6" text-anchor="middle" fill="#1a1a1a" stroke="#1a1a1a" stroke-width="0.1">6</text>
<line x1="290" y1="357.6" x2="464.3" y2="357.6" stroke="#333" stroke-width="1"/>
<text x="314.9" y="368.2" font-size="7.6" text-anchor="middle" fill="#1a1a1a" stroke="#1a1a1a" stroke-width="0.12" textLength="18.4" lengthAdjust="spacingAndGlyphs">MSCs</text>
<text x="350" y="368.2" font-size="7.6" text-anchor="middle" stroke="#222" stroke-width="0.15" textLength="2" lengthAdjust="spacingAndGlyphs">-</text>
<text x="370.3" y="368.2" font-size="7.6" text-anchor="middle" stroke="#222" stroke-width="0.15" textLength="4.3" lengthAdjust="spacingAndGlyphs">+</text>
<text x="390.5" y="368.2" font-size="7.6" text-anchor="middle" stroke="#222" stroke-width="0.15" textLength="2" lengthAdjust="spacingAndGlyphs">-</text>
<text x="410.8" y="368.2" font-size="7.6" text-anchor="middle" stroke="#222" stroke-width="0.15" textLength="4.3" lengthAdjust="spacingAndGlyphs">+</text>
<text x="431" y="368.2" font-size="7.6" text-anchor="middle" stroke="#222" stroke-width="0.15" textLength="2" lengthAdjust="spacingAndGlyphs">-</text>
<text x="451.2" y="368.2" font-size="7.6" text-anchor="middle" stroke="#222" stroke-width="0.15" textLength="4.3" lengthAdjust="spacingAndGlyphs">+</text>
<text x="314.9" y="378" font-size="7.6" text-anchor="middle" fill="#1a1a1a" stroke="#1a1a1a" stroke-width="0.12" textLength="19.3" lengthAdjust="spacingAndGlyphs">DWJM</text>
<text x="350" y="378" font-size="7.6" text-anchor="middle" stroke="#222" stroke-width="0.15" textLength="2" lengthAdjust="spacingAndGlyphs">-</text>
<text x="370.3" y="378" font-size="7.6" text-anchor="middle" stroke="#222" stroke-width="0.15" textLength="2" lengthAdjust="spacingAndGlyphs">-</text>
<text x="390.5" y="378" font-size="7.6" text-anchor="middle" stroke="#222" stroke-width="0.15" textLength="4.3" lengthAdjust="spacingAndGlyphs">+</text>
<text x="410.8" y="378" font-size="7.6" text-anchor="middle" stroke="#222" stroke-width="0.15" textLength="4.3" lengthAdjust="spacingAndGlyphs">+</text>
<text x="431" y="378" font-size="7.6" text-anchor="middle" stroke="#222" stroke-width="0.15" textLength="4.3" lengthAdjust="spacingAndGlyphs">+</text>
<text x="451.2" y="378" font-size="7.6" text-anchor="middle" stroke="#222" stroke-width="0.15" textLength="4.3" lengthAdjust="spacingAndGlyphs">+</text>
<text x="314.9" y="388" font-size="7.6" text-anchor="middle" fill="#1a1a1a" stroke="#1a1a1a" stroke-width="0.12" textLength="38.5" lengthAdjust="spacingAndGlyphs">MSC/DWJM</text>
<text x="350" y="388" font-size="7.6" text-anchor="middle" stroke="#222" stroke-width="0.15" textLength="6.6" lengthAdjust="spacingAndGlyphs">-/-</text>
<text x="370.3" y="388" font-size="7.6" text-anchor="middle" stroke="#222" stroke-width="0.15" textLength="7.8" lengthAdjust="spacingAndGlyphs">+/-</text>
<text x="390.5" y="388" font-size="7.6" text-anchor="middle" stroke="#222" stroke-width="0.15" textLength="6.6" lengthAdjust="spacingAndGlyphs">-/-</text>
<text x="410.8" y="388" font-size="7.6" text-anchor="middle" stroke="#222" stroke-width="0.15" textLength="6.6" lengthAdjust="spacingAndGlyphs">-/-</text>
<text x="431" y="388" font-size="7.6" text-anchor="middle" stroke="#222" stroke-width="0.15" textLength="7.8" lengthAdjust="spacingAndGlyphs">-/+</text>
<text x="451.2" y="388" font-size="7.6" text-anchor="middle" stroke="#222" stroke-width="0.15" textLength="9.4" lengthAdjust="spacingAndGlyphs">+/+</text>
<text x="22.3" y="446.2" font-size="7" fill="#333" stroke="#333" stroke-width="0.16">(ii)</text>
<rect x="59.2" y="530.81" width="13.6" height="27.59" fill="#a6354a" stroke="#8e2439" stroke-width="0.8"/>
<line x1="66" y1="530.41" x2="66" y2="521.64" stroke="#222" stroke-width="0.9"/>
<line x1="62.3" y1="521.64" x2="69.7" y2="521.64" stroke="#222" stroke-width="1"/>
<rect x="80.8" y="543.05" width="13.6" height="15.35" fill="#4e6488" stroke="#3d5276" stroke-width="0.8"/>
<line x1="87.6" y1="542.65" x2="87.6" y2="538.44" stroke="#222" stroke-width="0.9"/>
<line x1="83.9" y1="538.44" x2="91.3" y2="538.44" stroke="#222" stroke-width="1"/>
<rect x="102.5" y="540.31" width="13.6" height="18.09" fill="#79a957" stroke="#65964a" stroke-width="0.8"/>
<line x1="109.3" y1="539.91" x2="109.3" y2="530.41" stroke="#222" stroke-width="0.9"/>
<line x1="105.6" y1="530.41" x2="113" y2="530.41" stroke="#222" stroke-width="1"/>
<rect x="124.2" y="543.05" width="13.6" height="15.35" fill="#6c476e" stroke="#58365a" stroke-width="0.8"/>
<line x1="131" y1="542.65" x2="131" y2="537.13" stroke="#222" stroke-width="0.9"/>
<line x1="127.3" y1="537.13" x2="134.7" y2="537.13" stroke="#222" stroke-width="1"/>
<rect x="145.7" y="527.03" width="13.6" height="31.37" fill="#d9953f" stroke="#c4822f" stroke-width="0.8"/>
<line x1="152.5" y1="526.63" x2="152.5" y2="514.13" stroke="#222" stroke-width="0.9"/>
<line x1="148.8" y1="514.13" x2="156.2" y2="514.13" stroke="#222" stroke-width="1"/>
<rect x="167.3" y="508.89" width="13.6" height="49.51" fill="#4a7662" stroke="#3a6452" stroke-width="0.8"/>
<line x1="174.1" y1="508.49" x2="174.1" y2="499.81" stroke="#222" stroke-width="0.9"/>
<line x1="170.4" y1="499.81" x2="177.8" y2="499.81" stroke="#222" stroke-width="1"/>
<line x1="55.3" y1="468.8" x2="55.3" y2="558.9" stroke="#222" stroke-width="1.1"/>
<line x1="54.8" y1="558.4" x2="185" y2="558.4" stroke="#222" stroke-width="1.1"/>
<line x1="52.1" y1="558.4" x2="55.3" y2="558.4" stroke="#222" stroke-width="0.9"/>
<text x="49.2" y="561.28" font-size="8" text-anchor="end" stroke="#222" stroke-width="0.16">0</text>
<line x1="52.1" y1="536.7" x2="55.3" y2="536.7" stroke="#222" stroke-width="0.9"/>
<text x="49.2" y="539.58" font-size="8" text-anchor="end" stroke="#222" stroke-width="0.16">5</text>
<line x1="52.1" y1="515" x2="55.3" y2="515" stroke="#222" stroke-width="0.9"/>
<text x="49.2" y="517.88" font-size="8" text-anchor="end" stroke="#222" stroke-width="0.16">10</text>
<line x1="52.1" y1="493.3" x2="55.3" y2="493.3" stroke="#222" stroke-width="0.9"/>
<text x="49.2" y="496.18" font-size="8" text-anchor="end" stroke="#222" stroke-width="0.16">15</text>
<line x1="52.1" y1="471.6" x2="55.3" y2="471.6" stroke="#222" stroke-width="0.9"/>
<text x="49.2" y="474.48" font-size="8" text-anchor="end" stroke="#222" stroke-width="0.16">20</text>
<line x1="66" y1="558.4" x2="66" y2="560.6" stroke="#222" stroke-width="0.9"/>
<text x="66" y="571.6" font-size="7.8" text-anchor="middle" stroke="#222" stroke-width="0.16">1</text>
<line x1="87.6" y1="558.4" x2="87.6" y2="560.6" stroke="#222" stroke-width="0.9"/>
<text x="87.6" y="571.6" font-size="7.8" text-anchor="middle" stroke="#222" stroke-width="0.16">2</text>
<line x1="109.3" y1="558.4" x2="109.3" y2="560.6" stroke="#222" stroke-width="0.9"/>
<text x="109.3" y="571.6" font-size="7.8" text-anchor="middle" stroke="#222" stroke-width="0.16">3</text>
<line x1="131" y1="558.4" x2="131" y2="560.6" stroke="#222" stroke-width="0.9"/>
<text x="131" y="571.6" font-size="7.8" text-anchor="middle" stroke="#222" stroke-width="0.16">4</text>
<line x1="152.5" y1="558.4" x2="152.5" y2="560.6" stroke="#222" stroke-width="0.9"/>
<text x="152.5" y="571.6" font-size="7.8" text-anchor="middle" stroke="#222" stroke-width="0.16">5</text>
<line x1="174.1" y1="558.4" x2="174.1" y2="560.6" stroke="#222" stroke-width="0.9"/>
<text x="174.1" y="571.6" font-size="7.8" text-anchor="middle" stroke="#222" stroke-width="0.16">6</text>
<text x="34.4" y="513.5" font-size="10" text-anchor="middle" fill="#111" stroke="#111" stroke-width="0.1" textLength="77.5" lengthAdjust="spacingAndGlyphs" transform="rotate(-90 34.4 513.5)">% of c-kit in CD34+</text>
<line x1="62.5" y1="457.5" x2="171.1" y2="457.5" stroke="#505050" stroke-width="1.15"/>
<circle cx="116.6" cy="453.8" r="1.15" fill="#333"/>
<line x1="87" y1="473.5" x2="172.3" y2="473.5" stroke="#505050" stroke-width="1.15"/>
<circle cx="128.2" cy="469.7" r="1.15" fill="#333"/>
<circle cx="130.8" cy="469.7" r="1.15" fill="#333"/>
<line x1="108" y1="487.5" x2="151.8" y2="487.5" stroke="#505050" stroke-width="1.15"/>
<circle cx="129.7" cy="483.8" r="1.15" fill="#333"/>
<line x1="153.1" y1="484.5" x2="174.9" y2="484.5" stroke="#505050" stroke-width="1.15"/>
<circle cx="163.8" cy="481.1" r="1.15" fill="#333"/>
<line x1="132.3" y1="496.5" x2="173.5" y2="496.5" stroke="#505050" stroke-width="1.15"/>
<circle cx="151.5" cy="493.1" r="1.15" fill="#333"/>
<circle cx="154.1" cy="493.1" r="1.15" fill="#333"/>
<text x="194.5" y="446.2" font-size="7" fill="#333" stroke="#333" stroke-width="0.16">(iii)</text>
<rect x="228.3" y="541.16" width="13.2" height="17.24" fill="#a6354a" stroke="#8e2439" stroke-width="0.8"/>
<line x1="234.9" y1="540.76" x2="234.9" y2="538.42" stroke="#222" stroke-width="0.9"/>
<line x1="231.2" y1="538.42" x2="238.6" y2="538.42" stroke="#222" stroke-width="1"/>
<rect x="249.4" y="546.56" width="13.2" height="11.84" fill="#4e6488" stroke="#3d5276" stroke-width="0.8"/>
<line x1="256" y1="546.16" x2="256" y2="543.1" stroke="#222" stroke-width="0.9"/>
<line x1="252.3" y1="543.1" x2="259.7" y2="543.1" stroke="#222" stroke-width="1"/>
<rect x="270.7" y="544.6" width="13.2" height="13.8" fill="#79a957" stroke="#65964a" stroke-width="0.8"/>
<line x1="277.3" y1="544.2" x2="277.3" y2="537.15" stroke="#222" stroke-width="0.9"/>
<line x1="273.6" y1="537.15" x2="281" y2="537.15" stroke="#222" stroke-width="1"/>
<rect x="291.8" y="546.56" width="13.2" height="11.84" fill="#6c476e" stroke="#58365a" stroke-width="0.8"/>
<line x1="298.4" y1="546.16" x2="298.4" y2="541.82" stroke="#222" stroke-width="0.9"/>
<line x1="294.7" y1="541.82" x2="302.1" y2="541.82" stroke="#222" stroke-width="1"/>
<rect x="313" y="525.01" width="13.2" height="33.39" fill="#d9953f" stroke="#c4822f" stroke-width="0.8"/>
<line x1="319.6" y1="524.61" x2="319.6" y2="516.32" stroke="#222" stroke-width="0.9"/>
<line x1="315.9" y1="516.32" x2="323.3" y2="516.32" stroke="#222" stroke-width="1"/>
<rect x="334.3" y="502.91" width="13.2" height="55.49" fill="#4a7662" stroke="#3a6452" stroke-width="0.8"/>
<line x1="340.9" y1="502.51" x2="340.9" y2="496.77" stroke="#222" stroke-width="0.9"/>
<line x1="337.2" y1="496.77" x2="344.6" y2="496.77" stroke="#222" stroke-width="1"/>
<line x1="223.8" y1="471" x2="223.8" y2="558.9" stroke="#222" stroke-width="1.1"/>
<line x1="223.3" y1="558.4" x2="352" y2="558.4" stroke="#222" stroke-width="1.1"/>
<line x1="220.6" y1="558.4" x2="223.8" y2="558.4" stroke="#222" stroke-width="0.9"/>
<text x="217.8" y="561.28" font-size="8" text-anchor="end" stroke="#222" stroke-width="0.16">0</text>
<line x1="220.6" y1="537.15" x2="223.8" y2="537.15" stroke="#222" stroke-width="0.9"/>
<text x="217.8" y="540.03" font-size="8" text-anchor="end" stroke="#222" stroke-width="0.16">5</text>
<line x1="220.6" y1="515.9" x2="223.8" y2="515.9" stroke="#222" stroke-width="0.9"/>
<text x="217.8" y="518.78" font-size="8" text-anchor="end" stroke="#222" stroke-width="0.16">10</text>
<line x1="220.6" y1="494.65" x2="223.8" y2="494.65" stroke="#222" stroke-width="0.9"/>
<text x="217.8" y="497.53" font-size="8" text-anchor="end" stroke="#222" stroke-width="0.16">15</text>
<line x1="220.6" y1="473.4" x2="223.8" y2="473.4" stroke="#222" stroke-width="0.9"/>
<text x="217.8" y="476.28" font-size="8" text-anchor="end" stroke="#222" stroke-width="0.16">20</text>
<line x1="234.9" y1="558.4" x2="234.9" y2="560.6" stroke="#222" stroke-width="0.9"/>
<text x="234.9" y="571.6" font-size="7.8" text-anchor="middle" stroke="#222" stroke-width="0.16">1</text>
<line x1="256" y1="558.4" x2="256" y2="560.6" stroke="#222" stroke-width="0.9"/>
<text x="256" y="571.6" font-size="7.8" text-anchor="middle" stroke="#222" stroke-width="0.16">2</text>
<line x1="277.3" y1="558.4" x2="277.3" y2="560.6" stroke="#222" stroke-width="0.9"/>
<text x="277.3" y="571.6" font-size="7.8" text-anchor="middle" stroke="#222" stroke-width="0.16">3</text>
<line x1="298.4" y1="558.4" x2="298.4" y2="560.6" stroke="#222" stroke-width="0.9"/>
<text x="298.4" y="571.6" font-size="7.8" text-anchor="middle" stroke="#222" stroke-width="0.16">4</text>
<line x1="319.6" y1="558.4" x2="319.6" y2="560.6" stroke="#222" stroke-width="0.9"/>
<text x="319.6" y="571.6" font-size="7.8" text-anchor="middle" stroke="#222" stroke-width="0.16">5</text>
<line x1="340.9" y1="558.4" x2="340.9" y2="560.6" stroke="#222" stroke-width="0.9"/>
<text x="340.9" y="571.6" font-size="7.8" text-anchor="middle" stroke="#222" stroke-width="0.16">6</text>
<text x="203" y="514.7" font-size="10" text-anchor="middle" fill="#111" stroke="#111" stroke-width="0.1" textLength="102.5" lengthAdjust="spacingAndGlyphs" transform="rotate(-90 203 514.7)">% of c-kit in CD34+CD38-</text>
<line x1="232" y1="476.5" x2="340.5" y2="476.5" stroke="#505050" stroke-width="1.15"/>
<circle cx="286.3" cy="472.8" r="1.15" fill="#333"/>
<line x1="234.3" y1="487.5" x2="318.8" y2="487.5" stroke="#505050" stroke-width="1.15"/>
<circle cx="275" cy="484" r="1.15" fill="#333"/>
<circle cx="277.6" cy="484" r="1.15" fill="#333"/>
<line x1="320.5" y1="491.5" x2="340" y2="491.5" stroke="#505050" stroke-width="1.15"/>
<circle cx="328.7" cy="487.8" r="1.15" fill="#333"/>
<circle cx="331.3" cy="487.8" r="1.15" fill="#333"/>
<text x="361.3" y="446.2" font-size="7" fill="#333" stroke="#333" stroke-width="0.16">(iv)</text>
<rect x="394.6" y="529.32" width="12.6" height="29.08" fill="#a6354a" stroke="#8e2439" stroke-width="0.8"/>
<line x1="400.9" y1="528.92" x2="400.9" y2="521.39" stroke="#222" stroke-width="0.9"/>
<line x1="397.2" y1="521.39" x2="404.6" y2="521.39" stroke="#222" stroke-width="1"/>
<rect x="414.9" y="538.31" width="12.6" height="20.09" fill="#4e6488" stroke="#3d5276" stroke-width="0.8"/>
<line x1="421.2" y1="537.91" x2="421.2" y2="530.39" stroke="#222" stroke-width="0.9"/>
<line x1="417.5" y1="530.39" x2="424.9" y2="530.39" stroke="#222" stroke-width="1"/>
<rect x="435.2" y="531.28" width="12.6" height="27.12" fill="#79a957" stroke="#65964a" stroke-width="0.8"/>
<line x1="441.5" y1="530.88" x2="441.5" y2="516.43" stroke="#222" stroke-width="0.9"/>
<line x1="437.8" y1="516.43" x2="445.2" y2="516.43" stroke="#222" stroke-width="1"/>
<rect x="455.7" y="538.31" width="12.6" height="20.09" fill="#6c476e" stroke="#58365a" stroke-width="0.8"/>
<line x1="462" y1="537.91" x2="462" y2="531.42" stroke="#222" stroke-width="0.9"/>
<line x1="458.3" y1="531.42" x2="465.7" y2="531.42" stroke="#222" stroke-width="1"/>
<rect x="476" y="502.07" width="12.6" height="56.33" fill="#d9953f" stroke="#c4822f" stroke-width="0.8"/>
<line x1="482.3" y1="501.67" x2="482.3" y2="481.55" stroke="#222" stroke-width="0.9"/>
<line x1="478.6" y1="481.55" x2="486" y2="481.55" stroke="#222" stroke-width="1"/>
<rect x="496.1" y="509.53" width="12.6" height="48.87" fill="#4a7662" stroke="#3a6452" stroke-width="0.8"/>
<line x1="502.4" y1="509.13" x2="502.4" y2="493.54" stroke="#222" stroke-width="0.9"/>
<line x1="498.7" y1="493.54" x2="506.1" y2="493.54" stroke="#222" stroke-width="1"/>
<line x1="391.3" y1="474.8" x2="391.3" y2="558.9" stroke="#222" stroke-width="1.1"/>
<line x1="390.8" y1="558.4" x2="512.5" y2="558.4" stroke="#222" stroke-width="1.1"/>
<line x1="388.1" y1="558.4" x2="391.3" y2="558.4" stroke="#222" stroke-width="0.9"/>
<text x="385.2" y="561.28" font-size="8" text-anchor="end" stroke="#222" stroke-width="0.16">0</text>
<line x1="388.1" y1="531.15" x2="391.3" y2="531.15" stroke="#222" stroke-width="0.9"/>
<text x="385.2" y="534.03" font-size="8" text-anchor="end" stroke="#222" stroke-width="0.16">5</text>
<line x1="388.1" y1="503.9" x2="391.3" y2="503.9" stroke="#222" stroke-width="0.9"/>
<text x="385.2" y="506.78" font-size="8" text-anchor="end" stroke="#222" stroke-width="0.16">10</text>
<line x1="388.1" y1="476.65" x2="391.3" y2="476.65" stroke="#222" stroke-width="0.9"/>
<text x="385.2" y="479.53" font-size="8" text-anchor="end" stroke="#222" stroke-width="0.16">15</text>
<line x1="400.9" y1="558.4" x2="400.9" y2="560.6" stroke="#222" stroke-width="0.9"/>
<text x="400.9" y="571.6" font-size="7.8" text-anchor="middle" stroke="#222" stroke-width="0.16">1</text>
<line x1="421.2" y1="558.4" x2="421.2" y2="560.6" stroke="#222" stroke-width="0.9"/>
<text x="421.2" y="571.6" font-size="7.8" text-anchor="middle" stroke="#222" stroke-width="0.16">2</text>
<line x1="441.5" y1="558.4" x2="441.5" y2="560.6" stroke="#222" stroke-width="0.9"/>
<text x="441.5" y="571.6" font-size="7.8" text-anchor="middle" stroke="#222" stroke-width="0.16">3</text>
<line x1="462" y1="558.4" x2="462" y2="560.6" stroke="#222" stroke-width="0.9"/>
<text x="462" y="571.6" font-size="7.8" text-anchor="middle" stroke="#222" stroke-width="0.16">4</text>
<line x1="482.3" y1="558.4" x2="482.3" y2="560.6" stroke="#222" stroke-width="0.9"/>
<text x="482.3" y="571.6" font-size="7.8" text-anchor="middle" stroke="#222" stroke-width="0.16">5</text>
<line x1="502.4" y1="558.4" x2="502.4" y2="560.6" stroke="#222" stroke-width="0.9"/>
<text x="502.4" y="571.6" font-size="7.8" text-anchor="middle" stroke="#222" stroke-width="0.16">6</text>
<text x="369.4" y="518.2" font-size="10" text-anchor="middle" fill="#111" stroke="#111" stroke-width="0.1" textLength="105.5" lengthAdjust="spacingAndGlyphs" transform="rotate(-90 369.4 518.2)">% of c-kit in CD34+CD38+</text>
<line x1="396.3" y1="482.5" x2="474.5" y2="482.5" stroke="#505050" stroke-width="1.15"/>
<circle cx="435" cy="478.5" r="1.15" fill="#333"/>
<line x1="441.3" y1="475.5" x2="481.3" y2="475.5" stroke="#505050" stroke-width="1.15"/>
<circle cx="461.3" cy="472.3" r="1.15" fill="#333"/>
<line x1="416.3" y1="468.5" x2="480" y2="468.5" stroke="#505050" stroke-width="1.15"/>
<circle cx="448" cy="464" r="1.15" fill="#333"/>
<line x1="456.3" y1="458.5" x2="482.5" y2="458.5" stroke="#505050" stroke-width="1.15"/>
<circle cx="468.2" cy="454.3" r="1.15" fill="#333"/>
<circle cx="470.8" cy="454.3" r="1.15" fill="#333"/>
<line x1="464.5" y1="446.5" x2="504.5" y2="446.5" stroke="#505050" stroke-width="1.15"/>
<circle cx="483.2" cy="442.3" r="1.15" fill="#333"/>
<circle cx="485.8" cy="442.3" r="1.15" fill="#333"/>
</g>
<rect x="0" y="0" width="520" height="1" fill="#141414"/>
<rect x="1" y="0" width="1" height="581" fill="#9a9a9a"/>
<rect x="0" y="0" width="1" height="581" fill="#4a4a4a"/>
<rect x="519" y="0" width="1" height="581" fill="#141414"/>
<rect x="0" y="579" width="520" height="1" fill="#9a9a9a"/>
<rect x="0" y="580" width="520" height="1" fill="#4a4a4a"/>
</svg>
</body></html>
